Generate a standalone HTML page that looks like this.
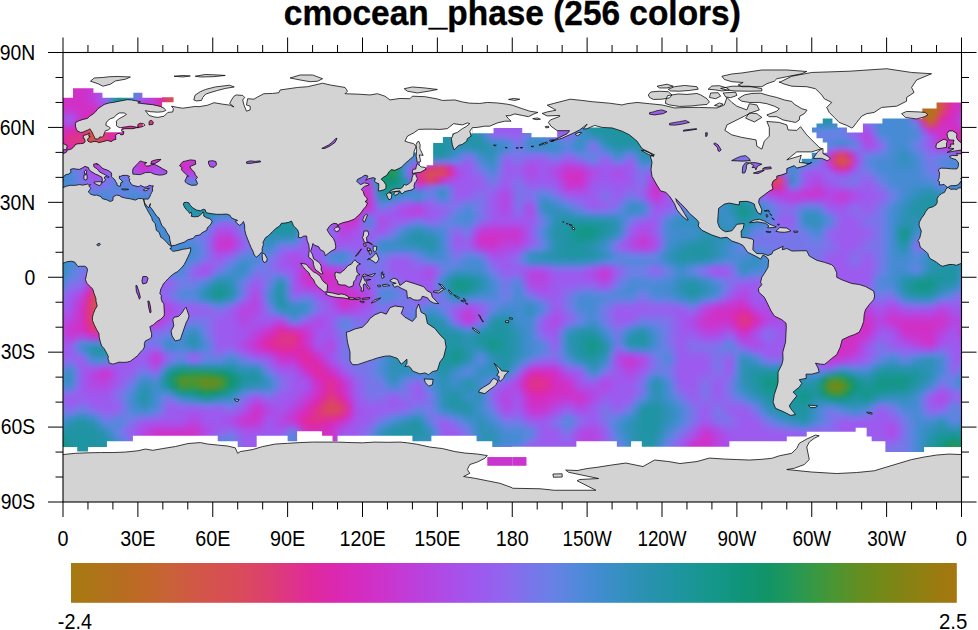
<!DOCTYPE html>
<html><head><meta charset="utf-8"><title>cmocean_phase</title>
<style>
html,body{margin:0;padding:0;background:#fff;width:978px;height:630px;overflow:hidden;position:relative}
#fc{position:absolute;left:63.0px;top:52.5px;width:898.5px;height:449.5px;overflow:hidden}
#fi{position:absolute;left:-24.96px;top:-12.49px;width:948.42px;height:474.47px;filter:blur(2.5px)}
#fi i{position:absolute;left:0;width:100%;height:6.84px;display:block}
svg{position:absolute;left:0;top:0;display:block}
text{font-family:"Liberation Sans",sans-serif;font-size:21.5px;fill:#000}
</style></head><body>
<div id="fc"><div id="fi"><i style="top:0px;background:linear-gradient(90deg,#c16829 0%,#d74f52 0.66%,#df318d 1.32%,#d030c6 1.97%,#d030c6 2.63%,#d030c6 3.29%,#d030c6 3.95%,#d030c6 4.61%,#d030c6 5.26%,#d030c6 5.92%,#cc34cb 6.58%,#c837d0 7.24%,#5e84e1 7.89%,#11957d 8.55%,#1c959b 9.21%,#2e91b6 9.87%,#6383e3 10.53%,#9c5aee 11.18%,#aa4fe9 11.84%,#b743df 12.5%,#de29a6 13.16%,#d74f52 13.82%,#d74f52 14.47%,#d74f52 15.13%,#d74f52 15.79%,#d74f52 16.45%,#d74f52 17.11%,#d74f52 17.76%,#d74f52 18.42%,#d74f52 19.08%,#d74f52 19.74%,#d74f52 20.39%,#de3683 21.05%,#d62bbb 21.71%,#bc40dc 22.37%,#9c5aee 23.03%,#9c5aee 23.68%,#9c5aee 24.34%,#9c5aee 25%,#9c5aee 25.66%,#9c5aee 26.32%,#9c5aee 26.97%,#9c5aee 27.63%,#9c5aee 28.29%,#9c5aee 28.95%,#9c5aee 29.61%,#9c5aee 30.26%,#9c5aee 30.92%,#9c5aee 31.58%,#9c5aee 32.24%,#9c5aee 32.89%,#9c5aee 33.55%,#7478e9 34.21%,#468bd3 34.87%,#2393a7 35.53%,#11957d 36.18%,#1c959b 36.84%,#2e91b6 37.5%,#2e91b6 38.16%,#2e91b6 38.82%,#2693ac 39.47%,#1f94a2 40.13%,#1f94a2 40.79%,#1f94a2 41.45%,#1f94a2 42.11%,#1f94a2 42.76%,#2693ac 43.42%,#2e91b6 44.08%,#2e91b6 44.74%,#2e91b6 45.39%,#2e91b6 46.05%,#2e91b6 46.71%,#6383e3 47.37%,#9c5aee 48.03%,#9c5aee 48.68%,#9c5aee 49.34%,#9c5aee 50%,#9c5aee 50.66%,#9c5aee 51.32%,#9b5bee 51.97%,#9b5bee 52.63%,#9b5bee 53.29%,#9c5aee 53.95%,#9c5aee 54.61%,#9c5aee 55.26%,#9c5aee 55.92%,#7a74ea 56.58%,#5388db 57.24%,#3390bf 57.89%,#1f94a2 58.55%,#1f94a2 59.21%,#1f94a2 59.87%,#1f94a2 60.53%,#1f94a2 61.18%,#5089da 61.84%,#995dee 62.5%,#9b5bee 63.16%,#9c5aee 63.82%,#9c5aee 64.47%,#9c5aee 65.13%,#9c5aee 65.79%,#9c5aee 66.45%,#9c5aee 67.11%,#9c5aee 67.76%,#9c5aee 68.42%,#9c5aee 69.08%,#9c5aee 69.74%,#9c5aee 70.39%,#9c5aee 71.05%,#9c5aee 71.71%,#9c5aee 72.37%,#9c5aee 73.03%,#8e67ee 73.68%,#7776e9 74.34%,#7776e9 75%,#7776e9 75.66%,#3f8dcd 76.32%,#1f94a2 76.97%,#1f94a2 77.63%,#1f94a2 78.29%,#1f94a2 78.95%,#1f94a2 79.61%,#1f94a2 80.26%,#1f94a2 80.92%,#1f94a2 81.58%,#1f94a2 82.24%,#1f94a2 82.89%,#1f94a2 83.55%,#2094a3 84.21%,#2094a4 84.87%,#408cce 85.53%,#7776e9 86.18%,#7776e9 86.84%,#7776e9 87.5%,#5f84e1 88.16%,#468bd3 88.82%,#468bd3 89.47%,#468bd3 90.13%,#468bd3 90.79%,#468bd3 91.45%,#db29b3 92.11%,#ab7715 92.76%,#a87812 93.42%,#a67a10 94.08%,#c16829 94.74%,#d74f52 95.39%,#df318d 96.05%,#d030c6 96.71%,#d030c6 97.37%,#d030c6 98.03%,#d030c6 98.68%,#d030c6 99.34%,#d030c6 100%)"></i><i style="top:6.24px;background:linear-gradient(90deg,#c16829 0%,#d74f52 0.66%,#df318d 1.32%,#d030c6 1.97%,#d030c6 2.63%,#d030c6 3.29%,#d030c6 3.95%,#d030c6 4.61%,#d030c6 5.26%,#d030c6 5.92%,#cc34cb 6.58%,#c837d0 7.24%,#5e84e1 7.89%,#11957d 8.55%,#1c959b 9.21%,#2e91b6 9.87%,#6383e3 10.53%,#9c5aee 11.18%,#aa4fe9 11.84%,#b743df 12.5%,#de29a6 13.16%,#d74f52 13.82%,#d74f52 14.47%,#d74f52 15.13%,#d74f52 15.79%,#d74f52 16.45%,#d74f52 17.11%,#d74f52 17.76%,#d74f52 18.42%,#d74f52 19.08%,#d74f52 19.74%,#d74f52 20.39%,#de3683 21.05%,#d62bbb 21.71%,#bc40dc 22.37%,#9c5aee 23.03%,#9c5aee 23.68%,#9c5aee 24.34%,#9c5aee 25%,#9c5aee 25.66%,#9c5aee 26.32%,#9c5aee 26.97%,#9c5aee 27.63%,#9c5aee 28.29%,#9c5aee 28.95%,#9c5aee 29.61%,#9c5aee 30.26%,#9c5aee 30.92%,#9c5aee 31.58%,#9c5aee 32.24%,#9c5aee 32.89%,#9c5aee 33.55%,#7478e9 34.21%,#468bd3 34.87%,#2393a7 35.53%,#11957d 36.18%,#1c959b 36.84%,#2e91b6 37.5%,#2e91b6 38.16%,#2e91b6 38.82%,#2693ac 39.47%,#1f94a2 40.13%,#1f94a2 40.79%,#1f94a2 41.45%,#1f94a2 42.11%,#1f94a2 42.76%,#2693ac 43.42%,#2e91b6 44.08%,#2e91b6 44.74%,#2e91b6 45.39%,#2e91b6 46.05%,#2e91b6 46.71%,#6383e3 47.37%,#9c5aee 48.03%,#9c5aee 48.68%,#9c5aee 49.34%,#9c5aee 50%,#9c5aee 50.66%,#9c5aee 51.32%,#9b5bee 51.97%,#9b5bee 52.63%,#9b5bee 53.29%,#9c5aee 53.95%,#9c5aee 54.61%,#9c5aee 55.26%,#9c5aee 55.92%,#7a74ea 56.58%,#5388db 57.24%,#3390bf 57.89%,#1f94a2 58.55%,#1f94a2 59.21%,#1f94a2 59.87%,#1f94a2 60.53%,#1f94a2 61.18%,#5089da 61.84%,#995dee 62.5%,#9b5bee 63.16%,#9c5aee 63.82%,#9c5aee 64.47%,#9c5aee 65.13%,#9c5aee 65.79%,#9c5aee 66.45%,#9c5aee 67.11%,#9c5aee 67.76%,#9c5aee 68.42%,#9c5aee 69.08%,#9c5aee 69.74%,#9c5aee 70.39%,#9c5aee 71.05%,#9c5aee 71.71%,#9c5aee 72.37%,#9c5aee 73.03%,#8e67ee 73.68%,#7776e9 74.34%,#7776e9 75%,#7776e9 75.66%,#3f8dcd 76.32%,#1f94a2 76.97%,#1f94a2 77.63%,#1f94a2 78.29%,#1f94a2 78.95%,#1f94a2 79.61%,#1f94a2 80.26%,#1f94a2 80.92%,#1f94a2 81.58%,#1f94a2 82.24%,#1f94a2 82.89%,#1f94a2 83.55%,#2094a3 84.21%,#2094a4 84.87%,#408cce 85.53%,#7776e9 86.18%,#7776e9 86.84%,#7776e9 87.5%,#5f84e1 88.16%,#468bd3 88.82%,#468bd3 89.47%,#468bd3 90.13%,#468bd3 90.79%,#468bd3 91.45%,#db29b3 92.11%,#ab7715 92.76%,#a87812 93.42%,#a67a10 94.08%,#c16829 94.74%,#d74f52 95.39%,#df318d 96.05%,#d030c6 96.71%,#d030c6 97.37%,#d030c6 98.03%,#d030c6 98.68%,#d030c6 99.34%,#d030c6 100%)"></i><i style="top:12.49px;background:linear-gradient(90deg,#c16829 0%,#d74f52 0.66%,#df318d 1.32%,#d030c6 1.97%,#d030c6 2.63%,#d030c6 3.29%,#d030c6 3.95%,#d030c6 4.61%,#d030c6 5.26%,#d030c6 5.92%,#cc34cb 6.58%,#c837d0 7.24%,#5e84e1 7.89%,#11957d 8.55%,#1c959b 9.21%,#2e91b6 9.87%,#6383e3 10.53%,#9c5aee 11.18%,#aa4fe9 11.84%,#b743df 12.5%,#de29a6 13.16%,#d74f52 13.82%,#d74f52 14.47%,#d74f52 15.13%,#d74f52 15.79%,#d74f52 16.45%,#d74f52 17.11%,#d74f52 17.76%,#d74f52 18.42%,#d74f52 19.08%,#d74f52 19.74%,#d74f52 20.39%,#de3683 21.05%,#d62bbb 21.71%,#bc40dc 22.37%,#9c5aee 23.03%,#9c5aee 23.68%,#9c5aee 24.34%,#9c5aee 25%,#9c5aee 25.66%,#9c5aee 26.32%,#9c5aee 26.97%,#9c5aee 27.63%,#9c5aee 28.29%,#9c5aee 28.95%,#9c5aee 29.61%,#9c5aee 30.26%,#9c5aee 30.92%,#9c5aee 31.58%,#9c5aee 32.24%,#9c5aee 32.89%,#9c5aee 33.55%,#7478e9 34.21%,#468bd3 34.87%,#2393a7 35.53%,#11957d 36.18%,#1c959b 36.84%,#2e91b6 37.5%,#2e91b6 38.16%,#2e91b6 38.82%,#2693ac 39.47%,#1f94a2 40.13%,#1f94a2 40.79%,#1f94a2 41.45%,#1f94a2 42.11%,#1f94a2 42.76%,#2693ac 43.42%,#2e91b6 44.08%,#2e91b6 44.74%,#2e91b6 45.39%,#2e91b6 46.05%,#2e91b6 46.71%,#6383e3 47.37%,#9c5aee 48.03%,#9c5aee 48.68%,#9c5aee 49.34%,#9c5aee 50%,#9c5aee 50.66%,#9c5aee 51.32%,#9b5bee 51.97%,#9b5bee 52.63%,#9b5bee 53.29%,#9c5aee 53.95%,#9c5aee 54.61%,#9c5aee 55.26%,#9c5aee 55.92%,#7a74ea 56.58%,#5388db 57.24%,#3390bf 57.89%,#1f94a2 58.55%,#1f94a2 59.21%,#1f94a2 59.87%,#1f94a2 60.53%,#1f94a2 61.18%,#5089da 61.84%,#995dee 62.5%,#9b5bee 63.16%,#9c5aee 63.82%,#9c5aee 64.47%,#9c5aee 65.13%,#9c5aee 65.79%,#9c5aee 66.45%,#9c5aee 67.11%,#9c5aee 67.76%,#9c5aee 68.42%,#9c5aee 69.08%,#9c5aee 69.74%,#9c5aee 70.39%,#9c5aee 71.05%,#9c5aee 71.71%,#9c5aee 72.37%,#9c5aee 73.03%,#8e67ee 73.68%,#7776e9 74.34%,#7776e9 75%,#7776e9 75.66%,#3f8dcd 76.32%,#1f94a2 76.97%,#1f94a2 77.63%,#1f94a2 78.29%,#1f94a2 78.95%,#1f94a2 79.61%,#1f94a2 80.26%,#1f94a2 80.92%,#1f94a2 81.58%,#1f94a2 82.24%,#1f94a2 82.89%,#1f94a2 83.55%,#2094a3 84.21%,#2094a4 84.87%,#408cce 85.53%,#7776e9 86.18%,#7776e9 86.84%,#7776e9 87.5%,#5f84e1 88.16%,#468bd3 88.82%,#468bd3 89.47%,#468bd3 90.13%,#468bd3 90.79%,#468bd3 91.45%,#db29b3 92.11%,#ab7715 92.76%,#a87812 93.42%,#a67a10 94.08%,#c16829 94.74%,#d74f52 95.39%,#df318d 96.05%,#d030c6 96.71%,#d030c6 97.37%,#d030c6 98.03%,#d030c6 98.68%,#d030c6 99.34%,#d030c6 100%)"></i><i style="top:18.73px;background:linear-gradient(90deg,#c16829 0%,#d74f52 0.66%,#df318d 1.32%,#d030c6 1.97%,#d030c6 2.63%,#d030c6 3.29%,#d030c6 3.95%,#d030c6 4.61%,#d030c6 5.26%,#d030c6 5.92%,#cb34cd 6.58%,#c539d3 7.24%,#5c85e0 7.89%,#11957d 8.55%,#1c959b 9.21%,#2e91b6 9.87%,#6383e3 10.53%,#9c5aee 11.18%,#aa4fe9 11.84%,#b743df 12.5%,#de29a6 13.16%,#d74f52 13.82%,#d74f52 14.47%,#d74f52 15.13%,#d74f52 15.79%,#d74f52 16.45%,#d74f52 17.11%,#d74f52 17.76%,#d74f52 18.42%,#d74f52 19.08%,#d74f52 19.74%,#d74f52 20.39%,#de3684 21.05%,#d62bbc 21.71%,#bc40dc 22.37%,#9c5aee 23.03%,#9c5aee 23.68%,#9c5aee 24.34%,#9c5aee 25%,#9c5aee 25.66%,#9c5aee 26.32%,#9c5aee 26.97%,#9c5aee 27.63%,#9c5aee 28.29%,#9c5aee 28.95%,#9c5aee 29.61%,#9c5aee 30.26%,#9c5aee 30.92%,#9c5aee 31.58%,#9c5aee 32.24%,#9c5aee 32.89%,#9c5aee 33.55%,#7478e9 34.21%,#468bd3 34.87%,#2393a7 35.53%,#11957d 36.18%,#1c959b 36.84%,#2e91b6 37.5%,#2e91b6 38.16%,#2e91b6 38.82%,#2693ac 39.47%,#1f94a2 40.13%,#1f94a2 40.79%,#1f94a2 41.45%,#1f94a2 42.11%,#1f94a2 42.76%,#2693ac 43.42%,#2e91b6 44.08%,#2e91b6 44.74%,#2e91b6 45.39%,#2e91b6 46.05%,#2e91b6 46.71%,#6383e3 47.37%,#9c5aee 48.03%,#9c5aee 48.68%,#9c5aee 49.34%,#9c5aee 50%,#9c5aee 50.66%,#9c5aee 51.32%,#9b5bee 51.97%,#9b5bee 52.63%,#9b5bee 53.29%,#9c5aee 53.95%,#9c5aee 54.61%,#9c5aee 55.26%,#9c5aee 55.92%,#7a74ea 56.58%,#5388db 57.24%,#3390bf 57.89%,#1f94a2 58.55%,#1f94a2 59.21%,#1f94a2 59.87%,#1f94a2 60.53%,#1f94a2 61.18%,#5089d9 61.84%,#985eee 62.5%,#9a5cee 63.16%,#9c5aee 63.82%,#9c5aee 64.47%,#9c5aee 65.13%,#9c5aee 65.79%,#9c5aee 66.45%,#9c5aee 67.11%,#9c5aee 67.76%,#9c5aee 68.42%,#9c5aee 69.08%,#9c5aee 69.74%,#9c5aee 70.39%,#9c5aee 71.05%,#9c5aee 71.71%,#9c5aee 72.37%,#9c5aee 73.03%,#8e67ee 73.68%,#7776e9 74.34%,#7776e9 75%,#7776e9 75.66%,#3f8dcd 76.32%,#1f94a2 76.97%,#1f94a2 77.63%,#1f94a2 78.29%,#1f94a2 78.95%,#1f94a2 79.61%,#1f94a2 80.26%,#1f94a2 80.92%,#1f94a2 81.58%,#1f94a2 82.24%,#1f94a2 82.89%,#1f94a2 83.55%,#2094a3 84.21%,#2094a4 84.87%,#418cce 85.53%,#7876e9 86.18%,#7776e9 86.84%,#7776e9 87.5%,#5f84e1 88.16%,#468bd3 88.82%,#468bd3 89.47%,#468bd3 90.13%,#468bd3 90.79%,#468bd3 91.45%,#da29b4 92.11%,#ac7616 92.76%,#a97813 93.42%,#a67a10 94.08%,#c16829 94.74%,#d74f52 95.39%,#df318d 96.05%,#d030c6 96.71%,#d030c6 97.37%,#d030c6 98.03%,#d030c6 98.68%,#d030c6 99.34%,#d030c6 100%)"></i><i style="top:24.97px;background:linear-gradient(90deg,#c16829 0%,#d74f52 0.66%,#df318d 1.32%,#d030c6 1.97%,#d030c6 2.63%,#d030c6 3.29%,#d030c6 3.95%,#d030c6 4.61%,#d030c6 5.26%,#d030c6 5.92%,#c936cf 6.58%,#c03cd8 7.24%,#5787de 7.89%,#11957d 8.55%,#1c959b 9.21%,#2e91b6 9.87%,#6383e3 10.53%,#9c5aee 11.18%,#aa4fe9 11.84%,#b743df 12.5%,#de29a6 13.16%,#d74f52 13.82%,#d74f52 14.47%,#d74f52 15.13%,#d74f52 15.79%,#d74f52 16.45%,#d74f52 17.11%,#d74f52 17.76%,#d74f52 18.42%,#d74f52 19.08%,#d74f52 19.74%,#d74f52 20.39%,#de3685 21.05%,#d62bbd 21.71%,#bb40dc 22.37%,#9c5aee 23.03%,#9c5aee 23.68%,#9c5aee 24.34%,#9c5aee 25%,#9c5aee 25.66%,#9c5aee 26.32%,#9c5aee 26.97%,#9c5aee 27.63%,#9c5aee 28.29%,#9c5aee 28.95%,#9c5aee 29.61%,#9c5aee 30.26%,#9c5aee 30.92%,#9c5aee 31.58%,#9c5aee 32.24%,#9c5aee 32.89%,#9c5aee 33.55%,#7478e9 34.21%,#468bd3 34.87%,#2393a7 35.53%,#11957d 36.18%,#1c959a 36.84%,#2d91b6 37.5%,#2e91b6 38.16%,#2e91b6 38.82%,#2693ac 39.47%,#1f94a2 40.13%,#1f94a2 40.79%,#1f94a2 41.45%,#1f94a2 42.11%,#1f94a2 42.76%,#2693ac 43.42%,#2e91b6 44.08%,#2e91b6 44.74%,#2e91b6 45.39%,#2e91b6 46.05%,#2e91b6 46.71%,#6383e3 47.37%,#9c5aee 48.03%,#9c5aee 48.68%,#9c5aee 49.34%,#9c5aee 50%,#9c5aee 50.66%,#9b5bee 51.32%,#9b5bee 51.97%,#9b5bee 52.63%,#9b5bee 53.29%,#9b5bee 53.95%,#9c5aee 54.61%,#9c5aee 55.26%,#9c5aee 55.92%,#7a74ea 56.58%,#5388db 57.24%,#3390be 57.89%,#1f94a2 58.55%,#1f94a2 59.21%,#1f94a2 59.87%,#1f94a2 60.53%,#1f94a2 61.18%,#4f89d8 61.84%,#975fee 62.5%,#995dee 63.16%,#9c5aee 63.82%,#9c5aee 64.47%,#9c5aee 65.13%,#9c5aee 65.79%,#9c5aee 66.45%,#9c5aee 67.11%,#9c5aee 67.76%,#9c5aee 68.42%,#9c5aee 69.08%,#9c5aee 69.74%,#9c5aee 70.39%,#9c5aee 71.05%,#9c5aee 71.71%,#9c5aee 72.37%,#9c5aee 73.03%,#8e67ee 73.68%,#7776e9 74.34%,#7776e9 75%,#7776e9 75.66%,#3f8dcd 76.32%,#1f94a2 76.97%,#1f94a2 77.63%,#1f94a2 78.29%,#1f94a2 78.95%,#1f94a2 79.61%,#1f94a2 80.26%,#1f94a2 80.92%,#1f94a2 81.58%,#1f94a2 82.24%,#1f94a2 82.89%,#1f94a2 83.55%,#2094a4 84.21%,#2094a5 84.87%,#418ccf 85.53%,#7876e9 86.18%,#7776e9 86.84%,#7776e9 87.5%,#5f84e1 88.16%,#468bd3 88.82%,#468bd3 89.47%,#468bd3 90.13%,#468bd3 90.79%,#468bd3 91.45%,#d92ab6 92.11%,#ae7418 92.76%,#aa7714 93.42%,#a67a10 94.08%,#c16829 94.74%,#d74f52 95.39%,#df318d 96.05%,#d030c6 96.71%,#d030c6 97.37%,#d030c6 98.03%,#d030c6 98.68%,#d030c6 99.34%,#d030c6 100%)"></i><i style="top:31.22px;background:linear-gradient(90deg,#c16829 0%,#d74f52 0.66%,#df318d 1.32%,#d030c6 1.97%,#d030c6 2.63%,#d030c6 3.29%,#d030c6 3.95%,#d030c6 4.61%,#d030c6 5.26%,#d030c6 5.92%,#c539d3 6.58%,#b942de 7.24%,#5189da 7.89%,#11957d 8.55%,#1c959b 9.21%,#2e91b6 9.87%,#6383e3 10.53%,#9c5aee 11.18%,#aa4fe9 11.84%,#b743df 12.5%,#de29a6 13.16%,#d74f52 13.82%,#d74f52 14.47%,#d74f52 15.13%,#d74f52 15.79%,#d74f52 16.45%,#d74f52 17.11%,#d74f52 17.76%,#d74f52 18.42%,#d74f52 19.08%,#d74f52 19.74%,#d74f52 20.39%,#de3586 21.05%,#d52cbf 21.71%,#ba41dd 22.37%,#9c5aee 23.03%,#9c5aee 23.68%,#9c5aee 24.34%,#9c5aee 25%,#9c5aee 25.66%,#9c5aee 26.32%,#9c5aee 26.97%,#9c5aee 27.63%,#9c5aee 28.29%,#9c5aee 28.95%,#9c5aee 29.61%,#9c5aee 30.26%,#9c5aee 30.92%,#9c5aee 31.58%,#9c5aee 32.24%,#9c5aee 32.89%,#9c5aee 33.55%,#7478e9 34.21%,#468bd3 34.87%,#2393a7 35.53%,#11957d 36.18%,#1c959a 36.84%,#2d91b5 37.5%,#2e91b6 38.16%,#2e91b6 38.82%,#2693ac 39.47%,#1f94a2 40.13%,#1f94a2 40.79%,#1f94a2 41.45%,#1f94a2 42.11%,#1f94a2 42.76%,#2693ac 43.42%,#2e91b6 44.08%,#2e91b6 44.74%,#2d91b5 45.39%,#2e91b6 46.05%,#2e91b6 46.71%,#6383e3 47.37%,#9c5aee 48.03%,#9c5aee 48.68%,#9c5aee 49.34%,#9c5aee 50%,#9c5aee 50.66%,#9b5bee 51.32%,#9b5bee 51.97%,#9b5bee 52.63%,#9b5bee 53.29%,#9b5bee 53.95%,#9c5aee 54.61%,#9c5aee 55.26%,#9c5aee 55.92%,#7a74ea 56.58%,#5388db 57.24%,#3390be 57.89%,#1f94a2 58.55%,#1f94a2 59.21%,#1f94a2 59.87%,#1f94a2 60.53%,#1f94a2 61.18%,#4d8ad7 61.84%,#9561ee 62.5%,#985eee 63.16%,#9c5aee 63.82%,#9c5aee 64.47%,#9c5aee 65.13%,#9c5aee 65.79%,#9c5aee 66.45%,#9c5aee 67.11%,#9c5aee 67.76%,#9c5aee 68.42%,#9c5aee 69.08%,#9c5aee 69.74%,#9c5aee 70.39%,#9c5aee 71.05%,#9c5aee 71.71%,#9c5aee 72.37%,#9c5aee 73.03%,#8e67ee 73.68%,#7776e9 74.34%,#7776e9 75%,#7776e9 75.66%,#3f8dcd 76.32%,#1f94a2 76.97%,#1f94a2 77.63%,#1f94a2 78.29%,#1f94a2 78.95%,#1f94a2 79.61%,#1f94a2 80.26%,#1f94a2 80.92%,#1f94a2 81.58%,#1f94a2 82.24%,#1f94a2 82.89%,#1f94a2 83.55%,#2094a4 84.21%,#2194a5 84.87%,#428cd0 85.53%,#7875ea 86.18%,#7876e9 86.84%,#7776e9 87.5%,#5f84e1 88.16%,#468bd3 88.82%,#468bd3 89.47%,#468bd3 90.13%,#468bd3 90.79%,#468bd3 91.45%,#d72aba 92.11%,#b2711c 92.76%,#ac7616 93.42%,#a67a10 94.08%,#c16829 94.74%,#d74f52 95.39%,#df318d 96.05%,#d030c6 96.71%,#d030c6 97.37%,#d030c6 98.03%,#d030c6 98.68%,#d030c6 99.34%,#d030c6 100%)"></i><i style="top:37.46px;background:linear-gradient(90deg,#c16829 0%,#d74f52 0.66%,#df318d 1.32%,#d030c6 1.97%,#d030c6 2.63%,#d030c6 3.29%,#d030c6 3.95%,#d030c6 4.61%,#d030c6 5.26%,#d030c6 5.92%,#c03cd8 6.58%,#af4ae5 7.24%,#498ad5 7.89%,#11957d 8.55%,#1c959b 9.21%,#2e91b6 9.87%,#6383e3 10.53%,#9c5aee 11.18%,#aa4fe9 11.84%,#b743df 12.5%,#de29a6 13.16%,#d74f52 13.82%,#d74f52 14.47%,#d74f52 15.13%,#d74f52 15.79%,#d74f52 16.45%,#d74f52 17.11%,#d74f52 17.76%,#d74f52 18.42%,#d74f52 19.08%,#d74f52 19.74%,#d74f52 20.39%,#de3489 21.05%,#d32dc2 21.71%,#b942de 22.37%,#9c5aee 23.03%,#9c5aee 23.68%,#9c5aee 24.34%,#9c5aee 25%,#9c5aee 25.66%,#9c5aee 26.32%,#9c5aee 26.97%,#9c5aee 27.63%,#9c5aee 28.29%,#9c5aee 28.95%,#9c5aee 29.61%,#9c5aee 30.26%,#9c5aee 30.92%,#9c5aee 31.58%,#9c5aee 32.24%,#9c5aee 32.89%,#9c5aee 33.55%,#7478e9 34.21%,#468bd3 34.87%,#2393a7 35.53%,#11957d 36.18%,#1c959a 36.84%,#2d91b5 37.5%,#2d91b6 38.16%,#2e91b6 38.82%,#2693ac 39.47%,#1f94a2 40.13%,#1f94a2 40.79%,#1f94a2 41.45%,#1f94a2 42.11%,#1f94a2 42.76%,#2693ac 43.42%,#2e91b6 44.08%,#2e91b6 44.74%,#2d91b5 45.39%,#2e91b6 46.05%,#2e91b6 46.71%,#6383e3 47.37%,#9c5aee 48.03%,#9c5aee 48.68%,#9c5aee 49.34%,#9c5aee 50%,#9c5aee 50.66%,#9b5bee 51.32%,#9a5cee 51.97%,#9a5cee 52.63%,#9a5cee 53.29%,#9b5bee 53.95%,#9c5aee 54.61%,#9c5aee 55.26%,#9c5aee 55.92%,#7a74ea 56.58%,#5388db 57.24%,#3390be 57.89%,#1f94a2 58.55%,#1f94a2 59.21%,#1f94a2 59.87%,#1f94a2 60.53%,#1f94a2 61.18%,#4b8ad6 61.84%,#9264ee 62.5%,#975fee 63.16%,#9c5aee 63.82%,#9c5aee 64.47%,#9c5aee 65.13%,#9c5aee 65.79%,#9c5aee 66.45%,#9c5aee 67.11%,#9c5aee 67.76%,#9c5aee 68.42%,#9c5aee 69.08%,#9c5aee 69.74%,#9c5aee 70.39%,#9c5aee 71.05%,#9c5aee 71.71%,#9c5aee 72.37%,#9c5aee 73.03%,#8e67ee 73.68%,#7776e9 74.34%,#7776e9 75%,#7776e9 75.66%,#408dcd 76.32%,#1f94a2 76.97%,#1f94a2 77.63%,#1f94a2 78.29%,#1f94a2 78.95%,#1f94a2 79.61%,#1f94a2 80.26%,#1f94a2 80.92%,#1f94a2 81.58%,#1f94a2 82.24%,#1f94a2 82.89%,#1f94a2 83.55%,#2094a5 84.21%,#2294a7 84.87%,#438cd0 85.53%,#7975ea 86.18%,#7876e9 86.84%,#7776e9 87.5%,#5f84e1 88.16%,#468bd3 88.82%,#468bd3 89.47%,#468bd3 90.13%,#468bd3 90.79%,#468bd3 91.45%,#d52cbf 92.11%,#b76e21 92.76%,#ae7418 93.42%,#a67a10 94.08%,#c16829 94.74%,#d74f52 95.39%,#df318d 96.05%,#d030c6 96.71%,#d030c6 97.37%,#d030c6 98.03%,#d030c6 98.68%,#d030c6 99.34%,#d030c6 100%)"></i><i style="top:43.7px;background:linear-gradient(90deg,#c16829 0%,#d74f52 0.66%,#df318d 1.32%,#d030c6 1.97%,#d030c6 2.63%,#d030c6 3.29%,#d030c6 3.95%,#d030c6 4.61%,#ce32ca 5.26%,#cb35cd 5.92%,#b645e1 6.58%,#a057ed 7.24%,#3f8dcd 7.89%,#11957d 8.55%,#1c959b 9.21%,#2e91b6 9.87%,#6383e3 10.53%,#9c5aee 11.18%,#aa4fe9 11.84%,#b743df 12.5%,#de29a6 13.16%,#d74f52 13.82%,#d74f52 14.47%,#d74f52 15.13%,#d74f52 15.79%,#d74f52 16.45%,#d74f52 17.11%,#d74f52 17.76%,#d74f52 18.42%,#d74f52 19.08%,#d74f52 19.74%,#d74f52 20.39%,#df318e 21.05%,#d030c6 21.71%,#b744e0 22.37%,#9c5aee 23.03%,#9c5aee 23.68%,#9c5aee 24.34%,#9c5aee 25%,#9c5aee 25.66%,#9c5aee 26.32%,#9c5aee 26.97%,#9c5aee 27.63%,#9c5aee 28.29%,#9c5aee 28.95%,#9c5aee 29.61%,#9c5aee 30.26%,#9c5aee 30.92%,#9c5aee 31.58%,#9c5aee 32.24%,#9c5aee 32.89%,#9c5aee 33.55%,#7478e9 34.21%,#468bd3 34.87%,#2393a7 35.53%,#11957d 36.18%,#1c959a 36.84%,#2d91b5 37.5%,#2d91b5 38.16%,#2e91b6 38.82%,#2693ac 39.47%,#1f94a2 40.13%,#1f94a2 40.79%,#1f94a2 41.45%,#1f94a2 42.11%,#1f94a2 42.76%,#2693ac 43.42%,#2e91b6 44.08%,#2d91b5 44.74%,#2d91b5 45.39%,#2d91b5 46.05%,#2e91b6 46.71%,#6383e3 47.37%,#9c5aee 48.03%,#9c5aee 48.68%,#9c5aee 49.34%,#9c5aee 50%,#9c5aee 50.66%,#9b5bee 51.32%,#995dee 51.97%,#995dee 52.63%,#995dee 53.29%,#9b5bee 53.95%,#9c5aee 54.61%,#9c5aee 55.26%,#9c5aee 55.92%,#7a74ea 56.58%,#5288db 57.24%,#3390be 57.89%,#1f94a2 58.55%,#1f94a2 59.21%,#1f94a2 59.87%,#1f94a2 60.53%,#1f94a2 61.18%,#478bd4 61.84%,#8b69ed 62.5%,#9561ee 63.16%,#9c5aee 63.82%,#9c5aee 64.47%,#9c5aee 65.13%,#9c5aee 65.79%,#9c5aee 66.45%,#9c5aee 67.11%,#9c5aee 67.76%,#9c5aee 68.42%,#9c5aee 69.08%,#9c5aee 69.74%,#9c5aee 70.39%,#9c5aee 71.05%,#9c5aee 71.71%,#9c5aee 72.37%,#9c5aee 73.03%,#8e67ee 73.68%,#7776e9 74.34%,#7776e9 75%,#7776e9 75.66%,#408dcd 76.32%,#1f94a2 76.97%,#1f94a2 77.63%,#1f94a2 78.29%,#1f94a2 78.95%,#1f94a2 79.61%,#1f94a2 80.26%,#1f94a2 80.92%,#1f94a2 81.58%,#1f94a2 82.24%,#1f94a2 82.89%,#1f94a2 83.55%,#2194a5 84.21%,#2393a8 84.87%,#448bd2 85.53%,#7a74ea 86.18%,#7875ea 86.84%,#7776e9 87.5%,#5f84e1 88.16%,#468bd3 88.82%,#468bd3 89.47%,#468bd3 90.13%,#468bd3 90.79%,#468bd3 91.45%,#d12fc4 92.11%,#bf6828 92.76%,#b2711c 93.42%,#a67a10 94.08%,#c16829 94.74%,#d74f52 95.39%,#df318d 96.05%,#d030c6 96.71%,#d030c6 97.37%,#d030c6 98.03%,#d030c6 98.68%,#d030c6 99.34%,#ce32ca 100%)"></i><i style="top:49.94px;background:linear-gradient(90deg,#c16829 0%,#d74f52 0.66%,#df318d 1.32%,#d030c6 1.97%,#d030c6 2.63%,#d030c6 3.29%,#d030c6 3.95%,#d030c6 4.61%,#c837d0 5.26%,#be3eda 5.92%,#a553eb 6.58%,#886bed 7.24%,#3390bf 7.89%,#11957d 8.55%,#1c959b 9.21%,#2e91b6 9.87%,#6383e3 10.53%,#9c5aee 11.18%,#aa4fe9 11.84%,#b743df 12.5%,#de29a6 13.16%,#d74f52 13.82%,#d74f52 14.47%,#d74f52 15.13%,#d74f52 15.79%,#d74f52 16.45%,#d74f52 17.11%,#d74f52 17.76%,#d74f52 18.42%,#d74f52 19.08%,#d74f52 19.74%,#d74f52 20.39%,#df2e95 21.05%,#ca35ce 21.71%,#b346e2 22.37%,#9c5aee 23.03%,#9c5aee 23.68%,#9c5aee 24.34%,#9c5aee 25%,#9c5aee 25.66%,#9c5aee 26.32%,#9c5aee 26.97%,#9c5aee 27.63%,#9c5aee 28.29%,#9c5aee 28.95%,#9c5aee 29.61%,#9c5aee 30.26%,#9c5aee 30.92%,#9c5aee 31.58%,#9c5aee 32.24%,#9c5aee 32.89%,#9c5aee 33.55%,#7478e9 34.21%,#468bd3 34.87%,#2393a7 35.53%,#11957d 36.18%,#1c959a 36.84%,#2d91b4 37.5%,#2d91b5 38.16%,#2e91b6 38.82%,#2693ac 39.47%,#1f94a2 40.13%,#1f94a2 40.79%,#1f94a2 41.45%,#1f94a2 42.11%,#1f94a2 42.76%,#2693ac 43.42%,#2e91b6 44.08%,#2d91b5 44.74%,#2d91b5 45.39%,#2d91b5 46.05%,#2e91b6 46.71%,#6383e3 47.37%,#9c5aee 48.03%,#9c5aee 48.68%,#9c5aee 49.34%,#9c5aee 50%,#9c5aee 50.66%,#9a5cee 51.32%,#985eee 51.97%,#985eee 52.63%,#985eee 53.29%,#9a5cee 53.95%,#9c5aee 54.61%,#9c5aee 55.26%,#9c5aee 55.92%,#7a74ea 56.58%,#5288db 57.24%,#3390be 57.89%,#1f94a2 58.55%,#1f94a2 59.21%,#1f94a2 59.87%,#1f94a2 60.53%,#1f94a2 61.18%,#438cd1 61.84%,#8070eb 62.5%,#9264ee 63.16%,#9c5aee 63.82%,#9c5aee 64.47%,#9c5aee 65.13%,#9c5aee 65.79%,#9c5aee 66.45%,#9c5aee 67.11%,#9c5aee 67.76%,#9c5aee 68.42%,#9c5aee 69.08%,#9c5aee 69.74%,#9c5aee 70.39%,#9c5aee 71.05%,#9c5aee 71.71%,#9c5aee 72.37%,#9c5aee 73.03%,#8e67ee 73.68%,#7776e9 74.34%,#7776e9 75%,#7776e9 75.66%,#408dcd 76.32%,#1f94a2 76.97%,#1f94a2 77.63%,#1f94a2 78.29%,#1f94a2 78.95%,#1f94a2 79.61%,#1f94a2 80.26%,#1f94a2 80.92%,#1f94a2 81.58%,#1f94a2 82.24%,#1f94a2 82.89%,#1f94a2 83.55%,#2294a7 84.21%,#2593aa 84.87%,#478bd3 85.53%,#7b73ea 86.18%,#7975ea 86.84%,#7776e9 87.5%,#5f84e1 88.16%,#468bd3 88.82%,#468bd3 89.47%,#468bd3 90.13%,#468bd3 90.79%,#468bd3 91.45%,#cc34cc 92.11%,#c9613a 92.76%,#b76e21 93.42%,#a67a10 94.08%,#c16829 94.74%,#d74f52 95.39%,#df318d 96.05%,#d030c6 96.71%,#d030c6 97.37%,#d030c6 98.03%,#d030c6 98.68%,#d030c6 99.34%,#c837d0 100%)"></i><i style="top:56.19px;background:linear-gradient(90deg,#c06829 0%,#d74f52 0.66%,#df318d 1.32%,#d030c6 1.97%,#d030c6 2.63%,#d030c6 3.29%,#d030c6 3.95%,#d030c6 4.61%,#c837d0 5.26%,#be3eda 5.92%,#a553eb 6.58%,#886bed 7.24%,#3390bf 7.89%,#11957d 8.55%,#2294a7 9.21%,#458bd2 9.87%,#7d72eb 10.53%,#a850ea 11.18%,#b446e2 11.84%,#bf3cd8 12.5%,#df2a9f 13.16%,#d74f52 13.82%,#d74f52 14.47%,#d74f52 15.13%,#d74f52 15.79%,#d74f52 16.45%,#d84d57 17.11%,#da4a5c 17.76%,#da485f 18.42%,#db4762 19.08%,#db4566 19.74%,#dc426a 20.39%,#db29b2 21.05%,#bc3fdb 21.71%,#ac4ce7 22.37%,#9c5aee 23.03%,#9c5aee 23.68%,#9c5aee 24.34%,#9c5aee 25%,#9c5aee 25.66%,#9c5aee 26.32%,#9c5aee 26.97%,#9c5aee 27.63%,#9c5aee 28.29%,#9c5aee 28.95%,#9c5aee 29.61%,#9c5aee 30.26%,#9c5aee 30.92%,#9c5aee 31.58%,#9c5aee 32.24%,#9c5aee 32.89%,#9c5aee 33.55%,#7478e9 34.21%,#468bd3 34.87%,#2393a7 35.53%,#11957d 36.18%,#1c959a 36.84%,#2c92b3 37.5%,#2d91b5 38.16%,#2e91b6 38.82%,#2693ac 39.47%,#1f94a2 40.13%,#1f94a2 40.79%,#1f94a2 41.45%,#1f94a2 42.11%,#1f94a2 42.76%,#2693ac 43.42%,#2e91b6 44.08%,#2d91b5 44.74%,#2d91b4 45.39%,#2d91b5 46.05%,#2e91b6 46.71%,#6383e3 47.37%,#9c5aee 48.03%,#9c5aee 48.68%,#9c5aee 49.34%,#9c5aee 50%,#9c5aee 50.66%,#995dee 51.32%,#9660ee 51.97%,#9660ee 52.63%,#9660ee 53.29%,#995dee 53.95%,#9c5aee 54.61%,#9c5aee 55.26%,#9c5aee 55.92%,#7a74ea 56.58%,#5288db 57.24%,#3390be 57.89%,#1f94a2 58.55%,#1f94a2 59.21%,#1f94a2 59.87%,#1f94a2 60.53%,#1f94a2 61.18%,#3d8dcb 61.84%,#727ae8 62.5%,#8b69ed 63.16%,#9c5aee 63.82%,#9c5aee 64.47%,#9c5aee 65.13%,#9c5aee 65.79%,#9c5aee 66.45%,#9c5aee 67.11%,#9c5aee 67.76%,#9c5aee 68.42%,#9c5aee 69.08%,#9c5aee 69.74%,#9c5aee 70.39%,#9c5aee 71.05%,#9c5aee 71.71%,#9c5aee 72.37%,#9c5aee 73.03%,#8e67ee 73.68%,#7776e9 74.34%,#7776e9 75%,#7876e9 75.66%,#408dcd 76.32%,#1f94a2 76.97%,#1f94a2 77.63%,#1f94a2 78.29%,#1f94a2 78.95%,#1f94a2 79.61%,#1f94a2 80.26%,#1f94a2 80.92%,#1f94a2 81.58%,#1f94a2 82.24%,#1f94a2 82.89%,#1f94a2 83.55%,#2393a8 84.21%,#2892ae 84.87%,#4a8ad5 85.53%,#7e72eb 86.18%,#7a74ea 86.84%,#7776e9 87.5%,#5f84e1 88.16%,#468bd3 88.82%,#468bd3 89.47%,#468bd3 90.13%,#468bd3 90.79%,#468bd3 91.45%,#c23bd6 92.11%,#d5514e 92.76%,#bf6927 93.42%,#a67a10 94.08%,#c06829 94.74%,#d74f52 95.39%,#df318d 96.05%,#d030c6 96.71%,#d030c6 97.37%,#d030c6 98.03%,#d030c6 98.68%,#d030c6 99.34%,#c837d0 100%)"></i><i style="top:62.43px;background:linear-gradient(90deg,#be6926 0%,#d65050 0.66%,#df318d 1.32%,#d030c6 1.97%,#d030c6 2.63%,#d030c6 3.29%,#d030c6 3.95%,#d030c6 4.61%,#ce32ca 5.26%,#cb35cd 5.92%,#b645e1 6.58%,#a057ed 7.24%,#3f8dcd 7.89%,#11957d 8.55%,#3590c1 9.21%,#8d68ed 9.87%,#a751ea 10.53%,#bf3dd9 11.18%,#c737d1 11.84%,#cf31c8 12.5%,#df308f 13.16%,#d74f52 13.82%,#d74f52 14.47%,#d74f52 15.13%,#d74f52 15.79%,#d74f52 16.45%,#db4564 17.11%,#de3782 17.76%,#df318e 18.42%,#e02c99 19.08%,#de29a7 19.74%,#da29b3 20.39%,#c439d4 21.05%,#a751ea 21.71%,#a155ec 22.37%,#9c5aee 23.03%,#9c5aee 23.68%,#9c5aee 24.34%,#9c5aee 25%,#9c5aee 25.66%,#9c5aee 26.32%,#9c5aee 26.97%,#9c5aee 27.63%,#9c5aee 28.29%,#9c5aee 28.95%,#9c5aee 29.61%,#9c5aee 30.26%,#9c5aee 30.92%,#9c5aee 31.58%,#9c5aee 32.24%,#9c5aee 32.89%,#9c5aee 33.55%,#7478e9 34.21%,#468bd3 34.87%,#2393a7 35.53%,#11957d 36.18%,#1b9699 36.84%,#2c92b3 37.5%,#2d91b4 38.16%,#2e91b6 38.82%,#2693ac 39.47%,#1f94a2 40.13%,#1f94a2 40.79%,#1f94a2 41.45%,#1f94a2 42.11%,#1f94a2 42.76%,#2693ac 43.42%,#2e91b6 44.08%,#2d91b5 44.74%,#2c92b3 45.39%,#2d91b5 46.05%,#2e91b6 46.71%,#6383e3 47.37%,#9c5aee 48.03%,#9c5aee 48.68%,#9c5aee 49.34%,#9c5aee 50%,#9c5aee 50.66%,#985eee 51.32%,#9462ee 51.97%,#9462ee 52.63%,#9462ee 53.29%,#985eee 53.95%,#9c5aee 54.61%,#9c5aee 55.26%,#9c5aee 55.92%,#7a74ea 56.58%,#5189da 57.24%,#3390be 57.89%,#1f94a2 58.55%,#1f94a2 59.21%,#1f94a2 59.87%,#1f94a2 60.53%,#1f94a2 61.18%,#368fc3 61.84%,#5d85e0 62.5%,#8070eb 63.16%,#9c5aee 63.82%,#9c5aee 64.47%,#9c5aee 65.13%,#9c5aee 65.79%,#9c5aee 66.45%,#9c5aee 67.11%,#9c5aee 67.76%,#9c5aee 68.42%,#9c5aee 69.08%,#9c5aee 69.74%,#9c5aee 70.39%,#9c5aee 71.05%,#9c5aee 71.71%,#9c5aee 72.37%,#9c5aee 73.03%,#8e67ee 73.68%,#7776e9 74.34%,#7776e9 75%,#7876e9 75.66%,#408dce 76.32%,#1f94a2 76.97%,#1f94a2 77.63%,#1f94a2 78.29%,#1f94a2 78.95%,#1f94a2 79.61%,#1f94a2 80.26%,#1f94a2 80.92%,#1f94a2 81.58%,#1f94a2 82.24%,#1f94a2 82.89%,#1f94a2 83.55%,#2593aa 84.21%,#2c92b3 84.87%,#4f89d8 85.53%,#8170eb 86.18%,#7b73ea 86.84%,#7776e9 87.5%,#5f84e1 88.16%,#468bd3 88.82%,#468bd3 89.47%,#468bd3 90.13%,#468bd3 90.79%,#468bd3 91.45%,#b545e1 92.11%,#db4565 92.76%,#c1672a 93.42%,#a87912 94.08%,#be6926 94.74%,#d65050 95.39%,#df318d 96.05%,#d030c6 96.71%,#d030c6 97.37%,#d030c6 98.03%,#d030c6 98.68%,#d030c6 99.34%,#ce32ca 100%)"></i><i style="top:68.67px;background:linear-gradient(90deg,#be6926 0%,#db4762 0.66%,#df2a9f 1.32%,#d030c6 1.97%,#c837d0 2.63%,#be3eda 3.29%,#c837d0 3.95%,#d030c6 4.61%,#d32dc2 5.26%,#d52bbd 5.92%,#cc34cc 6.58%,#be3eda 7.24%,#7f71eb 7.89%,#2f91b8 8.55%,#7b74ea 9.21%,#b942de 9.87%,#c837d0 10.53%,#d32dc2 11.18%,#d62bbb 11.84%,#da29b5 12.5%,#de3487 13.16%,#d94b5a 13.82%,#d94b5a 14.47%,#d94b5a 15.13%,#d94b5a 15.79%,#d94b5a 16.45%,#de328c 17.11%,#d72bba 17.76%,#d32dc1 18.42%,#d030c6 19.08%,#ca36ce 19.74%,#c13bd7 20.39%,#af4ae5 21.05%,#9c5aee 21.71%,#9c5aee 22.37%,#9c5aee 23.03%,#9c5aee 23.68%,#9c5aee 24.34%,#9c5aee 25%,#9c5aee 25.66%,#9c5aee 26.32%,#9c5aee 26.97%,#9c5aee 27.63%,#9c5aee 28.29%,#9c5aee 28.95%,#9c5aee 29.61%,#9c5aee 30.26%,#9c5aee 30.92%,#9c5aee 31.58%,#9c5aee 32.24%,#9c5aee 32.89%,#9c5aee 33.55%,#7478e9 34.21%,#468bd3 34.87%,#2393a7 35.53%,#11957d 36.18%,#1b9699 36.84%,#2b92b1 37.5%,#2c92b3 38.16%,#2e91b6 38.82%,#2693ac 39.47%,#1f94a2 40.13%,#1f94a2 40.79%,#1f94a2 41.45%,#1f94a2 42.11%,#1f94a2 42.76%,#2693ac 43.42%,#2e91b6 44.08%,#2d91b4 44.74%,#2b92b2 45.39%,#2d91b4 46.05%,#2e91b6 46.71%,#6383e3 47.37%,#9c5aee 48.03%,#9c5aee 48.68%,#9c5aee 49.34%,#9c5aee 50%,#9c5aee 50.66%,#9660ee 51.32%,#9066ee 51.97%,#9066ee 52.63%,#9066ee 53.29%,#9660ee 53.95%,#9c5aee 54.61%,#9c5aee 55.26%,#9c5aee 55.92%,#7975ea 56.58%,#5089d9 57.24%,#3290bd 57.89%,#1f94a2 58.55%,#1f94a2 59.21%,#1f94a2 59.87%,#1f94a2 60.53%,#1f94a2 61.18%,#2e91b6 61.84%,#418ccf 62.5%,#727ae8 63.16%,#9c5aee 63.82%,#9c5aee 64.47%,#9c5aee 65.13%,#9c5aee 65.79%,#9c5aee 66.45%,#9c5aee 67.11%,#9c5aee 67.76%,#9c5aee 68.42%,#9c5aee 69.08%,#9c5aee 69.74%,#9c5aee 70.39%,#9c5aee 71.05%,#9c5aee 71.71%,#9c5aee 72.37%,#9c5aee 73.03%,#8e67ee 73.68%,#7776e9 74.34%,#7876e9 75%,#7875ea 75.66%,#408dce 76.32%,#1f94a2 76.97%,#1f94a2 77.63%,#1f94a2 78.29%,#1f94a2 78.95%,#1f94a2 79.61%,#1f94a2 80.26%,#1f94a2 80.92%,#1f94a2 81.58%,#1f94a2 82.24%,#1f94a2 82.89%,#1f94a2 83.55%,#2892ae 84.21%,#3191bb 84.87%,#5687dd 85.53%,#856dec 86.18%,#7e72eb 86.84%,#7776e9 87.5%,#5f84e1 88.16%,#468bd3 88.82%,#468bd3 89.47%,#468bd3 90.13%,#468bd3 90.79%,#478bd3 91.45%,#a454eb 92.11%,#de3389 92.76%,#b66e20 93.42%,#ab7615 94.08%,#be6926 94.74%,#db4762 95.39%,#df2a9f 96.05%,#d030c6 96.71%,#c837d0 97.37%,#be3eda 98.03%,#c837d0 98.68%,#d030c6 99.34%,#d32dc2 100%)"></i><i style="top:74.92px;background:linear-gradient(90deg,#cc5c3f 0%,#dd29aa 0.66%,#d62bbc 1.32%,#d030c6 1.97%,#b446e2 2.63%,#9660ee 3.29%,#b446e2 3.95%,#d030c6 4.61%,#d82ab8 5.26%,#de29a5 5.92%,#dd29a9 6.58%,#dc28ae 7.24%,#cc34cc 7.89%,#b446e2 8.55%,#cc34cc 9.21%,#dc28b0 9.87%,#de29a8 10.53%,#df2aa0 11.18%,#e02a9d 11.84%,#e02b9a 12.5%,#de3488 13.16%,#dd3c76 13.82%,#dd3c76 14.47%,#dd3c76 15.13%,#dd3c76 15.79%,#dd3c76 16.45%,#d52bbe 17.11%,#b248e4 17.76%,#b049e5 18.42%,#ae4be6 19.08%,#ab4de8 19.74%,#a94fea 20.39%,#a255ec 21.05%,#9c5aee 21.71%,#9c5aee 22.37%,#9c5aee 23.03%,#9c5aee 23.68%,#9c5aee 24.34%,#9c5aee 25%,#9c5aee 25.66%,#9c5aee 26.32%,#9c5aee 26.97%,#9c5aee 27.63%,#9c5aee 28.29%,#9c5aee 28.95%,#9c5aee 29.61%,#9c5aee 30.26%,#9c5aee 30.92%,#9c5aee 31.58%,#9c5aee 32.24%,#9c5aee 32.89%,#9c5aee 33.55%,#7478e9 34.21%,#468bd3 34.87%,#2393a7 35.53%,#11957d 36.18%,#1b9698 36.84%,#2992af 37.5%,#2c92b3 38.16%,#2e91b6 38.82%,#2693ac 39.47%,#1f94a2 40.13%,#1f94a2 40.79%,#1f94a2 41.45%,#1f94a2 42.11%,#1f94a2 42.76%,#2693ac 43.42%,#2e91b6 44.08%,#2c92b3 44.74%,#2a92b1 45.39%,#2c92b3 46.05%,#2e91b6 46.71%,#6383e3 47.37%,#9c5aee 48.03%,#9c5aee 48.68%,#9c5aee 49.34%,#9c5aee 50%,#9c5aee 50.66%,#9462ee 51.32%,#876cec 51.97%,#876cec 52.63%,#876cec 53.29%,#9462ee 53.95%,#9c5aee 54.61%,#9c5aee 55.26%,#9c5aee 55.92%,#7875ea 56.58%,#4e89d8 57.24%,#3290bd 57.89%,#1f94a2 58.55%,#1f94a2 59.21%,#1f94a2 59.87%,#1f94a2 60.53%,#1f94a2 61.18%,#2493a9 61.84%,#2992af 62.5%,#5d85e0 63.16%,#9c5aee 63.82%,#9c5aee 64.47%,#9c5aee 65.13%,#9c5aee 65.79%,#9c5aee 66.45%,#9c5aee 67.11%,#9c5aee 67.76%,#9c5aee 68.42%,#9c5aee 69.08%,#9c5aee 69.74%,#9c5aee 70.39%,#9c5aee 71.05%,#9c5aee 71.71%,#9c5aee 72.37%,#9c5aee 73.03%,#8e67ee 73.68%,#7776e9 74.34%,#7876e9 75%,#7975ea 75.66%,#408cce 76.32%,#1f94a2 76.97%,#1f94a2 77.63%,#1f94a2 78.29%,#1f94a2 78.95%,#1f94a2 79.61%,#1f94a2 80.26%,#1f94a2 80.92%,#1f94a2 81.58%,#1f94a2 82.24%,#1f94a2 82.89%,#1f94a2 83.55%,#2c92b3 84.21%,#3a8ec7 84.87%,#6183e2 85.53%,#8b69ed 86.18%,#8170eb 86.84%,#7776e9 87.5%,#5f84e1 88.16%,#468bd3 88.82%,#468bd3 89.47%,#468bd3 90.13%,#468bd3 90.79%,#468bd3 91.45%,#7b73ea 92.11%,#b843df 92.76%,#d25647 93.42%,#a97813 94.08%,#cc5c3f 94.74%,#dd29aa 95.39%,#d62bbc 96.05%,#d030c6 96.71%,#b446e2 97.37%,#9660ee 98.03%,#b446e2 98.68%,#d030c6 99.34%,#d82ab8 100%)"></i><i style="top:81.16px;background:linear-gradient(90deg,#dc3f70 0%,#d030c6 0.66%,#d030c6 1.32%,#d030c6 1.97%,#b942de 2.63%,#a057ed 3.29%,#be3eda 3.95%,#d62bbb 4.61%,#e02a9c 5.26%,#dc3e72 5.92%,#dd397d 6.58%,#de3489 7.24%,#df29a1 7.89%,#da29b5 8.55%,#de29a5 9.21%,#df2e93 9.87%,#df318e 10.53%,#de3489 11.18%,#de3489 11.84%,#de3489 12.5%,#de3489 13.16%,#de3489 13.82%,#df2e93 14.47%,#e02a9d 15.13%,#df29a3 15.79%,#de29a8 16.45%,#c23ad6 17.11%,#9c5aee 17.76%,#9c5aee 18.42%,#9c5aee 19.08%,#9c5aee 19.74%,#9c5aee 20.39%,#9c5aee 21.05%,#9c5aee 21.71%,#9c5aee 22.37%,#9c5aee 23.03%,#9c5aee 23.68%,#9c5aee 24.34%,#9c5aee 25%,#9c5aee 25.66%,#9c5aee 26.32%,#9c5aee 26.97%,#9c5aee 27.63%,#9c5aee 28.29%,#9c5aee 28.95%,#9c5aee 29.61%,#9c5aee 30.26%,#9c5aee 30.92%,#9c5aee 31.58%,#9c5aee 32.24%,#9c5aee 32.89%,#9c5aee 33.55%,#7478e9 34.21%,#468bd3 34.87%,#2393a7 35.53%,#11957d 36.18%,#1a9696 36.84%,#2892ad 37.5%,#2b92b1 38.16%,#2e91b6 38.82%,#2693ac 39.47%,#1f94a2 40.13%,#1f94a2 40.79%,#1f94a2 41.45%,#1f94a2 42.11%,#1f94a2 42.76%,#2693ac 43.42%,#2e91b6 44.08%,#2b92b2 44.74%,#2992af 45.39%,#2b92b2 46.05%,#2e91b6 46.71%,#6383e3 47.37%,#9c5aee 48.03%,#9c5aee 48.68%,#9c5aee 49.34%,#9c5aee 50%,#9c5aee 50.66%,#9066ee 51.32%,#7a74ea 51.97%,#7a74ea 52.63%,#7a74ea 53.29%,#9066ee 53.95%,#9c5aee 54.61%,#9c5aee 55.26%,#9c5aee 55.92%,#7777e9 56.58%,#4b8ad6 57.24%,#3191bb 57.89%,#1f94a2 58.55%,#1f94a2 59.21%,#1f94a2 59.87%,#1f94a2 60.53%,#1f94a2 61.18%,#1f94a2 61.84%,#1f94a2 62.5%,#418ccf 63.16%,#7a74ea 63.82%,#9066ee 64.47%,#9c5aee 65.13%,#9c5aee 65.79%,#9c5aee 66.45%,#9c5aee 67.11%,#9c5aee 67.76%,#9c5aee 68.42%,#9c5aee 69.08%,#9c5aee 69.74%,#9c5aee 70.39%,#9c5aee 71.05%,#9c5aee 71.71%,#9c5aee 72.37%,#9c5aee 73.03%,#8e67ee 73.68%,#7776e9 74.34%,#7875ea 75%,#7a74ea 75.66%,#4e89d8 76.32%,#2e91b7 76.97%,#2e91b6 77.63%,#2e91b6 78.29%,#2e91b6 78.95%,#2e91b6 79.61%,#2e91b6 80.26%,#2e91b6 80.92%,#2e91b6 81.58%,#2e91b6 82.24%,#2e91b6 82.89%,#2e91b6 83.55%,#3a8ec7 84.21%,#4c8ad7 84.87%,#707ce7 85.53%,#9264ee 86.18%,#9165ee 86.84%,#8f67ee 87.5%,#6b7fe6 88.16%,#468bd3 88.82%,#468bd3 89.47%,#468bd3 90.13%,#468bd3 90.79%,#468bd3 91.45%,#5886de 92.11%,#717be8 92.76%,#d82ab9 93.42%,#c86238 94.08%,#dc3f70 94.74%,#d030c6 95.39%,#d030c6 96.05%,#d030c6 96.71%,#b942de 97.37%,#a057ed 98.03%,#be3eda 98.68%,#d62bbb 99.34%,#e02a9c 100%)"></i><i style="top:87.4px;background:linear-gradient(90deg,#cf31c8 0%,#d030c6 0.66%,#d030c6 1.32%,#d030c6 1.97%,#d32dc1 2.63%,#d62bbb 3.29%,#dc28ae 3.95%,#e02a9d 4.61%,#db4467 5.26%,#d25548 5.92%,#da485f 6.58%,#de3489 7.24%,#dd29aa 7.89%,#d32dc1 8.55%,#da29b5 9.21%,#de29a5 9.87%,#e02c98 10.53%,#de3489 11.18%,#de3489 11.84%,#de3489 12.5%,#de3489 13.16%,#de3489 13.82%,#de29a5 14.47%,#d62bbb 15.13%,#d030c6 15.79%,#c837d0 16.45%,#b247e3 17.11%,#9c5aee 17.76%,#9c5aee 18.42%,#9c5aee 19.08%,#9c5aee 19.74%,#9c5aee 20.39%,#9c5aee 21.05%,#9c5aee 21.71%,#9c5aee 22.37%,#9c5aee 23.03%,#9c5aee 23.68%,#9c5aee 24.34%,#9c5aee 25%,#9c5aee 25.66%,#9c5aee 26.32%,#9c5aee 26.97%,#9c5aee 27.63%,#9c5aee 28.29%,#9c5aee 28.95%,#9c5aee 29.61%,#9c5aee 30.26%,#9c5aee 30.92%,#9c5aee 31.58%,#9c5aee 32.24%,#9c5aee 32.89%,#9c5aee 33.55%,#7478e9 34.21%,#468bd3 34.87%,#2393a7 35.53%,#11957d 36.18%,#199695 36.84%,#2593aa 37.5%,#2992af 38.16%,#2e91b6 38.82%,#2693ac 39.47%,#1f94a2 40.13%,#1f94a2 40.79%,#1f94a2 41.45%,#1f94a2 42.11%,#1f94a2 42.76%,#2693ac 43.42%,#2e91b6 44.08%,#2a92b1 44.74%,#2793ad 45.39%,#2a92b1 46.05%,#2e91b6 46.71%,#6383e3 47.37%,#9c5aee 48.03%,#9c5aee 48.68%,#9c5aee 49.34%,#9c5aee 50%,#9c5aee 50.66%,#876cec 51.32%,#6b7fe6 51.97%,#6b7fe6 52.63%,#6b7fe6 53.29%,#876cec 53.95%,#9c5aee 54.61%,#9c5aee 55.26%,#9c5aee 55.92%,#7478e9 56.58%,#468bd3 57.24%,#3091b9 57.89%,#1f94a2 58.55%,#1f94a2 59.21%,#1f94a2 59.87%,#1f94a2 60.53%,#1f94a2 61.18%,#1f94a2 61.84%,#1f94a2 62.5%,#2992af 63.16%,#3390bf 63.82%,#6981e5 64.47%,#9c5aee 65.13%,#9c5aee 65.79%,#9c5aee 66.45%,#9c5aee 67.11%,#9c5aee 67.76%,#9c5aee 68.42%,#9c5aee 69.08%,#9c5aee 69.74%,#9c5aee 70.39%,#9c5aee 71.05%,#9c5aee 71.71%,#9c5aee 72.37%,#9c5aee 73.03%,#8e67ee 73.68%,#7776e9 74.34%,#7975ea 75%,#7b73ea 75.66%,#6f7de7 76.32%,#6084e1 76.97%,#5d85e0 77.63%,#5a86df 78.29%,#5a86df 78.95%,#5a86df 79.61%,#5a86df 80.26%,#5a86df 80.92%,#5a86df 81.58%,#5a86df 82.24%,#5a86df 82.89%,#5a86df 83.55%,#6283e2 84.21%,#6a80e6 84.87%,#836eec 85.53%,#995dee 86.18%,#a156ec 86.84%,#aa4ee9 87.5%,#8070eb 88.16%,#468bd3 88.82%,#468bd3 89.47%,#468bd3 90.13%,#468bd3 90.79%,#468bd3 91.45%,#4c8ad6 92.11%,#5189da 92.76%,#9d59ee 93.42%,#ce32c9 94.08%,#cf31c8 94.74%,#d030c6 95.39%,#d030c6 96.05%,#d030c6 96.71%,#d32dc1 97.37%,#d62bbb 98.03%,#dc28ae 98.68%,#e02a9d 99.34%,#db4467 100%)"></i><i style="top:93.65px;background:linear-gradient(90deg,#b743df 0%,#d030c6 0.66%,#d030c6 1.32%,#d030c6 1.97%,#dc28ae 2.63%,#de3489 3.29%,#de3489 3.95%,#de3489 4.61%,#d94b59 5.26%,#cc5d3e 5.92%,#d94b59 6.58%,#de3489 7.24%,#dd29aa 7.89%,#d32dc1 8.55%,#d72bbb 9.21%,#da29b4 9.87%,#dd29a9 10.53%,#e02a9d 11.18%,#e02a9d 11.84%,#e02a9d 12.5%,#e02a9d 13.16%,#e02a9d 13.82%,#da29b5 14.47%,#d030c6 15.13%,#c539d3 15.79%,#b842de 16.45%,#aa4ee8 17.11%,#9c5aee 17.76%,#9c5aee 18.42%,#9c5aee 19.08%,#9c5aee 19.74%,#9c5aee 20.39%,#9c5aee 21.05%,#9c5aee 21.71%,#9c5aee 22.37%,#9c5aee 23.03%,#9c5aee 23.68%,#9c5aee 24.34%,#9c5aee 25%,#9c5aee 25.66%,#9c5aee 26.32%,#9c5aee 26.97%,#9c5aee 27.63%,#9c5aee 28.29%,#9c5aee 28.95%,#9c5aee 29.61%,#9c5aee 30.26%,#9c5aee 30.92%,#9c5aee 31.58%,#9c5aee 32.24%,#9c5aee 32.89%,#9c5aee 33.55%,#7478e9 34.21%,#468bd3 34.87%,#2393a7 35.53%,#11957d 36.18%,#189692 36.84%,#2294a6 37.5%,#2892ad 38.16%,#2e91b6 38.82%,#2693ac 39.47%,#1f94a2 40.13%,#1f94a2 40.79%,#1f94a2 41.45%,#1f94a2 42.11%,#1f94a2 42.76%,#2693ac 43.42%,#2e91b6 44.08%,#2992af 44.74%,#2493a9 45.39%,#2793ad 46.05%,#2a92b0 46.71%,#4e89d8 47.37%,#836fec 48.03%,#836fec 48.68%,#836fec 49.34%,#8f67ee 50%,#9660ee 50.66%,#7578e9 51.32%,#5189da 51.97%,#5189da 52.63%,#5189da 53.29%,#6b7fe6 53.95%,#836fec 54.61%,#886bec 55.26%,#8d68ed 55.92%,#6482e3 56.58%,#3d8dca 57.24%,#388fc4 57.89%,#3390bf 58.55%,#2b92b1 59.21%,#2393a7 59.87%,#2194a5 60.53%,#1f94a2 61.18%,#1f94a2 61.84%,#1f94a2 62.5%,#1f94a2 63.16%,#1f94a2 63.82%,#428cd0 64.47%,#7e71eb 65.13%,#866cec 65.79%,#8d68ee 66.45%,#9561ee 67.11%,#9c5aee 67.76%,#9c5aee 68.42%,#9c5aee 69.08%,#9c5aee 69.74%,#9c5aee 70.39%,#9c5aee 71.05%,#9c5aee 71.71%,#9c5aee 72.37%,#9c5aee 73.03%,#8e67ee 73.68%,#7776e9 74.34%,#7a74ea 75%,#7e72eb 75.66%,#7f71eb 76.32%,#8070eb 76.97%,#7b73ea 77.63%,#7776e9 78.29%,#6e7de7 78.95%,#6382e3 79.61%,#6382e3 80.26%,#6382e3 80.92%,#6881e5 81.58%,#6c7fe6 82.24%,#6c7fe6 82.89%,#6c7fe6 83.55%,#6881e5 84.21%,#6383e3 84.87%,#7677e9 85.53%,#8d68ed 86.18%,#a354ec 86.84%,#b743df 87.5%,#9561ee 88.16%,#5d85e0 88.82%,#5189da 89.47%,#468bd3 90.13%,#468bd3 90.79%,#468bd3 91.45%,#4c8ad6 92.11%,#5189da 92.76%,#7a74ea 93.42%,#9c5aee 94.08%,#b743df 94.74%,#d030c6 95.39%,#d030c6 96.05%,#d030c6 96.71%,#dc28ae 97.37%,#de3489 98.03%,#de3489 98.68%,#de3489 99.34%,#d94b59 100%)"></i><i style="top:99.89px;background:linear-gradient(90deg,#b743df 0%,#d030c6 0.66%,#d030c6 1.32%,#d030c6 1.97%,#dc28ae 2.63%,#de3489 3.29%,#de3489 3.95%,#de3489 4.61%,#db4762 5.26%,#d4534b 5.92%,#db4762 6.58%,#de3489 7.24%,#df29a1 7.89%,#da29b5 8.55%,#d72aba 9.21%,#d52cbe 9.87%,#d62bbd 10.53%,#d62bbb 11.18%,#d62bbb 11.84%,#d62bbb 12.5%,#d62bbb 13.16%,#d62bbb 13.82%,#d32dc1 14.47%,#d030c6 15.13%,#c538d3 15.79%,#b941dd 16.45%,#ab4ee8 17.11%,#9c5aee 17.76%,#9c5aee 18.42%,#9c5aee 19.08%,#9c5aee 19.74%,#9c5aee 20.39%,#9c5aee 21.05%,#9c5aee 21.71%,#9c5aee 22.37%,#9c5aee 23.03%,#9c5aee 23.68%,#9c5aee 24.34%,#9c5aee 25%,#9c5aee 25.66%,#9c5aee 26.32%,#9c5aee 26.97%,#9c5aee 27.63%,#9c5aee 28.29%,#9c5aee 28.95%,#9c5aee 29.61%,#9c5aee 30.26%,#9c5aee 30.92%,#9c5aee 31.58%,#9c5aee 32.24%,#9c5aee 32.89%,#9c5aee 33.55%,#7478e9 34.21%,#468bd3 34.87%,#2393a7 35.53%,#11957d 36.18%,#17968f 36.84%,#1e959f 37.5%,#2593aa 38.16%,#2e91b6 38.82%,#2693ac 39.47%,#1f94a2 40.13%,#1f94a2 40.79%,#1f94a2 41.45%,#1f94a2 42.11%,#1f94a2 42.76%,#2693ac 43.42%,#2e91b6 44.08%,#2793ad 44.74%,#2194a5 45.39%,#2294a6 46.05%,#2393a7 46.71%,#3091ba 47.37%,#428cd0 48.03%,#428cd0 48.68%,#428cd0 49.34%,#6283e3 50%,#826feb 50.66%,#5986de 51.32%,#378fc3 51.97%,#378fc3 52.63%,#378fc3 53.29%,#3c8eca 53.95%,#428cd0 54.61%,#4f89d9 55.26%,#5d85e0 55.92%,#448cd1 56.58%,#3290bd 57.24%,#5289da 57.89%,#7a74ea 58.55%,#4a8ad6 59.21%,#2a92b0 59.87%,#2493a9 60.53%,#1f94a2 61.18%,#1f94a2 61.84%,#1f94a2 62.5%,#1f94a2 63.16%,#1f94a2 63.82%,#2c92b3 64.47%,#3a8ec7 65.13%,#4a8ad6 65.79%,#5f84e1 66.45%,#8170eb 67.11%,#9c5aee 67.76%,#9c5aee 68.42%,#9c5aee 69.08%,#9c5aee 69.74%,#9c5aee 70.39%,#9c5aee 71.05%,#9c5aee 71.71%,#9c5aee 72.37%,#9c5aee 73.03%,#8e67ee 73.68%,#7776e9 74.34%,#7b73ea 75%,#8170eb 75.66%,#836fec 76.32%,#846dec 76.97%,#7d72eb 77.63%,#7776e9 78.29%,#5887de 78.95%,#3c8eca 79.61%,#3c8eca 80.26%,#3c8eca 80.92%,#468bd3 81.58%,#5189da 82.24%,#5288db 82.89%,#5388db 83.55%,#498ad5 84.21%,#3f8dcc 84.87%,#4e89d8 85.53%,#5f84e1 86.18%,#9561ee 86.84%,#b743df 87.5%,#a354ec 88.16%,#8d68ed 88.82%,#6a80e6 89.47%,#468bd3 90.13%,#468bd3 90.79%,#468bd3 91.45%,#5887de 92.11%,#6c7fe6 92.76%,#876bec 93.42%,#9c5aee 94.08%,#b743df 94.74%,#d030c6 95.39%,#d030c6 96.05%,#d030c6 96.71%,#dc28ae 97.37%,#de3489 98.03%,#de3489 98.68%,#de3489 99.34%,#db4762 100%)"></i><i style="top:106.13px;background:linear-gradient(90deg,#a652eb 0%,#b644e0 0.66%,#b644e0 1.32%,#b644e0 1.97%,#cb34cd 2.63%,#da29b5 3.29%,#dc28ae 3.95%,#de29a6 4.61%,#df318f 5.26%,#dc3d74 5.92%,#de328c 6.58%,#df29a3 7.24%,#db28b1 7.89%,#d62bbc 8.55%,#d12fc4 9.21%,#cd33cb 9.87%,#ce32c8 10.53%,#d030c6 11.18%,#d030c6 11.84%,#d030c6 12.5%,#d030c6 13.16%,#d030c6 13.82%,#d030c6 14.47%,#d030c6 15.13%,#c638d2 15.79%,#bb40dc 16.45%,#ac4de7 17.11%,#9c5aee 17.76%,#9c5aee 18.42%,#9c5aee 19.08%,#9c5aee 19.74%,#9c5aee 20.39%,#9c5aee 21.05%,#9c5aee 21.71%,#9c5aee 22.37%,#9c5aee 23.03%,#9c5aee 23.68%,#9c5aee 24.34%,#9c5aee 25%,#9c5aee 25.66%,#9c5aee 26.32%,#9c5aee 26.97%,#9c5aee 27.63%,#9c5aee 28.29%,#9c5aee 28.95%,#9c5aee 29.61%,#9c5aee 30.26%,#9c5aee 30.92%,#9c5aee 31.58%,#9c5aee 32.24%,#9561ee 32.89%,#8d68ed 33.55%,#6a80e6 34.21%,#468bd3 34.87%,#2393a7 35.53%,#11957d 36.18%,#15968a 36.84%,#1a9695 37.5%,#2294a6 38.16%,#2e91b6 38.82%,#2c92b3 39.47%,#2b92b1 40.13%,#2593aa 40.79%,#1f94a2 41.45%,#1f94a2 42.11%,#1f94a2 42.76%,#2992ae 43.42%,#3290bd 44.08%,#3390be 44.74%,#3390bf 45.39%,#2d91b5 46.05%,#2793ad 46.71%,#2a92b1 47.37%,#2e91b6 48.03%,#378fc3 48.68%,#428cd0 49.34%,#5c85e0 50%,#7776e9 50.66%,#5c85e0 51.32%,#428cd0 51.97%,#428cd0 52.63%,#428cd0 53.29%,#3e8dcc 53.95%,#3a8ec7 54.61%,#4a8ad5 55.26%,#5d85e0 55.92%,#4a8ad5 56.58%,#3a8ec7 57.24%,#6283e2 57.89%,#8d68ed 58.55%,#6881e5 59.21%,#428cd0 59.87%,#3390be 60.53%,#2793ad 61.18%,#2d91b5 61.84%,#3390bf 62.5%,#2b92b1 63.16%,#2393a7 63.82%,#2593aa 64.47%,#2892ae 65.13%,#3290bd 65.79%,#408dcd 66.45%,#6183e2 67.11%,#836fec 67.76%,#9264ee 68.42%,#9c5aee 69.08%,#9c5aee 69.74%,#9c5aee 70.39%,#9c5aee 71.05%,#9c5aee 71.71%,#9c5aee 72.37%,#9c5aee 73.03%,#8e67ee 73.68%,#7776e9 74.34%,#7e72eb 75%,#856dec 75.66%,#896bed 76.32%,#8c68ed 76.97%,#8170eb 77.63%,#7776e9 78.29%,#4e89d8 78.95%,#3091b9 79.61%,#2d91b6 80.26%,#2b92b2 80.92%,#378fc3 81.58%,#478bd3 82.24%,#5b85df 82.89%,#7975ea 83.55%,#9462ee 84.21%,#9f58ed 84.87%,#9066ee 85.53%,#6e7de7 86.18%,#896aed 86.84%,#a354ec 87.5%,#985eee 88.16%,#8d68ed 88.82%,#6a80e6 89.47%,#468bd3 90.13%,#428cd0 90.79%,#3f8dcc 91.45%,#5388db 92.11%,#6c7fe6 92.76%,#816feb 93.42%,#9660ee 94.08%,#a652eb 94.74%,#b644e0 95.39%,#b644e0 96.05%,#b644e0 96.71%,#cb34cd 97.37%,#da29b5 98.03%,#dc28ae 98.68%,#de29a6 99.34%,#df318f 100%)"></i><i style="top:112.38px;background:linear-gradient(90deg,#7a74ea 0%,#7379e8 0.66%,#7379e8 1.32%,#7379e8 1.97%,#975fee 2.63%,#af4ae6 3.29%,#bd3fdb 3.95%,#cb35cd 4.61%,#cd33ca 5.26%,#cf31c7 5.92%,#cf31c7 6.58%,#d030c6 7.24%,#cb34cd 7.89%,#c539d3 8.55%,#c23bd6 9.21%,#be3dd9 9.87%,#c837d0 10.53%,#d030c6 11.18%,#d030c6 11.84%,#d030c6 12.5%,#d030c6 13.16%,#d030c6 13.82%,#d030c6 14.47%,#d030c6 15.13%,#c837d0 15.79%,#be3dd9 16.45%,#ad4ce6 17.11%,#9c5aee 17.76%,#9c5aee 18.42%,#9c5aee 19.08%,#9c5aee 19.74%,#9c5aee 20.39%,#9c5aee 21.05%,#9c5aee 21.71%,#9c5aee 22.37%,#9c5aee 23.03%,#9c5aee 23.68%,#9c5aee 24.34%,#9c5aee 25%,#9c5aee 25.66%,#9c5aee 26.32%,#9c5aee 26.97%,#9c5aee 27.63%,#9c5aee 28.29%,#9c5aee 28.95%,#9c5aee 29.61%,#9c5aee 30.26%,#9c5aee 30.92%,#9c5aee 31.58%,#9c5aee 32.24%,#8070eb 32.89%,#5d85e0 33.55%,#5189da 34.21%,#468bd3 34.87%,#2393a7 35.53%,#11957d 36.18%,#139582 36.84%,#149687 37.5%,#1e959f 38.16%,#2e91b6 38.82%,#398ec6 39.47%,#498ad5 40.13%,#3191bb 40.79%,#2094a3 41.45%,#2094a5 42.11%,#2194a5 42.76%,#2f91b7 43.42%,#3f8dcd 44.08%,#5c85e0 44.74%,#7a74ea 45.39%,#5887de 46.05%,#398ec6 46.71%,#3390be 47.37%,#2e91b6 48.03%,#5189da 48.68%,#836fec 49.34%,#7c73ea 50%,#7776e9 50.66%,#7c73ea 51.32%,#836fec 51.97%,#836fec 52.63%,#836fec 53.29%,#727ae8 53.95%,#6283e2 54.61%,#7677e9 55.26%,#8d68ed 55.92%,#7677e9 56.58%,#6283e2 57.24%,#6084e1 57.89%,#5d85e0 58.55%,#707be8 59.21%,#836fec 59.87%,#5c85e0 60.53%,#398ec6 61.18%,#5887de 61.84%,#7a74ea 62.5%,#4a8ad6 63.16%,#2a92b0 63.82%,#2b92b1 64.47%,#2c92b3 65.13%,#2f91b8 65.79%,#3390be 66.45%,#3a8ec7 67.11%,#428cd0 67.76%,#727ae8 68.42%,#9c5aee 69.08%,#9c5aee 69.74%,#9c5aee 70.39%,#9c5aee 71.05%,#9c5aee 71.71%,#9c5aee 72.37%,#9c5aee 73.03%,#8e67ee 73.68%,#7776e9 74.34%,#8170eb 75%,#8b69ed 75.66%,#9165ee 76.32%,#9462ee 76.97%,#866cec 77.63%,#7776e9 78.29%,#4e89d8 78.95%,#3091b9 79.61%,#2992af 80.26%,#2393a8 80.92%,#3290bc 81.58%,#488bd4 82.24%,#896aed 82.89%,#c13cd7 83.55%,#de3587 84.21%,#d84d57 84.87%,#df2d97 85.53%,#ae4be6 86.18%,#876bec 86.84%,#6b7fe6 87.5%,#6382e3 88.16%,#5d85e0 88.82%,#5189da 89.47%,#468bd3 90.13%,#3b8ec8 90.79%,#3290bd 91.45%,#408dcd 92.11%,#5189da 92.76%,#6b7fe6 93.42%,#826feb 94.08%,#7a74ea 94.74%,#7379e8 95.39%,#7379e8 96.05%,#7379e8 96.71%,#975fee 97.37%,#af4ae6 98.03%,#bd3fdb 98.68%,#cb35cd 99.34%,#cd33ca 100%)"></i><i style="top:118.62px;background:linear-gradient(90deg,#6682e4 0%,#5189da 0.66%,#4c8ad6 1.32%,#468bd3 1.97%,#6682e4 2.63%,#846eec 3.29%,#9b5bee 3.95%,#ad4ce7 4.61%,#b247e3 5.26%,#b743df 5.92%,#b942de 6.58%,#ba41dd 7.24%,#b446e2 7.89%,#ae4be6 8.55%,#af4ae5 9.21%,#b049e4 9.87%,#c13bd7 10.53%,#d030c6 11.18%,#cb35cd 11.84%,#c439d4 12.5%,#c837d0 13.16%,#cb35cd 13.82%,#ce32ca 14.47%,#d030c6 15.13%,#cb35cd 15.79%,#c439d4 16.45%,#b446e2 17.11%,#a354ec 17.76%,#a156ec 18.42%,#9f57ed 19.08%,#9b5bee 19.74%,#975fee 20.39%,#995dee 21.05%,#9c5aee 21.71%,#9c5aee 22.37%,#9c5aee 23.03%,#9c5aee 23.68%,#9c5aee 24.34%,#9c5aee 25%,#9c5aee 25.66%,#985eee 26.32%,#9462ee 26.97%,#985eee 27.63%,#9c5aee 28.29%,#9c5aee 28.95%,#9c5aee 29.61%,#9c5aee 30.26%,#9c5aee 30.92%,#9561ee 31.58%,#8d68ed 32.24%,#6a80e6 32.89%,#468bd3 33.55%,#468bd3 34.21%,#468bd3 34.87%,#2393a7 35.53%,#11957d 36.18%,#109477 36.84%,#119470 37.5%,#1d959d 38.16%,#3b8ec7 38.82%,#6084e1 39.47%,#8a6aed 40.13%,#7a74ea 40.79%,#7478e9 41.45%,#7a74ea 42.11%,#7875ea 42.76%,#7577e9 43.42%,#6d7ee7 44.08%,#836eec 44.74%,#9c5aee 45.39%,#7a74ea 46.05%,#5189da 46.71%,#408dcd 47.37%,#3290bd 48.03%,#6881e5 48.68%,#9c5aee 49.34%,#9264ee 50%,#826feb 50.66%,#9660ee 51.32%,#a354ec 51.97%,#9f57ed 52.63%,#9c5aee 53.29%,#9660ee 53.95%,#8f67ee 54.61%,#9c5aee 55.26%,#aa4fe9 55.92%,#a057ed 56.58%,#9660ee 57.24%,#8070eb 57.89%,#6a80e6 58.55%,#866cec 59.21%,#9c5aee 59.87%,#866cec 60.53%,#6a80e6 61.18%,#866cec 61.84%,#9c5aee 62.5%,#6e7de7 63.16%,#3a8ec7 63.82%,#3e8dcc 64.47%,#428cd0 65.13%,#428cd0 65.79%,#428cd0 66.45%,#428cd0 67.11%,#428cd0 67.76%,#717be8 68.42%,#9a5cee 69.08%,#9b5bee 69.74%,#9c5aee 70.39%,#9b5bee 71.05%,#9a5cee 71.71%,#9a5cee 72.37%,#995dee 73.03%,#8b69ed 73.68%,#7776e9 74.34%,#856dec 75%,#9264ee 75.66%,#985eee 76.32%,#9d59ee 76.97%,#9066ee 77.63%,#7776e9 78.29%,#5189da 78.95%,#3490c0 79.61%,#3390bf 80.26%,#3390bf 80.92%,#458bd2 81.58%,#6183e2 82.24%,#9a5cee 82.89%,#d22ec3 83.55%,#d84d56 84.21%,#cd5c3f 84.87%,#da4a5c 85.53%,#c23ad6 86.18%,#8a6aed 86.84%,#5488dc 87.5%,#4c8ad7 88.16%,#468bd3 88.82%,#468bd3 89.47%,#468bd3 90.13%,#3b8ec8 90.79%,#3290bd 91.45%,#3b8ec8 92.11%,#468bd3 92.76%,#5f84e1 93.42%,#7776e9 94.08%,#6682e4 94.74%,#5189da 95.39%,#4c8ad6 96.05%,#468bd3 96.71%,#6682e4 97.37%,#846eec 98.03%,#9b5bee 98.68%,#ad4ce7 99.34%,#b247e3 100%)"></i><i style="top:124.86px;background:linear-gradient(90deg,#717ae8 0%,#6c7fe6 0.66%,#5887de 1.32%,#468bd3 1.97%,#4f89d9 2.63%,#5a86df 3.29%,#7578e9 3.95%,#9066ee 4.61%,#a454eb 5.26%,#b743df 5.92%,#af4ae5 6.58%,#a652eb 7.24%,#9e58ed 7.89%,#9660ee 8.55%,#9c5aee 9.21%,#a354ec 9.87%,#ba41dd 10.53%,#d030c6 11.18%,#be3eda 11.84%,#aa4fe9 12.5%,#b446e2 13.16%,#be3eda 13.82%,#c837d0 14.47%,#d030c6 15.13%,#ce32c8 15.79%,#cd33cb 16.45%,#bf3dd9 17.11%,#b049e4 17.76%,#ab4de8 18.42%,#a652eb 19.08%,#995dee 19.74%,#8a6aed 20.39%,#9462ee 21.05%,#9c5aee 21.71%,#9c5aee 22.37%,#9c5aee 23.03%,#9c5aee 23.68%,#9c5aee 24.34%,#9c5aee 25%,#9c5aee 25.66%,#9066ee 26.32%,#7a74ea 26.97%,#9066ee 27.63%,#9c5aee 28.29%,#9c5aee 28.95%,#9c5aee 29.61%,#9c5aee 30.26%,#9c5aee 30.92%,#8070eb 31.58%,#5d85e0 32.24%,#5189da 32.89%,#468bd3 33.55%,#468bd3 34.21%,#468bd3 34.87%,#2393a7 35.53%,#11957d 36.18%,#139467 36.84%,#2b984f 37.5%,#1e959f 38.16%,#6383e3 38.82%,#9a5cee 39.47%,#c23ad6 40.13%,#db29b3 40.79%,#dd397d 41.45%,#dd3b7a 42.11%,#dc3e73 42.76%,#dc28af 43.42%,#ae4be6 44.08%,#9b5bee 44.74%,#9d59ee 45.39%,#886bec 46.05%,#6c7fe6 46.71%,#5388db 47.37%,#3f8dcc 48.03%,#707be8 48.68%,#9c5aee 49.34%,#995dee 50%,#9660ee 50.66%,#a354ec 51.32%,#b149e4 51.97%,#a651eb 52.63%,#9c5aee 53.29%,#a354ec 53.95%,#aa4ee9 54.61%,#b743df 55.26%,#c439d4 55.92%,#c13bd7 56.58%,#be3eda 57.24%,#b049e5 57.89%,#a255ec 58.55%,#9f57ed 59.21%,#9c5aee 59.87%,#9f57ed 60.53%,#a255ec 61.18%,#9f57ed 61.84%,#9c5aee 62.5%,#826fec 63.16%,#6283e2 63.82%,#727ae8 64.47%,#836fec 65.13%,#836fec 65.79%,#836fec 66.45%,#836fec 67.11%,#836fec 67.76%,#9066ee 68.42%,#975fee 69.08%,#9a5cee 69.74%,#9c5aee 70.39%,#9a5cee 71.05%,#975fee 71.71%,#9561ee 72.37%,#9264ee 73.03%,#856dec 73.68%,#7776e9 74.34%,#8b69ed 75%,#995dee 75.66%,#a255ec 76.32%,#ab4de8 76.97%,#975fee 77.63%,#7876e9 78.29%,#5a86df 78.95%,#3f8dcd 79.61%,#5c85e0 80.26%,#7a74ea 80.92%,#846eec 81.58%,#8f67ee 82.24%,#9660ee 82.89%,#ae4be6 83.55%,#db28b2 84.21%,#dd397d 84.87%,#d82ab8 85.53%,#a552eb 86.18%,#826feb 86.84%,#6d7ee7 87.5%,#5887de 88.16%,#468bd3 88.82%,#468bd3 89.47%,#468bd3 90.13%,#428cd0 90.79%,#3f8dcc 91.45%,#428cd0 92.11%,#468bd3 92.76%,#5f84e1 93.42%,#7776e9 94.08%,#717ae8 94.74%,#6c7fe6 95.39%,#5887de 96.05%,#468bd3 96.71%,#4f89d9 97.37%,#5a86df 98.03%,#7578e9 98.68%,#9066ee 99.34%,#a454eb 100%)"></i><i style="top:131.1px;background:linear-gradient(90deg,#717ae8 0%,#7776e9 0.66%,#5f84e1 1.32%,#468bd3 1.97%,#468bd3 2.63%,#468bd3 3.29%,#5f84e1 3.95%,#7776e9 4.61%,#995dee 5.26%,#b149e4 5.92%,#a354ec 6.58%,#9660ee 7.24%,#876cec 7.89%,#7478e9 8.55%,#846eec 9.21%,#9363ee 9.87%,#ab4de8 10.53%,#c439d4 11.18%,#b049e5 11.84%,#9c5aee 12.5%,#9f57ed 13.16%,#a255ec 13.82%,#ac4ce7 14.47%,#b644e0 15.13%,#b644e0 15.79%,#b644e0 16.45%,#ac4ce7 17.11%,#a255ec 17.76%,#9b5bee 18.42%,#9363ee 19.08%,#7a74ea 19.74%,#6283e2 20.39%,#7875ea 21.05%,#9165ee 21.71%,#9660ee 22.37%,#9c5aee 23.03%,#985eee 23.68%,#9462ee 24.34%,#896aed 25%,#7a74ea 25.66%,#6981e5 26.32%,#5388db 26.97%,#6c7ee7 27.63%,#826fec 28.29%,#886bec 28.95%,#8d68ed 29.61%,#8d68ed 30.26%,#8d68ed 30.92%,#6a80e6 31.58%,#468bd3 32.24%,#468bd3 32.89%,#468bd3 33.55%,#5c85e0 34.21%,#7379e8 34.87%,#2e91b7 35.53%,#11957d 36.18%,#139467 36.84%,#2c984e 37.5%,#1c959c 38.16%,#5c85e0 38.82%,#a850ea 39.47%,#dd29a9 40.13%,#db4761 40.79%,#d4524c 41.45%,#d74e54 42.11%,#d94c58 42.76%,#df318e 43.42%,#be3eda 44.08%,#a354ec 44.74%,#9d59ee 45.39%,#9264ee 46.05%,#826feb 46.71%,#6b7fe6 47.37%,#5189da 48.03%,#7a74ea 48.68%,#9c5aee 49.34%,#995dee 50%,#9660ee 50.66%,#a354ec 51.32%,#b149e4 51.97%,#a651eb 52.63%,#9c5aee 53.29%,#a651eb 53.95%,#b149e4 54.61%,#c13bd7 55.26%,#d030c6 55.92%,#d030c6 56.58%,#d030c6 57.24%,#c13bd7 57.89%,#b149e4 58.55%,#a651eb 59.21%,#9c5aee 59.87%,#a651eb 60.53%,#b149e4 61.18%,#a651eb 61.84%,#9c5aee 62.5%,#8e67ee 63.16%,#7776e9 63.82%,#9660ee 64.47%,#aa4fe9 65.13%,#a652eb 65.79%,#a354ec 66.45%,#a056ed 67.11%,#9e59ed 67.76%,#975fee 68.42%,#9165ee 69.08%,#9363ee 69.74%,#9462ee 70.39%,#8e67ee 71.05%,#846eec 71.71%,#836eec 72.37%,#826fec 73.03%,#7c73ea 73.68%,#7776e9 74.34%,#9363ee 75%,#a453eb 75.66%,#b446e2 76.32%,#c638d2 76.97%,#c638d2 77.63%,#b843df 78.29%,#7975ea 78.95%,#3f8dcc 79.61%,#707be8 80.26%,#9c5aee 80.92%,#9f57ed 81.58%,#a354ec 82.24%,#975fee 82.89%,#9066ee 83.55%,#a057ed 84.21%,#ab4ee8 84.87%,#9c5aee 85.53%,#836eec 86.18%,#7f71eb 86.84%,#836fec 87.5%,#6b7fe6 88.16%,#5189da 88.82%,#4c8ad6 89.47%,#468bd3 90.13%,#468bd3 90.79%,#468bd3 91.45%,#468bd3 92.11%,#468bd3 92.76%,#5887de 93.42%,#6c7fe6 94.08%,#717ae8 94.74%,#7776e9 95.39%,#5f84e1 96.05%,#468bd3 96.71%,#468bd3 97.37%,#468bd3 98.03%,#5f84e1 98.68%,#7776e9 99.34%,#995dee 100%)"></i><i style="top:137.35px;background:linear-gradient(90deg,#6682e4 0%,#7776e9 0.66%,#5f84e1 1.32%,#468bd3 1.97%,#468bd3 2.63%,#468bd3 3.29%,#5f84e1 3.95%,#7776e9 4.61%,#9264ee 5.26%,#a354ec 5.92%,#9660ee 6.58%,#826feb 7.24%,#6d7ee7 7.89%,#5488dc 8.55%,#6682e4 9.21%,#7478e9 9.87%,#9462ee 10.53%,#a950ea 11.18%,#a255ec 11.84%,#9c5aee 12.5%,#866cec 13.16%,#6980e6 13.82%,#6e7de7 14.47%,#7379e8 15.13%,#7379e8 15.79%,#7379e8 16.45%,#6e7de7 17.11%,#6980e6 17.76%,#5986de 18.42%,#4a8ad5 19.08%,#3a8ec7 19.74%,#2f91b8 20.39%,#478bd3 21.05%,#6c7fe6 21.71%,#876cec 22.37%,#9c5aee 23.03%,#9066ee 23.68%,#7a74ea 24.34%,#5388db 25%,#3390bf 25.66%,#3091b9 26.32%,#2c92b4 26.97%,#3690c2 27.63%,#428cd0 28.29%,#4f89d8 28.95%,#5d85e0 29.61%,#5d85e0 30.26%,#5d85e0 30.92%,#5189da 31.58%,#468bd3 32.24%,#468bd3 32.89%,#468bd3 33.55%,#8b69ed 34.21%,#b644e0 34.87%,#4f89d9 35.53%,#11957d 36.18%,#109475 36.84%,#11946e 37.5%,#199694 38.16%,#2f91b7 38.82%,#985eee 39.47%,#dd29aa 40.13%,#de3489 40.79%,#db4761 41.45%,#df2e94 42.11%,#ca36ce 42.76%,#b248e3 43.42%,#a850ea 44.08%,#9e58ed 44.74%,#9c5aee 45.39%,#995dee 46.05%,#9660ee 46.71%,#816feb 47.37%,#6c7fe6 48.03%,#876bec 48.68%,#9c5aee 49.34%,#9264ee 50%,#826feb 50.66%,#9660ee 51.32%,#a354ec 51.97%,#9f57ed 52.63%,#9c5aee 53.29%,#9f57ed 53.95%,#a354ec 54.61%,#ba41dd 55.26%,#d030c6 55.92%,#d030c6 56.58%,#d030c6 57.24%,#ba41dd 57.89%,#a354ec 58.55%,#9f57ed 59.21%,#9c5aee 59.87%,#9f57ed 60.53%,#a354ec 61.18%,#9f57ed 61.84%,#9c5aee 62.5%,#8e67ee 63.16%,#7776e9 63.82%,#a354ec 64.47%,#c439d4 65.13%,#ba41dd 65.79%,#b049e4 66.45%,#a94fea 67.11%,#a156ec 67.76%,#9462ee 68.42%,#7f71eb 69.08%,#7d72eb 69.74%,#7c73ea 70.39%,#6c7ee7 71.05%,#5a86df 71.71%,#6482e3 72.37%,#6e7de7 73.03%,#727ae8 73.68%,#7776e9 74.34%,#9b5bee 75%,#b446e2 75.66%,#cd33ca 76.32%,#df2aa0 76.97%,#da495e 77.63%,#da495e 78.29%,#a651eb 78.95%,#3390be 79.61%,#6881e5 80.26%,#9c5aee 80.92%,#a651eb 81.58%,#b149e4 82.24%,#a354ec 82.89%,#9660ee 83.55%,#9165ee 84.21%,#866cec 84.87%,#7f71eb 85.53%,#7876e9 86.18%,#896bed 86.84%,#9660ee 87.5%,#816feb 88.16%,#6c7fe6 88.82%,#5887de 89.47%,#468bd3 90.13%,#468bd3 90.79%,#468bd3 91.45%,#468bd3 92.11%,#468bd3 92.76%,#4c8ad6 93.42%,#5189da 94.08%,#6682e4 94.74%,#7776e9 95.39%,#5f84e1 96.05%,#468bd3 96.71%,#468bd3 97.37%,#468bd3 98.03%,#5f84e1 98.68%,#7776e9 99.34%,#9264ee 100%)"></i><i style="top:143.59px;background:linear-gradient(90deg,#4b8ad6 0%,#6283e2 0.66%,#5388db 1.32%,#468bd3 1.97%,#468bd3 2.63%,#468bd3 3.29%,#5887de 3.95%,#6c7fe6 4.61%,#7a74ea 5.26%,#8d68ed 5.92%,#7a74ea 6.58%,#6c7fe6 7.24%,#5f84e1 7.89%,#5189da 8.55%,#5787dd 9.21%,#5d85e0 9.87%,#7479e8 10.53%,#8b69ed 11.18%,#8c69ed 11.84%,#8d68ed 12.5%,#6a80e6 13.16%,#468bd3 13.82%,#468bd3 14.47%,#468bd3 15.13%,#428cd0 15.79%,#3f8dcd 16.45%,#3c8eca 17.11%,#398ec6 17.76%,#3290bc 18.42%,#2b92b2 19.08%,#2593aa 19.74%,#1f94a2 20.39%,#3091b9 21.05%,#478bd3 21.71%,#6881e5 22.37%,#886bed 23.03%,#6e7de7 23.68%,#5388db 24.34%,#3390bf 25%,#1f94a2 25.66%,#1f94a2 26.32%,#1f94a2 26.97%,#2693ab 27.63%,#2c92b4 28.29%,#498ad5 28.95%,#7379e8 29.61%,#7379e8 30.26%,#7379e8 30.92%,#7379e8 31.58%,#7379e8 32.24%,#7379e8 32.89%,#7379e8 33.55%,#a950ea 34.21%,#d030c6 34.87%,#6e7de7 35.53%,#149687 36.18%,#15968a 36.84%,#16968c 37.5%,#1d959d 38.16%,#2892ad 38.82%,#6e7de7 39.47%,#b545e1 40.13%,#a057ed 40.79%,#876cec 41.45%,#7776e9 42.11%,#5a86df 42.76%,#7875ea 43.42%,#9d59ee 44.08%,#9c5aee 44.74%,#9c5aee 45.39%,#995dee 46.05%,#9660ee 46.71%,#8e67ee 47.37%,#826feb 48.03%,#9660ee 48.68%,#a354ec 49.34%,#9264ee 50%,#7776e9 50.66%,#886bed 51.32%,#9660ee 51.97%,#9264ee 52.63%,#8d68ed 53.29%,#9264ee 53.95%,#9660ee 54.61%,#ad4ce7 55.26%,#c439d4 55.92%,#c439d4 56.58%,#c439d4 57.24%,#b049e4 57.89%,#9c5aee 58.55%,#995dee 59.21%,#9660ee 59.87%,#995dee 60.53%,#9c5aee 61.18%,#995dee 61.84%,#9660ee 62.5%,#8e67ee 63.16%,#826feb 63.82%,#ad4ce7 64.47%,#d030c6 65.13%,#c13bd7 65.79%,#b049e4 66.45%,#a751ea 67.11%,#9e58ed 67.76%,#9066ee 68.42%,#7776e9 69.08%,#727ae8 69.74%,#6c7ee7 70.39%,#5887de 71.05%,#468bd3 71.71%,#4b8ad6 72.37%,#5189da 73.03%,#5d85e0 73.68%,#6980e6 74.34%,#9660ee 75%,#b446e2 75.66%,#cb35cd 76.32%,#dc28b0 76.97%,#df2f93 77.63%,#de328c 78.29%,#b049e4 78.95%,#5887de 79.61%,#896aed 80.26%,#aa4fe9 80.92%,#b446e2 81.58%,#be3eda 82.24%,#b149e4 82.89%,#a354ec 83.55%,#9c5aee 84.21%,#9660ee 84.87%,#9363ee 85.53%,#8f67ee 86.18%,#9660ee 86.84%,#9c5aee 87.5%,#9264ee 88.16%,#826feb 88.82%,#6b7fe6 89.47%,#5189da 90.13%,#4c8ad6 90.79%,#468bd3 91.45%,#428cd0 92.11%,#3f8dcc 92.76%,#3c8ec9 93.42%,#398ec6 94.08%,#4b8ad6 94.74%,#6283e2 95.39%,#5388db 96.05%,#468bd3 96.71%,#468bd3 97.37%,#468bd3 98.03%,#5887de 98.68%,#6c7fe6 99.34%,#7a74ea 100%)"></i><i style="top:149.83px;background:linear-gradient(90deg,#3091b9 0%,#3a8ec7 0.66%,#408dcd 1.32%,#468bd3 1.97%,#468bd3 2.63%,#468bd3 3.29%,#4c8ad6 3.95%,#5189da 4.61%,#5787dd 5.26%,#5d85e0 5.92%,#5787dd 6.58%,#5189da 7.24%,#5f84e1 7.89%,#6c7fe6 8.55%,#5c85e0 9.21%,#4d8ad7 9.87%,#5488dc 10.53%,#5c85e0 11.18%,#5d85e0 11.84%,#5d85e0 12.5%,#5189da 13.16%,#468bd3 13.82%,#468bd3 14.47%,#468bd3 15.13%,#3c8eca 15.79%,#3490c0 16.45%,#2d91b6 17.11%,#2793ad 17.76%,#2593aa 18.42%,#2393a8 19.08%,#2194a5 19.74%,#1f94a2 20.39%,#2793ad 21.05%,#3091b9 21.71%,#3e8dcb 22.37%,#5089d9 23.03%,#3b8ec8 23.68%,#2c92b4 24.34%,#2693ab 25%,#1f94a2 25.66%,#1f94a2 26.32%,#1f94a2 26.97%,#2493a9 27.63%,#2a92b0 28.29%,#7478e9 28.95%,#b644e0 29.61%,#b644e0 30.26%,#b644e0 30.92%,#b644e0 31.58%,#b644e0 32.24%,#b644e0 32.89%,#b644e0 33.55%,#c439d4 34.21%,#d030c6 34.87%,#7975ea 35.53%,#1b9699 36.18%,#1f94a1 36.84%,#2493a8 37.5%,#2e91b6 38.16%,#398ec6 38.82%,#3e8dcc 39.47%,#448cd1 40.13%,#5588dc 40.79%,#6881e5 41.45%,#4a8ad5 42.11%,#3390bf 42.76%,#6881e5 43.42%,#9c5aee 44.08%,#9c5aee 44.74%,#9c5aee 45.39%,#9264ee 46.05%,#826feb 46.71%,#8e67ee 47.37%,#9660ee 48.03%,#a354ec 48.68%,#b149e4 49.34%,#995dee 50%,#7776e9 50.66%,#7c73ea 51.32%,#826feb 51.97%,#707be8 52.63%,#5d85e0 53.29%,#707be8 53.95%,#826feb 54.61%,#995dee 55.26%,#aa4fe9 55.92%,#aa4fe9 56.58%,#aa4fe9 57.24%,#a354ec 57.89%,#9c5aee 58.55%,#9264ee 59.21%,#826feb 59.87%,#9264ee 60.53%,#9c5aee 61.18%,#9264ee 61.84%,#826feb 62.5%,#8e67ee 63.16%,#9660ee 63.82%,#b446e2 64.47%,#d030c6 65.13%,#ba41dd 65.79%,#a354ec 66.45%,#9b5bee 67.11%,#9462ee 67.76%,#876cec 68.42%,#7776e9 69.08%,#6e7de7 69.74%,#6382e3 70.39%,#5388dc 71.05%,#468bd3 71.71%,#3e8dcb 72.37%,#378fc3 73.03%,#3f8dcd 73.68%,#498ad5 74.34%,#7c73ea 75%,#a453eb 75.66%,#ac4de8 76.32%,#b446e2 76.97%,#be3dd9 77.63%,#c836d0 78.29%,#bc3fdb 78.95%,#b149e4 79.61%,#bb41dd 80.26%,#c439d4 80.92%,#c837d0 81.58%,#cb35cd 82.24%,#be3eda 82.89%,#b149e4 83.55%,#b743df 84.21%,#be3eda 84.87%,#b446e2 85.53%,#aa4ee9 86.18%,#a354ec 86.84%,#9c5aee 87.5%,#995dee 88.16%,#9660ee 88.82%,#816feb 89.47%,#6c7fe6 90.13%,#5887de 90.79%,#468bd3 91.45%,#3b8ec8 92.11%,#3290bd 92.76%,#2d91b4 93.42%,#2793ad 94.08%,#3091b9 94.74%,#3a8ec7 95.39%,#408dcd 96.05%,#468bd3 96.71%,#468bd3 97.37%,#468bd3 98.03%,#4c8ad6 98.68%,#5189da 99.34%,#5787dd 100%)"></i><i style="top:156.08px;background:linear-gradient(90deg,#2693ac 0%,#2e91b6 0.66%,#388fc5 1.32%,#468bd3 1.97%,#468bd3 2.63%,#468bd3 3.29%,#468bd3 3.95%,#468bd3 4.61%,#468bd3 5.26%,#468bd3 5.92%,#468bd3 6.58%,#468bd3 7.24%,#5f84e1 7.89%,#7776e9 8.55%,#5f84e1 9.21%,#468bd3 9.87%,#468bd3 10.53%,#468bd3 11.18%,#468bd3 11.84%,#468bd3 12.5%,#468bd3 13.16%,#468bd3 13.82%,#3f8dcd 14.47%,#398ec6 15.13%,#3290bc 15.79%,#2b92b2 16.45%,#2593aa 17.11%,#1f94a2 17.76%,#1f94a2 18.42%,#1f94a2 19.08%,#1f94a2 19.74%,#1f94a2 20.39%,#2493a9 21.05%,#2992af 21.71%,#2f91b8 22.37%,#3590c1 23.03%,#2a92b0 23.68%,#1f94a2 24.34%,#1f94a2 25%,#1f94a2 25.66%,#1f94a2 26.32%,#1f94a2 26.97%,#2593aa 27.63%,#2c92b2 28.29%,#7d72eb 28.95%,#c03cd8 29.61%,#c638d2 30.26%,#cc34cb 30.92%,#ce32c9 31.58%,#d030c6 32.24%,#d030c6 32.89%,#d030c6 33.55%,#d030c6 34.21%,#d030c6 34.87%,#9066ee 35.53%,#2e91b6 36.18%,#378fc3 36.84%,#428cd0 37.5%,#5488dc 38.16%,#6a80e6 38.82%,#5488dc 39.47%,#438cd0 40.13%,#6383e3 40.79%,#826fec 41.45%,#6383e3 42.11%,#428cd0 42.76%,#6e7de7 43.42%,#9660ee 44.08%,#9264ee 44.74%,#8d68ed 45.39%,#816feb 46.05%,#7776e9 46.71%,#8e67ee 47.37%,#9c5aee 48.03%,#aa4fe9 48.68%,#b743df 49.34%,#9c5aee 50%,#7776e9 50.66%,#826fec 51.32%,#8f67ee 51.97%,#6681e4 52.63%,#3f8dcc 53.29%,#4f89d8 53.95%,#6283e2 54.61%,#7677e9 55.26%,#8d68ed 55.92%,#9264ee 56.58%,#9660ee 57.24%,#995dee 57.89%,#9c5aee 58.55%,#9264ee 59.21%,#826feb 59.87%,#8e67ee 60.53%,#9660ee 61.18%,#7c73ea 61.84%,#6283e2 62.5%,#727ae8 63.16%,#836fec 63.82%,#a651eb 64.47%,#c439d4 65.13%,#b049e4 65.79%,#9c5aee 66.45%,#9462ee 67.11%,#886bed 67.76%,#7f71eb 68.42%,#7776e9 69.08%,#6c7fe6 69.74%,#5f84e1 70.39%,#5189da 71.05%,#468bd3 71.71%,#388fc5 72.37%,#2e91b6 73.03%,#2d91b5 73.68%,#2d91b5 74.34%,#4d8ad7 75%,#7a74ea 75.66%,#846eec 76.32%,#8d68ed 76.97%,#9c5aee 77.63%,#aa4ee9 78.29%,#b446e2 78.95%,#be3eda 79.61%,#ba41dd 80.26%,#b644e0 80.92%,#b644e0 81.58%,#b644e0 82.24%,#b446e2 82.89%,#b149e4 83.55%,#ba41dd 84.21%,#c439d4 84.87%,#b743df 85.53%,#aa4ee9 86.18%,#a354ec 86.84%,#9c5aee 87.5%,#995dee 88.16%,#9660ee 88.82%,#816feb 89.47%,#6c7fe6 90.13%,#5388db 90.79%,#3f8dcc 91.45%,#3390be 92.11%,#2a92b0 92.76%,#2493a9 93.42%,#1f94a2 94.08%,#2693ac 94.74%,#2e91b6 95.39%,#388fc5 96.05%,#468bd3 96.71%,#468bd3 97.37%,#468bd3 98.03%,#468bd3 98.68%,#468bd3 99.34%,#468bd3 100%)"></i><i style="top:162.32px;background:linear-gradient(90deg,#2693ac 0%,#2e91b6 0.66%,#388fc5 1.32%,#468bd3 1.97%,#468bd3 2.63%,#468bd3 3.29%,#468bd3 3.95%,#468bd3 4.61%,#468bd3 5.26%,#468bd3 5.92%,#468bd3 6.58%,#468bd3 7.24%,#5f84e1 7.89%,#7776e9 8.55%,#5f84e1 9.21%,#468bd3 9.87%,#468bd3 10.53%,#468bd3 11.18%,#468bd3 11.84%,#468bd3 12.5%,#468bd3 13.16%,#468bd3 13.82%,#3490c0 14.47%,#2793ad 15.13%,#2593aa 15.79%,#2393a8 16.45%,#2194a5 17.11%,#1f94a2 17.76%,#1f94a2 18.42%,#1f94a2 19.08%,#1f94a2 19.74%,#1f94a2 20.39%,#2693ab 21.05%,#2d91b6 21.71%,#2d91b6 22.37%,#2d91b6 23.03%,#2693ab 23.68%,#1f94a2 24.34%,#1f94a2 25%,#1f94a2 25.66%,#1f94a2 26.32%,#1f94a2 26.97%,#2892ad 27.63%,#3191ba 28.29%,#6681e4 28.95%,#9c5aee 29.61%,#b04ae5 30.26%,#c33ad5 30.92%,#ca35ce 31.58%,#d030c6 32.24%,#d030c6 32.89%,#d030c6 33.55%,#d030c6 34.21%,#d030c6 34.87%,#a156ec 35.53%,#5a86df 36.18%,#6f7ce7 36.84%,#836fec 37.5%,#9660ee 38.16%,#a255ec 38.82%,#a750ea 39.47%,#ac4ce7 40.13%,#a156ec 40.79%,#9660ee 41.45%,#8f67ee 42.11%,#836fec 42.76%,#826fec 43.42%,#826feb 44.08%,#707be8 44.74%,#5d85e0 45.39%,#6b7fe6 46.05%,#7776e9 46.71%,#8e67ee 47.37%,#9c5aee 48.03%,#aa4fe9 48.68%,#b743df 49.34%,#9c5aee 50%,#7776e9 50.66%,#9660ee 51.32%,#aa4ee9 51.97%,#727ae8 52.63%,#3290bd 53.29%,#368fc2 53.95%,#3a8ec7 54.61%,#4a8ad5 55.26%,#5d85e0 55.92%,#707be8 56.58%,#826feb 57.24%,#9264ee 57.89%,#9c5aee 58.55%,#995dee 59.21%,#9660ee 59.87%,#8e67ee 60.53%,#826feb 61.18%,#5c85e0 61.84%,#3a8ec7 62.5%,#3e8dcc 63.16%,#428cd0 63.82%,#7d72eb 64.47%,#aa4fe9 65.13%,#a354ec 65.79%,#9c5aee 66.45%,#9165ee 67.11%,#7c73ea 67.76%,#7975ea 68.42%,#7776e9 69.08%,#6c7fe6 69.74%,#5f84e1 70.39%,#5189da 71.05%,#468bd3 71.71%,#388fc5 72.37%,#2e91b6 73.03%,#2094a4 73.68%,#189691 74.34%,#2393a7 75%,#3390bf 75.66%,#458bd2 76.32%,#5d85e0 76.97%,#7578e9 77.63%,#8f67ee 78.29%,#9363ee 78.95%,#9660ee 79.61%,#866cec 80.26%,#7379e8 80.92%,#7379e8 81.58%,#7379e8 82.24%,#9165ee 82.89%,#a354ec 83.55%,#a651eb 84.21%,#aa4fe9 84.87%,#9c5aee 85.53%,#8f67ee 86.18%,#9660ee 86.84%,#9c5aee 87.5%,#9264ee 88.16%,#826feb 88.82%,#6b7fe6 89.47%,#5189da 90.13%,#408dcd 90.79%,#3290bd 91.45%,#2a92b1 92.11%,#2393a7 92.76%,#2194a5 93.42%,#1f94a2 94.08%,#2693ac 94.74%,#2e91b6 95.39%,#388fc5 96.05%,#468bd3 96.71%,#468bd3 97.37%,#468bd3 98.03%,#468bd3 98.68%,#468bd3 99.34%,#468bd3 100%)"></i><i style="top:168.56px;background:linear-gradient(90deg,#2892ae 0%,#2e91b6 0.66%,#388fc5 1.32%,#468bd3 1.97%,#468bd3 2.63%,#468bd3 3.29%,#468bd3 3.95%,#468bd3 4.61%,#468bd3 5.26%,#468bd3 5.92%,#468bd3 6.58%,#468bd3 7.24%,#5f84e1 7.89%,#7776e9 8.55%,#5f84e1 9.21%,#468bd3 9.87%,#468bd3 10.53%,#468bd3 11.18%,#468bd3 11.84%,#468bd3 12.5%,#468bd3 13.16%,#468bd3 13.82%,#3390be 14.47%,#2593aa 15.13%,#2593aa 15.79%,#2593aa 16.45%,#2493a9 17.11%,#2393a7 17.76%,#2892ae 18.42%,#2e91b6 19.08%,#2e91b6 19.74%,#2e91b6 20.39%,#3191bb 21.05%,#3490c0 21.71%,#3091b9 22.37%,#2b92b2 23.03%,#2593aa 23.68%,#1f94a2 24.34%,#1f94a2 25%,#1f94a2 25.66%,#1f94a2 26.32%,#1f94a2 26.97%,#2c92b2 27.63%,#3a8ec7 28.29%,#5f84e1 28.95%,#886bed 29.61%,#a255ec 30.26%,#b942de 30.92%,#c539d3 31.58%,#d030c6 32.24%,#d030c6 32.89%,#d030c6 33.55%,#c13bd7 34.21%,#b149e4 34.87%,#a057ed 35.53%,#8f67ee 36.18%,#9660ee 36.84%,#9c5aee 37.5%,#a651eb 38.16%,#b149e4 38.82%,#b743df 39.47%,#be3eda 40.13%,#ad4ce7 40.79%,#9c5aee 41.45%,#995dee 42.11%,#9660ee 42.76%,#816feb 43.42%,#6c7fe6 44.08%,#5887de 44.74%,#468bd3 45.39%,#5f84e1 46.05%,#7776e9 46.71%,#8e67ee 47.37%,#9c5aee 48.03%,#a651eb 48.68%,#b149e4 49.34%,#9c5aee 50%,#826feb 50.66%,#9c5aee 51.32%,#b149e4 51.97%,#7d72eb 52.63%,#3a8ec7 53.29%,#3390bf 53.95%,#2e91b6 54.61%,#3390be 55.26%,#398ec6 55.92%,#488bd4 56.58%,#5a86df 57.24%,#6c7fe6 57.89%,#7a74ea 58.55%,#7a74ea 59.21%,#7a74ea 59.87%,#6f7ce7 60.53%,#6283e2 61.18%,#4c8ad7 61.84%,#3a8ec7 62.5%,#3e8dcc 63.16%,#428cd0 63.82%,#727ae8 64.47%,#9c5aee 65.13%,#9561ee 65.79%,#8d68ed 66.45%,#7677e9 67.11%,#6283e2 67.76%,#6283e2 68.42%,#6283e2 69.08%,#5887de 69.74%,#4f89d8 70.39%,#468bd3 71.05%,#3f8dcc 71.71%,#388fc5 72.37%,#3290bd 73.03%,#1f94a2 73.68%,#149687 74.34%,#1b9697 75%,#2393a7 75.66%,#3191bc 76.32%,#468bd3 76.97%,#6582e4 77.63%,#826feb 78.29%,#826feb 78.95%,#826feb 79.61%,#6084e1 80.26%,#3f8dcc 80.92%,#3f8dcc 81.58%,#3f8dcc 82.24%,#6582e4 82.89%,#8d68ed 83.55%,#9561ee 84.21%,#9c5aee 84.87%,#9264ee 85.53%,#826feb 86.18%,#8e67ee 86.84%,#9660ee 87.5%,#886bed 88.16%,#7776e9 88.82%,#5f84e1 89.47%,#468bd3 90.13%,#388fc5 90.79%,#2e91b6 91.45%,#2892ae 92.11%,#2393a7 92.76%,#2393a7 93.42%,#2393a7 94.08%,#2892ae 94.74%,#2e91b6 95.39%,#388fc5 96.05%,#468bd3 96.71%,#468bd3 97.37%,#468bd3 98.03%,#468bd3 98.68%,#468bd3 99.34%,#468bd3 100%)"></i><i style="top:174.81px;background:linear-gradient(90deg,#2c92b3 0%,#2e91b6 0.66%,#388fc5 1.32%,#468bd3 1.97%,#468bd3 2.63%,#468bd3 3.29%,#468bd3 3.95%,#468bd3 4.61%,#468bd3 5.26%,#468bd3 5.92%,#468bd3 6.58%,#468bd3 7.24%,#5f84e1 7.89%,#7776e9 8.55%,#5f84e1 9.21%,#468bd3 9.87%,#468bd3 10.53%,#468bd3 11.18%,#468bd3 11.84%,#468bd3 12.5%,#468bd3 13.16%,#468bd3 13.82%,#3b8ec8 14.47%,#3290bc 15.13%,#3191bc 15.79%,#3191bc 16.45%,#2e91b6 17.11%,#2a92b0 17.76%,#3d8dca 18.42%,#5a86df 19.08%,#5a86df 19.74%,#5a86df 20.39%,#4c8ad6 21.05%,#3f8dcd 21.71%,#3690c2 22.37%,#2e91b7 23.03%,#2793ac 23.68%,#1f94a2 24.34%,#1f94a2 25%,#1f94a2 25.66%,#1f94a2 26.32%,#1f94a2 26.97%,#3191ba 27.63%,#4a8ad5 28.29%,#6b7fe6 28.95%,#8b69ed 29.61%,#9e59ed 30.26%,#af4ae5 30.92%,#c03cd8 31.58%,#d030c6 32.24%,#d030c6 32.89%,#d030c6 33.55%,#a056ed 34.21%,#5787dd 34.87%,#8a6aed 35.53%,#aa4ee9 36.18%,#a354ec 36.84%,#9c5aee 37.5%,#9f57ed 38.16%,#a354ec 38.82%,#9c5aee 39.47%,#9660ee 40.13%,#995dee 40.79%,#9c5aee 41.45%,#9264ee 42.11%,#826feb 42.76%,#6b7fe6 43.42%,#5189da 44.08%,#4c8ad6 44.74%,#468bd3 45.39%,#5f84e1 46.05%,#7776e9 46.71%,#8e67ee 47.37%,#9c5aee 48.03%,#9f57ed 48.68%,#a354ec 49.34%,#9c5aee 50%,#9660ee 50.66%,#9c5aee 51.32%,#a354ec 51.97%,#896bed 52.63%,#6283e2 53.29%,#428cd0 53.95%,#2e91b6 54.61%,#2a92b1 55.26%,#2793ad 55.92%,#2a92b1 56.58%,#2e91b6 57.24%,#3091ba 57.89%,#3390bf 58.55%,#3390bf 59.21%,#3390bf 59.87%,#378fc3 60.53%,#3a8ec7 61.18%,#4c8ad7 61.84%,#6283e2 62.5%,#727ae8 63.16%,#836fec 63.82%,#9264ee 64.47%,#9c5aee 65.13%,#8070eb 65.79%,#5d85e0 66.45%,#4a8ad5 67.11%,#3a8ec7 67.76%,#3a8ec7 68.42%,#3a8ec7 69.08%,#388fc5 69.74%,#368fc2 70.39%,#3490c0 71.05%,#3290bd 71.71%,#388fc5 72.37%,#3f8dcc 73.03%,#2a92b0 73.68%,#1b9699 74.34%,#2194a5 75%,#2a92b0 75.66%,#3690c2 76.32%,#468bd3 76.97%,#6f7ce7 77.63%,#9660ee 78.29%,#9660ee 78.95%,#9660ee 79.61%,#6283e2 80.26%,#3290bd 80.92%,#3290bd 81.58%,#3290bd 82.24%,#448cd1 82.89%,#5d85e0 83.55%,#8070eb 84.21%,#9c5aee 84.87%,#995dee 85.53%,#9660ee 86.18%,#8e67ee 86.84%,#826feb 87.5%,#7c73ea 88.16%,#7776e9 88.82%,#5f84e1 89.47%,#468bd3 90.13%,#388fc5 90.79%,#2e91b6 91.45%,#2c92b3 92.11%,#2a92b0 92.76%,#2a92b0 93.42%,#2a92b0 94.08%,#2c92b3 94.74%,#2e91b6 95.39%,#388fc5 96.05%,#468bd3 96.71%,#468bd3 97.37%,#468bd3 98.03%,#468bd3 98.68%,#468bd3 99.34%,#468bd3 100%)"></i><i style="top:181.05px;background:linear-gradient(90deg,#3290bd 0%,#3290bd 0.66%,#3b8ec8 1.32%,#458bd2 1.97%,#468bd2 2.63%,#468bd3 3.29%,#468bd3 3.95%,#478bd3 4.61%,#468bd3 5.26%,#468bd3 5.92%,#468bd3 6.58%,#468bd3 7.24%,#5b85df 7.89%,#717ae8 8.55%,#5b85df 9.21%,#468bd3 9.87%,#468bd3 10.53%,#468bd3 11.18%,#468bd3 11.84%,#468bd3 12.5%,#468bd3 13.16%,#468bd3 13.82%,#428cd0 14.47%,#3f8dcd 15.13%,#428cd0 15.79%,#458bd2 16.45%,#408dcd 17.11%,#3a8ec7 17.76%,#6383e3 18.42%,#8f67ee 19.08%,#8f67ee 19.74%,#8f67ee 20.39%,#707be8 21.05%,#5189da 21.71%,#438cd1 22.37%,#378fc4 23.03%,#2c92b4 23.68%,#2393a7 24.34%,#2194a5 25%,#1f94a2 25.66%,#1f94a2 26.32%,#1f94a2 26.97%,#3a8ec7 27.63%,#6981e5 28.29%,#7a74ea 28.95%,#8f67ee 29.61%,#975fee 30.26%,#a057ed 30.92%,#b645e1 31.58%,#cb35cd 32.24%,#c837d0 32.89%,#c439d4 33.55%,#9363ee 34.21%,#428cd0 34.87%,#836eec 35.53%,#b149e4 36.18%,#a354ec 36.84%,#9660ee 37.5%,#8f67ee 38.16%,#836fec 38.82%,#6f7ce7 39.47%,#5a86df 40.13%,#6f7ce7 40.79%,#836fec 41.45%,#7677e9 42.11%,#6c7fe6 42.76%,#6582e4 43.42%,#5d85e0 44.08%,#5787dd 44.74%,#5189da 45.39%,#7578e9 46.05%,#9660ee 46.71%,#a057ed 47.37%,#aa4fe9 48.03%,#aa4fe9 48.68%,#aa4fe9 49.34%,#aa4fe9 50%,#aa4fe9 50.66%,#a354ec 51.32%,#9c5aee 51.97%,#876bec 52.63%,#6c7fe6 53.29%,#438cd1 53.95%,#2a92b0 54.61%,#2493a9 55.26%,#1f94a2 55.92%,#1d959e 56.58%,#1b9699 57.24%,#1b9699 57.89%,#1b9699 58.55%,#1d959e 59.21%,#1f94a2 59.87%,#2693ac 60.53%,#2e91b6 61.18%,#5189da 61.84%,#826feb 62.5%,#9660ee 63.16%,#a354ec 63.82%,#9f57ed 64.47%,#9c5aee 65.13%,#7478e9 65.79%,#468bd3 66.45%,#3b8ec8 67.11%,#3290bd 67.76%,#3290bd 68.42%,#3290bd 69.08%,#3091ba 69.74%,#2e91b6 70.39%,#2e91b6 71.05%,#2e91b6 71.71%,#3590c1 72.37%,#3f8dcc 73.03%,#2f91b8 73.68%,#2393a7 74.34%,#2e91b6 75%,#3a8ec7 75.66%,#458bd2 76.32%,#5189da 76.97%,#7578e9 77.63%,#9660ee 78.29%,#9660ee 78.95%,#9660ee 79.61%,#6981e5 80.26%,#3a8ec7 80.92%,#368fc2 81.58%,#3290bd 82.24%,#448cd1 82.89%,#5d85e0 83.55%,#8070eb 84.21%,#9c5aee 84.87%,#9c5aee 85.53%,#9c5aee 86.18%,#9264ee 86.84%,#826feb 87.5%,#7c73ea 88.16%,#7776e9 88.82%,#5f84e1 89.47%,#468bd3 90.13%,#3290bd 90.79%,#2493a8 91.45%,#2b92b1 92.11%,#3290bd 92.76%,#3290bd 93.42%,#3290bd 94.08%,#3290bd 94.74%,#3290bd 95.39%,#3b8ec8 96.05%,#458bd2 96.71%,#468bd2 97.37%,#468bd3 98.03%,#468bd3 98.68%,#478bd3 99.34%,#468bd3 100%)"></i><i style="top:187.29px;background:linear-gradient(90deg,#3f8dcc 0%,#3f8dcc 0.66%,#418ccf 1.32%,#438cd1 1.97%,#458bd2 2.63%,#468bd3 3.29%,#478bd4 3.95%,#498ad5 4.61%,#478bd4 5.26%,#468bd3 5.92%,#468bd3 6.58%,#468bd3 7.24%,#5488dc 7.89%,#6682e4 8.55%,#5488dc 9.21%,#468bd3 9.87%,#468bd3 10.53%,#468bd3 11.18%,#468bd3 11.84%,#468bd3 12.5%,#468bd3 13.16%,#468bd3 13.82%,#4a8ad5 14.47%,#4e89d8 15.13%,#5a86df 15.79%,#6881e5 16.45%,#6582e4 17.11%,#6283e2 17.76%,#8f67ee 18.42%,#aa4ee9 19.08%,#aa4ee9 19.74%,#aa4ee9 20.39%,#9264ee 21.05%,#6c7fe6 21.71%,#5c85e0 22.37%,#4d8ad7 23.03%,#388fc5 23.68%,#2a92b0 24.34%,#2493a9 25%,#1f94a2 25.66%,#1f94a2 26.32%,#1f94a2 26.97%,#4a8ad5 27.63%,#9066ee 28.29%,#9165ee 28.95%,#9264ee 29.61%,#8e67ee 30.26%,#886bed 30.92%,#a553eb 31.58%,#be3eda 32.24%,#b446e2 32.89%,#aa4fe9 33.55%,#995dee 34.21%,#836fec 34.87%,#9660ee 35.53%,#a354ec 36.18%,#9660ee 36.84%,#826feb 37.5%,#6283e3 38.16%,#428cd0 38.82%,#378fc3 39.47%,#2e91b6 40.13%,#378fc3 40.79%,#428cd0 41.45%,#4a8ad5 42.11%,#5189da 42.76%,#6f7ce7 43.42%,#8d68ed 44.08%,#7a74ea 44.74%,#6c7fe6 45.39%,#9c5aee 46.05%,#be3eda 46.71%,#c13bd7 47.37%,#c439d4 48.03%,#c439d4 48.68%,#c439d4 49.34%,#c439d4 50%,#c439d4 50.66%,#b049e4 51.32%,#9c5aee 51.97%,#7a74ea 52.63%,#5189da 53.29%,#3590c1 53.95%,#2393a7 54.61%,#2194a5 55.26%,#1f94a2 55.92%,#199695 56.58%,#149687 57.24%,#149687 57.89%,#149687 58.55%,#199695 59.21%,#1f94a2 59.87%,#2693ac 60.53%,#2e91b6 61.18%,#5d85e0 61.84%,#9660ee 62.5%,#a354ec 63.16%,#b149e4 63.82%,#a651eb 64.47%,#9c5aee 65.13%,#7478e9 65.79%,#468bd3 66.45%,#428cd0 67.11%,#3f8dcc 67.76%,#3f8dcc 68.42%,#3f8dcc 69.08%,#3590c1 69.74%,#2e91b6 70.39%,#2e91b6 71.05%,#2e91b6 71.71%,#3091ba 72.37%,#3290bd 73.03%,#2e91b7 73.68%,#2a92b0 74.34%,#408dcd 75%,#6283e2 75.66%,#6781e5 76.32%,#6c7fe6 76.97%,#7677e9 77.63%,#826feb 78.29%,#826feb 78.95%,#826feb 79.61%,#727ae8 80.26%,#6283e2 80.92%,#4f89d8 81.58%,#3f8dcc 82.24%,#6582e4 82.89%,#8d68ed 83.55%,#9561ee 84.21%,#9c5aee 84.87%,#9c5aee 85.53%,#9c5aee 86.18%,#995dee 86.84%,#9660ee 87.5%,#886bed 88.16%,#7776e9 88.82%,#5f84e1 89.47%,#468bd3 90.13%,#2892ad 90.79%,#16968c 91.45%,#2593aa 92.11%,#3f8dcc 92.76%,#3f8dcc 93.42%,#3f8dcc 94.08%,#3f8dcc 94.74%,#3f8dcc 95.39%,#418ccf 96.05%,#438cd1 96.71%,#458bd2 97.37%,#468bd3 98.03%,#478bd4 98.68%,#498ad5 99.34%,#478bd4 100%)"></i><i style="top:193.53px;background:linear-gradient(90deg,#488bd4 0%,#438cd1 0.66%,#428ccf 1.32%,#408dce 1.97%,#438cd0 2.63%,#468bd3 3.29%,#498ad5 3.95%,#4c8ad6 4.61%,#4c8ad6 5.26%,#4c8ad6 5.92%,#4b8ad6 6.58%,#4b8ad6 7.24%,#5388db 7.89%,#5b85df 8.55%,#5089d9 9.21%,#468bd3 9.87%,#468bd3 10.53%,#468bd3 11.18%,#468bd3 11.84%,#468bd3 12.5%,#468bd3 13.16%,#468bd3 13.82%,#4c8ad6 14.47%,#5189da 15.13%,#5f84e1 15.79%,#6c7fe6 16.45%,#717ae8 17.11%,#7776e9 17.76%,#a057ed 18.42%,#be3eda 19.08%,#be3eda 19.74%,#be3eda 20.39%,#a354ec 21.05%,#826feb 21.71%,#727ae8 22.37%,#6283e2 23.03%,#428cd0 23.68%,#2e91b6 24.34%,#2e91b6 25%,#2e91b6 25.66%,#2e91b6 26.32%,#2e91b6 26.97%,#6283e3 27.63%,#9c5aee 28.29%,#995dee 28.95%,#9660ee 29.61%,#9264ee 30.26%,#8f67ee 30.92%,#a057ed 31.58%,#b149e4 32.24%,#a651eb 32.89%,#9c5aee 33.55%,#9c5aee 34.21%,#9c5aee 34.87%,#9264ee 35.53%,#836fec 36.18%,#727ae8 36.84%,#6283e2 37.5%,#428cd0 38.16%,#2e91b6 38.82%,#2892ae 39.47%,#2393a7 40.13%,#2693ac 40.79%,#2a92b0 41.45%,#3690c2 42.11%,#468bd3 42.76%,#7478e9 43.42%,#9c5aee 44.08%,#9264ee 44.74%,#826feb 45.39%,#ad4ce7 46.05%,#d030c6 46.71%,#d030c6 47.37%,#d030c6 48.03%,#ce32ca 48.68%,#cb35cd 49.34%,#cb35cd 50%,#cb35cd 50.66%,#b446e2 51.32%,#9c5aee 51.97%,#7a74ea 52.63%,#5189da 53.29%,#3590c1 53.95%,#2393a7 54.61%,#2194a5 55.26%,#1f94a2 55.92%,#199695 56.58%,#149687 57.24%,#15968a 57.89%,#16968c 58.55%,#1d959d 59.21%,#2793ad 59.87%,#3390be 60.53%,#428cd0 61.18%,#7776e9 61.84%,#a354ec 62.5%,#b149e4 63.16%,#be3eda 63.82%,#b149e4 64.47%,#a354ec 65.13%,#7975ea 65.79%,#468bd3 66.45%,#428cd0 67.11%,#3f8dcc 67.76%,#3c8ec9 68.42%,#398ec6 69.08%,#3191bb 69.74%,#2a92b0 70.39%,#2c92b3 71.05%,#2e91b6 71.71%,#3091ba 72.37%,#3290bd 73.03%,#368fc2 73.68%,#3a8ec7 74.34%,#5687dd 75%,#7776e9 75.66%,#7776e9 76.32%,#7776e9 76.97%,#7776e9 77.63%,#7776e9 78.29%,#7776e9 78.95%,#7776e9 79.61%,#7776e9 80.26%,#7776e9 80.92%,#6682e4 81.58%,#5189da 82.24%,#7578e9 82.89%,#9660ee 83.55%,#995dee 84.21%,#9c5aee 84.87%,#9c5aee 85.53%,#9c5aee 86.18%,#995dee 86.84%,#9660ee 87.5%,#886bed 88.16%,#7776e9 88.82%,#5f84e1 89.47%,#468bd3 90.13%,#2693ab 90.79%,#149687 91.45%,#2c92b3 92.11%,#5d85e0 92.76%,#5488dc 93.42%,#4c8ad7 94.08%,#488bd4 94.74%,#438cd1 95.39%,#428ccf 96.05%,#408dce 96.71%,#438cd0 97.37%,#468bd3 98.03%,#498ad5 98.68%,#4c8ad6 99.34%,#4c8ad6 100%)"></i><i style="top:199.78px;background:linear-gradient(90deg,#4c8ad7 0%,#3f8dcd 0.66%,#3d8dcb 1.32%,#3c8ec9 1.97%,#408cce 2.63%,#468bd3 3.29%,#4b8ad6 3.95%,#4f89d9 4.61%,#5388db 5.26%,#5887de 5.92%,#5787dd 6.58%,#5687dd 7.24%,#5588dc 7.89%,#5488dc 8.55%,#4d8ad7 9.21%,#468bd3 9.87%,#468bd3 10.53%,#468bd3 11.18%,#468bd3 11.84%,#468bd3 12.5%,#468bd3 13.16%,#468bd3 13.82%,#488bd4 14.47%,#4a8ad5 15.13%,#4e89d8 15.79%,#5189da 16.45%,#6682e4 17.11%,#7776e9 17.76%,#a651eb 18.42%,#cb35cd 19.08%,#cb35cd 19.74%,#cb35cd 20.39%,#b049e4 21.05%,#9660ee 21.71%,#846dec 22.37%,#717be8 23.03%,#498bd4 23.68%,#2e91b6 24.34%,#408dcd 25%,#5a86df 25.66%,#5a86df 26.32%,#5a86df 26.97%,#7e71eb 27.63%,#9c5aee 28.29%,#9b5bee 28.95%,#9a5cee 29.61%,#a255ec 30.26%,#aa4ee9 30.92%,#a651eb 31.58%,#a354ec 32.24%,#9f57ed 32.89%,#9c5aee 33.55%,#9c5aee 34.21%,#9c5aee 34.87%,#727ae8 35.53%,#428cd0 36.18%,#3e8dcc 36.84%,#3a8ec7 37.5%,#3390bf 38.16%,#2e91b6 38.82%,#2c92b3 39.47%,#2a92b0 40.13%,#2693ac 40.79%,#2393a7 41.45%,#3191bc 42.11%,#468bd3 42.76%,#7478e9 43.42%,#9c5aee 44.08%,#995dee 44.74%,#9660ee 45.39%,#b446e2 46.05%,#d030c6 46.71%,#d030c6 47.37%,#d030c6 48.03%,#c837d0 48.68%,#be3eda 49.34%,#be3eda 50%,#be3eda 50.66%,#ad4ce7 51.32%,#9c5aee 51.97%,#876bec 52.63%,#6c7fe6 53.29%,#438cd1 53.95%,#2a92b0 54.61%,#2493a9 55.26%,#1f94a2 55.92%,#1d959e 56.58%,#1b9699 57.24%,#1f94a1 57.89%,#2493a8 58.55%,#2e91b6 59.21%,#398ec6 59.87%,#5c85e0 60.53%,#836fec 61.18%,#9c5aee 61.84%,#b149e4 62.5%,#be3eda 63.16%,#cb35cd 63.82%,#be3eda 64.47%,#b149e4 65.13%,#866dec 65.79%,#468bd3 66.45%,#3b8ec8 67.11%,#3290bd 67.76%,#2d91b4 68.42%,#2793ad 69.08%,#2593aa 69.74%,#2393a7 70.39%,#2892ae 71.05%,#2e91b6 71.71%,#3590c1 72.37%,#3f8dcc 73.03%,#4f89d8 73.68%,#6283e2 74.34%,#6d7de7 75%,#7776e9 75.66%,#7776e9 76.32%,#7776e9 76.97%,#7776e9 77.63%,#7776e9 78.29%,#7776e9 78.95%,#7776e9 79.61%,#7776e9 80.26%,#7776e9 80.92%,#717ae8 81.58%,#6c7fe6 82.24%,#7677e9 82.89%,#826feb 83.55%,#9264ee 84.21%,#9c5aee 84.87%,#9c5aee 85.53%,#9c5aee 86.18%,#9264ee 86.84%,#826feb 87.5%,#7c73ea 88.16%,#7776e9 88.82%,#5f84e1 89.47%,#468bd3 90.13%,#2c92b4 90.79%,#1b9699 91.45%,#428cd0 92.11%,#8d68ed 92.76%,#7379e8 93.42%,#5b86df 94.08%,#4c8ad7 94.74%,#3f8dcd 95.39%,#3d8dcb 96.05%,#3c8ec9 96.71%,#408cce 97.37%,#468bd3 98.03%,#4b8ad6 98.68%,#4f89d9 99.34%,#5388db 100%)"></i><i style="top:206.02px;background:linear-gradient(90deg,#428cd0 0%,#368fc2 0.66%,#368fc3 1.32%,#378fc3 1.97%,#3e8dcb 2.63%,#468bd3 3.29%,#4d8ad7 3.95%,#5488dc 4.61%,#5b85df 5.26%,#6283e2 5.92%,#6283e2 6.58%,#6283e2 7.24%,#5e84e1 7.89%,#5a86df 8.55%,#5488dc 9.21%,#4e89d8 9.87%,#4d89d8 10.53%,#4d8ad7 11.18%,#4b8ad6 11.84%,#4a8ad5 12.5%,#488bd4 13.16%,#468bd3 13.82%,#468bd3 14.47%,#468bd3 15.13%,#468bd3 15.79%,#468bd3 16.45%,#5f84e1 17.11%,#7776e9 17.76%,#a354ec 18.42%,#c439d4 19.08%,#c13bd7 19.74%,#be3eda 20.39%,#a652eb 21.05%,#8d68ed 21.71%,#7a74ea 22.37%,#6c7fe6 23.03%,#5089d9 23.68%,#3a8ec7 24.34%,#5c85e0 25%,#826feb 25.66%,#886bed 26.32%,#8f67ee 26.97%,#9660ee 27.63%,#9c5aee 28.29%,#9c5aee 28.95%,#9c5aee 29.61%,#9c5aee 30.26%,#9d59ee 30.92%,#9363ee 31.58%,#836fec 32.24%,#8f67ee 32.89%,#9660ee 33.55%,#9660ee 34.21%,#9660ee 34.87%,#6981e5 35.53%,#3a8ec7 36.18%,#3e8dcc 36.84%,#428cd0 37.5%,#428cd0 38.16%,#428cd0 38.82%,#3e8dcc 39.47%,#3a8ec7 40.13%,#3091b9 40.79%,#2793ad 41.45%,#3490c0 42.11%,#468bd3 42.76%,#6f7ce7 43.42%,#9660ee 44.08%,#9264ee 44.74%,#8d68ed 45.39%,#a255ec 46.05%,#b644e0 46.71%,#bd3eda 47.37%,#c439d4 48.03%,#ba41dd 48.68%,#b149e4 49.34%,#ad4ce6 50%,#aa4ee9 50.66%,#975fee 51.32%,#7a74ea 51.97%,#6c7fe6 52.63%,#5a86df 53.29%,#3d8dca 53.95%,#2a92b0 54.61%,#2493a9 55.26%,#1f94a2 55.92%,#1f94a2 56.58%,#1f94a2 57.24%,#2493a9 57.89%,#2a92b0 58.55%,#3390be 59.21%,#3f8dcc 59.87%,#6582e4 60.53%,#8d68ed 61.18%,#985eee 61.84%,#a255ec 62.5%,#ac4ce7 63.16%,#b644e0 63.82%,#ac4ce7 64.47%,#a255ec 65.13%,#7578e9 65.79%,#3f8dcc 66.45%,#3390be 67.11%,#2a92b0 67.76%,#2493a9 68.42%,#1f94a2 69.08%,#1f94a2 69.74%,#1f94a2 70.39%,#2693ac 71.05%,#2e91b6 71.71%,#388fc5 72.37%,#468bd3 73.03%,#5887de 73.68%,#6c7fe6 74.34%,#6781e5 75%,#6283e2 75.66%,#6881e5 76.32%,#6d7de7 76.97%,#727ae8 77.63%,#7776e9 78.29%,#7776e9 78.95%,#7776e9 79.61%,#7776e9 80.26%,#7776e9 80.92%,#7776e9 81.58%,#7776e9 82.24%,#7c73ea 82.89%,#826feb 83.55%,#9264ee 84.21%,#9c5aee 84.87%,#995dee 85.53%,#9660ee 86.18%,#8e67ee 86.84%,#826feb 87.5%,#7c73ea 88.16%,#7776e9 88.82%,#5f84e1 89.47%,#468bd3 90.13%,#3490c0 90.79%,#2793ad 91.45%,#4f89d9 92.11%,#8d68ed 92.76%,#6f7ce7 93.42%,#5189da 94.08%,#428cd0 94.74%,#368fc2 95.39%,#368fc3 96.05%,#378fc3 96.71%,#3e8dcb 97.37%,#468bd3 98.03%,#4d8ad7 98.68%,#5488dc 99.34%,#5b85df 100%)"></i><i style="top:212.26px;background:linear-gradient(90deg,#3191bb 0%,#2b92b2 0.66%,#2e91b7 1.32%,#3290bc 1.97%,#3b8ec8 2.63%,#468bd3 3.29%,#5089d9 3.95%,#5b85df 4.61%,#6283e2 5.26%,#6980e6 5.92%,#6b7fe6 6.58%,#6d7ee7 7.24%,#6d7ee7 7.89%,#6d7ee7 8.55%,#6781e5 9.21%,#6283e2 9.87%,#5e84e1 10.53%,#5b86df 11.18%,#58d 11.84%,#5189da 12.5%,#4b8ad6 13.16%,#468bd3 13.82%,#468bd3 14.47%,#468bd3 15.13%,#468bd3 15.79%,#468bd3 16.45%,#5f84e1 17.11%,#7776e9 17.76%,#9660ee 18.42%,#aa4fe9 19.08%,#a057ed 19.74%,#9660ee 20.39%,#7a74ea 21.05%,#5d85e0 21.71%,#5787dd 22.37%,#5189da 23.03%,#5986de 23.68%,#6283e2 24.34%,#7c73ea 25%,#9660ee 25.66%,#a057ed 26.32%,#aa4ee9 26.97%,#a354ec 27.63%,#9c5aee 28.29%,#9c5aee 28.95%,#9c5aee 29.61%,#7776e9 30.26%,#4d8ad7 30.92%,#478bd4 31.58%,#428cd0 32.24%,#6283e3 32.89%,#826feb 33.55%,#826feb 34.21%,#826feb 34.87%,#727ae8 35.53%,#6283e2 36.18%,#727ae8 36.84%,#836fec 37.5%,#836fec 38.16%,#836fec 38.82%,#727ae8 39.47%,#6283e2 40.13%,#4b8ad6 40.79%,#398ec6 41.45%,#3f8dcd 42.11%,#468bd3 42.76%,#6582e4 43.42%,#826feb 44.08%,#707be8 44.74%,#5d85e0 45.39%,#6980e6 46.05%,#7379e8 46.71%,#9462ee 47.37%,#aa4fe9 48.03%,#a651eb 48.68%,#a354ec 49.34%,#995dee 50%,#8f67ee 50.66%,#5d85e0 51.32%,#3390bf 51.97%,#3091ba 52.63%,#2e91b6 53.29%,#2892ae 53.95%,#2393a7 54.61%,#2194a5 55.26%,#1f94a2 55.92%,#1f94a2 56.58%,#1f94a2 57.24%,#2194a5 57.89%,#2393a7 58.55%,#2a92b1 59.21%,#3290bd 59.87%,#448cd1 60.53%,#5d85e0 61.18%,#6382e3 61.84%,#6a80e6 62.5%,#6e7de7 63.16%,#7379e8 63.82%,#6e7de7 64.47%,#6a80e6 65.13%,#498ad5 65.79%,#3290bd 66.45%,#2a92b1 67.11%,#2393a7 67.76%,#2194a5 68.42%,#1f94a2 69.08%,#1f94a2 69.74%,#1f94a2 70.39%,#2693ac 71.05%,#2e91b6 71.71%,#388fc5 72.37%,#468bd3 73.03%,#4c8ad6 73.68%,#5189da 74.34%,#458bd2 75%,#3a8ec7 75.66%,#478bd3 76.32%,#5687dd 76.97%,#6881e5 77.63%,#7776e9 78.29%,#7776e9 78.95%,#7776e9 79.61%,#7776e9 80.26%,#7776e9 80.92%,#7776e9 81.58%,#7776e9 82.24%,#886bed 82.89%,#9660ee 83.55%,#995dee 84.21%,#9c5aee 84.87%,#9264ee 85.53%,#826feb 86.18%,#8e67ee 86.84%,#9660ee 87.5%,#886bed 88.16%,#7776e9 88.82%,#5f84e1 89.47%,#468bd3 90.13%,#3f8dcd 90.79%,#398ec6 91.45%,#498ad5 92.11%,#5d85e0 92.76%,#478bd4 93.42%,#378fc3 94.08%,#3191bb 94.74%,#2b92b2 95.39%,#2e91b7 96.05%,#3290bc 96.71%,#3b8ec8 97.37%,#468bd3 98.03%,#5089d9 98.68%,#5b85df 99.34%,#6283e2 100%)"></i><i style="top:218.51px;background:linear-gradient(90deg,#2992af 0%,#2493a9 0.66%,#2892ae 1.32%,#2b92b2 1.97%,#378fc3 2.63%,#468bd3 3.29%,#5488dc 3.95%,#6682e4 4.61%,#6b80e6 5.26%,#6f7de7 5.92%,#717be8 6.58%,#7379e8 7.24%,#7479e8 7.89%,#7578e9 8.55%,#7578e9 9.21%,#7577e9 9.87%,#717ae8 10.53%,#6d7de7 11.18%,#6682e4 11.84%,#5d85e0 12.5%,#5189da 13.16%,#468bd3 13.82%,#468bd3 14.47%,#468bd3 15.13%,#5189da 15.79%,#5d85e0 16.45%,#7578e9 17.11%,#8f67ee 17.76%,#9264ee 18.42%,#9660ee 19.08%,#816feb 19.74%,#6c7fe6 20.39%,#5388db 21.05%,#3f8dcc 21.71%,#478bd4 22.37%,#5189da 23.03%,#6682e4 23.68%,#7776e9 24.34%,#8e67ee 25%,#9c5aee 25.66%,#a651eb 26.32%,#b149e4 26.97%,#ad4ce7 27.63%,#aa4fe9 28.29%,#aa4fe9 28.95%,#aa4fe9 29.61%,#896aed 30.26%,#5787dd 30.92%,#5289da 31.58%,#4d8ad7 32.24%,#6980e5 32.89%,#826feb 33.55%,#7c73ea 34.21%,#7776e9 34.87%,#7776e9 35.53%,#7776e9 36.18%,#8e67ee 36.84%,#9c5aee 37.5%,#9c5aee 38.16%,#9c5aee 38.82%,#9264ee 39.47%,#826feb 40.13%,#7578e9 40.79%,#6a80e6 41.45%,#5d85e0 42.11%,#5189da 42.76%,#5f84e1 43.42%,#6c7fe6 44.08%,#5887de 44.74%,#468bd3 45.39%,#468bd3 46.05%,#468bd3 46.71%,#6f7ce7 47.37%,#9660ee 48.03%,#995dee 48.68%,#9c5aee 49.34%,#9264ee 50%,#826feb 50.66%,#5d85e0 51.32%,#3b8ec8 51.97%,#3b8ec8 52.63%,#3b8ec8 53.29%,#378fc3 53.95%,#3390bf 54.61%,#3390bf 55.26%,#3390bf 55.92%,#3390bf 56.58%,#3390bf 57.24%,#378fc3 57.89%,#3b8ec8 58.55%,#488bd4 59.21%,#5787dd 59.87%,#5a86df 60.53%,#5d85e0 61.18%,#5787dd 61.84%,#5189da 62.5%,#5189da 63.16%,#5189da 63.82%,#5787dd 64.47%,#5d85e0 65.13%,#4a8ad5 65.79%,#3a8ec7 66.45%,#3091b9 67.11%,#2793ad 67.76%,#2a92b1 68.42%,#2e91b6 69.08%,#3091ba 69.74%,#3390bf 70.39%,#3e8dcc 71.05%,#4d8ad7 71.71%,#5488dc 72.37%,#5d85e0 73.03%,#4d8ad7 73.68%,#3f8dcc 74.34%,#388fc5 75%,#3290bd 75.66%,#3d8dca 76.32%,#4b8ad6 76.97%,#5e84e0 77.63%,#717ae8 78.29%,#7478e9 78.95%,#7776e9 79.61%,#7776e9 80.26%,#7776e9 80.92%,#7975ea 81.58%,#7c73ea 82.24%,#9165ee 82.89%,#9c5aee 83.55%,#9c5aee 84.21%,#9c5aee 84.87%,#9264ee 85.53%,#826feb 86.18%,#9264ee 86.84%,#9c5aee 87.5%,#8e67ee 88.16%,#7776e9 88.82%,#5f84e1 89.47%,#468bd3 90.13%,#468bd3 90.79%,#468bd3 91.45%,#4c8ad6 92.11%,#5189da 92.76%,#3d8eca 93.42%,#2e91b6 94.08%,#2992af 94.74%,#2493a9 95.39%,#2892ae 96.05%,#2b92b2 96.71%,#378fc3 97.37%,#468bd3 98.03%,#5488dc 98.68%,#6682e4 99.34%,#6b80e6 100%)"></i><i style="top:224.75px;background:linear-gradient(90deg,#2793ad 0%,#2194a5 0.66%,#2294a6 1.32%,#2393a8 1.97%,#3290bc 2.63%,#468bd3 3.29%,#5b85df 3.95%,#717ae8 4.61%,#7379e8 5.26%,#7478e9 5.92%,#7578e9 6.58%,#7577e9 7.24%,#7677e9 7.89%,#7677e9 8.55%,#816feb 9.21%,#8d68ed 9.87%,#876cec 10.53%,#816feb 11.18%,#7777e9 11.84%,#6d7de7 12.5%,#5986de 13.16%,#468bd3 13.82%,#468bd3 14.47%,#468bd3 15.13%,#6a80e6 15.79%,#8d68ed 16.45%,#9c5aee 17.11%,#aa4ee9 17.76%,#995dee 18.42%,#826feb 19.08%,#6b7fe6 19.74%,#5189da 20.39%,#408dcd 21.05%,#3290bd 21.71%,#4b8ad6 22.37%,#6c7fe6 23.03%,#717ae8 23.68%,#7776e9 24.34%,#8e67ee 25%,#9c5aee 25.66%,#9f57ed 26.32%,#a354ec 26.97%,#b446e2 27.63%,#c439d4 28.29%,#c439d4 28.95%,#c439d4 29.61%,#bb41dd 30.26%,#b149e4 30.92%,#a751ea 31.58%,#9d59ee 32.24%,#995dee 32.89%,#9660ee 33.55%,#886bed 34.21%,#7776e9 34.87%,#7776e9 35.53%,#7776e9 36.18%,#8e67ee 36.84%,#9c5aee 37.5%,#9c5aee 38.16%,#9c5aee 38.82%,#995dee 39.47%,#9660ee 40.13%,#9c5aee 40.79%,#a255ec 41.45%,#8d68ee 42.11%,#6c7fe6 42.76%,#5f84e1 43.42%,#5189da 44.08%,#4c8ad6 44.74%,#468bd3 45.39%,#468bd3 46.05%,#468bd3 46.71%,#6582e4 47.37%,#826feb 48.03%,#9264ee 48.68%,#9c5aee 49.34%,#995dee 50%,#9660ee 50.66%,#975fee 51.32%,#995dee 51.97%,#995dee 52.63%,#995dee 53.29%,#8d68ee 53.95%,#7a74ea 54.61%,#7a74ea 55.26%,#7a74ea 55.92%,#7a74ea 56.58%,#7a74ea 57.24%,#8d68ee 57.89%,#995dee 58.55%,#a553eb 59.21%,#b149e4 59.87%,#9f57ed 60.53%,#8d68ed 61.18%,#7a74ea 61.84%,#6c7fe6 62.5%,#6c7fe6 63.16%,#6c7fe6 63.82%,#7a74ea 64.47%,#8d68ed 65.13%,#7677e9 65.79%,#6283e2 66.45%,#4b8ad6 67.11%,#398ec6 67.76%,#488bd4 68.42%,#5a86df 69.08%,#6c7fe6 69.74%,#7a74ea 70.39%,#9165ee 71.05%,#9d59ee 71.71%,#9660ee 72.37%,#8d68ed 73.03%,#5b86df 73.68%,#3290bd 74.34%,#388fc5 75%,#3f8dcc 75.66%,#438cd0 76.32%,#488bd4 76.97%,#58d 77.63%,#6682e4 78.29%,#6f7de7 78.95%,#7776e9 79.61%,#7776e9 80.26%,#7776e9 80.92%,#7f71eb 81.58%,#886bed 82.24%,#9462ee 82.89%,#9c5aee 83.55%,#9c5aee 84.21%,#9c5aee 84.87%,#995dee 85.53%,#9660ee 86.18%,#995dee 86.84%,#9c5aee 87.5%,#8e67ee 88.16%,#7776e9 88.82%,#5f84e1 89.47%,#468bd3 90.13%,#468bd3 90.79%,#468bd3 91.45%,#5887de 92.11%,#6c7fe6 92.76%,#468bd3 93.42%,#2e91b6 94.08%,#2793ad 94.74%,#2194a5 95.39%,#2294a6 96.05%,#2393a8 96.71%,#3290bc 97.37%,#468bd3 98.03%,#5b85df 98.68%,#717ae8 99.34%,#7379e8 100%)"></i><i style="top:230.99px;background:linear-gradient(90deg,#2194a5 0%,#1f94a2 0.66%,#1f94a2 1.32%,#1f94a2 1.97%,#3390be 2.63%,#5189da 3.29%,#6682e4 3.95%,#7776e9 4.61%,#886bed 5.26%,#9561ee 5.92%,#9a5cee 6.58%,#9f58ed 7.24%,#9d5aee 7.89%,#9a5cee 8.55%,#995dee 9.21%,#975fee 9.87%,#9462ee 10.53%,#9264ee 11.18%,#896aed 11.84%,#8070eb 12.5%,#6f7ce7 13.16%,#5d85e0 13.82%,#5787dd 14.47%,#5189da 15.13%,#7578e9 15.79%,#9660ee 16.45%,#9c5aee 17.11%,#a255ec 17.76%,#846eec 18.42%,#5a86df 19.08%,#4b8ad6 19.74%,#3f8dcc 20.39%,#3d8eca 21.05%,#3a8ec7 21.71%,#5c85e0 22.37%,#826feb 23.03%,#7c73ea 23.68%,#7776e9 24.34%,#7975ea 25%,#7a74ea 25.66%,#9066ee 26.32%,#9c5aee 26.97%,#b744e0 27.63%,#d030c6 28.29%,#d030c6 28.95%,#d030c6 29.61%,#d030c6 30.26%,#d030c6 30.92%,#c837d0 31.58%,#be3eda 32.24%,#ad4ce7 32.89%,#9c5aee 33.55%,#9264ee 34.21%,#826feb 34.87%,#7c73ea 35.53%,#7776e9 36.18%,#886bed 36.84%,#9660ee 37.5%,#995dee 38.16%,#9c5aee 38.82%,#9c5aee 39.47%,#9c5aee 40.13%,#a651eb 40.79%,#b149e4 41.45%,#9363ee 42.11%,#6283e2 42.76%,#458bd2 43.42%,#3191bc 44.08%,#3191bc 44.74%,#3191bc 45.39%,#3590c1 46.05%,#398ec6 46.71%,#4f89d9 47.37%,#6c7fe6 48.03%,#816feb 48.68%,#9660ee 49.34%,#9264ee 50%,#8d68ed 50.66%,#a354ec 51.32%,#b743df 51.97%,#b743df 52.63%,#b743df 53.29%,#aa4fe9 53.95%,#9c5aee 54.61%,#9c5aee 55.26%,#9c5aee 55.92%,#9c5aee 56.58%,#9c5aee 57.24%,#a651eb 57.89%,#b149e4 58.55%,#be3eda 59.21%,#cb35cd 59.87%,#b049e4 60.53%,#9660ee 61.18%,#816feb 61.84%,#6c7fe6 62.5%,#6c7fe6 63.16%,#6c7fe6 63.82%,#7a74ea 64.47%,#8d68ed 65.13%,#7a74ea 65.79%,#6c7fe6 66.45%,#5388db 67.11%,#3f8dcc 67.76%,#4b8ad6 68.42%,#5a86df 69.08%,#6f7ce7 69.74%,#836fec 70.39%,#9660ee 71.05%,#a255ec 71.71%,#9c5aee 72.37%,#9660ee 73.03%,#6e7de7 73.68%,#428cd0 74.34%,#4f89d9 75%,#5d85e0 75.66%,#5d85e0 76.32%,#5d85e0 76.97%,#6781e5 77.63%,#707be8 78.29%,#7578e9 78.95%,#7a74ea 79.61%,#7875ea 80.26%,#7776e9 80.92%,#846eec 81.58%,#9165ee 82.24%,#9660ee 82.89%,#9c5aee 83.55%,#9c5aee 84.21%,#9c5aee 84.87%,#9c5aee 85.53%,#9c5aee 86.18%,#9c5aee 86.84%,#9c5aee 87.5%,#876bec 88.16%,#6c7fe6 88.82%,#5887de 89.47%,#468bd3 90.13%,#3f8dcd 90.79%,#398ec6 91.45%,#428cd0 92.11%,#4d89d8 92.76%,#3490c0 93.42%,#2493a8 94.08%,#2194a5 94.74%,#1f94a2 95.39%,#1f94a2 96.05%,#1f94a2 96.71%,#3390be 97.37%,#5189da 98.03%,#6682e4 98.68%,#7776e9 99.34%,#886bed 100%)"></i><i style="top:237.24px;background:linear-gradient(90deg,#1b9697 0%,#1f94a2 0.66%,#1f94a2 1.32%,#1f94a2 1.97%,#3b8ec8 2.63%,#6c7fe6 3.29%,#717ae8 3.95%,#7776e9 4.61%,#9f58ed 5.26%,#bc40dc 5.92%,#ca35ce 6.58%,#d52cbf 7.24%,#d030c6 7.89%,#cc34cc 8.55%,#b347e2 9.21%,#9a5cee 9.87%,#995dee 10.53%,#995dee 11.18%,#975fee 11.84%,#9561ee 12.5%,#9264ee 13.16%,#8d68ed 13.82%,#7a74ea 14.47%,#6c7fe6 15.13%,#7677e9 15.79%,#826feb 16.45%,#7578e9 17.11%,#6a80e6 17.76%,#458bd2 18.42%,#2e91b6 19.08%,#3091b9 19.74%,#3290bd 20.39%,#468bd3 21.05%,#6283e2 21.71%,#7c73ea 22.37%,#9660ee 23.03%,#886bed 23.68%,#7776e9 24.34%,#5189da 25%,#3390bf 25.66%,#6981e5 26.32%,#9c5aee 26.97%,#b744e0 27.63%,#d030c6 28.29%,#d030c6 28.95%,#d030c6 29.61%,#d030c6 30.26%,#d030c6 30.92%,#ce32ca 31.58%,#cb35cd 32.24%,#b446e2 32.89%,#9c5aee 33.55%,#995dee 34.21%,#9660ee 34.87%,#886bed 35.53%,#7776e9 36.18%,#7c73ea 36.84%,#826feb 37.5%,#9264ee 38.16%,#9c5aee 38.82%,#9c5aee 39.47%,#9c5aee 40.13%,#9f57ed 40.79%,#a354ec 41.45%,#737ae8 42.11%,#3a8ec7 42.76%,#2693ab 43.42%,#199693 44.08%,#199693 44.74%,#199693 45.39%,#1e94a0 46.05%,#2793ad 46.71%,#388fc5 47.37%,#5189da 48.03%,#6b7fe6 48.68%,#826feb 49.34%,#707be8 50%,#5d85e0 50.66%,#9561ee 51.32%,#b743df 51.97%,#b743df 52.63%,#b743df 53.29%,#aa4fe9 53.95%,#9c5aee 54.61%,#9c5aee 55.26%,#9c5aee 55.92%,#9c5aee 56.58%,#9c5aee 57.24%,#9f57ed 57.89%,#a354ec 58.55%,#b149e4 59.21%,#be3eda 59.87%,#a354ec 60.53%,#826feb 61.18%,#6b7fe6 61.84%,#5189da 62.5%,#5189da 63.16%,#5189da 63.82%,#5787dd 64.47%,#5d85e0 65.13%,#5787dd 65.79%,#5189da 66.45%,#408dcd 67.11%,#3290bd 67.76%,#3091b9 68.42%,#2e91b6 69.08%,#378fc3 69.74%,#428cd0 70.39%,#5488dc 71.05%,#6a80e6 71.71%,#7578e9 72.37%,#826feb 73.03%,#826fec 73.68%,#836fec 74.34%,#886bec 75%,#8d68ed 75.66%,#8d68ed 76.32%,#8d68ed 76.97%,#9066ee 77.63%,#9264ee 78.29%,#8b69ed 78.95%,#826feb 79.61%,#7c73ea 80.26%,#7776e9 80.92%,#876cec 81.58%,#9462ee 82.24%,#985eee 82.89%,#9c5aee 83.55%,#9c5aee 84.21%,#9c5aee 84.87%,#9c5aee 85.53%,#9c5aee 86.18%,#9c5aee 86.84%,#9c5aee 87.5%,#7a74ea 88.16%,#5189da 88.82%,#4c8ad6 89.47%,#468bd3 90.13%,#3490c0 90.79%,#2793ad 91.45%,#2194a5 92.11%,#1c959c 92.76%,#199694 93.42%,#16968c 94.08%,#1b9697 94.74%,#1f94a2 95.39%,#1f94a2 96.05%,#1f94a2 96.71%,#3b8ec8 97.37%,#6c7fe6 98.03%,#717ae8 98.68%,#7776e9 99.34%,#9f58ed 100%)"></i><i style="top:243.48px;background:linear-gradient(90deg,#1c959b 0%,#2793ad 0.66%,#2a92b1 1.32%,#2e91b6 1.97%,#5189da 2.63%,#826feb 3.29%,#886bed 3.95%,#8f67ee 4.61%,#b942de 5.26%,#db29b2 5.92%,#e02b9a 6.58%,#dd3a7c 7.24%,#de3389 7.89%,#df2d97 8.55%,#cc34cc 9.21%,#a651eb 9.87%,#a056ed 10.53%,#9a5cee 11.18%,#9a5cee 11.84%,#995dee 12.5%,#975fee 13.16%,#9660ee 13.82%,#816feb 14.47%,#6c7fe6 15.13%,#6c7fe6 15.79%,#6c7fe6 16.45%,#4f89d9 17.11%,#398ec6 17.76%,#2892ae 18.42%,#1b9699 19.08%,#2194a5 19.74%,#2a92b0 20.39%,#498bd4 21.05%,#7776e9 21.71%,#9264ee 22.37%,#a354ec 23.03%,#8e67ee 23.68%,#6c7fe6 24.34%,#3b8ec8 25%,#1f94a2 25.66%,#5388db 26.32%,#9c5aee 26.97%,#ad4ce7 27.63%,#be3eda 28.29%,#c13bd7 28.95%,#c439d4 29.61%,#c837d0 30.26%,#cb35cd 30.92%,#ce32ca 31.58%,#d030c6 32.24%,#be3eda 32.89%,#aa4fe9 33.55%,#a651eb 34.21%,#a354ec 34.87%,#8e67ee 35.53%,#6c7fe6 36.18%,#6c7fe6 36.84%,#6c7fe6 37.5%,#816feb 38.16%,#9660ee 38.82%,#995dee 39.47%,#9c5aee 40.13%,#9c5aee 40.79%,#9c5aee 41.45%,#6e7de7 42.11%,#3a8ec7 42.76%,#2294a6 43.42%,#149687 44.08%,#15968a 44.74%,#16968c 45.39%,#1d959d 46.05%,#2793ad 46.71%,#3490c0 47.37%,#468bd3 48.03%,#5f84e1 48.68%,#7776e9 49.34%,#5f84e1 50%,#468bd3 50.66%,#8070eb 51.32%,#aa4ee9 51.97%,#ad4ce6 52.63%,#b149e4 53.29%,#a651eb 53.95%,#9c5aee 54.61%,#995dee 55.26%,#9660ee 55.92%,#9264ee 56.58%,#8d68ed 57.24%,#8d68ed 57.89%,#8d68ed 58.55%,#985eee 59.21%,#a255ec 59.87%,#8d68ee 60.53%,#6c7fe6 61.18%,#5887de 61.84%,#468bd3 62.5%,#4c8ad6 63.16%,#5189da 63.82%,#4c8ad6 64.47%,#468bd3 65.13%,#468bd3 65.79%,#468bd3 66.45%,#388fc5 67.11%,#2e91b6 67.76%,#2693ac 68.42%,#1f94a2 69.08%,#2693ac 69.74%,#2e91b6 70.39%,#388fc5 71.05%,#468bd3 71.71%,#6582e4 72.37%,#826feb 73.03%,#9660ee 73.68%,#a354ec 74.34%,#9f57ed 75%,#9c5aee 75.66%,#9c5aee 76.32%,#9c5aee 76.97%,#9c5aee 77.63%,#9c5aee 78.29%,#9660ee 78.95%,#8e67ee 79.61%,#826feb 80.26%,#7776e9 80.92%,#896aed 81.58%,#9660ee 82.24%,#995dee 82.89%,#9c5aee 83.55%,#9b5bee 84.21%,#9a5cee 84.87%,#9a5cee 85.53%,#995dee 86.18%,#975fee 86.84%,#9660ee 87.5%,#7578e9 88.16%,#5189da 88.82%,#5189da 89.47%,#5189da 90.13%,#3590c1 90.79%,#2393a7 91.45%,#1b9697 92.11%,#149687 92.76%,#149687 93.42%,#149687 94.08%,#1c959b 94.74%,#2793ad 95.39%,#2a92b1 96.05%,#2e91b6 96.71%,#5189da 97.37%,#826feb 98.03%,#886bed 98.68%,#8f67ee 99.34%,#b942de 100%)"></i><i style="top:249.72px;background:linear-gradient(90deg,#2892ae 0%,#398ec6 0.66%,#488bd4 1.32%,#5a86df 1.97%,#7975ea 2.63%,#9660ee 3.29%,#a057ed 3.95%,#aa4ee9 4.61%,#d52bbe 5.26%,#db4369 5.92%,#db4762 6.58%,#da4a5b 7.24%,#da495e 7.89%,#db4761 8.55%,#dc28af 9.21%,#bb41dd 9.87%,#a94fe9 10.53%,#975fee 11.18%,#9561ee 11.84%,#9264ee 12.5%,#8b69ed 13.16%,#826feb 13.82%,#6b7fe6 14.47%,#5189da 15.13%,#5189da 15.79%,#5189da 16.45%,#388fc5 17.11%,#2793ad 17.76%,#1c959b 18.42%,#149687 19.08%,#1b9697 19.74%,#2393a7 20.39%,#428cd0 21.05%,#7776e9 21.71%,#995dee 22.37%,#b149e4 23.03%,#8d68ed 23.68%,#5189da 24.34%,#3390be 25%,#1f94a2 25.66%,#5388db 26.32%,#9c5aee 26.97%,#995dee 27.63%,#9660ee 28.29%,#a057ed 28.95%,#aa4fe9 29.61%,#b446e2 30.26%,#be3eda 30.92%,#c837d0 31.58%,#d030c6 32.24%,#cb35cd 32.89%,#c439d4 33.55%,#ba41dd 34.21%,#b149e4 34.87%,#8d68ed 35.53%,#5189da 36.18%,#5189da 36.84%,#5189da 37.5%,#6b7fe6 38.16%,#826feb 38.82%,#9264ee 39.47%,#9c5aee 40.13%,#9c5aee 40.79%,#9c5aee 41.45%,#826fec 42.11%,#6283e2 42.76%,#3390bf 43.42%,#1b9699 44.08%,#1f94a1 44.74%,#2493a8 45.39%,#2e91b6 46.05%,#398ec6 46.71%,#3f8dcd 47.37%,#468bd3 48.03%,#5f84e1 48.68%,#7776e9 49.34%,#5f84e1 50%,#468bd3 50.66%,#6b7fe6 51.32%,#8f67ee 51.97%,#995dee 52.63%,#a354ec 53.29%,#9f57ed 53.95%,#9c5aee 54.61%,#9264ee 55.26%,#826feb 55.92%,#707be8 56.58%,#5d85e0 57.24%,#5d85e0 57.89%,#5d85e0 58.55%,#6382e3 59.21%,#6a80e6 59.87%,#5d85e0 60.53%,#5189da 61.18%,#4c8ad6 61.84%,#468bd3 62.5%,#5887de 63.16%,#6c7fe6 63.82%,#5887de 64.47%,#468bd3 65.13%,#468bd3 65.79%,#468bd3 66.45%,#388fc5 67.11%,#2e91b6 67.76%,#2693ac 68.42%,#1f94a2 69.08%,#2693ac 69.74%,#2e91b6 70.39%,#388fc5 71.05%,#468bd3 71.71%,#6f7ce7 72.37%,#9660ee 73.03%,#a354ec 73.68%,#b149e4 74.34%,#a651eb 75%,#9c5aee 75.66%,#9c5aee 76.32%,#9c5aee 76.97%,#9c5aee 77.63%,#9c5aee 78.29%,#9a5cee 78.95%,#985eee 79.61%,#8a6aed 80.26%,#7776e9 80.92%,#8b69ed 81.58%,#985eee 82.24%,#9a5cee 82.89%,#9c5aee 83.55%,#9a5cee 84.21%,#975fee 84.87%,#9561ee 85.53%,#9264ee 86.18%,#8b69ed 86.84%,#826feb 87.5%,#7677e9 88.16%,#6c7fe6 88.82%,#6c7fe6 89.47%,#6c7fe6 90.13%,#438cd1 90.79%,#2a92b0 91.45%,#2194a5 92.11%,#1b9699 92.76%,#1b9699 93.42%,#1b9699 94.08%,#2892ae 94.74%,#398ec6 95.39%,#488bd4 96.05%,#5a86df 96.71%,#7975ea 97.37%,#9660ee 98.03%,#a057ed 98.68%,#aa4ee9 99.34%,#d52bbe 100%)"></i><i style="top:255.97px;background:linear-gradient(90deg,#4a8ad5 0%,#6a80e6 0.66%,#7578e9 1.32%,#826feb 1.97%,#9264ee 2.63%,#9c5aee 3.29%,#ad4ce7 3.95%,#be3eda 4.61%,#df2aa1 5.26%,#d74f52 5.92%,#d74f52 6.58%,#d74f52 7.24%,#d74f52 7.89%,#d74f52 8.55%,#df2f92 9.21%,#cd33ca 9.87%,#b842de 10.53%,#a354ec 11.18%,#a057ed 11.84%,#9c5aee 12.5%,#9660ee 13.16%,#8f67ee 13.82%,#7578e9 14.47%,#5d85e0 15.13%,#5d85e0 15.79%,#5d85e0 16.45%,#458bd2 17.11%,#3390bf 17.76%,#2793ac 18.42%,#1c959c 19.08%,#2793ac 19.74%,#3390bf 20.39%,#5d85e0 21.05%,#8f67ee 21.71%,#a354ec 22.37%,#b743df 23.03%,#9264ee 23.68%,#5189da 24.34%,#3390be 25%,#1f94a2 25.66%,#448cd1 26.32%,#836fec 26.97%,#727ae8 27.63%,#6283e2 28.29%,#7c73ea 28.95%,#9660ee 29.61%,#a354ec 30.26%,#b149e4 30.92%,#c13bd7 31.58%,#d030c6 32.24%,#ce32ca 32.89%,#cb35cd 33.55%,#be3eda 34.21%,#b149e4 34.87%,#8d68ed 35.53%,#5189da 36.18%,#5787dd 36.84%,#5d85e0 37.5%,#6b7fe6 38.16%,#7776e9 38.82%,#886bed 39.47%,#9660ee 40.13%,#9264ee 40.79%,#8d68ed 41.45%,#816feb 42.11%,#7776e9 42.76%,#5189da 43.42%,#3390bf 44.08%,#3e8dcc 44.74%,#4d8ad7 45.39%,#5488dc 46.05%,#5d85e0 46.71%,#5787dd 47.37%,#5189da 48.03%,#5f84e1 48.68%,#6c7fe6 49.34%,#5887de 50%,#468bd3 50.66%,#5388db 51.32%,#6283e2 51.97%,#7677e9 52.63%,#8d68ed 53.29%,#9561ee 53.95%,#9c5aee 54.61%,#8e67ee 55.26%,#7776e9 55.92%,#5f84e1 56.58%,#468bd3 57.24%,#468bd3 57.89%,#468bd3 58.55%,#4c8ad6 59.21%,#5189da 59.87%,#5787dd 60.53%,#5d85e0 61.18%,#5d85e0 61.84%,#5d85e0 62.5%,#707be8 63.16%,#826feb 63.82%,#707be8 64.47%,#5d85e0 65.13%,#5d85e0 65.79%,#5d85e0 66.45%,#4f89d9 67.11%,#428cd0 67.76%,#378fc3 68.42%,#2e91b6 69.08%,#3b8ec8 69.74%,#4d8ad7 70.39%,#6083e2 71.05%,#7379e8 71.71%,#9561ee 72.37%,#aa4fe9 73.03%,#b446e2 73.68%,#bf3dd9 74.34%,#af4be6 75%,#9d59ee 75.66%,#9e58ed 76.32%,#9f57ed 76.97%,#9f57ed 77.63%,#9f57ed 78.29%,#9f57ed 78.95%,#9f58ed 79.61%,#9363ee 80.26%,#8070eb 80.92%,#9165ee 81.58%,#9b5bee 82.24%,#9d59ee 82.89%,#9f57ed 83.55%,#9f58ed 84.21%,#9e58ed 84.87%,#9b5bee 85.53%,#995dee 86.18%,#9462ee 86.84%,#8f67ee 87.5%,#886bed 88.16%,#826feb 88.82%,#886bed 89.47%,#8f67ee 90.13%,#6980e5 90.79%,#428cd0 91.45%,#3a8ec7 92.11%,#3390bf 92.76%,#3390bf 93.42%,#3390bf 94.08%,#4a8ad5 94.74%,#6a80e6 95.39%,#7578e9 96.05%,#826feb 96.71%,#9264ee 97.37%,#9c5aee 98.03%,#ad4ce7 98.68%,#be3eda 99.34%,#df2aa1 100%)"></i><i style="top:262.21px;background:linear-gradient(90deg,#9363ee 0%,#a255ec 0.66%,#9c5aee 1.32%,#9660ee 1.97%,#995dee 2.63%,#9c5aee 3.29%,#b446e2 3.95%,#cb35cd 4.61%,#df2e94 5.26%,#d74f52 5.92%,#d74f52 6.58%,#d74f52 7.24%,#d74f52 7.89%,#d74f52 8.55%,#dd387f 9.21%,#d92ab6 9.87%,#ce32c9 10.53%,#be3eda 11.18%,#ba41dd 11.84%,#b743df 12.5%,#b149e4 13.16%,#aa4ee9 13.82%,#9c5aee 14.47%,#8d68ed 15.13%,#8d68ed 15.79%,#8d68ed 16.45%,#846eec 17.11%,#7a74ea 17.76%,#6582e4 18.42%,#4d89d8 19.08%,#6582e4 19.74%,#7a74ea 20.39%,#975fee 21.05%,#aa4ee9 21.71%,#b149e4 22.37%,#b743df 23.03%,#995dee 23.68%,#6c7fe6 24.34%,#3b8ec8 25%,#1f94a2 25.66%,#2f91b7 26.32%,#428cd0 26.97%,#3e8dcc 27.63%,#3a8ec7 28.29%,#5c85e0 28.95%,#826feb 29.61%,#9660ee 30.26%,#a354ec 30.92%,#ba41dd 31.58%,#d030c6 32.24%,#c837d0 32.89%,#be3eda 33.55%,#b149e4 34.21%,#a354ec 34.87%,#8e67ee 35.53%,#6c7fe6 36.18%,#7a74ea 36.84%,#8d68ed 37.5%,#816feb 38.16%,#7776e9 38.82%,#7c73ea 39.47%,#826feb 40.13%,#707be8 40.79%,#5d85e0 41.45%,#6b7fe6 42.11%,#7776e9 42.76%,#7975ea 43.42%,#7a74ea 44.08%,#9165ee 44.74%,#9d59ee 45.39%,#9660ee 46.05%,#8d68ed 46.71%,#7a74ea 47.37%,#6c7fe6 48.03%,#5f84e1 48.68%,#5189da 49.34%,#4c8ad6 50%,#468bd3 50.66%,#408dcd 51.32%,#3a8ec7 51.97%,#4a8ad5 52.63%,#5d85e0 53.29%,#8070eb 53.95%,#9c5aee 54.61%,#8e67ee 55.26%,#7776e9 55.92%,#5f84e1 56.58%,#468bd3 57.24%,#468bd3 57.89%,#468bd3 58.55%,#5887de 59.21%,#6c7fe6 59.87%,#7a74ea 60.53%,#8d68ed 61.18%,#8d68ed 61.84%,#8d68ed 62.5%,#9264ee 63.16%,#9660ee 63.82%,#9264ee 64.47%,#8d68ed 65.13%,#8d68ed 65.79%,#8d68ed 66.45%,#886bec 67.11%,#836fec 67.76%,#6f7ce7 68.42%,#5a86df 69.08%,#7f71eb 69.74%,#9d59ee 70.39%,#aa4fe9 71.05%,#b644e0 71.71%,#bd3eda 72.37%,#c539d3 73.03%,#ca35ce 73.68%,#cf31c8 74.34%,#bd3fdb 75%,#a354ec 75.66%,#a354ec 76.32%,#a751ea 76.97%,#a651eb 77.63%,#a651eb 78.29%,#a552eb 78.95%,#a454eb 79.61%,#9b5bee 80.26%,#9264ee 80.92%,#995dee 81.58%,#9f57ed 82.24%,#a354ec 82.89%,#a651eb 83.55%,#ab4ee8 84.21%,#af4ae5 84.87%,#ae4be6 85.53%,#ad4ce6 86.18%,#ac4de8 86.84%,#aa4ee9 87.5%,#a057ed 88.16%,#9660ee 88.82%,#a057ed 89.47%,#aa4ee9 90.13%,#995dee 90.79%,#836fec 91.45%,#7e71eb 92.11%,#7a74ea 92.76%,#7a74ea 93.42%,#7a74ea 94.08%,#9363ee 94.74%,#a255ec 95.39%,#9c5aee 96.05%,#9660ee 96.71%,#995dee 97.37%,#9c5aee 98.03%,#b446e2 98.68%,#cb35cd 99.34%,#df2e94 100%)"></i><i style="top:268.45px;background:linear-gradient(90deg,#b446e2 0%,#be3eda 0.66%,#b149e4 1.32%,#a354ec 1.97%,#a354ec 2.63%,#a354ec 3.29%,#ba41dd 3.95%,#d030c6 4.61%,#df318d 5.26%,#d74f52 5.92%,#d74f52 6.58%,#d74f52 7.24%,#d74f52 7.89%,#d74f52 8.55%,#dd3a7c 9.21%,#db28b2 9.87%,#d42cc0 10.53%,#cd33cb 11.18%,#ca35ce 11.84%,#c837d0 12.5%,#bc3fdb 13.16%,#b149e4 13.82%,#a552eb 14.47%,#9a5cee 15.13%,#985eee 15.79%,#9660ee 16.45%,#9660ee 17.11%,#9660ee 17.76%,#8e67ee 18.42%,#826feb 19.08%,#9264ee 19.74%,#9c5aee 20.39%,#aa4fe9 21.05%,#b743df 21.71%,#b446e2 22.37%,#b149e4 23.03%,#9c5aee 23.68%,#826feb 24.34%,#5d85e0 25%,#3b8ec8 25.66%,#368fc3 26.32%,#3290bd 26.97%,#3a8ec7 27.63%,#428cd0 28.29%,#6980e5 28.95%,#8f67ee 29.61%,#9660ee 30.26%,#9c5aee 30.92%,#a94fe9 31.58%,#b644e0 32.24%,#b049e5 32.89%,#aa4ee9 33.55%,#a156ec 34.21%,#995dee 34.87%,#8b69ed 35.53%,#7776e9 36.18%,#8e67ee 36.84%,#9c5aee 37.5%,#8e67ee 38.16%,#7776e9 38.82%,#707be8 39.47%,#6a80e6 40.13%,#4f89d8 40.79%,#398ec6 41.45%,#4b8ad6 42.11%,#6283e2 42.76%,#826fec 43.42%,#9c5aee 44.08%,#ad4ce7 44.74%,#be3eda 45.39%,#ad4ce7 46.05%,#9c5aee 46.71%,#7e71eb 47.37%,#5a86df 48.03%,#488bd4 48.68%,#398ec6 49.34%,#3f8dcd 50%,#468bd3 50.66%,#3b8ec8 51.32%,#3290bd 51.97%,#448cd1 52.63%,#5d85e0 53.29%,#866cec 53.95%,#a354ec 54.61%,#9660ee 55.26%,#826feb 55.92%,#6b7fe6 56.58%,#5189da 57.24%,#4c8ad6 57.89%,#468bd3 58.55%,#5f84e1 59.21%,#7776e9 59.87%,#8e67ee 60.53%,#9c5aee 61.18%,#9c5aee 61.84%,#9c5aee 62.5%,#995dee 63.16%,#9660ee 63.82%,#9660ee 64.47%,#9660ee 65.13%,#9660ee 65.79%,#9660ee 66.45%,#995dee 67.11%,#9c5aee 67.76%,#9660ee 68.42%,#8f67ee 69.08%,#a751ea 69.74%,#be3eda 70.39%,#c837d0 71.05%,#d030c6 71.71%,#d030c6 72.37%,#d12fc5 73.03%,#d72aba 73.68%,#de29a8 74.34%,#d72aba 75%,#bf3dd9 75.66%,#b248e3 76.32%,#ae4be6 76.97%,#ac4de8 77.63%,#aa4fe9 78.29%,#a850ea 78.95%,#a552eb 79.61%,#a057ed 80.26%,#9a5cee 80.92%,#a056ed 81.58%,#a751ea 82.24%,#ae4be6 82.89%,#b446e2 83.55%,#b942de 84.21%,#be3eda 84.87%,#be3eda 85.53%,#be3eda 86.18%,#be3eda 86.84%,#be3eda 87.5%,#b149e4 88.16%,#a354ec 88.82%,#b149e4 89.47%,#be3eda 90.13%,#b446e2 90.79%,#aa4fe9 91.45%,#aa4fe9 92.11%,#aa4fe9 92.76%,#aa4fe9 93.42%,#aa4fe9 94.08%,#b446e2 94.74%,#be3eda 95.39%,#b149e4 96.05%,#a354ec 96.71%,#a354ec 97.37%,#a354ec 98.03%,#ba41dd 98.68%,#d030c6 99.34%,#df318d 100%)"></i><i style="top:274.69px;background:linear-gradient(90deg,#c837d0 0%,#cb35cd 0.66%,#be3eda 1.32%,#b149e4 1.97%,#b149e4 2.63%,#b149e4 3.29%,#c13bd7 3.95%,#d030c6 4.61%,#df318d 5.26%,#d74f52 5.92%,#d74f52 6.58%,#d74f52 7.24%,#d74f52 7.89%,#d74f52 8.55%,#de3488 9.21%,#d42cc0 9.87%,#d12fc4 10.53%,#cf31c8 11.18%,#ce32c9 11.84%,#ce32ca 12.5%,#b942de 13.16%,#a354ec 13.82%,#9c5aee 14.47%,#9660ee 15.13%,#8e67ee 15.79%,#826feb 16.45%,#826feb 17.11%,#826feb 17.76%,#8e67ee 18.42%,#9660ee 19.08%,#995dee 19.74%,#9c5aee 20.39%,#aa4fe9 21.05%,#b743df 21.71%,#ad4ce7 22.37%,#a354ec 23.03%,#9c5aee 23.68%,#9660ee 24.34%,#975fee 25%,#995dee 25.66%,#6e7de7 26.32%,#3f8dcc 26.97%,#6084e1 27.63%,#836fec 28.29%,#995dee 28.95%,#aa4ee9 29.61%,#a354ec 30.26%,#9c5aee 30.92%,#8c68ed 31.58%,#7379e8 32.24%,#8070eb 32.89%,#8f67ee 33.55%,#9165ee 34.21%,#9264ee 34.87%,#856dec 35.53%,#7776e9 36.18%,#8e67ee 36.84%,#9c5aee 37.5%,#8e67ee 38.16%,#7776e9 38.82%,#6283e2 39.47%,#4c8ad7 40.13%,#368fc2 40.79%,#2793ad 41.45%,#3091b9 42.11%,#3a8ec7 42.76%,#6e7de7 43.42%,#9c5aee 44.08%,#b446e2 44.74%,#cb35cd 45.39%,#b446e2 46.05%,#9c5aee 46.71%,#6283e3 47.37%,#2e91b6 48.03%,#2a92b1 48.68%,#2793ad 49.34%,#3490c0 50%,#468bd3 50.66%,#428cd0 51.32%,#3f8dcc 51.97%,#6582e4 52.63%,#8d68ed 53.29%,#9f57ed 53.95%,#b149e4 54.61%,#a354ec 55.26%,#9660ee 55.92%,#816feb 56.58%,#6c7fe6 57.24%,#5887de 57.89%,#468bd3 58.55%,#5f84e1 59.21%,#7776e9 59.87%,#8e67ee 60.53%,#9c5aee 61.18%,#9c5aee 61.84%,#9c5aee 62.5%,#9264ee 63.16%,#826feb 63.82%,#826feb 64.47%,#826feb 65.13%,#826feb 65.79%,#826feb 66.45%,#9264ee 67.11%,#9c5aee 67.76%,#a354ec 68.42%,#aa4ee9 69.08%,#bb41dd 69.74%,#cb35cd 70.39%,#ce32ca 71.05%,#d030c6 71.71%,#d030c6 72.37%,#d12fc4 73.03%,#de29a8 73.68%,#de3683 74.34%,#de328c 75%,#d92ab6 75.66%,#c538d3 76.32%,#b645e1 76.97%,#af4ae5 77.63%,#aa4fe9 78.29%,#a751ea 78.95%,#a454eb 79.61%,#a156ec 80.26%,#9e59ed 80.92%,#a850ea 81.58%,#b347e3 82.24%,#bd3eda 82.89%,#c837d0 83.55%,#c936cf 84.21%,#cb35cd 84.87%,#cb35cd 85.53%,#cb35cd 86.18%,#cb35cd 86.84%,#cb35cd 87.5%,#be3eda 88.16%,#b149e4 88.82%,#be3eda 89.47%,#cb35cd 90.13%,#c837d0 90.79%,#c439d4 91.45%,#c439d4 92.11%,#c439d4 92.76%,#c439d4 93.42%,#c439d4 94.08%,#c837d0 94.74%,#cb35cd 95.39%,#be3eda 96.05%,#b149e4 96.71%,#b149e4 97.37%,#b149e4 98.03%,#c13bd7 98.68%,#d030c6 99.34%,#df318d 100%)"></i><i style="top:280.94px;background:linear-gradient(90deg,#ce32ca 0%,#cb35cd 0.66%,#be3eda 1.32%,#b149e4 1.97%,#b743df 2.63%,#be3eda 3.29%,#c837d0 3.95%,#d030c6 4.61%,#df2d97 5.26%,#d94b5a 5.92%,#d94b5a 6.58%,#d94b5a 7.24%,#db4762 7.89%,#dc426b 8.55%,#dc28b1 9.21%,#bf3dd9 9.87%,#be3dd9 10.53%,#be3eda 11.18%,#be3eda 11.84%,#be3eda 12.5%,#aa4fe9 13.16%,#9660ee 13.82%,#8e67ee 14.47%,#826feb 15.13%,#727ae8 15.79%,#6283e2 16.45%,#6d7de7 17.11%,#7776e9 17.76%,#8e67ee 18.42%,#9c5aee 19.08%,#9c5aee 19.74%,#9c5aee 20.39%,#a651eb 21.05%,#b149e4 21.71%,#aa4fe9 22.37%,#a354ec 23.03%,#a651eb 23.68%,#aa4fe9 24.34%,#b942de 25%,#c837d0 25.66%,#a950ea 26.32%,#846eec 26.97%,#995dee 27.63%,#aa4fe9 28.29%,#ad4ce7 28.95%,#b149e4 29.61%,#a651eb 30.26%,#9c5aee 30.92%,#7a74ea 31.58%,#5189da 32.24%,#6682e4 32.89%,#7776e9 33.55%,#8070eb 34.21%,#8a6aed 34.87%,#8070eb 35.53%,#7776e9 36.18%,#8e67ee 36.84%,#9c5aee 37.5%,#886bed 38.16%,#6d7de7 38.82%,#5189da 39.47%,#3a8ec7 40.13%,#2e91b6 40.79%,#2393a7 41.45%,#2693ac 42.11%,#2a92b0 42.76%,#4a8ad6 43.42%,#7a74ea 44.08%,#9a5cee 44.74%,#b149e4 45.39%,#9a5cee 46.05%,#7a74ea 46.71%,#418ccf 47.37%,#1f94a2 48.03%,#1f94a2 48.68%,#1f94a2 49.34%,#2d91b5 50%,#3f8dcc 50.66%,#428cd0 51.32%,#468bd3 51.97%,#7478e9 52.63%,#9c5aee 53.29%,#a651eb 53.95%,#b149e4 54.61%,#9c5aee 55.26%,#836fec 55.92%,#6f7ce7 56.58%,#5a86df 57.24%,#488bd4 57.89%,#398ec6 58.55%,#4f89d9 59.21%,#6c7fe6 59.87%,#816feb 60.53%,#9660ee 61.18%,#8f67ee 61.84%,#836fec 62.5%,#6f7ce7 63.16%,#5a86df 63.82%,#6382e3 64.47%,#6c7fe6 65.13%,#717ae8 65.79%,#7776e9 66.45%,#8e67ee 67.11%,#9c5aee 67.76%,#a651eb 68.42%,#b149e4 69.08%,#be3eda 69.74%,#cb35cd 70.39%,#cb35cd 71.05%,#cb35cd 71.71%,#c837d0 72.37%,#c737d1 73.03%,#db29b2 73.68%,#de3587 74.34%,#df2e94 75%,#d72bbb 75.66%,#c03cd8 76.32%,#ac4de8 76.97%,#a850ea 77.63%,#a651eb 78.29%,#a454eb 78.95%,#a156ec 79.61%,#a057ed 80.26%,#9f58ed 80.92%,#ac4de7 81.58%,#b942de 82.24%,#c539d3 82.89%,#d030c6 83.55%,#d030c6 84.21%,#d030c6 84.87%,#d030c6 85.53%,#d030c6 86.18%,#d030c6 86.84%,#d030c6 87.5%,#c13bd7 88.16%,#b149e4 88.82%,#ba41dd 89.47%,#c439d4 90.13%,#cb35cd 90.79%,#d030c6 91.45%,#d030c6 92.11%,#d030c6 92.76%,#d030c6 93.42%,#d030c6 94.08%,#ce32ca 94.74%,#cb35cd 95.39%,#be3eda 96.05%,#b149e4 96.71%,#b743df 97.37%,#be3eda 98.03%,#c837d0 98.68%,#d030c6 99.34%,#df2d97 100%)"></i><i style="top:287.18px;background:linear-gradient(90deg,#c837d0 0%,#be3eda 0.66%,#b149e4 1.32%,#a354ec 1.97%,#b743df 2.63%,#cb35cd 3.29%,#ce32ca 3.95%,#d030c6 4.61%,#de29a6 5.26%,#dd3c76 5.92%,#dd3c76 6.58%,#dd3c76 7.24%,#e02b9b 7.89%,#d92ab7 8.55%,#bd3fdb 9.21%,#9b5bee 9.87%,#985eee 10.53%,#9660ee 11.18%,#9660ee 11.84%,#9660ee 12.5%,#8f67ee 13.16%,#826feb 13.82%,#707ce7 14.47%,#5d85e0 15.13%,#4a8ad5 15.79%,#3a8ec7 16.45%,#5687dd 17.11%,#7776e9 17.76%,#8e67ee 18.42%,#9c5aee 19.08%,#9c5aee 19.74%,#9c5aee 20.39%,#9f57ed 21.05%,#a354ec 21.71%,#aa4fe9 22.37%,#b149e4 23.03%,#ba41dd 23.68%,#c439d4 24.34%,#d32dc1 25%,#de29a8 25.66%,#d82ab8 26.32%,#d12fc4 26.97%,#cc34cc 27.63%,#c439d4 28.29%,#b446e2 28.95%,#a354ec 29.61%,#9f57ed 30.26%,#9c5aee 30.92%,#876bec 31.58%,#6c7fe6 32.24%,#717ae8 32.89%,#7776e9 33.55%,#7c73ea 34.21%,#826feb 34.87%,#7c73ea 35.53%,#7776e9 36.18%,#8e67ee 36.84%,#9c5aee 37.5%,#7c73ea 38.16%,#5687dd 38.82%,#418ccf 39.47%,#3191bc 40.13%,#2e91b6 40.79%,#2a92b0 41.45%,#2693ac 42.11%,#2393a7 42.76%,#2b92b1 43.42%,#3390bf 44.08%,#428cd0 44.74%,#5787dd 45.39%,#428cd0 46.05%,#3390bf 46.71%,#2992af 47.37%,#1f94a2 48.03%,#1f94a2 48.68%,#1f94a2 49.34%,#2992ae 50%,#3290bd 50.66%,#3b8ec8 51.32%,#468bd3 51.97%,#7478e9 52.63%,#9c5aee 53.29%,#9f57ed 53.95%,#a354ec 54.61%,#7776e9 55.26%,#428cd0 55.92%,#378fc3 56.58%,#2e91b6 57.24%,#2a92b1 57.89%,#2793ad 58.55%,#388fc5 59.21%,#5189da 59.87%,#6b7fe6 60.53%,#826feb 61.18%,#6283e3 61.84%,#428cd0 62.5%,#378fc3 63.16%,#2e91b6 63.82%,#3c8eca 64.47%,#5189da 65.13%,#6682e4 65.79%,#7776e9 66.45%,#8e67ee 67.11%,#9c5aee 67.76%,#9f57ed 68.42%,#a354ec 69.08%,#b149e4 69.74%,#be3eda 70.39%,#be3eda 71.05%,#be3eda 71.71%,#b446e2 72.37%,#ab4de8 73.03%,#c837d0 73.68%,#dc28b0 74.34%,#d12fc4 75%,#b843df 75.66%,#a156ec 76.32%,#9066ee 76.97%,#975fee 77.63%,#9f57ed 78.29%,#9f58ed 78.95%,#9e59ed 79.61%,#9d59ee 80.26%,#9d59ee 80.92%,#ab4de8 81.58%,#b942de 82.24%,#c538d3 82.89%,#d030c6 83.55%,#d030c6 84.21%,#d030c6 84.87%,#d030c6 85.53%,#d030c6 86.18%,#d030c6 86.84%,#d030c6 87.5%,#ba41dd 88.16%,#a354ec 88.82%,#a651eb 89.47%,#aa4fe9 90.13%,#be3eda 90.79%,#d030c6 91.45%,#d030c6 92.11%,#d030c6 92.76%,#d030c6 93.42%,#d030c6 94.08%,#c837d0 94.74%,#be3eda 95.39%,#b149e4 96.05%,#a354ec 96.71%,#b743df 97.37%,#cb35cd 98.03%,#ce32ca 98.68%,#d030c6 99.34%,#de29a6 100%)"></i><i style="top:293.42px;background:linear-gradient(90deg,#c13bd7 0%,#b149e4 0.66%,#a651eb 1.32%,#9c5aee 1.97%,#b049e4 2.63%,#c439d4 3.29%,#bb41dd 3.95%,#b149e4 4.61%,#bd3eda 5.26%,#ca35ce 5.92%,#cb35cd 6.58%,#cc34cc 7.24%,#c638d2 7.89%,#bf3dd9 8.55%,#a453eb 9.21%,#856dec 9.87%,#7e72eb 10.53%,#7776e9 11.18%,#7776e9 11.84%,#7776e9 12.5%,#6d7de7 13.16%,#6283e2 13.82%,#5488dc 14.47%,#498ad5 15.13%,#378fc3 15.79%,#2a92b0 16.45%,#438cd1 17.11%,#6c7fe6 17.76%,#876bec 18.42%,#9c5aee 19.08%,#9c5aee 19.74%,#9c5aee 20.39%,#9f57ed 21.05%,#a354ec 21.71%,#b149e4 22.37%,#be3eda 23.03%,#cd33cb 23.68%,#d62bbb 24.34%,#de29a5 25%,#de3489 25.66%,#de3489 26.32%,#de3489 26.97%,#dc28ae 27.63%,#d030c6 28.29%,#b744e0 28.95%,#9c5aee 29.61%,#9f57ed 30.26%,#a354ec 30.92%,#9264ee 31.58%,#7776e9 32.24%,#7776e9 32.89%,#7776e9 33.55%,#7975ea 34.21%,#7c73ea 34.87%,#7876e9 35.53%,#7478e9 36.18%,#7b74ea 36.84%,#836fec 37.5%,#6383e3 38.16%,#428cd0 38.82%,#378fc3 39.47%,#2e91b6 40.13%,#2e91b6 40.79%,#2e91b6 41.45%,#2892ae 42.11%,#2393a7 42.76%,#2194a5 43.42%,#1f94a2 44.08%,#2693ac 44.74%,#2e91b6 45.39%,#2693ac 46.05%,#1f94a2 46.71%,#1d959e 47.37%,#1b9699 48.03%,#1d959e 48.68%,#1f94a2 49.34%,#2693ac 50%,#2e91b6 50.66%,#388fc5 51.32%,#468bd3 51.97%,#6a80e6 52.63%,#8d68ed 53.29%,#9561ee 53.95%,#9c5aee 54.61%,#6383e3 55.26%,#2e91b6 55.92%,#2693ac 56.58%,#1f94a2 57.24%,#1d959e 57.89%,#1b9699 58.55%,#2892ae 59.21%,#398ec6 59.87%,#5587dd 60.53%,#7776e9 61.18%,#498bd4 61.84%,#2a92b0 62.5%,#2493a9 63.16%,#1f94a2 63.82%,#3091b9 64.47%,#468bd3 65.13%,#5f84e1 65.79%,#7776e9 66.45%,#8e67ee 67.11%,#9c5aee 67.76%,#995dee 68.42%,#9660ee 69.08%,#a057ed 69.74%,#aa4ee9 70.39%,#aa4ee9 71.05%,#aa4ee9 71.71%,#9c5aee 72.37%,#8e68ee 73.03%,#ab4ee8 73.68%,#c737d1 74.34%,#b842de 75%,#a651eb 75.66%,#975fee 76.32%,#836fec 76.97%,#9264ee 77.63%,#9c5aee 78.29%,#9c5aee 78.95%,#9c5aee 79.61%,#9c5aee 80.26%,#9c5aee 80.92%,#ab4de8 81.58%,#ba41dd 82.24%,#c638d2 82.89%,#d030c6 83.55%,#d030c6 84.21%,#d030c6 84.87%,#d030c6 85.53%,#d030c6 86.18%,#cb35cd 86.84%,#c439d4 87.5%,#ad4ce7 88.16%,#9660ee 88.82%,#995dee 89.47%,#9c5aee 90.13%,#b049e4 90.79%,#c439d4 91.45%,#c837d0 92.11%,#cb35cd 92.76%,#ce32ca 93.42%,#d030c6 94.08%,#c13bd7 94.74%,#b149e4 95.39%,#a651eb 96.05%,#9c5aee 96.71%,#b049e4 97.37%,#c439d4 98.03%,#bb41dd 98.68%,#b149e4 99.34%,#bd3eda 100%)"></i><i style="top:299.67px;background:linear-gradient(90deg,#ba41dd 0%,#a354ec 0.66%,#9f57ed 1.32%,#9c5aee 1.97%,#a354ec 2.63%,#aa4fe9 3.29%,#896aed 3.95%,#5787dd 4.61%,#5488dc 5.26%,#5289da 5.92%,#5787dd 6.58%,#5d85e0 7.24%,#8b69ed 7.89%,#a850ea 8.55%,#9a5cee 9.21%,#8b69ed 9.87%,#8170eb 10.53%,#7776e9 11.18%,#7776e9 11.84%,#7776e9 12.5%,#5687dd 13.16%,#3a8ec7 13.82%,#408dce 14.47%,#478bd3 15.13%,#3290bc 15.79%,#2393a7 16.45%,#3590c1 17.11%,#5189da 17.76%,#7a74ea 18.42%,#9c5aee 19.08%,#9c5aee 19.74%,#9c5aee 20.39%,#a651eb 21.05%,#b149e4 21.71%,#be3eda 22.37%,#cb35cd 23.03%,#d72ab9 23.68%,#e02a9d 24.34%,#df2e93 25%,#de3489 25.66%,#de3489 26.32%,#de3489 26.97%,#dc28ae 27.63%,#d030c6 28.29%,#b744e0 28.95%,#9c5aee 29.61%,#a651eb 30.26%,#b149e4 30.92%,#995dee 31.58%,#7776e9 32.24%,#7776e9 32.89%,#7776e9 33.55%,#7876e9 34.21%,#7875ea 34.87%,#7479e8 35.53%,#6f7de7 36.18%,#5787dd 36.84%,#428cd0 37.5%,#3b8ec7 38.16%,#3390bf 38.82%,#3091ba 39.47%,#2e91b6 40.13%,#2e91b6 40.79%,#2e91b6 41.45%,#2c92b3 42.11%,#2a92b0 42.76%,#2493a9 43.42%,#1f94a2 44.08%,#2693ac 44.74%,#2e91b6 45.39%,#2693ac 46.05%,#1f94a2 46.71%,#1a9695 47.37%,#149687 48.03%,#1a9695 48.68%,#1f94a2 49.34%,#2693ac 50%,#2e91b6 50.66%,#388fc5 51.32%,#468bd3 51.97%,#5189da 52.63%,#5d85e0 53.29%,#8070eb 53.95%,#9c5aee 54.61%,#6383e3 55.26%,#2e91b6 55.92%,#2693ac 56.58%,#1f94a2 57.24%,#1a9695 57.89%,#149687 58.55%,#1c959b 59.21%,#2793ad 59.87%,#468bd3 60.53%,#7776e9 61.18%,#428cd0 61.84%,#2393a7 62.5%,#2194a5 63.16%,#1f94a2 63.82%,#3091b9 64.47%,#468bd3 65.13%,#5f84e1 65.79%,#7776e9 66.45%,#8e67ee 67.11%,#9c5aee 67.76%,#9264ee 68.42%,#826feb 69.08%,#886bed 69.74%,#8f67ee 70.39%,#8f67ee 71.05%,#8f67ee 71.71%,#7578e9 72.37%,#5d85e0 73.03%,#8d68ed 73.68%,#aa4ee9 74.34%,#ae4be6 75%,#b149e4 75.66%,#a354ec 76.32%,#9660ee 76.97%,#995dee 77.63%,#9c5aee 78.29%,#9c5aee 78.95%,#9c5aee 79.61%,#9c5aee 80.26%,#9c5aee 80.92%,#ac4ce7 81.58%,#bd3fdb 82.24%,#c737d1 82.89%,#d030c6 83.55%,#d030c6 84.21%,#d030c6 84.87%,#d030c6 85.53%,#d030c6 86.18%,#be3eda 86.84%,#aa4fe9 87.5%,#995dee 88.16%,#826feb 88.82%,#9264ee 89.47%,#9c5aee 90.13%,#a354ec 90.79%,#aa4fe9 91.45%,#b446e2 92.11%,#be3eda 92.76%,#c837d0 93.42%,#d030c6 94.08%,#ba41dd 94.74%,#a354ec 95.39%,#9f57ed 96.05%,#9c5aee 96.71%,#a354ec 97.37%,#aa4fe9 98.03%,#896aed 98.68%,#5787dd 99.34%,#5488dc 100%)"></i><i style="top:305.91px;background:linear-gradient(90deg,#9f57ed 0%,#8d68ed 0.66%,#9561ee 1.32%,#9c5aee 1.97%,#9c5aee 2.63%,#9c5aee 3.29%,#727ae8 3.95%,#428cd0 4.61%,#3091ba 5.26%,#2393a7 5.92%,#2593aa 6.58%,#2892ae 7.24%,#5d85e0 7.89%,#9c5aee 8.55%,#975fee 9.21%,#9264ee 9.87%,#8b69ed 10.53%,#826feb 11.18%,#8f67ee 11.84%,#9660ee 12.5%,#6e7de7 13.16%,#428cd0 13.82%,#4a8ad5 14.47%,#5189da 15.13%,#458bd2 15.79%,#3b8ec8 16.45%,#458bd2 17.11%,#5189da 17.76%,#7578e9 18.42%,#9660ee 19.08%,#9264ee 19.74%,#8d68ed 20.39%,#9c5aee 21.05%,#aa4ee9 21.71%,#b743df 22.37%,#c439d4 23.03%,#d12fc5 23.68%,#db29b3 24.34%,#de29a8 25%,#e02a9d 25.66%,#e02a9d 26.32%,#e02a9d 26.97%,#dc28ae 27.63%,#d62bbb 28.29%,#c23ad6 28.95%,#aa4fe9 29.61%,#ad4ce7 30.26%,#b149e4 30.92%,#995dee 31.58%,#7776e9 32.24%,#7776e9 32.89%,#7776e9 33.55%,#7776e9 34.21%,#7776e9 34.87%,#707ce8 35.53%,#6980e6 36.18%,#458bd2 36.84%,#2e91b6 37.5%,#2e91b6 38.16%,#2e91b6 38.82%,#2e91b6 39.47%,#2e91b6 40.13%,#2e91b6 40.79%,#2e91b6 41.45%,#2c92b3 42.11%,#2a92b0 42.76%,#2194a5 43.42%,#1b9699 44.08%,#2194a5 44.74%,#2a92b0 45.39%,#2c92b3 46.05%,#2e91b6 46.71%,#1f94a2 47.37%,#16968c 48.03%,#1b9697 48.68%,#1f94a2 49.34%,#2693ac 50%,#2e91b6 50.66%,#388fc5 51.32%,#468bd3 51.97%,#4c8ad6 52.63%,#5189da 53.29%,#7578e9 53.95%,#9660ee 54.61%,#6283e2 55.26%,#3290bd 55.92%,#2992ae 56.58%,#1f94a2 57.24%,#1a9695 57.89%,#149687 58.55%,#1b9697 59.21%,#2393a7 59.87%,#4c8ad7 60.53%,#8f67ee 61.18%,#6980e6 61.84%,#438cd0 62.5%,#3f8dcc 63.16%,#3b8ec8 63.82%,#458bd2 64.47%,#5189da 65.13%,#5f84e1 65.79%,#6c7fe6 66.45%,#876bec 67.11%,#9c5aee 67.76%,#9264ee 68.42%,#826feb 69.08%,#826feb 69.74%,#826feb 70.39%,#7c73ea 71.05%,#7776e9 71.71%,#6b7fe6 72.37%,#5d85e0 73.03%,#707be8 73.68%,#836fec 74.34%,#9660ee 75%,#a255ec 75.66%,#9f57ed 76.32%,#9c5aee 76.97%,#9c5aee 77.63%,#9c5aee 78.29%,#9c5aee 78.95%,#9c5aee 79.61%,#9a5cee 80.26%,#995dee 80.92%,#a94fe9 81.58%,#b942de 82.24%,#c539d3 82.89%,#d030c6 83.55%,#d030c6 84.21%,#d030c6 84.87%,#ce32ca 85.53%,#cb35cd 86.18%,#b446e2 86.84%,#9c5aee 87.5%,#8e67ee 88.16%,#7776e9 88.82%,#816feb 89.47%,#8d68ed 90.13%,#9264ee 90.79%,#9660ee 91.45%,#9c5aee 92.11%,#a255ec 92.76%,#aa4fe9 93.42%,#b149e4 94.08%,#9f57ed 94.74%,#8d68ed 95.39%,#9561ee 96.05%,#9c5aee 96.71%,#9c5aee 97.37%,#9c5aee 98.03%,#727ae8 98.68%,#428cd0 99.34%,#3091ba 100%)"></i><i style="top:312.15px;background:linear-gradient(90deg,#5a86df 0%,#5d85e0 0.66%,#8070eb 1.32%,#9c5aee 1.97%,#9c5aee 2.63%,#9c5aee 3.29%,#9264ee 3.95%,#836fec 4.61%,#4e89d8 5.26%,#2a92b0 5.92%,#2b92b1 6.58%,#2c92b3 7.24%,#6183e2 7.89%,#9c5aee 8.55%,#9a5cee 9.21%,#995dee 9.87%,#975fee 10.53%,#9660ee 11.18%,#aa4fe9 11.84%,#be3eda 12.5%,#a354ec 13.16%,#836fec 13.82%,#7677e9 14.47%,#6c7fe6 15.13%,#846eec 15.79%,#995dee 16.45%,#846eec 17.11%,#6c7fe6 17.76%,#7677e9 18.42%,#826feb 19.08%,#707be8 19.74%,#5d85e0 20.39%,#7578e9 21.05%,#8f67ee 21.71%,#9c5aee 22.37%,#aa4fe9 23.03%,#af4be6 23.68%,#b446e2 24.34%,#c737d1 25%,#d62bbb 25.66%,#d62bbb 26.32%,#d62bbb 26.97%,#dc28ae 27.63%,#e02a9d 28.29%,#d52bbd 28.95%,#c439d4 29.61%,#b446e2 30.26%,#a354ec 30.92%,#9264ee 31.58%,#7776e9 32.24%,#7776e9 32.89%,#7776e9 33.55%,#7776e9 34.21%,#7776e9 34.87%,#6d7ee7 35.53%,#6283e2 36.18%,#428cd0 36.84%,#2e91b6 37.5%,#2e91b6 38.16%,#2e91b6 38.82%,#2e91b6 39.47%,#2e91b6 40.13%,#2e91b7 40.79%,#2f91b7 41.45%,#2992ae 42.11%,#2393a7 42.76%,#1b9697 43.42%,#149687 44.08%,#1b9697 44.74%,#2393a7 45.39%,#388fc4 46.05%,#5a86df 46.71%,#388fc5 47.37%,#2493a8 48.03%,#2194a5 48.68%,#1f94a2 49.34%,#2693ac 50%,#2e91b6 50.66%,#388fc5 51.32%,#468bd3 51.97%,#5887de 52.63%,#6c7fe6 53.29%,#7677e9 53.95%,#826feb 54.61%,#6084e1 55.26%,#3f8dcc 55.92%,#2d91b5 56.58%,#1f94a2 57.24%,#1d959e 57.89%,#1b9699 58.55%,#2194a5 59.21%,#2a92b0 59.87%,#6b7fe6 60.53%,#aa4ee9 61.18%,#ab4de8 61.84%,#ac4ce7 62.5%,#a255ec 63.16%,#995dee 63.82%,#846eec 64.47%,#6c7fe6 65.13%,#5f84e1 65.79%,#5189da 66.45%,#7a74ea 67.11%,#9c5aee 67.76%,#995dee 68.42%,#9660ee 69.08%,#9660ee 69.74%,#9660ee 70.39%,#886bed 71.05%,#7776e9 71.71%,#816feb 72.37%,#8d68ed 73.03%,#6881e5 73.68%,#428cd0 74.34%,#5488dc 75%,#6a80e6 75.66%,#866cec 76.32%,#9c5aee 76.97%,#9c5aee 77.63%,#9c5aee 78.29%,#9c5aee 78.95%,#9c5aee 79.61%,#975fee 80.26%,#9363ee 80.92%,#a156ec 81.58%,#af4ae5 82.24%,#c03cd8 82.89%,#d030c6 83.55%,#d030c6 84.21%,#d030c6 84.87%,#c837d0 85.53%,#be3eda 86.18%,#ad4ce7 86.84%,#9c5aee 87.5%,#8e67ee 88.16%,#7776e9 88.82%,#6b7fe6 89.47%,#5d85e0 90.13%,#707be8 90.79%,#826feb 91.45%,#7578e9 92.11%,#6a80e6 92.76%,#6083e2 93.42%,#5787dd 94.08%,#5a86df 94.74%,#5d85e0 95.39%,#8070eb 96.05%,#9c5aee 96.71%,#9c5aee 97.37%,#9c5aee 98.03%,#9264ee 98.68%,#836fec 99.34%,#4e89d8 100%)"></i><i style="top:318.4px;background:linear-gradient(90deg,#388fc5 0%,#468bd3 0.66%,#7478e9 1.32%,#9c5aee 1.97%,#9264ee 2.63%,#836fec 3.29%,#9264ee 3.95%,#9c5aee 4.61%,#7776e9 5.26%,#4d8ad7 5.92%,#5289da 6.58%,#5787dd 7.24%,#7d72eb 7.89%,#9c5aee 8.55%,#9c5aee 9.21%,#9c5aee 9.87%,#995dee 10.53%,#9660ee 11.18%,#ad4ce7 11.84%,#c439d4 12.5%,#a453eb 13.16%,#7a74ea 13.82%,#6582e4 14.47%,#4d8ad7 15.13%,#6e7de7 15.79%,#8f66ee 16.45%,#7379e8 17.11%,#5787de 17.76%,#5887de 18.42%,#5887de 19.08%,#478bd3 19.74%,#398fc6 20.39%,#4b8ad6 21.05%,#6283e2 21.71%,#6f7ce7 22.37%,#7a74ea 23.03%,#8a6aed 23.68%,#9660ee 24.34%,#ad4ce7 25%,#c439d4 25.66%,#c439d4 26.32%,#c439d4 26.97%,#d52bbd 27.63%,#e02a9d 28.29%,#dc28ae 28.95%,#d62bbb 29.61%,#c23ad6 30.26%,#aa4fe9 30.92%,#995dee 31.58%,#826feb 32.24%,#7c73ea 32.89%,#7776e9 33.55%,#7776e9 34.21%,#7776e9 34.87%,#6980e6 35.53%,#5887de 36.18%,#3f8dcc 36.84%,#2e91b6 37.5%,#2e91b6 38.16%,#2e91b6 38.82%,#2e91b6 39.47%,#2e91b6 40.13%,#3091ba 40.79%,#3390bf 41.45%,#2992af 42.11%,#1f94a2 42.76%,#1c959b 43.42%,#199693 44.08%,#2194a5 44.74%,#2e91b6 45.39%,#428cd0 46.05%,#6283e2 46.71%,#428cd0 47.37%,#2e91b6 48.03%,#2693ac 48.68%,#1f94a2 49.34%,#2c92b3 50%,#3b8ec8 50.66%,#5588dc 51.32%,#7479e8 51.97%,#876cec 52.63%,#9660ee 53.29%,#9660ee 53.95%,#9660ee 54.61%,#7a74ea 55.26%,#5d85e0 55.92%,#458bd2 56.58%,#3390bf 57.24%,#2b92b1 57.89%,#2393a7 58.55%,#2e91b6 59.21%,#3a8ec7 59.87%,#7d72eb 60.53%,#b149e4 61.18%,#be3eda 61.84%,#cb35cd 62.5%,#be3eda 63.16%,#b149e4 63.82%,#995dee 64.47%,#7776e9 65.13%,#6682e4 65.79%,#5189da 66.45%,#7a74ea 67.11%,#9c5aee 67.76%,#9c5aee 68.42%,#9c5aee 69.08%,#9c5aee 69.74%,#9c5aee 70.39%,#8e67ee 71.05%,#7776e9 71.71%,#8e67ee 72.37%,#9c5aee 73.03%,#6383e3 73.68%,#2e91b6 74.34%,#3390be 75%,#398ec6 75.66%,#5887de 76.32%,#7a74ea 76.97%,#7a74ea 77.63%,#7a74ea 78.29%,#7a74ea 78.95%,#7a74ea 79.61%,#7c73ea 80.26%,#7d72ea 80.92%,#9363ee 81.58%,#a057ed 82.24%,#af4ae5 82.89%,#be3eda 83.55%,#b743df 84.21%,#b149e4 84.87%,#aa4fe9 85.53%,#a255ec 86.18%,#985eee 86.84%,#8d68ed 87.5%,#7379e8 88.16%,#5a86df 88.82%,#488bd4 89.47%,#398ec6 90.13%,#488bd4 90.79%,#5a86df 91.45%,#488bd4 92.11%,#398ec6 92.76%,#3390be 93.42%,#2e91b6 94.08%,#388fc5 94.74%,#468bd3 95.39%,#7478e9 96.05%,#9c5aee 96.71%,#9264ee 97.37%,#836fec 98.03%,#9264ee 98.68%,#9c5aee 99.34%,#7776e9 100%)"></i><i style="top:324.64px;background:linear-gradient(90deg,#388fc5 0%,#468bd3 0.66%,#7478e9 1.32%,#9c5aee 1.97%,#727ae8 2.63%,#428cd0 3.29%,#727ae8 3.95%,#9c5aee 4.61%,#9c5aee 5.26%,#9d59ee 5.92%,#a751ea 6.58%,#b149e4 7.24%,#a651eb 7.89%,#9c5aee 8.55%,#9c5aee 9.21%,#9c5aee 9.87%,#9264ee 10.53%,#826feb 11.18%,#995dee 11.84%,#a94fe9 12.5%,#717ae8 13.16%,#3290bd 13.82%,#2493a9 14.47%,#1a9697 15.13%,#1d959c 15.79%,#1e95a0 16.45%,#1f94a3 17.11%,#2294a6 17.76%,#2393a7 18.42%,#2593aa 19.08%,#2493a9 19.74%,#2393a8 20.39%,#2e91b6 21.05%,#398fc5 21.71%,#368fc2 22.37%,#3390be 23.03%,#5687dd 23.68%,#826feb 24.34%,#995dee 25%,#aa4fe9 25.66%,#aa4fe9 26.32%,#aa4fe9 26.97%,#c23ad6 27.63%,#d62bbb 28.29%,#dc28ae 28.95%,#e02a9d 29.61%,#d52bbd 30.26%,#c439d4 30.92%,#ad4ce7 31.58%,#9660ee 32.24%,#886bed 32.89%,#7776e9 33.55%,#7776e9 34.21%,#7776e9 34.87%,#6283e2 35.53%,#4c8ad6 36.18%,#3a8ec7 36.84%,#2e91b6 37.5%,#2e91b6 38.16%,#2e91b6 38.82%,#2e91b6 39.47%,#2e91b6 40.13%,#3590c1 40.79%,#3f8dcd 41.45%,#2d91b5 42.11%,#1f94a2 42.76%,#2892ae 43.42%,#3191bc 44.08%,#428cd0 44.74%,#5a86df 45.39%,#498bd4 46.05%,#3a8ec7 46.71%,#3390bf 47.37%,#2e91b6 48.03%,#2693ac 48.68%,#1f94a2 49.34%,#388fc5 50%,#6482e3 50.66%,#975fee 51.32%,#b942de 51.97%,#bd3eda 52.63%,#c03cd8 53.29%,#bf3dd9 53.95%,#be3dd9 54.61%,#a652eb 55.26%,#8d68ed 55.92%,#846eec 56.58%,#7a74ea 57.24%,#4b8ad6 57.89%,#2a92b0 58.55%,#408dcd 59.21%,#6283e2 59.87%,#896bed 60.53%,#a354ec 61.18%,#b149e4 61.84%,#be3eda 62.5%,#b149e4 63.16%,#a354ec 63.82%,#9264ee 64.47%,#7776e9 65.13%,#717ae8 65.79%,#6c7fe6 66.45%,#876bec 67.11%,#9c5aee 67.76%,#9c5aee 68.42%,#9c5aee 69.08%,#9c5aee 69.74%,#9c5aee 70.39%,#8e67ee 71.05%,#7776e9 71.71%,#8e67ee 72.37%,#9c5aee 73.03%,#6383e3 73.68%,#2e91b6 74.34%,#2a92b1 75%,#2793ad 75.66%,#2d91b5 76.32%,#3390bf 76.97%,#3390bf 77.63%,#3390bf 78.29%,#3390bf 78.95%,#3390bf 79.61%,#458bd2 80.26%,#5c85e0 80.92%,#727ae8 81.58%,#886bed 82.24%,#9165ee 82.89%,#9561ee 83.55%,#7677e9 84.21%,#5587dd 84.87%,#5f84e1 85.53%,#6980e6 86.18%,#6382e3 86.84%,#5d85e0 87.5%,#408cce 88.16%,#2e91b6 88.82%,#2a92b1 89.47%,#2793ad 90.13%,#2a92b1 90.79%,#2e91b6 91.45%,#2a92b1 92.11%,#2793ad 92.76%,#2a92b1 93.42%,#2e91b6 94.08%,#388fc5 94.74%,#468bd3 95.39%,#7478e9 96.05%,#9c5aee 96.71%,#727ae8 97.37%,#428cd0 98.03%,#727ae8 98.68%,#9c5aee 99.34%,#9c5aee 100%)"></i><i style="top:330.88px;background:linear-gradient(90deg,#3d8eca 0%,#5189da 0.66%,#6f7ce7 1.32%,#8d68ed 1.97%,#5687dd 2.63%,#2e91b6 3.29%,#6383e3 3.95%,#9c5aee 4.61%,#aa4fe9 5.26%,#b743df 5.92%,#c13bd7 6.58%,#cb35cd 7.24%,#b446e2 7.89%,#9c5aee 8.55%,#995dee 9.21%,#9660ee 9.87%,#7c73ea 10.53%,#6283e2 11.18%,#7677e9 11.84%,#8a6aed 12.5%,#3e8dcc 13.16%,#199694 13.82%,#109476 14.47%,#229858 15.13%,#269854 15.79%,#2c984e 16.45%,#2e984c 17.11%,#2b984f 17.76%,#279853 18.42%,#1d975d 19.08%,#119470 19.74%,#139685 20.39%,#1b9699 21.05%,#2593aa 21.71%,#2294a7 22.37%,#1f94a1 23.03%,#378fc4 23.68%,#6283e2 24.34%,#7c73ea 25%,#9660ee 25.66%,#995dee 26.32%,#9c5aee 26.97%,#b049e4 27.63%,#c439d4 28.29%,#d52bbd 28.95%,#e02a9d 29.61%,#dc28ae 30.26%,#d62bbb 30.92%,#c23ad6 31.58%,#aa4fe9 32.24%,#995dee 32.89%,#826feb 33.55%,#7c73ea 34.21%,#7776e9 34.87%,#6682e4 35.53%,#5189da 36.18%,#3d8eca 36.84%,#2e91b6 37.5%,#3390bf 38.16%,#3a8ec7 38.82%,#3e8dcc 39.47%,#428cd0 40.13%,#448cd1 40.79%,#468bd3 41.45%,#3191bc 42.11%,#2393a7 42.76%,#3191bc 43.42%,#468bd3 44.08%,#5089d9 44.74%,#5a86df 45.39%,#438cd1 46.05%,#3290bd 46.71%,#368fc2 47.37%,#3a8ec7 48.03%,#378fc3 48.68%,#3390bf 49.34%,#5e84e1 50%,#9363ee 50.66%,#bc40dc 51.32%,#da29b4 51.97%,#db28b1 52.63%,#db29b3 53.29%,#d62bbc 53.95%,#d12fc4 54.61%,#be3dd9 55.26%,#aa4fe9 55.92%,#a354ec 56.58%,#9c5aee 57.24%,#727ae8 57.89%,#428cd0 58.55%,#6980e5 59.21%,#8f67ee 59.87%,#9660ee 60.53%,#9c5aee 61.18%,#a651eb 61.84%,#b149e4 62.5%,#a354ec 63.16%,#9660ee 63.82%,#7975ea 64.47%,#5a86df 65.13%,#6382e3 65.79%,#6c7fe6 66.45%,#876bec 67.11%,#9c5aee 67.76%,#9c5aee 68.42%,#9c5aee 69.08%,#995dee 69.74%,#9660ee 70.39%,#8e67ee 71.05%,#826feb 71.71%,#8e67ee 72.37%,#9660ee 73.03%,#5d85e0 73.68%,#2e91b6 74.34%,#2693ac 75%,#1f94a2 75.66%,#1d959e 76.32%,#1b9699 76.97%,#1b9699 77.63%,#1b9699 78.29%,#1d959d 78.95%,#1f94a1 79.61%,#2e91b6 80.26%,#428cd0 80.92%,#4d89d8 81.58%,#5887de 82.24%,#3f8dcd 82.89%,#2d91b4 83.55%,#1e95a0 84.21%,#189692 84.87%,#2294a6 85.53%,#3091b9 86.18%,#3590c1 86.84%,#398ec6 87.5%,#2892ae 88.16%,#1b9699 88.82%,#1b9699 89.47%,#1b9699 90.13%,#1b9699 90.79%,#1b9699 91.45%,#1d959e 92.11%,#1f94a2 92.76%,#2693ac 93.42%,#2e91b6 94.08%,#3d8eca 94.74%,#5189da 95.39%,#6f7ce7 96.05%,#8d68ed 96.71%,#5687dd 97.37%,#2e91b6 98.03%,#6383e3 98.68%,#9c5aee 99.34%,#aa4fe9 100%)"></i><i style="top:337.12px;background:linear-gradient(90deg,#468bd3 0%,#6c7fe6 0.66%,#6582e4 1.32%,#5d85e0 1.97%,#408cce 2.63%,#2e91b6 3.29%,#6383e3 3.95%,#9c5aee 4.61%,#aa4fe9 5.26%,#b743df 5.92%,#bb40dc 6.58%,#be3eda 7.24%,#ad4ce7 7.89%,#9c5aee 8.55%,#9264ee 9.21%,#826feb 9.87%,#5c85e0 10.53%,#3a8ec7 11.18%,#498ad5 11.84%,#5986de 12.5%,#2892ae 13.16%,#12957f 13.82%,#299851 14.47%,#5e8f25 15.13%,#55922b 15.79%,#55922b 16.45%,#618e22 17.11%,#658d20 17.76%,#648d21 18.42%,#608f24 19.08%,#3d973e 19.74%,#129469 20.39%,#139685 21.05%,#1d959d 21.71%,#1f94a1 22.37%,#1f94a1 23.03%,#2b92b2 23.68%,#3a8ec7 24.34%,#5c85e0 25%,#826feb 25.66%,#9264ee 26.32%,#9c5aee 26.97%,#a354ec 27.63%,#aa4fe9 28.29%,#c23ad6 28.95%,#d62bbb 29.61%,#dc28ae 30.26%,#e02a9d 30.92%,#d52bbd 31.58%,#c439d4 32.24%,#ad4ce7 32.89%,#9660ee 33.55%,#886bed 34.21%,#7776e9 34.87%,#717ae8 35.53%,#6c7fe6 36.18%,#468bd3 36.84%,#2e91b6 37.5%,#428cd0 38.16%,#6283e2 38.82%,#727ae8 39.47%,#836fec 40.13%,#6582e4 40.79%,#468bd3 41.45%,#3690c2 42.11%,#2a92b0 42.76%,#3690c2 43.42%,#468bd3 44.08%,#388fc5 44.74%,#2e91b6 45.39%,#3590c1 46.05%,#3f8dcc 46.71%,#4f89d8 47.37%,#6283e2 48.03%,#6f7ce7 48.68%,#7b73ea 49.34%,#995dee 50%,#b04ae5 50.66%,#d32dc2 51.32%,#df2f92 51.97%,#df318f 52.63%,#df3090 53.29%,#dd29a9 53.95%,#d32dc1 54.61%,#cc34cb 55.26%,#c539d3 55.92%,#b049e4 56.58%,#9c5aee 57.24%,#9264ee 57.89%,#836fec 58.55%,#995dee 59.21%,#aa4ee9 59.87%,#a354ec 60.53%,#9c5aee 61.18%,#9f57ed 61.84%,#a354ec 62.5%,#9660ee 63.16%,#826feb 63.82%,#5189da 64.47%,#2e91b6 65.13%,#3c8eca 65.79%,#5189da 66.45%,#7a74ea 67.11%,#9c5aee 67.76%,#9c5aee 68.42%,#9c5aee 69.08%,#9264ee 69.74%,#826feb 70.39%,#8e67ee 71.05%,#9660ee 71.71%,#8e67ee 72.37%,#826feb 73.03%,#5189da 73.68%,#2e91b6 74.34%,#2693ac 75%,#1f94a2 75.66%,#1a9695 76.32%,#149687 76.97%,#149687 77.63%,#149687 78.29%,#199693 78.95%,#1e959f 79.61%,#2892ad 80.26%,#3390bf 80.92%,#3091b9 81.58%,#2a92b0 82.24%,#109477 82.89%,#479536 83.55%,#50942f 84.21%,#439639 84.87%,#159565 85.53%,#15968b 86.18%,#1e959f 86.84%,#2793ac 87.5%,#1c959b 88.16%,#149687 88.82%,#149687 89.47%,#149687 90.13%,#149687 90.79%,#149687 91.45%,#199695 92.11%,#1f94a2 92.76%,#2693ac 93.42%,#2e91b6 94.08%,#468bd3 94.74%,#6c7fe6 95.39%,#6582e4 96.05%,#5d85e0 96.71%,#408cce 97.37%,#2e91b6 98.03%,#6383e3 98.68%,#9c5aee 99.34%,#aa4fe9 100%)"></i><i style="top:343.37px;background:linear-gradient(90deg,#6980e5 0%,#8f67ee 0.66%,#7578e9 1.32%,#5d85e0 1.97%,#4f89d9 2.63%,#428cd0 3.29%,#727ae8 3.95%,#9c5aee 4.61%,#a651eb 5.26%,#b149e4 5.92%,#b149e4 6.58%,#b149e4 7.24%,#a354ec 7.89%,#9660ee 8.55%,#816feb 9.21%,#6c7fe6 9.87%,#438cd1 10.53%,#2a92b0 11.18%,#3590c1 11.84%,#448cd1 12.5%,#2b92b2 13.16%,#1a9696 13.82%,#129469 14.47%,#489535 15.13%,#3f973c 15.79%,#3b9840 16.45%,#51932e 17.11%,#628e22 17.76%,#5d8f25 18.42%,#56912a 19.08%,#299851 19.74%,#10947a 20.39%,#1a9696 21.05%,#2992ae 21.71%,#2e91b7 22.37%,#3290bd 23.03%,#368fc2 23.68%,#3a8ec7 24.34%,#5c85e0 25%,#826feb 25.66%,#9264ee 26.32%,#9c5aee 26.97%,#9f57ed 27.63%,#a354ec 28.29%,#ba41dd 28.95%,#d030c6 29.61%,#dc28ae 30.26%,#de3489 30.92%,#dc28ae 31.58%,#d030c6 32.24%,#b743df 32.89%,#9c5aee 33.55%,#8e67ee 34.21%,#7776e9 34.87%,#7776e9 35.53%,#7776e9 36.18%,#5c85e0 36.84%,#428cd0 37.5%,#5c85e0 38.16%,#7776e9 38.82%,#8e67ee 39.47%,#9c5aee 40.13%,#7a74ea 40.79%,#5189da 41.45%,#3d8eca 42.11%,#2e91b6 42.76%,#3390be 43.42%,#398ec6 44.08%,#3091b9 44.74%,#2793ad 45.39%,#3191bc 46.05%,#3f8dcc 46.71%,#6084e1 47.37%,#826feb 48.03%,#9660ee 48.68%,#a354ec 49.34%,#ab4de8 50%,#b744e0 50.66%,#d62bbd 51.32%,#df3090 51.97%,#de328c 52.63%,#df318e 53.29%,#de29a7 53.95%,#d42cc1 54.61%,#d12fc5 55.26%,#d030c6 55.92%,#be3eda 56.58%,#aa4fe9 57.24%,#a651eb 57.89%,#a354ec 58.55%,#aa4fe9 59.21%,#b149e4 59.87%,#a651eb 60.53%,#9c5aee 61.18%,#9c5aee 61.84%,#9c5aee 62.5%,#8e67ee 63.16%,#7776e9 63.82%,#428cd0 64.47%,#2393a7 65.13%,#3191bc 65.79%,#468bd3 66.45%,#6f7ce7 67.11%,#9660ee 67.76%,#995dee 68.42%,#9c5aee 69.08%,#8e67ee 69.74%,#7776e9 70.39%,#8e67ee 71.05%,#9c5aee 71.71%,#8e67ee 72.37%,#7776e9 73.03%,#5089d9 73.68%,#3290bd 74.34%,#2a92b1 75%,#2393a7 75.66%,#1b9697 76.32%,#149687 76.97%,#149687 77.63%,#149687 78.29%,#199693 78.95%,#1e959f 79.61%,#2094a4 80.26%,#2393a8 80.92%,#2094a4 81.58%,#1c959a 82.24%,#269854 82.89%,#718a19 83.55%,#788816 84.21%,#6d8b1b 84.87%,#369844 85.53%,#109479 86.18%,#16968e 86.84%,#1b9699 87.5%,#189690 88.16%,#149687 88.82%,#15968a 89.47%,#16968c 90.13%,#16968c 90.79%,#16968c 91.45%,#1d959d 92.11%,#2793ad 92.76%,#3390be 93.42%,#428cd0 94.08%,#6980e5 94.74%,#8f67ee 95.39%,#7578e9 96.05%,#5d85e0 96.71%,#4f89d9 97.37%,#428cd0 98.03%,#727ae8 98.68%,#9c5aee 99.34%,#a651eb 100%)"></i><i style="top:349.61px;background:linear-gradient(90deg,#995dee 0%,#aa4ee9 0.66%,#9c5aee 1.32%,#8d68ed 1.97%,#886bec 2.63%,#836fec 3.29%,#9264ee 3.95%,#9c5aee 4.61%,#9f57ed 5.26%,#a354ec 5.92%,#a354ec 6.58%,#a354ec 7.24%,#9660ee 7.89%,#826feb 8.55%,#6b7fe6 9.21%,#5189da 9.87%,#3590c1 10.53%,#2393a7 11.18%,#3191bc 11.84%,#468bd2 12.5%,#498bd4 13.16%,#4b8ad6 13.82%,#2a92b0 14.47%,#17968f 15.13%,#15968a 15.79%,#139684 16.45%,#119470 17.11%,#1d975d 17.76%,#12946b 18.42%,#11947b 19.08%,#179690 19.74%,#2094a4 20.39%,#3590c1 21.05%,#5787dd 21.71%,#6b7fe6 22.37%,#7a74ea 23.03%,#6f7ce7 23.68%,#6283e2 24.34%,#7c73ea 25%,#9660ee 25.66%,#995dee 26.32%,#9c5aee 26.97%,#a651eb 27.63%,#b149e4 28.29%,#c13bd7 28.95%,#d030c6 29.61%,#dd28ac 30.26%,#de3487 30.92%,#dd29ab 31.58%,#d12fc4 32.24%,#b842de 32.89%,#9d59ee 33.55%,#8f67ee 34.21%,#7776e9 34.87%,#7776e9 35.53%,#7776e9 36.18%,#7c73ea 36.84%,#836fec 37.5%,#7c73ea 38.16%,#7776e9 38.82%,#8e67ee 39.47%,#9c5aee 40.13%,#876bec 40.79%,#6c7fe6 41.45%,#468bd3 42.11%,#2e91b6 42.76%,#2a92b1 43.42%,#2793ad 44.08%,#3091b9 44.74%,#398ec6 45.39%,#3690c2 46.05%,#3290bd 46.71%,#6283e2 47.37%,#9660ee 48.03%,#a354ec 48.68%,#b149e4 49.34%,#ab4ee8 50%,#a751ea 50.66%,#c737d1 51.32%,#dc28b0 51.97%,#dd28ab 52.63%,#dc28ae 53.29%,#d82ab9 53.95%,#d22ec3 54.61%,#d030c5 55.26%,#d030c6 55.92%,#cb35cd 56.58%,#c439d4 57.24%,#ba41dd 57.89%,#b149e4 58.55%,#aa4fe9 59.21%,#a354ec 59.87%,#9f57ed 60.53%,#9c5aee 61.18%,#9c5aee 61.84%,#9c5aee 62.5%,#8e67ee 63.16%,#7776e9 63.82%,#498bd4 64.47%,#2a92b0 65.13%,#3690c2 65.79%,#468bd3 66.45%,#6582e4 67.11%,#826feb 67.76%,#9264ee 68.42%,#9c5aee 69.08%,#8e67ee 69.74%,#7776e9 70.39%,#8e67ee 71.05%,#9c5aee 71.71%,#8e67ee 72.37%,#7776e9 73.03%,#5986de 73.68%,#3f8dcc 74.34%,#3390be 75%,#2a92b0 75.66%,#2194a5 76.32%,#1b9699 76.97%,#1b9699 77.63%,#1b9699 78.29%,#1d959d 78.95%,#1f94a1 79.61%,#1a9697 80.26%,#16968c 80.92%,#1a9697 81.58%,#1d959d 82.24%,#119471 82.89%,#40973b 83.55%,#52932d 84.21%,#449638 84.87%,#139467 85.53%,#179690 86.18%,#17968f 86.84%,#149687 87.5%,#189690 88.16%,#1b9699 88.82%,#1f94a1 89.47%,#2493a8 90.13%,#2493a8 90.79%,#2493a8 91.45%,#2e91b6 92.11%,#398ec6 92.76%,#5c85e0 93.42%,#836fec 94.08%,#995dee 94.74%,#aa4ee9 95.39%,#9c5aee 96.05%,#8d68ed 96.71%,#886bec 97.37%,#836fec 98.03%,#9264ee 98.68%,#9c5aee 99.34%,#9f57ed 100%)"></i><i style="top:355.85px;background:linear-gradient(90deg,#a651eb 0%,#b149e4 0.66%,#9f57ed 1.32%,#8d68ed 1.97%,#9561ee 2.63%,#9c5aee 3.29%,#995dee 3.95%,#9660ee 4.61%,#995dee 5.26%,#9c5aee 5.92%,#9c5aee 6.58%,#9c5aee 7.24%,#9264ee 7.89%,#826feb 8.55%,#6582e4 9.21%,#468bd3 9.87%,#3191bc 10.53%,#2393a7 11.18%,#3191bc 11.84%,#468bd3 12.5%,#6582e4 13.16%,#826feb 13.82%,#6283e2 14.47%,#428cd0 15.13%,#3a8ec7 15.79%,#3290bd 16.45%,#2992ae 17.11%,#1f94a2 17.76%,#2992ae 18.42%,#3290bd 19.08%,#368fc2 19.74%,#3a8ec7 20.39%,#5c85e0 21.05%,#826feb 21.71%,#995dee 22.37%,#aa4fe9 23.03%,#9c5aee 23.68%,#8f67ee 24.34%,#9660ee 25%,#9c5aee 25.66%,#9f57ed 26.32%,#a354ec 26.97%,#b149e4 27.63%,#be3eda 28.29%,#cd33ca 28.95%,#d82ab8 29.61%,#df2d96 30.26%,#dc3f70 30.92%,#df308f 31.58%,#dc28b0 32.24%,#c33ad5 32.89%,#9f57ed 33.55%,#9363ee 34.21%,#826fec 34.87%,#826feb 35.53%,#826feb 36.18%,#9264ee 36.84%,#9c5aee 37.5%,#9264ee 38.16%,#826feb 38.82%,#8e67ee 39.47%,#9660ee 40.13%,#886bed 40.79%,#7776e9 41.45%,#4c8ad7 42.11%,#2e91b6 42.76%,#2693ac 43.42%,#1f94a2 44.08%,#2b92b2 44.74%,#398ec6 45.39%,#3690c2 46.05%,#3290bd 46.71%,#6283e2 47.37%,#9660ee 48.03%,#a651eb 48.68%,#b743df 49.34%,#aa4ee9 50%,#9d59ee 50.66%,#ba41dd 51.32%,#d22ec3 51.97%,#d32dc2 52.63%,#d22ec2 53.29%,#cf31c7 53.95%,#cc34cc 54.61%,#c837d0 55.26%,#c439d4 55.92%,#c837d0 56.58%,#cb35cd 57.24%,#be3eda 57.89%,#b149e4 58.55%,#a354ec 59.21%,#9660ee 59.87%,#995dee 60.53%,#9c5aee 61.18%,#995dee 61.84%,#9660ee 62.5%,#7975ea 63.16%,#5a86df 63.82%,#3d8dca 64.47%,#2a92b0 65.13%,#3390be 65.79%,#3f8dcc 66.45%,#5388db 67.11%,#6c7fe6 67.76%,#816feb 68.42%,#9660ee 69.08%,#8e67ee 69.74%,#826feb 70.39%,#8e67ee 71.05%,#9660ee 71.71%,#8e67ee 72.37%,#826feb 73.03%,#707be8 73.68%,#5d85e0 74.34%,#4a8ad5 75%,#3a8ec7 75.66%,#2e91b6 76.32%,#2393a7 76.97%,#2194a5 77.63%,#1f94a2 78.29%,#1f94a2 78.95%,#1f94a2 79.61%,#199695 80.26%,#149687 80.92%,#1c959a 81.58%,#2693ab 82.24%,#1e959f 82.89%,#17968f 83.55%,#139686 84.21%,#139684 84.87%,#1a9695 85.53%,#2194a5 86.18%,#1d959d 86.84%,#199693 87.5%,#2393a8 88.16%,#3390bf 88.82%,#378fc3 89.47%,#3a8ec7 90.13%,#368fc2 90.79%,#3290bd 91.45%,#3b8ec8 92.11%,#468bd3 92.76%,#7478e9 93.42%,#9c5aee 94.08%,#a651eb 94.74%,#b149e4 95.39%,#9f57ed 96.05%,#8d68ed 96.71%,#9561ee 97.37%,#9c5aee 98.03%,#995dee 98.68%,#9660ee 99.34%,#995dee 100%)"></i><i style="top:362.1px;background:linear-gradient(90deg,#9f57ed 0%,#a354ec 0.66%,#866cec 1.32%,#5d85e0 1.97%,#8070eb 2.63%,#9c5aee 3.29%,#9264ee 3.95%,#826feb 4.61%,#9264ee 5.26%,#9c5aee 5.92%,#9c5aee 6.58%,#9c5aee 7.24%,#995dee 7.89%,#9660ee 8.55%,#6f7ce7 9.21%,#468bd3 9.87%,#3690c2 10.53%,#2a92b0 11.18%,#3690c2 11.84%,#468bd3 12.5%,#6f7ce7 13.16%,#9660ee 13.82%,#8f67ee 14.47%,#836fec 15.13%,#7e71eb 15.79%,#7a74ea 16.45%,#7578e9 17.11%,#6f7ce7 17.76%,#7578e9 18.42%,#7a74ea 19.08%,#6f7ce7 19.74%,#6283e2 20.39%,#7c73ea 21.05%,#9660ee 21.71%,#ad4ce7 22.37%,#c439d4 23.03%,#b743df 23.68%,#aa4ee9 24.34%,#a354ec 25%,#9c5aee 25.66%,#a651eb 26.32%,#b149e4 26.97%,#be3eda 27.63%,#cc34cc 28.29%,#d92ab7 28.95%,#df2e95 29.61%,#dc406d 30.26%,#d94b5a 30.92%,#db4466 31.58%,#dd387f 32.24%,#d32dc2 32.89%,#a553eb 33.55%,#9b5bee 34.21%,#9660ee 34.87%,#9660ee 35.53%,#9660ee 36.18%,#995dee 36.84%,#9c5aee 37.5%,#995dee 38.16%,#9660ee 38.82%,#8e67ee 39.47%,#826feb 40.13%,#7c73ea 40.79%,#7776e9 41.45%,#4c8ad7 42.11%,#2e91b6 42.76%,#2693ac 43.42%,#1f94a2 44.08%,#2393a8 44.74%,#2793ad 45.39%,#3191bc 46.05%,#3f8dcc 46.71%,#6084e1 47.37%,#826feb 48.03%,#a057ed 48.68%,#b743df 49.34%,#aa4ee9 50%,#9c5aee 50.66%,#b743df 51.32%,#d030c6 51.97%,#d030c6 52.63%,#d030c6 53.29%,#c837d0 53.95%,#be3eda 54.61%,#b446e2 55.26%,#aa4fe9 55.92%,#b446e2 56.58%,#be3eda 57.24%,#b149e4 57.89%,#a354ec 58.55%,#9660ee 59.21%,#826feb 59.87%,#9264ee 60.53%,#9c5aee 61.18%,#9264ee 61.84%,#826feb 62.5%,#5189da 63.16%,#2e91b6 63.82%,#2892ae 64.47%,#2393a7 65.13%,#2a92b1 65.79%,#3290bd 66.45%,#408dcd 67.11%,#5189da 67.76%,#6b7fe6 68.42%,#826feb 69.08%,#8e67ee 69.74%,#9660ee 70.39%,#8e67ee 71.05%,#826feb 71.71%,#8e67ee 72.37%,#9660ee 73.03%,#9264ee 73.68%,#8d68ed 74.34%,#7677e9 75%,#6283e2 75.66%,#408dcd 76.32%,#2a92b0 76.97%,#2493a9 77.63%,#1f94a2 78.29%,#1f94a2 78.95%,#1f94a2 79.61%,#1d959e 80.26%,#1b9699 80.92%,#2892ae 81.58%,#398ec6 82.24%,#418ccf 82.89%,#4b8ad6 83.55%,#3b8ec8 84.21%,#3091ba 84.87%,#2d91b5 85.53%,#2a92b0 86.18%,#2e91b6 86.84%,#3191bc 87.5%,#5189da 88.16%,#7a74ea 88.82%,#6f7ce7 89.47%,#6283e2 90.13%,#4f89d8 90.79%,#3f8dcc 91.45%,#428cd0 92.11%,#468bd3 92.76%,#7478e9 93.42%,#9c5aee 94.08%,#9f57ed 94.74%,#a354ec 95.39%,#866cec 96.05%,#5d85e0 96.71%,#8070eb 97.37%,#9c5aee 98.03%,#9264ee 98.68%,#826feb 99.34%,#9264ee 100%)"></i><i style="top:368.34px;background:linear-gradient(90deg,#886bec 0%,#836fec 0.66%,#6b7fe6 1.32%,#5189da 1.97%,#6b7fe6 2.63%,#836fec 3.29%,#6f7ce7 3.95%,#5a86df 4.61%,#6f7ce7 5.26%,#836fec 5.92%,#8f67ee 6.58%,#9660ee 7.24%,#9264ee 7.89%,#8d68ed 8.55%,#6f7ce7 9.21%,#5189da 9.87%,#4a8ad5 10.53%,#428cd0 11.18%,#4f89d9 11.84%,#5d85e0 12.5%,#8070eb 13.16%,#9c5aee 13.82%,#9c5aee 14.47%,#9c5aee 15.13%,#9f57ed 15.79%,#a354ec 16.45%,#9f57ed 17.11%,#9c5aee 17.76%,#9c5aee 18.42%,#9c5aee 19.08%,#9660ee 19.74%,#8f67ee 20.39%,#9c5aee 21.05%,#aa4fe9 21.71%,#be3eda 22.37%,#d030c6 23.03%,#c13bd7 23.68%,#b149e4 24.34%,#aa4fe9 25%,#a354ec 25.66%,#b149e4 26.32%,#be3eda 26.97%,#cd33cb 27.63%,#d72bbb 28.29%,#df29a3 28.95%,#dd3781 29.61%,#dc426b 30.26%,#da485f 30.92%,#db4566 31.58%,#dd3a7c 32.24%,#d42cbf 32.89%,#a750ea 33.55%,#9f58ed 34.21%,#9c5aee 34.87%,#995dee 35.53%,#9660ee 36.18%,#9264ee 36.84%,#8d68ed 37.5%,#886bec 38.16%,#836fec 38.82%,#6f7ce7 39.47%,#5a86df 40.13%,#6a80e6 40.79%,#7776e9 41.45%,#5c85e0 42.11%,#428cd0 42.76%,#378fc3 43.42%,#2e91b6 44.08%,#2a92b1 44.74%,#2793ad 45.39%,#3191bc 46.05%,#3f8dcc 46.71%,#5388db 47.37%,#6c7fe6 48.03%,#9264ee 48.68%,#aa4ee9 49.34%,#a057ed 50%,#9660ee 50.66%,#ad4ce7 51.32%,#c439d4 51.97%,#c439d4 52.63%,#c439d4 53.29%,#b743df 53.95%,#aa4ee9 54.61%,#9c5aee 55.26%,#8d68ed 55.92%,#9c5aee 56.58%,#aa4ee9 57.24%,#a354ec 57.89%,#9c5aee 58.55%,#8e67ee 59.21%,#7776e9 59.87%,#816feb 60.53%,#8d68ed 61.18%,#7677e9 61.84%,#6283e2 62.5%,#388fc4 63.16%,#1f94a2 63.82%,#1f94a2 64.47%,#1f94a2 65.13%,#2693ac 65.79%,#2e91b6 66.45%,#388fc5 67.11%,#468bd3 67.76%,#5f84e1 68.42%,#7776e9 69.08%,#8e67ee 69.74%,#9c5aee 70.39%,#8e67ee 71.05%,#7776e9 71.71%,#886bed 72.37%,#9660ee 73.03%,#995dee 73.68%,#9c5aee 74.34%,#9264ee 75%,#826feb 75.66%,#5c85e0 76.32%,#3a8ec7 76.97%,#3091b9 77.63%,#2793ad 78.29%,#2593aa 78.95%,#2393a7 79.61%,#2194a5 80.26%,#1f94a2 80.92%,#3091b9 81.58%,#468bd3 82.24%,#5f84e1 82.89%,#7776e9 83.55%,#6b7fe6 84.21%,#5d85e0 84.87%,#4f89d9 85.53%,#428cd0 86.18%,#4f89d9 86.84%,#5d85e0 87.5%,#8070eb 88.16%,#9c5aee 88.82%,#9264ee 89.47%,#826feb 90.13%,#6b7fe6 90.79%,#5189da 91.45%,#4c8ad6 92.11%,#468bd3 92.76%,#6a80e6 93.42%,#8d68ed 94.08%,#886bec 94.74%,#836fec 95.39%,#6b7fe6 96.05%,#5189da 96.71%,#6b7fe6 97.37%,#836fec 98.03%,#6f7ce7 98.68%,#5a86df 99.34%,#6f7ce7 100%)"></i><i style="top:374.58px;background:linear-gradient(90deg,#4f89d9 0%,#428cd0 0.66%,#5587dd 1.32%,#6c7fe6 1.97%,#5587dd 2.63%,#428cd0 3.29%,#378fc3 3.95%,#2e91b6 4.61%,#378fc3 5.26%,#428cd0 5.92%,#6283e3 6.58%,#826feb 7.24%,#707be8 7.89%,#5d85e0 8.55%,#6582e4 9.21%,#6c7fe6 9.87%,#7677e9 10.53%,#836fec 11.18%,#886bec 11.84%,#8d68ed 12.5%,#9561ee 13.16%,#9c5aee 13.82%,#9c5aee 14.47%,#9c5aee 15.13%,#a651eb 15.79%,#b149e4 16.45%,#a651eb 17.11%,#9c5aee 17.76%,#9c5aee 18.42%,#9c5aee 19.08%,#a354ec 19.74%,#aa4ee9 20.39%,#b743df 21.05%,#c439d4 21.71%,#cb35cd 22.37%,#d030c6 23.03%,#ba41dd 23.68%,#a354ec 24.34%,#aa4fe9 25%,#b149e4 25.66%,#be3eda 26.32%,#cb35cd 26.97%,#d82ab9 27.63%,#e02a9d 28.29%,#df2f91 28.95%,#de3683 29.61%,#de328c 30.26%,#de328c 30.92%,#e02c98 31.58%,#db29b3 32.24%,#c33ad5 32.89%,#a454eb 33.55%,#9e59ed 34.21%,#9c5aee 34.87%,#9264ee 35.53%,#826feb 36.18%,#707be8 36.84%,#5d85e0 37.5%,#4f89d9 38.16%,#428cd0 38.82%,#378fc3 39.47%,#2e91b6 40.13%,#4c8ad7 40.79%,#7776e9 41.45%,#7c73ea 42.11%,#836fec 42.76%,#6f7ce7 43.42%,#5a86df 44.08%,#488bd4 44.74%,#398ec6 45.39%,#3690c2 46.05%,#3290bd 46.71%,#408dcd 47.37%,#5189da 48.03%,#707be8 48.68%,#8f67ee 49.34%,#886bed 50%,#826feb 50.66%,#995dee 51.32%,#aa4fe9 51.97%,#aa4fe9 52.63%,#aa4fe9 53.29%,#9c5aee 53.95%,#8f67ee 54.61%,#7578e9 55.26%,#5d85e0 55.92%,#7578e9 56.58%,#8f67ee 57.24%,#9660ee 57.89%,#9c5aee 58.55%,#8e67ee 59.21%,#7776e9 59.87%,#6b7fe6 60.53%,#5d85e0 61.18%,#4a8ad5 61.84%,#3a8ec7 62.5%,#2c92b3 63.16%,#1f94a2 63.82%,#1f94a2 64.47%,#1f94a2 65.13%,#2693ac 65.79%,#2e91b6 66.45%,#388fc5 67.11%,#468bd3 67.76%,#5f84e1 68.42%,#7776e9 69.08%,#8e67ee 69.74%,#9c5aee 70.39%,#8e67ee 71.05%,#7776e9 71.71%,#7c73ea 72.37%,#826feb 73.03%,#9264ee 73.68%,#9c5aee 74.34%,#995dee 75%,#9660ee 75.66%,#7c73ea 76.32%,#6283e2 76.97%,#4b8ad6 77.63%,#398ec6 78.29%,#3191bb 78.95%,#2a92b0 79.61%,#2493a9 80.26%,#1f94a2 80.92%,#3091b9 81.58%,#468bd3 82.24%,#5f84e1 82.89%,#7776e9 83.55%,#816feb 84.21%,#8d68ed 84.87%,#886bec 85.53%,#836fec 86.18%,#886bec 86.84%,#8d68ed 87.5%,#9561ee 88.16%,#9c5aee 88.82%,#995dee 89.47%,#9660ee 90.13%,#816feb 90.79%,#6c7fe6 91.45%,#5887de 92.11%,#468bd3 92.76%,#5189da 93.42%,#5d85e0 94.08%,#4f89d9 94.74%,#428cd0 95.39%,#5587dd 96.05%,#6c7fe6 96.71%,#5587dd 97.37%,#428cd0 98.03%,#378fc3 98.68%,#2e91b6 99.34%,#378fc3 100%)"></i><i style="top:380.83px;background:linear-gradient(90deg,#3390be 0%,#2a92b0 0.66%,#3d8dca 1.32%,#5a86df 1.97%,#3d8dca 2.63%,#2a92b0 3.29%,#2493a9 3.95%,#1f94a2 4.61%,#2493a9 5.26%,#2a92b0 5.92%,#408dcd 6.58%,#6283e2 7.24%,#5986de 7.89%,#5189da 8.55%,#6b7fe6 9.21%,#826feb 9.87%,#9660ee 10.53%,#a354ec 11.18%,#a651eb 11.84%,#aa4fe9 12.5%,#aa4fe9 13.16%,#aa4fe9 13.82%,#aa4fe9 14.47%,#aa4fe9 15.13%,#b446e2 15.79%,#be3eda 16.45%,#b149e4 17.11%,#a354ec 17.76%,#9f57ed 18.42%,#9c5aee 19.08%,#a354ec 19.74%,#aa4ee9 20.39%,#b743df 21.05%,#c439d4 21.71%,#c439d4 22.37%,#c439d4 23.03%,#b049e4 23.68%,#9c5aee 24.34%,#a651eb 25%,#b149e4 25.66%,#b446e2 26.32%,#b644e0 26.97%,#d12fc5 27.63%,#e02a9d 28.29%,#e02a9d 28.95%,#e02b9b 29.61%,#dc28af 30.26%,#d62bbd 30.92%,#cd33ca 31.58%,#bc3fdb 32.24%,#ad4ce7 32.89%,#9e58ed 33.55%,#995dee 34.21%,#9660ee 34.87%,#7c73ea 35.53%,#6283e2 36.18%,#4b8ad6 36.84%,#398ec6 37.5%,#3191bb 38.16%,#2a92b0 38.82%,#2493a9 39.47%,#1f94a2 40.13%,#388fc4 40.79%,#6283e2 41.45%,#826fec 42.11%,#9c5aee 42.76%,#9264ee 43.42%,#826feb 44.08%,#6b7fe6 44.74%,#5189da 45.39%,#3d8eca 46.05%,#2e91b6 46.71%,#3590c1 47.37%,#3f8dcc 48.03%,#5388db 48.68%,#6c7fe6 49.34%,#6c7fe6 50%,#6c7fe6 50.66%,#7a74ea 51.32%,#8d68ed 51.97%,#9561ee 52.63%,#9c5aee 53.29%,#9264ee 53.95%,#826feb 54.61%,#6b7fe6 55.26%,#5189da 55.92%,#707be8 56.58%,#8f67ee 57.24%,#995dee 57.89%,#a354ec 58.55%,#9660ee 59.21%,#826feb 59.87%,#6582e4 60.53%,#468bd3 61.18%,#388fc5 61.84%,#2e91b6 62.5%,#2693ac 63.16%,#1f94a2 63.82%,#1f94a2 64.47%,#1f94a2 65.13%,#2992ae 65.79%,#3290bd 66.45%,#408dcd 67.11%,#5189da 67.76%,#6b7fe6 68.42%,#826feb 69.08%,#995dee 69.74%,#aa4fe9 70.39%,#9c5aee 71.05%,#8f67ee 71.71%,#886bed 72.37%,#826feb 73.03%,#9264ee 73.68%,#9c5aee 74.34%,#9c5aee 75%,#9c5aee 75.66%,#9264ee 76.32%,#826feb 76.97%,#707be8 77.63%,#5d85e0 78.29%,#4f89d9 78.95%,#428cd0 79.61%,#3a8ec7 80.26%,#3390bf 80.92%,#458bd2 81.58%,#5d85e0 82.24%,#6e7de7 82.89%,#7c73ea 83.55%,#9165ee 84.21%,#9c5aee 84.87%,#9c5aee 85.53%,#9c5aee 86.18%,#9c5aee 86.84%,#9c5aee 87.5%,#9c5aee 88.16%,#9c5aee 88.82%,#9f57ed 89.47%,#a354ec 90.13%,#9264ee 90.79%,#7776e9 91.45%,#5f84e1 92.11%,#468bd3 92.76%,#428cd0 93.42%,#3f8dcc 94.08%,#3390be 94.74%,#2a92b0 95.39%,#3d8dca 96.05%,#5a86df 96.71%,#3d8dca 97.37%,#2a92b0 98.03%,#2493a9 98.68%,#1f94a2 99.34%,#2493a9 100%)"></i><i style="top:387.07px;background:linear-gradient(90deg,#2a92b1 0%,#2393a7 0.66%,#2892ae 1.32%,#2e91b6 1.97%,#2892ae 2.63%,#2393a7 3.29%,#2194a5 3.95%,#1f94a2 4.61%,#2194a5 5.26%,#2393a7 5.92%,#2e91b6 6.58%,#3a8ec7 7.24%,#5089d9 7.89%,#6c7fe6 8.55%,#816feb 9.21%,#9660ee 9.87%,#a354ec 10.53%,#b149e4 11.18%,#ba41dd 11.84%,#c439d4 12.5%,#c439d4 13.16%,#c439d4 13.82%,#c439d4 14.47%,#c439d4 15.13%,#c837d0 15.79%,#cb35cd 16.45%,#be3eda 17.11%,#b149e4 17.76%,#a651eb 18.42%,#9c5aee 19.08%,#9660ee 19.74%,#8f67ee 20.39%,#9c5aee 21.05%,#aa4fe9 21.71%,#aa4fe9 22.37%,#aa4fe9 23.03%,#a354ec 23.68%,#9c5aee 24.34%,#9f57ed 25%,#a354ec 25.66%,#9165ee 26.32%,#7379e8 26.97%,#ae4be6 27.63%,#d62bbb 28.29%,#d62bbb 28.95%,#d72bbb 29.61%,#d42cc0 30.26%,#d12fc5 30.92%,#bc3fdb 31.58%,#a552eb 32.24%,#a156ec 32.89%,#9c5aee 33.55%,#9264ee 34.21%,#826feb 34.87%,#5c85e0 35.53%,#3a8ec7 36.18%,#3091b9 36.84%,#2793ad 37.5%,#2593aa 38.16%,#2393a7 38.82%,#2194a5 39.47%,#1f94a2 40.13%,#2c92b3 40.79%,#3a8ec7 41.45%,#6e7de7 42.11%,#9c5aee 42.76%,#995dee 43.42%,#9660ee 44.08%,#816feb 44.74%,#6c7fe6 45.39%,#468bd3 46.05%,#2e91b6 46.71%,#3091ba 47.37%,#3290bd 48.03%,#408dcd 48.68%,#5189da 49.34%,#5189da 50%,#5189da 50.66%,#5787dd 51.32%,#5d85e0 51.97%,#8070eb 52.63%,#9c5aee 53.29%,#995dee 53.95%,#9660ee 54.61%,#816feb 55.26%,#6c7fe6 55.92%,#9264ee 56.58%,#aa4ee9 57.24%,#ad4ce6 57.89%,#b149e4 58.55%,#a354ec 59.21%,#9660ee 59.87%,#6f7ce7 60.53%,#468bd3 61.18%,#388fc5 61.84%,#2e91b6 62.5%,#2693ac 63.16%,#1f94a2 63.82%,#1f94a2 64.47%,#1f94a2 65.13%,#2d91b5 65.79%,#3f8dcc 66.45%,#5388db 67.11%,#6c7fe6 67.76%,#816feb 68.42%,#9660ee 69.08%,#ad4ce7 69.74%,#c439d4 70.39%,#b743df 71.05%,#aa4ee9 71.71%,#a057ed 72.37%,#9660ee 73.03%,#995dee 73.68%,#9c5aee 74.34%,#9c5aee 75%,#9c5aee 75.66%,#995dee 76.32%,#9660ee 76.97%,#9264ee 77.63%,#8d68ed 78.29%,#886bec 78.95%,#836fec 79.61%,#7e71eb 80.26%,#7a74ea 80.92%,#846eec 81.58%,#8d68ed 82.24%,#8a6aed 82.89%,#886bed 83.55%,#9462ee 84.21%,#9c5aee 84.87%,#9c5aee 85.53%,#9c5aee 86.18%,#9c5aee 86.84%,#9c5aee 87.5%,#9c5aee 88.16%,#9c5aee 88.82%,#a651eb 89.47%,#b149e4 90.13%,#995dee 90.79%,#7776e9 91.45%,#5f84e1 92.11%,#468bd3 92.76%,#3b8ec8 93.42%,#3290bd 94.08%,#2a92b1 94.74%,#2393a7 95.39%,#2892ae 96.05%,#2e91b6 96.71%,#2892ae 97.37%,#2393a7 98.03%,#2194a5 98.68%,#1f94a2 99.34%,#2194a5 100%)"></i><i style="top:393.31px;background:linear-gradient(90deg,#2194a5 0%,#1b9699 0.66%,#199693 1.32%,#16968c 1.97%,#1b9697 2.63%,#1f94a2 3.29%,#1f94a2 3.95%,#1f94a2 4.61%,#1f94a2 5.26%,#1f94a2 5.92%,#2493a9 6.58%,#2a92b0 7.24%,#408dcd 7.89%,#6283e2 8.55%,#7974ea 9.21%,#9264ee 9.87%,#a553eb 10.53%,#b743df 11.18%,#c439d4 11.84%,#d030c6 12.5%,#d030c6 13.16%,#d030c6 13.82%,#d030c6 14.47%,#d030c6 15.13%,#d030c6 15.79%,#d030c6 16.45%,#be3eda 17.11%,#aa4ee9 17.76%,#995dee 18.42%,#836fec 19.08%,#7677e9 19.74%,#6c7fe6 20.39%,#876bec 21.05%,#9c5aee 21.71%,#9c5aee 22.37%,#9c5aee 23.03%,#9c5aee 23.68%,#9c5aee 24.34%,#995dee 25%,#9561ee 25.66%,#6f7ce7 26.32%,#468bd3 26.97%,#9462ee 27.63%,#c439d4 28.29%,#cb35cd 28.95%,#d030c6 29.61%,#d030c6 30.26%,#d030c6 30.92%,#b743df 31.58%,#9c5aee 32.24%,#9c5aee 32.89%,#9c5aee 33.55%,#8e67ee 34.21%,#7776e9 34.87%,#4c8ad7 35.53%,#2e91b6 36.18%,#2693ac 36.84%,#1f94a2 37.5%,#2194a5 38.16%,#2393a8 38.82%,#2593aa 39.47%,#2793ad 40.13%,#2c92b3 40.79%,#3091ba 41.45%,#6582e4 42.11%,#9c5aee 42.76%,#9c5aee 43.42%,#9c5aee 44.08%,#8e67ee 44.74%,#7776e9 45.39%,#4c8ad7 46.05%,#2e91b6 46.71%,#2e91b6 47.37%,#2e91b6 48.03%,#388fc5 48.68%,#468bd3 49.34%,#468bd3 50%,#468bd3 50.66%,#5189da 51.32%,#5d85e0 51.97%,#8070eb 52.63%,#9c5aee 53.29%,#9c5aee 53.95%,#9c5aee 54.61%,#9264ee 55.26%,#826feb 55.92%,#9e58ed 56.58%,#b446e2 57.24%,#b645e1 57.89%,#b743df 58.55%,#a850ea 59.21%,#995dee 59.87%,#7776e9 60.53%,#5189da 61.18%,#3e8dcc 61.84%,#3091ba 62.5%,#2892ad 63.16%,#1f94a2 63.82%,#2194a5 64.47%,#2393a7 65.13%,#3590c1 65.79%,#5189da 66.45%,#6b7fe6 67.11%,#826feb 67.76%,#995dee 68.42%,#aa4fe9 69.08%,#be3eda 69.74%,#d030c6 70.39%,#c439d4 71.05%,#b743df 71.71%,#ab4de8 72.37%,#9f57ed 73.03%,#9e59ed 73.68%,#9c5aee 74.34%,#9c5aee 75%,#9c5aee 75.66%,#9c5aee 76.32%,#9c5aee 76.97%,#9c5aee 77.63%,#9c5aee 78.29%,#9c5aee 78.95%,#9c5aee 79.61%,#9c5aee 80.26%,#9c5aee 80.92%,#9c5aee 81.58%,#9c5aee 82.24%,#9660ee 82.89%,#9165ee 83.55%,#9660ee 84.21%,#9c5aee 84.87%,#9c5aee 85.53%,#9c5aee 86.18%,#9b5bee 86.84%,#9a5cee 87.5%,#9a5cee 88.16%,#995dee 88.82%,#a156ec 89.47%,#aa4ee9 90.13%,#9660ee 90.79%,#7776e9 91.45%,#5f84e1 92.11%,#468bd3 92.76%,#3690c2 93.42%,#2a92b0 94.08%,#2194a5 94.74%,#1b9699 95.39%,#199693 96.05%,#16968c 96.71%,#1b9697 97.37%,#1f94a2 98.03%,#1f94a2 98.68%,#1f94a2 99.34%,#1f94a2 100%)"></i><i style="top:399.56px;background:linear-gradient(90deg,#1b9697 0%,#149687 0.66%,#119471 1.32%,#1f975b 1.97%,#129580 2.63%,#1f94a2 3.29%,#1f94a2 3.95%,#1f94a2 4.61%,#1f94a2 5.26%,#1f94a2 5.92%,#2194a5 6.58%,#2393a7 7.24%,#2e91b6 7.89%,#3a8ec7 8.55%,#5488dc 9.21%,#727ae8 9.87%,#9b5bee 10.53%,#b743df 11.18%,#c439d4 11.84%,#d030c6 12.5%,#d030c6 13.16%,#d030c6 13.82%,#d030c6 14.47%,#d030c6 15.13%,#d030c6 15.79%,#d030c6 16.45%,#b149e4 17.11%,#9066ee 17.76%,#6980e6 18.42%,#428cd0 19.08%,#4a8ad5 19.74%,#5189da 20.39%,#7a74ea 21.05%,#9c5aee 21.71%,#9c5aee 22.37%,#9c5aee 23.03%,#9c5aee 23.68%,#9c5aee 24.34%,#9264ee 25%,#8070eb 25.66%,#6382e3 26.32%,#468bd3 26.97%,#7e71eb 27.63%,#a950ea 28.29%,#bd3eda 28.95%,#d030c6 29.61%,#d030c6 30.26%,#d030c6 30.92%,#b743df 31.58%,#9c5aee 32.24%,#9c5aee 32.89%,#9c5aee 33.55%,#8e67ee 34.21%,#7776e9 34.87%,#4c8ad7 35.53%,#2e91b6 36.18%,#2693ac 36.84%,#1f94a2 37.5%,#2593aa 38.16%,#2b92b2 38.82%,#3290bc 39.47%,#398ec6 40.13%,#378fc4 40.79%,#3590c1 41.45%,#6a80e6 42.11%,#9c5aee 42.76%,#9c5aee 43.42%,#9c5aee 44.08%,#8e67ee 44.74%,#7776e9 45.39%,#4c8ad7 46.05%,#2e91b6 46.71%,#2e91b6 47.37%,#2e91b6 48.03%,#388fc5 48.68%,#468bd3 49.34%,#468bd3 50%,#468bd3 50.66%,#6a80e6 51.32%,#8d68ed 51.97%,#9561ee 52.63%,#9c5aee 53.29%,#9c5aee 53.95%,#9c5aee 54.61%,#995dee 55.26%,#9660ee 55.92%,#a156ec 56.58%,#ad4ce7 57.24%,#b247e3 57.89%,#b743df 58.55%,#a553eb 59.21%,#9264ee 59.87%,#7e71eb 60.53%,#6c7fe6 61.18%,#4d8ad7 61.84%,#3590c1 62.5%,#2a92b0 63.16%,#1f94a2 63.82%,#2493a9 64.47%,#2a92b0 65.13%,#438cd1 65.79%,#6c7fe6 66.45%,#816feb 67.11%,#9660ee 67.76%,#ad4ce7 68.42%,#c439d4 69.08%,#cb35cd 69.74%,#d030c6 70.39%,#c439d4 71.05%,#b743df 71.71%,#af4ae5 72.37%,#a651eb 73.03%,#a156ec 73.68%,#9c5aee 74.34%,#9c5aee 75%,#9c5aee 75.66%,#9c5aee 76.32%,#9c5aee 76.97%,#9c5aee 77.63%,#9c5aee 78.29%,#9c5aee 78.95%,#9c5aee 79.61%,#9c5aee 80.26%,#9c5aee 80.92%,#9c5aee 81.58%,#9c5aee 82.24%,#985eee 82.89%,#9462ee 83.55%,#985eee 84.21%,#9c5aee 84.87%,#9c5aee 85.53%,#9c5aee 86.18%,#9a5cee 86.84%,#975fee 87.5%,#9561ee 88.16%,#9264ee 88.82%,#9165ee 89.47%,#8f67ee 90.13%,#826fec 90.79%,#7776e9 91.45%,#5f84e1 92.11%,#468bd3 92.76%,#3191bc 93.42%,#2393a7 94.08%,#1b9697 94.74%,#149687 95.39%,#119471 96.05%,#1f975b 96.71%,#129580 97.37%,#1f94a2 98.03%,#1f94a2 98.68%,#1f94a2 99.34%,#1f94a2 100%)"></i><i style="top:405.8px;background:linear-gradient(90deg,#189690 0%,#11957d 0.66%,#1a9660 1.32%,#40973b 1.97%,#109474 2.63%,#1f94a2 3.29%,#1f94a2 3.95%,#1f94a2 4.61%,#1f94a2 5.26%,#1f94a2 5.92%,#1f94a2 6.58%,#1f94a2 7.24%,#2693ac 7.89%,#2e91b6 8.55%,#3f8dcd 9.21%,#5a86df 9.87%,#9462ee 10.53%,#b743df 11.18%,#c439d4 11.84%,#d030c6 12.5%,#d030c6 13.16%,#d030c6 13.82%,#d030c6 14.47%,#d030c6 15.13%,#d030c6 15.79%,#d030c6 16.45%,#a751ea 17.11%,#6e7de7 17.76%,#488bd4 18.42%,#2e91b6 19.08%,#388fc5 19.74%,#468bd3 20.39%,#7478e9 21.05%,#9c5aee 21.71%,#9c5aee 22.37%,#9c5aee 23.03%,#9c5aee 23.68%,#9c5aee 24.34%,#896aed 25%,#6f7ce7 25.66%,#5a86df 26.32%,#468bd3 26.97%,#6e7de7 27.63%,#9462ee 28.29%,#b347e3 28.95%,#d030c6 29.61%,#d030c6 30.26%,#d030c6 30.92%,#b743df 31.58%,#9c5aee 32.24%,#9c5aee 32.89%,#9c5aee 33.55%,#8e67ee 34.21%,#7776e9 34.87%,#4c8ad7 35.53%,#2e91b6 36.18%,#2693ac 36.84%,#1f94a2 37.5%,#2892ae 38.16%,#3290bc 38.82%,#3b8ec8 39.47%,#468bd3 40.13%,#3f8dcd 40.79%,#3a8ec7 41.45%,#6d7ee7 42.11%,#9c5aee 42.76%,#9c5aee 43.42%,#9c5aee 44.08%,#9462ee 44.74%,#886bed 45.39%,#707be8 46.05%,#5787dd 46.71%,#5787dd 47.37%,#5787dd 48.03%,#6781e4 48.68%,#7379e8 49.34%,#7379e8 50%,#7379e8 50.66%,#9165ee 51.32%,#a354ec 51.97%,#9f57ed 52.63%,#9c5aee 53.29%,#9c5aee 53.95%,#9c5aee 54.61%,#9c5aee 55.26%,#9c5aee 55.92%,#a255ec 56.58%,#a850ea 57.24%,#b049e5 57.89%,#b743df 58.55%,#a255ec 59.21%,#8b69ed 59.87%,#8170eb 60.53%,#7776e9 61.18%,#5687dd 61.84%,#3a8ec7 62.5%,#2c92b2 63.16%,#1f94a2 63.82%,#2693ac 64.47%,#2e91b6 65.13%,#4c8ad7 65.79%,#7776e9 66.45%,#8e67ee 67.11%,#9c5aee 67.76%,#b744e0 68.42%,#d030c6 69.08%,#d030c6 69.74%,#d030c6 70.39%,#c439d4 71.05%,#b743df 71.71%,#b248e4 72.37%,#ab4de8 73.03%,#a454eb 73.68%,#9c5aee 74.34%,#9c5aee 75%,#9c5aee 75.66%,#9c5aee 76.32%,#9c5aee 76.97%,#9c5aee 77.63%,#9c5aee 78.29%,#9c5aee 78.95%,#9c5aee 79.61%,#9c5aee 80.26%,#9c5aee 80.92%,#9c5aee 81.58%,#9c5aee 82.24%,#995dee 82.89%,#9660ee 83.55%,#995dee 84.21%,#9c5aee 84.87%,#9c5aee 85.53%,#9c5aee 86.18%,#985eee 86.84%,#9462ee 87.5%,#9165ee 88.16%,#8b69ed 88.82%,#8170eb 89.47%,#7776e9 90.13%,#7776e9 90.79%,#7776e9 91.45%,#5f84e1 92.11%,#468bd3 92.76%,#3091b9 93.42%,#1f94a2 94.08%,#189690 94.74%,#11957d 95.39%,#1a9660 96.05%,#40973b 96.71%,#109474 97.37%,#1f94a2 98.03%,#1f94a2 98.68%,#1f94a2 99.34%,#1f94a2 100%)"></i><i style="top:412.04px;background:linear-gradient(90deg,#189690 0%,#11957d 0.66%,#1a9660 1.32%,#40973b 1.97%,#109474 2.63%,#1f94a2 3.29%,#1f94a2 3.95%,#1f94a2 4.61%,#1f94a2 5.26%,#1f94a2 5.92%,#1f94a2 6.58%,#1f94a2 7.24%,#2693ac 7.89%,#2e91b6 8.55%,#3a8ec6 9.21%,#4a8ad5 9.87%,#8e67ee 10.53%,#b743df 11.18%,#c439d4 11.84%,#d030c6 12.5%,#d030c6 13.16%,#d030c6 13.82%,#d030c6 14.47%,#d030c6 15.13%,#d030c6 15.79%,#d030c6 16.45%,#a056ed 17.11%,#5787dd 17.76%,#3f8dcc 18.42%,#2e91b6 19.08%,#388fc5 19.74%,#468bd3 20.39%,#7478e9 21.05%,#9c5aee 21.71%,#9c5aee 22.37%,#9c5aee 23.03%,#9c5aee 23.68%,#9c5aee 24.34%,#836eec 25%,#6382e3 25.66%,#5388dc 26.32%,#468bd3 26.97%,#6383e3 27.63%,#7e71eb 28.29%,#ac4de7 28.95%,#d030c6 29.61%,#d030c6 30.26%,#d030c6 30.92%,#b743df 31.58%,#9c5aee 32.24%,#9c5aee 32.89%,#9c5aee 33.55%,#8e67ee 34.21%,#7776e9 34.87%,#4c8ad7 35.53%,#2e91b6 36.18%,#2693ac 36.84%,#1f94a2 37.5%,#2a92b1 38.16%,#378fc3 38.82%,#3e8dcb 39.47%,#468bd3 40.13%,#418ccf 40.79%,#3d8dca 41.45%,#6f7ce7 42.11%,#9c5aee 42.76%,#9c5aee 43.42%,#9c5aee 44.08%,#9e58ed 44.74%,#a057ed 45.39%,#a850ea 46.05%,#b149e4 46.71%,#b149e4 47.37%,#b149e4 48.03%,#b446e2 48.68%,#b644e0 49.34%,#b644e0 50%,#b644e0 50.66%,#b347e2 51.32%,#b049e4 51.97%,#a652eb 52.63%,#9c5aee 53.29%,#9c5aee 53.95%,#9c5aee 54.61%,#9c5aee 55.26%,#9c5aee 55.92%,#a056ed 56.58%,#a553eb 57.24%,#ae4be6 57.89%,#b743df 58.55%,#a156ec 59.21%,#856dec 59.87%,#7e72eb 60.53%,#7776e9 61.18%,#5787de 61.84%,#3c8ec9 62.5%,#2c92b4 63.16%,#1f94a2 63.82%,#2693ac 64.47%,#2e91b6 65.13%,#4c8ad7 65.79%,#7776e9 66.45%,#8e67ee 67.11%,#9c5aee 67.76%,#b744e0 68.42%,#d030c6 69.08%,#d030c6 69.74%,#d030c6 70.39%,#c439d4 71.05%,#b743df 71.71%,#b347e3 72.37%,#af4ae5 73.03%,#a552eb 73.68%,#9c5aee 74.34%,#9c5aee 75%,#9c5aee 75.66%,#9c5aee 76.32%,#9c5aee 76.97%,#9c5aee 77.63%,#9c5aee 78.29%,#9c5aee 78.95%,#9c5aee 79.61%,#9c5aee 80.26%,#9c5aee 80.92%,#9c5aee 81.58%,#9c5aee 82.24%,#9a5cee 82.89%,#985eee 83.55%,#9a5cee 84.21%,#9c5aee 84.87%,#9c5aee 85.53%,#9c5aee 86.18%,#9660ee 86.84%,#9165ee 87.5%,#8b69ed 88.16%,#856dec 88.82%,#7e72eb 89.47%,#7776e9 90.13%,#7776e9 90.79%,#7776e9 91.45%,#5f84e1 92.11%,#468bd3 92.76%,#3091b9 93.42%,#1f94a2 94.08%,#189690 94.74%,#11957d 95.39%,#1a9660 96.05%,#40973b 96.71%,#109474 97.37%,#1f94a2 98.03%,#1f94a2 98.68%,#1f94a2 99.34%,#1f94a2 100%)"></i><i style="top:418.28px;background:linear-gradient(90deg,#189690 0%,#11957d 0.66%,#1a9660 1.32%,#40973b 1.97%,#109474 2.63%,#1f94a2 3.29%,#1f94a2 3.95%,#1f94a2 4.61%,#1f94a2 5.26%,#1f94a2 5.92%,#1f94a2 6.58%,#1f94a2 7.24%,#2693ac 7.89%,#2e91b6 8.55%,#3590c1 9.21%,#3f8dcd 9.87%,#876bec 10.53%,#b743df 11.18%,#c439d4 11.84%,#d030c6 12.5%,#d030c6 13.16%,#d030c6 13.82%,#d030c6 14.47%,#d030c6 15.13%,#d030c6 15.79%,#d030c6 16.45%,#9b5bee 17.11%,#488bd4 17.76%,#398fc5 18.42%,#2e91b6 19.08%,#388fc5 19.74%,#468bd3 20.39%,#7478e9 21.05%,#9c5aee 21.71%,#9c5aee 22.37%,#9c5aee 23.03%,#9c5aee 23.68%,#9c5aee 24.34%,#7e71eb 25%,#5a86df 25.66%,#4f89d9 26.32%,#468bd3 26.97%,#5986de 27.63%,#6e7de7 28.29%,#a751ea 28.95%,#d030c6 29.61%,#d030c6 30.26%,#d030c6 30.92%,#b743df 31.58%,#9c5aee 32.24%,#9c5aee 32.89%,#9c5aee 33.55%,#8e67ee 34.21%,#7776e9 34.87%,#4c8ad7 35.53%,#2e91b6 36.18%,#2693ac 36.84%,#1f94a2 37.5%,#2c92b3 38.16%,#3b8ec8 38.82%,#408dce 39.47%,#468bd3 40.13%,#428cd0 40.79%,#3f8dcd 41.45%,#717be8 42.11%,#9c5aee 42.76%,#9c5aee 43.42%,#9c5aee 44.08%,#a552eb 44.74%,#af4ae5 45.39%,#c03cd8 46.05%,#d030c6 46.71%,#d030c6 47.37%,#d030c6 48.03%,#d030c6 48.68%,#d030c6 49.34%,#d030c6 50%,#d030c6 50.66%,#c638d2 51.32%,#ba41dd 51.97%,#ab4de8 52.63%,#9c5aee 53.29%,#9c5aee 53.95%,#9c5aee 54.61%,#9c5aee 55.26%,#9c5aee 55.92%,#9f57ed 56.58%,#a255ec 57.24%,#ad4ce7 57.89%,#b743df 58.55%,#9f57ed 59.21%,#8170eb 59.87%,#7b73ea 60.53%,#7776e9 61.18%,#5986de 61.84%,#3e8dcb 62.5%,#2d91b5 63.16%,#1f94a2 63.82%,#2693ac 64.47%,#2e91b6 65.13%,#4c8ad7 65.79%,#7776e9 66.45%,#8e67ee 67.11%,#9c5aee 67.76%,#b744e0 68.42%,#d030c6 69.08%,#d030c6 69.74%,#d030c6 70.39%,#c439d4 71.05%,#b743df 71.71%,#b546e2 72.37%,#b248e4 73.03%,#a751ea 73.68%,#9c5aee 74.34%,#9c5aee 75%,#9c5aee 75.66%,#9c5aee 76.32%,#9c5aee 76.97%,#9c5aee 77.63%,#9c5aee 78.29%,#9c5aee 78.95%,#9c5aee 79.61%,#9c5aee 80.26%,#9c5aee 80.92%,#9c5aee 81.58%,#9c5aee 82.24%,#9b5bee 82.89%,#995dee 83.55%,#9b5bee 84.21%,#9c5aee 84.87%,#9c5aee 85.53%,#9c5aee 86.18%,#9561ee 86.84%,#8c68ed 87.5%,#866cec 88.16%,#8170eb 88.82%,#7b73ea 89.47%,#7776e9 90.13%,#7776e9 90.79%,#7776e9 91.45%,#5f84e1 92.11%,#468bd3 92.76%,#3091b9 93.42%,#1f94a2 94.08%,#189690 94.74%,#11957d 95.39%,#1a9660 96.05%,#40973b 96.71%,#109474 97.37%,#1f94a2 98.03%,#1f94a2 98.68%,#1f94a2 99.34%,#1f94a2 100%)"></i><i style="top:424.53px;background:linear-gradient(90deg,#189690 0%,#11957d 0.66%,#1a9660 1.32%,#40973b 1.97%,#109474 2.63%,#1f94a2 3.29%,#1f94a2 3.95%,#1f94a2 4.61%,#1f94a2 5.26%,#1f94a2 5.92%,#1f94a2 6.58%,#1f94a2 7.24%,#2693ac 7.89%,#2e91b6 8.55%,#3390be 9.21%,#3a8ec6 9.87%,#836eec 10.53%,#b743df 11.18%,#c439d4 11.84%,#d030c6 12.5%,#d030c6 13.16%,#d030c6 13.82%,#d030c6 14.47%,#d030c6 15.13%,#d030c6 15.79%,#d030c6 16.45%,#985eee 17.11%,#3f8dcc 17.76%,#3590c1 18.42%,#2e91b6 19.08%,#388fc5 19.74%,#468bd3 20.39%,#7478e9 21.05%,#9c5aee 21.71%,#9c5aee 22.37%,#9c5aee 23.03%,#9c5aee 23.68%,#9c5aee 24.34%,#7b73ea 25%,#5388dc 25.66%,#4d8ad7 26.32%,#468bd3 26.97%,#5388db 27.63%,#6383e3 28.29%,#a354ec 28.95%,#d030c6 29.61%,#d030c6 30.26%,#d030c6 30.92%,#b743df 31.58%,#9c5aee 32.24%,#9c5aee 32.89%,#9c5aee 33.55%,#8e67ee 34.21%,#7776e9 34.87%,#4c8ad7 35.53%,#2e91b6 36.18%,#2693ac 36.84%,#1f94a2 37.5%,#2d91b5 38.16%,#3e8dcb 38.82%,#418ccf 39.47%,#468bd3 40.13%,#438cd1 40.79%,#418ccf 41.45%,#727ae8 42.11%,#9c5aee 42.76%,#9c5aee 43.42%,#9c5aee 44.08%,#aa4ee8 44.74%,#b942de 45.39%,#c539d3 46.05%,#d030c6 46.71%,#d030c6 47.37%,#d030c6 48.03%,#d030c6 48.68%,#d030c6 49.34%,#d030c6 50%,#d030c6 50.66%,#c936cf 51.32%,#c13bd7 51.97%,#af4ae6 52.63%,#9c5aee 53.29%,#9c5aee 53.95%,#9c5aee 54.61%,#9c5aee 55.26%,#9c5aee 55.92%,#9e58ed 56.58%,#a056ed 57.24%,#ac4de7 57.89%,#b743df 58.55%,#9f58ed 59.21%,#7e72eb 59.87%,#7a74ea 60.53%,#7776e9 61.18%,#5986de 61.84%,#3e8dcc 62.5%,#2d91b5 63.16%,#1f94a2 63.82%,#2693ac 64.47%,#2e91b6 65.13%,#4c8ad7 65.79%,#7776e9 66.45%,#8e67ee 67.11%,#9c5aee 67.76%,#b744e0 68.42%,#d030c6 69.08%,#d030c6 69.74%,#d030c6 70.39%,#c439d4 71.05%,#b743df 71.71%,#b545e1 72.37%,#b347e3 73.03%,#a850ea 73.68%,#9c5aee 74.34%,#9c5aee 75%,#9c5aee 75.66%,#9c5aee 76.32%,#9c5aee 76.97%,#9c5aee 77.63%,#9c5aee 78.29%,#9c5aee 78.95%,#9c5aee 79.61%,#9c5aee 80.26%,#9c5aee 80.92%,#9c5aee 81.58%,#9c5aee 82.24%,#9b5bee 82.89%,#9a5cee 83.55%,#9b5bee 84.21%,#9c5aee 84.87%,#9c5aee 85.53%,#9c5aee 86.18%,#9462ee 86.84%,#876bec 87.5%,#836fec 88.16%,#7e72eb 88.82%,#7a74ea 89.47%,#7776e9 90.13%,#7776e9 90.79%,#7776e9 91.45%,#5f84e1 92.11%,#468bd3 92.76%,#3091b9 93.42%,#1f94a2 94.08%,#189690 94.74%,#11957d 95.39%,#1a9660 96.05%,#40973b 96.71%,#109474 97.37%,#1f94a2 98.03%,#1f94a2 98.68%,#1f94a2 99.34%,#1f94a2 100%)"></i><i style="top:430.77px;background:linear-gradient(90deg,#189690 0%,#11957d 0.66%,#1a9660 1.32%,#40973b 1.97%,#109474 2.63%,#1f94a2 3.29%,#1f94a2 3.95%,#1f94a2 4.61%,#1f94a2 5.26%,#1f94a2 5.92%,#1f94a2 6.58%,#1f94a2 7.24%,#2693ac 7.89%,#2e91b6 8.55%,#3191bc 9.21%,#3590c1 9.87%,#7f71eb 10.53%,#b743df 11.18%,#c439d4 11.84%,#d030c6 12.5%,#d030c6 13.16%,#d030c6 13.82%,#d030c6 14.47%,#d030c6 15.13%,#d030c6 15.79%,#d030c6 16.45%,#9660ee 17.11%,#398fc5 17.76%,#3390be 18.42%,#2e91b6 19.08%,#388fc5 19.74%,#468bd3 20.39%,#7478e9 21.05%,#9c5aee 21.71%,#9c5aee 22.37%,#9c5aee 23.03%,#9c5aee 23.68%,#9c5aee 24.34%,#7975ea 25%,#4f89d9 25.66%,#4b8ad6 26.32%,#468bd3 26.97%,#4f89d9 27.63%,#5986de 28.29%,#a156ec 28.95%,#d030c6 29.61%,#d030c6 30.26%,#d030c6 30.92%,#b744e0 31.58%,#9c5aee 32.24%,#9c5aee 32.89%,#9c5aee 33.55%,#8e67ee 34.21%,#7776e9 34.87%,#4c8ad7 35.53%,#2e91b6 36.18%,#2693ac 36.84%,#1f94a2 37.5%,#2e91b6 38.16%,#408dce 38.82%,#438cd0 39.47%,#468bd3 40.13%,#448cd1 40.79%,#428cd0 41.45%,#727ae8 42.11%,#9c5aee 42.76%,#9c5aee 43.42%,#9c5aee 44.08%,#ae4be6 44.74%,#c03cd8 45.39%,#c936cf 46.05%,#d030c6 46.71%,#d030c6 47.37%,#d030c6 48.03%,#d030c6 48.68%,#d030c6 49.34%,#d030c6 50%,#d030c6 50.66%,#cc34cc 51.32%,#c638d2 51.97%,#b148e4 52.63%,#9c5aee 53.29%,#9c5aee 53.95%,#9c5aee 54.61%,#9c5aee 55.26%,#9c5aee 55.92%,#9e59ed 56.58%,#9f57ed 57.24%,#ab4de8 57.89%,#b743df 58.55%,#9e58ed 59.21%,#7b73ea 59.87%,#7975ea 60.53%,#7776e9 61.18%,#5a86df 61.84%,#3f8dcc 62.5%,#2d91b5 63.16%,#1f94a2 63.82%,#2693ac 64.47%,#2e91b6 65.13%,#4c8ad7 65.79%,#7776e9 66.45%,#8e67ee 67.11%,#9c5aee 67.76%,#b744e0 68.42%,#d030c6 69.08%,#d030c6 69.74%,#d030c6 70.39%,#c439d4 71.05%,#b743df 71.71%,#b644e0 72.37%,#b546e2 73.03%,#a850ea 73.68%,#9c5aee 74.34%,#9c5aee 75%,#9c5aee 75.66%,#9c5aee 76.32%,#9c5aee 76.97%,#9c5aee 77.63%,#9c5aee 78.29%,#9c5aee 78.95%,#9c5aee 79.61%,#9c5aee 80.26%,#9c5aee 80.92%,#9c5aee 81.58%,#9c5aee 82.24%,#9b5bee 82.89%,#9b5bee 83.55%,#9b5bee 84.21%,#9c5aee 84.87%,#9c5aee 85.53%,#9c5aee 86.18%,#9363ee 86.84%,#846eec 87.5%,#7f71eb 88.16%,#7b73ea 88.82%,#7975ea 89.47%,#7776e9 90.13%,#7776e9 90.79%,#7776e9 91.45%,#5f84e1 92.11%,#468bd3 92.76%,#3091b9 93.42%,#1f94a2 94.08%,#189690 94.74%,#11957d 95.39%,#1a9660 96.05%,#40973b 96.71%,#109474 97.37%,#1f94a2 98.03%,#1f94a2 98.68%,#1f94a2 99.34%,#1f94a2 100%)"></i><i style="top:437.01px;background:linear-gradient(90deg,#189690 0%,#11957d 0.66%,#1a9660 1.32%,#40973b 1.97%,#109474 2.63%,#1f94a2 3.29%,#1f94a2 3.95%,#1f94a2 4.61%,#1f94a2 5.26%,#1f94a2 5.92%,#1f94a2 6.58%,#1f94a2 7.24%,#2693ac 7.89%,#2e91b6 8.55%,#3091ba 9.21%,#3390be 9.87%,#7d72eb 10.53%,#b743df 11.18%,#c439d4 11.84%,#d030c6 12.5%,#d030c6 13.16%,#d030c6 13.82%,#d030c6 14.47%,#d030c6 15.13%,#d030c6 15.79%,#d030c6 16.45%,#9462ee 17.11%,#3590c1 17.76%,#3191bb 18.42%,#2e91b6 19.08%,#388fc5 19.74%,#468bd3 20.39%,#7478e9 21.05%,#9c5aee 21.71%,#9c5aee 22.37%,#9c5aee 23.03%,#9c5aee 23.68%,#9c5aee 24.34%,#7776e9 25%,#4d8ad7 25.66%,#498ad5 26.32%,#468bd3 26.97%,#4d8ad7 27.63%,#5388db 28.29%,#9f57ed 28.95%,#d030c6 29.61%,#d030c6 30.26%,#d030c6 30.92%,#b744e0 31.58%,#9c5aee 32.24%,#9c5aee 32.89%,#9c5aee 33.55%,#8e67ee 34.21%,#7776e9 34.87%,#4c8ad7 35.53%,#2e91b6 36.18%,#2693ac 36.84%,#1f94a2 37.5%,#2e91b7 38.16%,#418ccf 38.82%,#448cd1 39.47%,#468bd3 40.13%,#458bd2 40.79%,#438cd1 41.45%,#7379e8 42.11%,#9c5aee 42.76%,#9c5aee 43.42%,#9c5aee 44.08%,#b149e4 44.74%,#c539d3 45.39%,#cb34cd 46.05%,#d030c6 46.71%,#d030c6 47.37%,#d030c6 48.03%,#d030c6 48.68%,#d030c6 49.34%,#d030c6 50%,#d030c6 50.66%,#cd33ca 51.32%,#c936cf 51.97%,#b347e3 52.63%,#9c5aee 53.29%,#9c5aee 53.95%,#9c5aee 54.61%,#9c5aee 55.26%,#9c5aee 55.92%,#9d59ee 56.58%,#9e58ed 57.24%,#ab4ee8 57.89%,#b743df 58.55%,#9d59ee 59.21%,#7a74ea 59.87%,#7875ea 60.53%,#7776e9 61.18%,#5a86df 61.84%,#3f8dcd 62.5%,#2d91b5 63.16%,#1f94a2 63.82%,#2693ac 64.47%,#2e91b6 65.13%,#4c8ad7 65.79%,#7776e9 66.45%,#8e67ee 67.11%,#9c5aee 67.76%,#b744e0 68.42%,#d030c6 69.08%,#d030c6 69.74%,#d030c6 70.39%,#c439d4 71.05%,#b743df 71.71%,#b644e0 72.37%,#b545e1 73.03%,#a94fea 73.68%,#9c5aee 74.34%,#9c5aee 75%,#9c5aee 75.66%,#9c5aee 76.32%,#9c5aee 76.97%,#9c5aee 77.63%,#9c5aee 78.29%,#9c5aee 78.95%,#9c5aee 79.61%,#9c5aee 80.26%,#9c5aee 80.92%,#9c5aee 81.58%,#9c5aee 82.24%,#9b5bee 82.89%,#9b5bee 83.55%,#9b5bee 84.21%,#9c5aee 84.87%,#9c5aee 85.53%,#9c5aee 86.18%,#9264ee 86.84%,#8170eb 87.5%,#7d72eb 88.16%,#7a74ea 88.82%,#7875ea 89.47%,#7776e9 90.13%,#7776e9 90.79%,#7776e9 91.45%,#5f84e1 92.11%,#468bd3 92.76%,#3091b9 93.42%,#1f94a2 94.08%,#189690 94.74%,#11957d 95.39%,#1a9660 96.05%,#40973b 96.71%,#109474 97.37%,#1f94a2 98.03%,#1f94a2 98.68%,#1f94a2 99.34%,#1f94a2 100%)"></i><i style="top:443.26px;background:linear-gradient(90deg,#189690 0%,#11957d 0.66%,#1a9660 1.32%,#40973b 1.97%,#109474 2.63%,#1f94a2 3.29%,#1f94a2 3.95%,#1f94a2 4.61%,#1f94a2 5.26%,#1f94a2 5.92%,#1f94a2 6.58%,#1f94a2 7.24%,#2693ac 7.89%,#2e91b6 8.55%,#3091b9 9.21%,#3191bc 9.87%,#7c73ea 10.53%,#b743df 11.18%,#c439d4 11.84%,#d030c6 12.5%,#d030c6 13.16%,#d030c6 13.82%,#d030c6 14.47%,#d030c6 15.13%,#d030c6 15.79%,#d030c6 16.45%,#9363ee 17.11%,#3390be 17.76%,#3091ba 18.42%,#2e91b6 19.08%,#388fc5 19.74%,#468bd3 20.39%,#7478e9 21.05%,#9c5aee 21.71%,#9c5aee 22.37%,#9c5aee 23.03%,#9c5aee 23.68%,#9c5aee 24.34%,#7677e9 25%,#4b8ad6 25.66%,#488bd4 26.32%,#468bd3 26.97%,#4b8ad6 27.63%,#4f89d9 28.29%,#9e59ed 28.95%,#d030c6 29.61%,#d030c6 30.26%,#d030c6 30.92%,#b744e0 31.58%,#9c5aee 32.24%,#9c5aee 32.89%,#9c5aee 33.55%,#8e67ee 34.21%,#7776e9 34.87%,#4c8ad7 35.53%,#2e91b6 36.18%,#2693ac 36.84%,#1f94a2 37.5%,#2f91b7 38.16%,#438cd0 38.82%,#448bd2 39.47%,#468bd3 40.13%,#458bd2 40.79%,#448cd1 41.45%,#7379e8 42.11%,#9c5aee 42.76%,#9c5aee 43.42%,#9c5aee 44.08%,#b347e3 44.74%,#c936cf 45.39%,#cd33cb 46.05%,#d030c6 46.71%,#d030c6 47.37%,#d030c6 48.03%,#d030c6 48.68%,#d030c6 49.34%,#d030c6 50%,#d030c6 50.66%,#ce32c9 51.32%,#cc34cc 51.97%,#b446e2 52.63%,#9c5aee 53.29%,#9c5aee 53.95%,#9c5aee 54.61%,#9c5aee 55.26%,#9c5aee 55.92%,#9d59ee 56.58%,#9e59ed 57.24%,#ab4ee8 57.89%,#b743df 58.55%,#9d59ee 59.21%,#7975ea 59.87%,#7876e9 60.53%,#7776e9 61.18%,#5a86df 61.84%,#3f8dcd 62.5%,#2d91b6 63.16%,#1f94a2 63.82%,#2693ac 64.47%,#2e91b6 65.13%,#4c8ad7 65.79%,#7776e9 66.45%,#8e67ee 67.11%,#9c5aee 67.76%,#b744e0 68.42%,#d030c6 69.08%,#d030c6 69.74%,#d030c6 70.39%,#c439d4 71.05%,#b743df 71.71%,#b744e0 72.37%,#b644e0 73.03%,#a94fe9 73.68%,#9c5aee 74.34%,#9c5aee 75%,#9c5aee 75.66%,#9c5aee 76.32%,#9c5aee 76.97%,#9c5aee 77.63%,#9c5aee 78.29%,#9c5aee 78.95%,#9c5aee 79.61%,#9c5aee 80.26%,#9c5aee 80.92%,#9c5aee 81.58%,#9c5aee 82.24%,#9c5aee 82.89%,#9b5bee 83.55%,#9c5aee 84.21%,#9c5aee 84.87%,#9c5aee 85.53%,#9c5aee 86.18%,#9165ee 86.84%,#7e71eb 87.5%,#7b73ea 88.16%,#7975ea 88.82%,#7876e9 89.47%,#7776e9 90.13%,#7776e9 90.79%,#7776e9 91.45%,#5f84e1 92.11%,#468bd3 92.76%,#3091b9 93.42%,#1f94a2 94.08%,#189690 94.74%,#11957d 95.39%,#1a9660 96.05%,#40973b 96.71%,#109474 97.37%,#1f94a2 98.03%,#1f94a2 98.68%,#1f94a2 99.34%,#1f94a2 100%)"></i><i style="top:449.5px;background:linear-gradient(90deg,#189690 0%,#11957d 0.66%,#1a9660 1.32%,#40973b 1.97%,#109474 2.63%,#1f94a2 3.29%,#1f94a2 3.95%,#1f94a2 4.61%,#1f94a2 5.26%,#1f94a2 5.92%,#1f94a2 6.58%,#1f94a2 7.24%,#2693ac 7.89%,#2e91b6 8.55%,#2f91b8 9.21%,#3091ba 9.87%,#7a74ea 10.53%,#b743df 11.18%,#c439d4 11.84%,#d030c6 12.5%,#d030c6 13.16%,#d030c6 13.82%,#d030c6 14.47%,#d030c6 15.13%,#d030c6 15.79%,#d030c6 16.45%,#9264ee 17.11%,#3191bb 17.76%,#2f91b9 18.42%,#2e91b6 19.08%,#388fc5 19.74%,#468bd3 20.39%,#7478e9 21.05%,#9c5aee 21.71%,#9c5aee 22.37%,#9c5aee 23.03%,#9c5aee 23.68%,#9c5aee 24.34%,#7677e9 25%,#498ad5 25.66%,#488bd4 26.32%,#468bd3 26.97%,#498ad5 27.63%,#4d8ad7 28.29%,#9d59ee 28.95%,#d030c6 29.61%,#d030c6 30.26%,#d030c6 30.92%,#b744e0 31.58%,#9c5aee 32.24%,#9c5aee 32.89%,#9c5aee 33.55%,#8e67ee 34.21%,#7776e9 34.87%,#4c8ad7 35.53%,#2e91b6 36.18%,#2693ac 36.84%,#1f94a2 37.5%,#2f91b8 38.16%,#448cd1 38.82%,#458bd2 39.47%,#468bd3 40.13%,#458bd2 40.79%,#458bd2 41.45%,#7479e8 42.11%,#9c5aee 42.76%,#9c5aee 43.42%,#9c5aee 44.08%,#b446e2 44.74%,#cb34cd 45.39%,#ce32c9 46.05%,#d030c6 46.71%,#d030c6 47.37%,#d030c6 48.03%,#d030c6 48.68%,#d030c6 49.34%,#d030c6 50%,#d030c6 50.66%,#ce32c8 51.32%,#cd33ca 51.97%,#b545e1 52.63%,#9c5aee 53.29%,#9c5aee 53.95%,#9c5aee 54.61%,#9c5aee 55.26%,#9c5aee 55.92%,#9d5aee 56.58%,#9d59ee 57.24%,#aa4ee8 57.89%,#b743df 58.55%,#9d59ee 59.21%,#7875ea 59.87%,#7876e9 60.53%,#7776e9 61.18%,#5a86df 61.84%,#3f8dcd 62.5%,#2d91b6 63.16%,#1f94a2 63.82%,#2693ac 64.47%,#2e91b6 65.13%,#4c8ad7 65.79%,#7776e9 66.45%,#8e67ee 67.11%,#9c5aee 67.76%,#b744e0 68.42%,#d030c6 69.08%,#d030c6 69.74%,#d030c6 70.39%,#c439d4 71.05%,#b743df 71.71%,#b744e0 72.37%,#b644e0 73.03%,#a94fe9 73.68%,#9c5aee 74.34%,#9c5aee 75%,#9c5aee 75.66%,#9c5aee 76.32%,#9c5aee 76.97%,#9c5aee 77.63%,#9c5aee 78.29%,#9c5aee 78.95%,#9c5aee 79.61%,#9c5aee 80.26%,#9c5aee 80.92%,#9c5aee 81.58%,#9c5aee 82.24%,#9c5aee 82.89%,#9b5bee 83.55%,#9c5aee 84.21%,#9c5aee 84.87%,#9c5aee 85.53%,#9c5aee 86.18%,#9165ee 86.84%,#7c73ea 87.5%,#7a74ea 88.16%,#7875ea 88.82%,#7876e9 89.47%,#7776e9 90.13%,#7776e9 90.79%,#7776e9 91.45%,#5f84e1 92.11%,#468bd3 92.76%,#3091b9 93.42%,#1f94a2 94.08%,#189690 94.74%,#11957d 95.39%,#1a9660 96.05%,#40973b 96.71%,#109474 97.37%,#1f94a2 98.03%,#1f94a2 98.68%,#1f94a2 99.34%,#1f94a2 100%)"></i><i style="top:455.74px;background:linear-gradient(90deg,#189690 0%,#11957d 0.66%,#1a9660 1.32%,#40973b 1.97%,#109474 2.63%,#1f94a2 3.29%,#1f94a2 3.95%,#1f94a2 4.61%,#1f94a2 5.26%,#1f94a2 5.92%,#1f94a2 6.58%,#1f94a2 7.24%,#2693ac 7.89%,#2e91b6 8.55%,#2f91b8 9.21%,#3091b9 9.87%,#7a74ea 10.53%,#b743df 11.18%,#c439d4 11.84%,#d030c6 12.5%,#d030c6 13.16%,#d030c6 13.82%,#d030c6 14.47%,#d030c6 15.13%,#d030c6 15.79%,#d030c6 16.45%,#9264ee 17.11%,#3091ba 17.76%,#2f91b8 18.42%,#2e91b6 19.08%,#388fc5 19.74%,#468bd3 20.39%,#7478e9 21.05%,#9c5aee 21.71%,#9c5aee 22.37%,#9c5aee 23.03%,#9c5aee 23.68%,#9c5aee 24.34%,#7677e9 25%,#498bd4 25.66%,#478bd4 26.32%,#468bd3 26.97%,#498bd4 27.63%,#4b8ad6 28.29%,#9c5aee 28.95%,#d030c6 29.61%,#d030c6 30.26%,#d030c6 30.92%,#b744e0 31.58%,#9c5aee 32.24%,#9c5aee 32.89%,#9c5aee 33.55%,#8e67ee 34.21%,#7776e9 34.87%,#4c8ad7 35.53%,#2e91b6 36.18%,#2693ac 36.84%,#1f94a2 37.5%,#2f91b8 38.16%,#448cd1 38.82%,#458bd2 39.47%,#468bd3 40.13%,#458bd2 40.79%,#458bd2 41.45%,#7479e8 42.11%,#9c5aee 42.76%,#9c5aee 43.42%,#9c5aee 44.08%,#b546e2 44.74%,#cc34cb 45.39%,#ce32c9 46.05%,#d030c6 46.71%,#d030c6 47.37%,#d030c6 48.03%,#d030c6 48.68%,#d030c6 49.34%,#d030c6 50%,#d030c6 50.66%,#cf31c8 51.32%,#ce32ca 51.97%,#b545e1 52.63%,#9c5aee 53.29%,#9c5aee 53.95%,#9c5aee 54.61%,#9c5aee 55.26%,#9c5aee 55.92%,#9c5aee 56.58%,#9d59ee 57.24%,#aa4ee9 57.89%,#b743df 58.55%,#9d59ee 59.21%,#7875ea 59.87%,#7776e9 60.53%,#7776e9 61.18%,#5a86df 61.84%,#3f8dcd 62.5%,#2d91b6 63.16%,#1f94a2 63.82%,#2693ac 64.47%,#2e91b6 65.13%,#4c8ad7 65.79%,#7776e9 66.45%,#8e67ee 67.11%,#9c5aee 67.76%,#b744e0 68.42%,#d030c6 69.08%,#d030c6 69.74%,#d030c6 70.39%,#c439d4 71.05%,#b743df 71.71%,#b743df 72.37%,#b744e0 73.03%,#a94fe9 73.68%,#9c5aee 74.34%,#9c5aee 75%,#9c5aee 75.66%,#9c5aee 76.32%,#9c5aee 76.97%,#9c5aee 77.63%,#9c5aee 78.29%,#9c5aee 78.95%,#9c5aee 79.61%,#9c5aee 80.26%,#9c5aee 80.92%,#9c5aee 81.58%,#9c5aee 82.24%,#9c5aee 82.89%,#9c5aee 83.55%,#9c5aee 84.21%,#9c5aee 84.87%,#9c5aee 85.53%,#9c5aee 86.18%,#9165ee 86.84%,#7b73ea 87.5%,#7a74ea 88.16%,#7875ea 88.82%,#7776e9 89.47%,#7776e9 90.13%,#7776e9 90.79%,#7776e9 91.45%,#5f84e1 92.11%,#468bd3 92.76%,#3091b9 93.42%,#1f94a2 94.08%,#189690 94.74%,#11957d 95.39%,#1a9660 96.05%,#40973b 96.71%,#109474 97.37%,#1f94a2 98.03%,#1f94a2 98.68%,#1f94a2 99.34%,#1f94a2 100%)"></i><i style="top:461.99px;background:linear-gradient(90deg,#189690 0%,#11957d 0.66%,#1a9660 1.32%,#40973b 1.97%,#109474 2.63%,#1f94a2 3.29%,#1f94a2 3.95%,#1f94a2 4.61%,#1f94a2 5.26%,#1f94a2 5.92%,#1f94a2 6.58%,#1f94a2 7.24%,#2693ac 7.89%,#2e91b6 8.55%,#2f91b8 9.21%,#3091b9 9.87%,#7a74ea 10.53%,#b743df 11.18%,#c439d4 11.84%,#d030c6 12.5%,#d030c6 13.16%,#d030c6 13.82%,#d030c6 14.47%,#d030c6 15.13%,#d030c6 15.79%,#d030c6 16.45%,#9264ee 17.11%,#3091ba 17.76%,#2f91b8 18.42%,#2e91b6 19.08%,#388fc5 19.74%,#468bd3 20.39%,#7478e9 21.05%,#9c5aee 21.71%,#9c5aee 22.37%,#9c5aee 23.03%,#9c5aee 23.68%,#9c5aee 24.34%,#7677e9 25%,#498bd4 25.66%,#478bd4 26.32%,#468bd3 26.97%,#498bd4 27.63%,#4b8ad6 28.29%,#9c5aee 28.95%,#d030c6 29.61%,#d030c6 30.26%,#d030c6 30.92%,#b744e0 31.58%,#9c5aee 32.24%,#9c5aee 32.89%,#9c5aee 33.55%,#8e67ee 34.21%,#7776e9 34.87%,#4c8ad7 35.53%,#2e91b6 36.18%,#2693ac 36.84%,#1f94a2 37.5%,#2f91b8 38.16%,#448cd1 38.82%,#458bd2 39.47%,#468bd3 40.13%,#458bd2 40.79%,#458bd2 41.45%,#7479e8 42.11%,#9c5aee 42.76%,#9c5aee 43.42%,#9c5aee 44.08%,#b546e2 44.74%,#cc34cb 45.39%,#ce32c9 46.05%,#d030c6 46.71%,#d030c6 47.37%,#d030c6 48.03%,#d030c6 48.68%,#d030c6 49.34%,#d030c6 50%,#d030c6 50.66%,#cf31c8 51.32%,#ce32ca 51.97%,#b545e1 52.63%,#9c5aee 53.29%,#9c5aee 53.95%,#9c5aee 54.61%,#9c5aee 55.26%,#9c5aee 55.92%,#9c5aee 56.58%,#9d59ee 57.24%,#aa4ee9 57.89%,#b743df 58.55%,#9d59ee 59.21%,#7875ea 59.87%,#7776e9 60.53%,#7776e9 61.18%,#5a86df 61.84%,#3f8dcd 62.5%,#2d91b6 63.16%,#1f94a2 63.82%,#2693ac 64.47%,#2e91b6 65.13%,#4c8ad7 65.79%,#7776e9 66.45%,#8e67ee 67.11%,#9c5aee 67.76%,#b744e0 68.42%,#d030c6 69.08%,#d030c6 69.74%,#d030c6 70.39%,#c439d4 71.05%,#b743df 71.71%,#b743df 72.37%,#b744e0 73.03%,#a94fe9 73.68%,#9c5aee 74.34%,#9c5aee 75%,#9c5aee 75.66%,#9c5aee 76.32%,#9c5aee 76.97%,#9c5aee 77.63%,#9c5aee 78.29%,#9c5aee 78.95%,#9c5aee 79.61%,#9c5aee 80.26%,#9c5aee 80.92%,#9c5aee 81.58%,#9c5aee 82.24%,#9c5aee 82.89%,#9c5aee 83.55%,#9c5aee 84.21%,#9c5aee 84.87%,#9c5aee 85.53%,#9c5aee 86.18%,#9165ee 86.84%,#7b73ea 87.5%,#7a74ea 88.16%,#7875ea 88.82%,#7776e9 89.47%,#7776e9 90.13%,#7776e9 90.79%,#7776e9 91.45%,#5f84e1 92.11%,#468bd3 92.76%,#3091b9 93.42%,#1f94a2 94.08%,#189690 94.74%,#11957d 95.39%,#1a9660 96.05%,#40973b 96.71%,#109474 97.37%,#1f94a2 98.03%,#1f94a2 98.68%,#1f94a2 99.34%,#1f94a2 100%)"></i><i style="top:468.23px;background:linear-gradient(90deg,#189690 0%,#11957d 0.66%,#1a9660 1.32%,#40973b 1.97%,#109474 2.63%,#1f94a2 3.29%,#1f94a2 3.95%,#1f94a2 4.61%,#1f94a2 5.26%,#1f94a2 5.92%,#1f94a2 6.58%,#1f94a2 7.24%,#2693ac 7.89%,#2e91b6 8.55%,#2f91b8 9.21%,#3091b9 9.87%,#7a74ea 10.53%,#b743df 11.18%,#c439d4 11.84%,#d030c6 12.5%,#d030c6 13.16%,#d030c6 13.82%,#d030c6 14.47%,#d030c6 15.13%,#d030c6 15.79%,#d030c6 16.45%,#9264ee 17.11%,#3091ba 17.76%,#2f91b8 18.42%,#2e91b6 19.08%,#388fc5 19.74%,#468bd3 20.39%,#7478e9 21.05%,#9c5aee 21.71%,#9c5aee 22.37%,#9c5aee 23.03%,#9c5aee 23.68%,#9c5aee 24.34%,#7677e9 25%,#498bd4 25.66%,#478bd4 26.32%,#468bd3 26.97%,#498bd4 27.63%,#4b8ad6 28.29%,#9c5aee 28.95%,#d030c6 29.61%,#d030c6 30.26%,#d030c6 30.92%,#b744e0 31.58%,#9c5aee 32.24%,#9c5aee 32.89%,#9c5aee 33.55%,#8e67ee 34.21%,#7776e9 34.87%,#4c8ad7 35.53%,#2e91b6 36.18%,#2693ac 36.84%,#1f94a2 37.5%,#2f91b8 38.16%,#448cd1 38.82%,#458bd2 39.47%,#468bd3 40.13%,#458bd2 40.79%,#458bd2 41.45%,#7479e8 42.11%,#9c5aee 42.76%,#9c5aee 43.42%,#9c5aee 44.08%,#b546e2 44.74%,#cc34cb 45.39%,#ce32c9 46.05%,#d030c6 46.71%,#d030c6 47.37%,#d030c6 48.03%,#d030c6 48.68%,#d030c6 49.34%,#d030c6 50%,#d030c6 50.66%,#cf31c8 51.32%,#ce32ca 51.97%,#b545e1 52.63%,#9c5aee 53.29%,#9c5aee 53.95%,#9c5aee 54.61%,#9c5aee 55.26%,#9c5aee 55.92%,#9c5aee 56.58%,#9d59ee 57.24%,#aa4ee9 57.89%,#b743df 58.55%,#9d59ee 59.21%,#7875ea 59.87%,#7776e9 60.53%,#7776e9 61.18%,#5a86df 61.84%,#3f8dcd 62.5%,#2d91b6 63.16%,#1f94a2 63.82%,#2693ac 64.47%,#2e91b6 65.13%,#4c8ad7 65.79%,#7776e9 66.45%,#8e67ee 67.11%,#9c5aee 67.76%,#b744e0 68.42%,#d030c6 69.08%,#d030c6 69.74%,#d030c6 70.39%,#c439d4 71.05%,#b743df 71.71%,#b743df 72.37%,#b744e0 73.03%,#a94fe9 73.68%,#9c5aee 74.34%,#9c5aee 75%,#9c5aee 75.66%,#9c5aee 76.32%,#9c5aee 76.97%,#9c5aee 77.63%,#9c5aee 78.29%,#9c5aee 78.95%,#9c5aee 79.61%,#9c5aee 80.26%,#9c5aee 80.92%,#9c5aee 81.58%,#9c5aee 82.24%,#9c5aee 82.89%,#9c5aee 83.55%,#9c5aee 84.21%,#9c5aee 84.87%,#9c5aee 85.53%,#9c5aee 86.18%,#9165ee 86.84%,#7b73ea 87.5%,#7a74ea 88.16%,#7875ea 88.82%,#7776e9 89.47%,#7776e9 90.13%,#7776e9 90.79%,#7776e9 91.45%,#5f84e1 92.11%,#468bd3 92.76%,#3091b9 93.42%,#1f94a2 94.08%,#189690 94.74%,#11957d 95.39%,#1a9660 96.05%,#40973b 96.71%,#109474 97.37%,#1f94a2 98.03%,#1f94a2 98.68%,#1f94a2 99.34%,#1f94a2 100%)"></i></div></div>
<svg width="978" height="630" viewBox="0 0 978 630">
<defs>
<clipPath id="mc"><rect x="0" y="0" width="360" height="180"/></clipPath>
<linearGradient id="cb" x1="0" x2="1" y1="0" y2="0"><stop offset="0.000" stop-color="#a67a10"/><stop offset="0.028" stop-color="#ae7418"/><stop offset="0.055" stop-color="#b66e20"/><stop offset="0.083" stop-color="#c06828"/><stop offset="0.110" stop-color="#c86238"/><stop offset="0.138" stop-color="#d05844"/><stop offset="0.166" stop-color="#d65050"/><stop offset="0.194" stop-color="#da4a5c"/><stop offset="0.221" stop-color="#dc406e"/><stop offset="0.249" stop-color="#de3488"/><stop offset="0.271" stop-color="#e02a9c"/><stop offset="0.298" stop-color="#dc28b0"/><stop offset="0.326" stop-color="#d42cc0"/><stop offset="0.353" stop-color="#cc34cc"/><stop offset="0.380" stop-color="#c03cd8"/><stop offset="0.408" stop-color="#b446e2"/><stop offset="0.435" stop-color="#a850ea"/><stop offset="0.462" stop-color="#9c5aee"/><stop offset="0.490" stop-color="#9066ee"/><stop offset="0.517" stop-color="#7a74ea"/><stop offset="0.542" stop-color="#6a80e6"/><stop offset="0.569" stop-color="#5488dc"/><stop offset="0.596" stop-color="#428cd0"/><stop offset="0.623" stop-color="#3490c0"/><stop offset="0.650" stop-color="#2a92b0"/><stop offset="0.677" stop-color="#2094a4"/><stop offset="0.704" stop-color="#1a9696"/><stop offset="0.731" stop-color="#149688"/><stop offset="0.758" stop-color="#109478"/><stop offset="0.786" stop-color="#129468"/><stop offset="0.813" stop-color="#229858"/><stop offset="0.843" stop-color="#3a9840"/><stop offset="0.866" stop-color="#4e9430"/><stop offset="0.889" stop-color="#628e22"/><stop offset="0.912" stop-color="#728a18"/><stop offset="0.935" stop-color="#808414"/><stop offset="0.957" stop-color="#8e8012"/><stop offset="0.980" stop-color="#9c7a10"/><stop offset="1.000" stop-color="#a67610"/></linearGradient>
</defs>
<g transform="translate(63.0,52.5) scale(2.49583,2.49722)">
<g clip-path="url(#mc)">
<g fill="#fff" fill-rule="evenodd"><path d="M-1 18.1 4 18.1 4 14.3 12.2 14.3 12.2 16.1 15.8 16.1 15.8 18.1 28.2 18.1 28.2 16.1 31.8 16.1 31.8 18.1 39.7 18.1 39.7 17.9 44.3 17.9 44.3 30 140 30 140 30 164 30 164 32.3 172.5 32.3 172.5 30.2 184 30.2 184 32.2 187.7 32.2 187.7 33.9 198 33.9 198 30.8 202.4 30.8 202.4 30 205 30 205 30 290 30 290 40 300.1 40 300.1 30 301.9 30 301.9 28.4 304.4 28.4 304.4 26.4 308.3 26.4 308.3 28.4 310.3 28.4 310.3 30 314.1 30 314.1 32 320.5 32 320.5 28.4 328.3 28.4 328.3 26.4 344.3 26.4 344.3 22.4 350 22.4 350 20 361 20 361 -1 -1 -1ZM243 29 245 29.1 248 28.7 251 28 249.5 27.2 247 27.7 244.5 28.1 243 28.4ZM235 24.7 237 25 240.5 24.5 242 23.7 240 23 238 23.3 236.5 23.8 235 24.1Z"/><path d="M290 28 300.1 28 300.1 32 301.9 32 301.9 34.3 304.4 34.3 304.4 36 306.2 36 306.2 40.1 290 40.1Z"/><path d="M265 24 290 24 290 40 265 40Z"/><path d="M290 39 300 39 300 42.5 296 42.5 296 44.5 290 44.5Z"/><path d="M133 27 164 27 164 32.4 156 32.4 156 33.8 152.2 33.8 152.2 36.2 148.3 36.2 148.3 45.2 145.7 45.2 145.7 46 143 46 143 40 140 40 140 36.5 133 36.5Z"/><path d="M16 23 27 23 27 29.4 23.5 29.4 23.5 31.9 16 31.9Z"/><path d="M32 22.5 39.7 22.5 39.7 19.9 70 19.9 70 30 32 30ZM34.5 29 36 28.8 36.2 27.8 35.3 27.1 34.5 27.6Z"/><path d="M-1 158 5.7 158 5.7 159.8 10 159.8 10 158 17.6 158 17.6 155.7 28 155.7 28 153.5 62 153.5 62 155.7 70 155.7 70 158 77.6 158 77.6 153.5 90 153.5 90 155.7 93.8 155.7 93.8 151.7 103.8 151.7 103.8 153.5 108 153.5 108 155.7 110 155.7 110 153.5 140 153.5 140 155.7 147.6 155.7 147.6 153.5 165.7 153.5 165.7 155.7 172 155.7 172 158 180 158 180 157.9 205.7 157.9 205.7 155.7 221.9 155.7 221.9 157.9 227.6 157.9 227.6 155.7 231.9 155.7 231.9 157.9 267 157.9 267 155.7 270 155.7 270 155.7 290 155.7 290 153.8 298 153.8 298 151.9 317.6 151.9 317.6 150.3 322 150.3 322 153.8 324 153.8 324 155.7 329.5 155.7 329.5 160 345 160 345 158 361 158 361 181 -1 181Z"/></g>
<path d="M170 162 180 162 180 165.5 170 165.5Z" fill="#c936cf"/><path d="M180 162 185.7 162 185.7 165.5 180 165.5Z" fill="#c936cf"/>
<path d="M-5.6 54 -6.3 53.5 -7 52.8 -7.9 53 -8.9 53 -8.8 51.7 -9.5 51.3 -9 50.5 -8.9 49.5 -8.8 48.2 -9.3 47 -8.2 46.3 -6 46.4 -4 46.6 -1.8 46.6 -1.3 45.7 -1.2 44.2 -2.2 42.9 -4.4 42.2 -4.8 41.6 -3.5 41.2 -1.6 41.3 -1.9 40.3 -1.2 40.6 0.2 40.5 1.5 39.8 1.6 39.1 2.5 38.9 3.4 38.6 4 38.1 4.6 37.5 4.8 37 5.6 36.6 7 36.5 8 36.4 8.6 36.1 8.9 35.5 8.6 34.5 8.1 34.4 8.2 33.2 9.5 32.9 10.6 32.3 10.4 32.8 10.3 33.5 10.9 33.7 10.2 34.2 9.8 35 10 35.5 11 36 12.5 35.6 13.6 35.7 14.3 36.1 16 35.7 17.8 35.2 18.6 35.5 19.6 35.6 20 35.1 21.2 34.8 21.1 33.9 21.1 33.1 21.6 32.6 22.6 32.3 23.2 33 24.2 32.8 24.4 31.7 23.5 31.4 23.5 30.8 25 30.5 28 30.5 29.5 30.1 30.2 30.1 29 29.8 27 29.5 25 29.8 23 30.1 22 29.8 21.4 29.3 21.5 28.3 21.3 27.5 22.5 26.5 24.5 25.4 25.4 24.8 24.5 24.2 22.5 24.2 21.2 25.1 20.5 26 19 26.5 17.8 27.4 17.3 28.2 17.2 29.2 18.3 29.7 19 30.2 18.3 31 17 31.3 16.5 32.5 16.2 33.4 15.8 33.9 14.7 33.8 14.2 34.6 12.9 34.6 12.5 33.7 12 32.7 11.9 32.3 11.2 31.2 10.7 30.5 10.2 31 9 31.4 8 31.9 7 32 5.6 31.3 5.3 30.5 5 29.5 5 28.5 5.3 27.8 6.5 27.3 8 26.8 9.8 26.4 10.6 25.6 12.2 24.5 13 23.8 14 22.5 15.5 21.5 16.5 20.8 18.5 20.2 20 20 22.5 19.5 25.7 18.9 27.5 19 29 19.3 31 19.7 30 20.2 33 20.6 36 20.9 39 21.6 40.5 22.3 41.2 23.2 40 23.7 38 23.9 35 23.7 33 23.3 34.5 25.2 36.5 25.8 38 26 40.5 25.5 42 24 44 23.8 44.2 22.5 43.5 21.5 46 22 48 22.3 53 21.6 54.5 21.7 58 21.1 60.5 20.1 64 20.7 67 21.1 68.5 21.8 66.8 20.5 67.5 19 68.6 17.4 69.5 17 72 17.2 72.8 18 72 19 72.5 21 73.5 23.5 75 23 75 21.5 73.5 21 73.8 19.5 74 18.5 76.5 18.7 78 17.8 80.5 16.5 84 16.4 86.5 16.1 87 15 94 14 98 13.7 104 12.3 107 13 113 14 114 15.5 113 16.5 118.5 16.7 123 17 126 16.5 129 17.5 131 19 135 18.4 139 18.5 140 17.5 145 17.7 150 18.6 152 19.2 157 19 160 19.8 163 20.3 167 20.4 170 20 174 20.2 178 20.7 180 21.1 184 22.5 187 23.5 190.3 24 188.5 24.7 186.5 25.7 184 25.2 181 24.6 179 25.3 177.5 25.3 178.5 26.5 179.5 27.5 177 27.5 174 28.2 171 29.5 169 29.5 166 30 164 30.1 163 31.5 163.5 33.5 162 34.5 161.8 35.5 160 36.8 158.5 37.2 156.7 39 156 37 155.6 34.5 156.5 32.5 158 32 160 30.5 161.5 29.7 163 28.5 162 28.2 160 29 156.5 28.5 154 30.5 151 30.8 148 30.7 145 30.7 142.5 30.8 140.5 32.2 138 33.5 137 35.5 138.5 36 140.5 36.5 141.5 37.7 140.7 39.5 140.5 41.5 138.5 43.2 137 44.5 135.5 46 133 47.2 131.5 46.9 130.7 47.7 129.7 49.2 128 50.2 127.5 50.8 128.4 51.5 129.4 53 129.4 54.5 128.5 55 127 55.4 126.3 55.4 126.5 54 126.5 52.5 125.5 52.2 124.8 51.5 125.2 50.5 124.3 50.1 122.3 50.6 121.3 51.2 121.7 50.5 122.2 49.5 121 49.1 119.5 50.1 118 50.8 117.7 51.6 118.5 52.4 119.3 52.9 120.7 52.2 122.5 52.6 122.5 53.1 120.8 53.6 119.5 54.8 120.3 55.7 120.8 57.4 121.8 58.3 121.9 59.1 121 59.7 122 60.2 121.5 61.5 120.6 62.5 119.7 63.7 119 64.7 118 65.5 116.8 66.7 115.5 67.2 114.2 67.7 113.5 67.8 112 68.2 110.5 68.8 110.2 69.7 109.8 68.6 108.5 68.4 107.2 69.1 106.6 69.8 105.8 71 106.5 72.2 107.3 73.4 108.3 74.4 109 76 109.3 77.8 109 78.8 107.5 79.5 106.6 80.2 105.1 81.4 104.8 80.2 104.4 79.6 103.1 79 102.5 77.8 100.9 77.2 100.1 76.5 99.9 77.5 99.2 79.6 99.9 80.8 100.4 82.6 101.2 83.1 102.2 83.8 103.1 84.7 103.5 85.8 103.4 87.1 104.2 88.5 103.5 88.7 102.6 88 101.3 87.1 100.7 86.1 100.4 85 100.2 83.5 99.5 82.7 98.4 82 98.5 80.5 98.7 79 98.5 77 97.8 75.2 97.6 73.5 96.5 73.5 95.3 74.2 94.3 74 94.5 72.5 94 71 93 70.1 92.3 69.3 92 68.4 91.5 67.5 90.5 68 89 68.3 87.5 68.4 86.8 69.5 85.2 70.5 84 71.7 82.3 73.4 81.2 74.1 80.1 76 80.3 76.9 79.8 78.5 79.8 79.7 78.9 80.7 78.1 81.5 77.5 81.9 76.6 81.1 76.1 79.5 75.4 78.2 74.7 76.5 74 74.8 73.3 73 72.8 71 72.8 69.5 72.6 68.5 72.3 67.7 71.5 68.8 70.7 69.2 69.5 68.2 69 67.6 70 67.3 69.5 67 68.5 66.7 67.5 66.2 66.8 65.1 65.5 64.7 63.5 64.8 61.6 64.8 60 64.6 58.5 64.4 57.3 64.1 57 63 56.2 62.8 55 63.4 53.5 63.1 52 62.2 51 61.2 50.4 60.2 49.5 60 48.5 60.1 48.2 60.7 48.7 62 49.5 63 50.2 63.7 50.8 64.5 51.3 63.9 51.6 64.7 51.4 65.6 52.5 65.8 54.2 65.7 55.5 64.7 56.1 63.8 56.4 64.5 56.4 65.5 57.5 66.2 58.7 66.5 59.8 67.5 59.3 68.6 58.5 69.6 57.8 70.2 57.7 71.1 56.6 71.7 55.4 72.4 55 73 53 73.4 52.2 74.4 50 75 48.5 76 46.5 76.6 45 77.2 43.5 77.4 43.2 76.7 42.8 75 42.6 73.5 41.7 72.2 40.8 70.5 39.6 69.2 39.1 68 38.5 66.3 37.5 65.5 36.5 64 35.5 62.5 34.8 61.7 35 60.5 34.6 61.5 34.3 62.2 33.6 61.5 32.6 60.1 32.3 58.7 34.2 58.7 34.9 57.5 35.1 56.9 35.5 56.1 35.9 55.4 35.8 54.2 36.2 53.4 35.5 53.4 34.6 53.2 33.6 53.8 32.5 53.9 31 53.2 30.4 53.8 29.2 53.5 28 53.2 27.3 52.7 27 52 26.5 51.5 26.8 50.7 26.2 50.2 26.7 49.6 26.2 49.4 25.5 49.2 24 49.2 23 49.6 22.6 49.5 22.6 50.5 23.2 51 24 51.8 23.2 52.1 23 53.5 22.4 53.5 21.7 53.2 21.6 52.4 21.1 51.7 20.8 51 20.1 50.4 19.4 49.7 19.5 49 19.4 48.2 18.5 47.5 17.5 47 16 46.5 15.2 45.8 14.3 44.8 13.6 44.9 13.7 44.4 12.3 44.7 12.3 45.5 12.6 46 13.6 46.5 14.7 47.9 16 48.5 17.2 49.1 18.5 49.9 17.9 50 17 49.5 16.5 50.3 17.1 51 16.5 51.5 16 52.1 15.6 51.8 15.8 51.1 15.6 50 14.6 49.4 14 49.1 13 48.7 12.2 48.2 11.2 47.6 10.5 47 10.2 46.1 8.8 45.6 7.8 46.2 6.6 46.8 5.3 46.7 4.2 46.5 3 46.8 3.2 48 2.2 48.7 0.9 49 0 50.1 -0.3 50.6 0.2 51.2 -0.5 51.8 -0.7 52.4 -1.6 53 -2.2 53.3 -3.5 53.3 -4.5 53.4 -5.3 53.9ZM354.4 54 353.7 53.5 353 52.8 352.1 53 351.1 53 351.2 51.7 350.5 51.3 351 50.5 351.1 49.5 351.2 48.2 350.7 47 351.8 46.3 354 46.4 356 46.6 358.2 46.6 358.7 45.7 358.8 44.2 357.8 42.9 355.6 42.2 355.2 41.6 356.5 41.2 358.4 41.3 358.1 40.3 358.8 40.6 360.2 40.5 361.5 39.8 361.6 39.1 362.5 38.9 363.4 38.6 364 38.1 364.6 37.5 364.8 37 365.6 36.6 367 36.5 368 36.4 368.6 36.1 368.9 35.5 368.6 34.5 368.1 34.4 368.2 33.2 369.5 32.9 370.6 32.3 370.4 32.8 370.3 33.5 370.9 33.7 370.2 34.2 369.8 35 370 35.5 371 36 372.5 35.6 373.6 35.7 374.3 36.1 376 35.7 377.8 35.2 378.6 35.5 379.6 35.6 380 35.1 381.2 34.8 381.1 33.9 381.1 33.1 381.6 32.6 382.6 32.3 383.2 33 384.2 32.8 384.4 31.7 383.5 31.4 383.5 30.8 385 30.5 388 30.5 389.5 30.1 390.2 30.1 389 29.8 387 29.5 385 29.8 383 30.1 382 29.8 381.4 29.3 381.5 28.3 381.3 27.5 382.5 26.5 384.5 25.4 385.4 24.8 384.5 24.2 382.5 24.2 381.2 25.1 380.5 26 379 26.5 377.8 27.4 377.3 28.2 377.2 29.2 378.3 29.7 379 30.2 378.3 31 377 31.3 376.5 32.5 376.2 33.4 375.8 33.9 374.7 33.8 374.2 34.6 372.9 34.6 372.5 33.7 372 32.7 371.9 32.3 371.2 31.2 370.7 30.5 370.2 31 369 31.4 368 31.9 367 32 365.6 31.3 365.3 30.5 365 29.5 365 28.5 365.3 27.8 366.5 27.3 368 26.8 369.8 26.4 370.6 25.6 372.2 24.5 373 23.8 374 22.5 375.5 21.5 376.5 20.8 378.5 20.2 380 20 382.5 19.5 385.7 18.9 387.5 19 389 19.3 391 19.7 390 20.2 393 20.6 396 20.9 399 21.6 400.5 22.3 401.2 23.2 400 23.7 398 23.9 395 23.7 393 23.3 394.5 25.2 396.5 25.8 398 26 400.5 25.5 402 24 404 23.8 404.2 22.5 403.5 21.5 406 22 408 22.3 413 21.6 414.5 21.7 418 21.1 420.5 20.1 424 20.7 427 21.1 428.5 21.8 426.8 20.5 427.5 19 428.6 17.4 429.5 17 432 17.2 432.8 18 432 19 432.5 21 433.5 23.5 435 23 435 21.5 433.5 21 433.8 19.5 434 18.5 436.5 18.7 438 17.8 440.5 16.5 444 16.4 446.5 16.1 447 15 454 14 458 13.7 464 12.3 467 13 473 14 474 15.5 473 16.5 478.5 16.7 483 17 486 16.5 489 17.5 491 19 495 18.4 499 18.5 500 17.5 505 17.7 510 18.6 512 19.2 517 19 520 19.8 523 20.3 527 20.4 530 20 534 20.2 538 20.7 540 21.1 544 22.5 547 23.5 550.3 24 548.5 24.7 546.5 25.7 544 25.2 541 24.6 539 25.3 537.5 25.3 538.5 26.5 539.5 27.5 537 27.5 534 28.2 531 29.5 529 29.5 526 30 524 30.1 523 31.5 523.5 33.5 522 34.5 521.8 35.5 520 36.8 518.5 37.2 516.7 39 516 37 515.6 34.5 516.5 32.5 518 32 520 30.5 521.5 29.7 523 28.5 522 28.2 520 29 516.5 28.5 514 30.5 511 30.8 508 30.7 505 30.7 502.5 30.8 500.5 32.2 498 33.5 497 35.5 498.5 36 500.5 36.5 501.5 37.7 500.7 39.5 500.5 41.5 498.5 43.2 497 44.5 495.5 46 493 47.2 491.5 46.9 490.7 47.7 489.7 49.2 488 50.2 487.5 50.8 488.4 51.5 489.4 53 489.4 54.5 488.5 55 487 55.4 486.3 55.4 486.5 54 486.5 52.5 485.5 52.2 484.8 51.5 485.2 50.5 484.3 50.1 482.3 50.6 481.3 51.2 481.7 50.5 482.2 49.5 481 49.1 479.5 50.1 478 50.8 477.7 51.6 478.5 52.4 479.3 52.9 480.7 52.2 482.5 52.6 482.5 53.1 480.8 53.6 479.5 54.8 480.3 55.7 480.8 57.4 481.8 58.3 481.9 59.1 481 59.7 482 60.2 481.5 61.5 480.6 62.5 479.7 63.7 479 64.7 478 65.5 476.8 66.7 475.5 67.2 474.2 67.7 473.5 67.8 472 68.2 470.5 68.8 470.2 69.7 469.8 68.6 468.5 68.4 467.2 69.1 466.6 69.8 465.8 71 466.5 72.2 467.3 73.4 468.3 74.4 469 76 469.3 77.8 469 78.8 467.5 79.5 466.6 80.2 465.1 81.4 464.8 80.2 464.4 79.6 463.1 79 462.5 77.8 460.9 77.2 460.1 76.5 459.9 77.5 459.2 79.6 459.9 80.8 460.4 82.6 461.2 83.1 462.2 83.8 463.1 84.7 463.5 85.8 463.4 87.1 464.2 88.5 463.5 88.7 462.6 88 461.3 87.1 460.7 86.1 460.4 85 460.2 83.5 459.5 82.7 458.4 82 458.5 80.5 458.7 79 458.5 77 457.8 75.2 457.6 73.5 456.5 73.5 455.3 74.2 454.3 74 454.5 72.5 454 71 453 70.1 452.3 69.3 452 68.4 451.5 67.5 450.5 68 449 68.3 447.5 68.4 446.8 69.5 445.2 70.5 444 71.7 442.3 73.4 441.2 74.1 440.1 76 440.3 76.9 439.8 78.5 439.8 79.7 438.9 80.7 438.1 81.5 437.5 81.9 436.6 81.1 436.1 79.5 435.4 78.2 434.7 76.5 434 74.8 433.3 73 432.8 71 432.8 69.5 432.6 68.5 432.3 67.7 431.5 68.8 430.7 69.2 429.5 68.2 429 67.6 430 67.3 429.5 67 428.5 66.7 427.5 66.2 426.8 65.1 425.5 64.7 423.5 64.8 421.6 64.8 420 64.6 418.5 64.4 417.3 64.1 417 63 416.2 62.8 415 63.4 413.5 63.1 412 62.2 411 61.2 410.4 60.2 409.5 60 408.5 60.1 408.2 60.7 408.7 62 409.5 63 410.2 63.7 410.8 64.5 411.3 63.9 411.6 64.7 411.4 65.6 412.5 65.8 414.2 65.7 415.5 64.7 416.1 63.8 416.4 64.5 416.4 65.5 417.5 66.2 418.7 66.5 419.8 67.5 419.3 68.6 418.5 69.6 417.8 70.2 417.7 71.1 416.6 71.7 415.4 72.4 415 73 413 73.4 412.2 74.4 410 75 408.5 76 406.5 76.6 405 77.2 403.5 77.4 403.2 76.7 402.8 75 402.6 73.5 401.7 72.2 400.8 70.5 399.6 69.2 399.1 68 398.5 66.3 397.5 65.5 396.5 64 395.5 62.5 394.8 61.7 395 60.5 394.6 61.5 394.3 62.2 393.6 61.5 392.6 60.1 392.3 58.7 394.2 58.7 394.9 57.5 395.1 56.9 395.5 56.1 395.9 55.4 395.8 54.2 396.2 53.4 395.5 53.4 394.6 53.2 393.6 53.8 392.5 53.9 391 53.2 390.4 53.8 389.2 53.5 388 53.2 387.3 52.7 387 52 386.5 51.5 386.8 50.7 386.2 50.2 386.7 49.6 386.2 49.4 385.5 49.2 384 49.2 383 49.6 382.6 49.5 382.6 50.5 383.2 51 384 51.8 383.2 52.1 383 53.5 382.4 53.5 381.7 53.2 381.6 52.4 381.1 51.7 380.8 51 380.1 50.4 379.4 49.7 379.5 49 379.4 48.2 378.5 47.5 377.5 47 376 46.5 375.2 45.8 374.3 44.8 373.6 44.9 373.7 44.4 372.3 44.7 372.3 45.5 372.6 46 373.6 46.5 374.7 47.9 376 48.5 377.2 49.1 378.5 49.9 377.9 50 377 49.5 376.5 50.3 377.1 51 376.5 51.5 376 52.1 375.6 51.8 375.8 51.1 375.6 50 374.6 49.4 374 49.1 373 48.7 372.2 48.2 371.2 47.6 370.5 47 370.2 46.1 368.8 45.6 367.8 46.2 366.6 46.8 365.3 46.7 364.2 46.5 363 46.8 363.2 48 362.2 48.7 360.9 49 360 50.1 359.7 50.6 360.2 51.2 359.5 51.8 359.3 52.4 358.4 53 357.8 53.3 356.5 53.3 355.5 53.4 354.7 53.9ZM28 48.7 29 48.8 31 48.9 33 48.1 35 48 36.5 48.7 38.5 49.1 40 49 41.5 48.5 41.7 47.5 40 46.6 38.5 45.7 37.5 45.2 36.6 44.8 35.5 44.9 34.5 45.4 33.5 45.5 32.6 44.6 33.6 44.1 32 43.8 31 43.4 30.2 44.2 29.7 44.8 28.7 45.7 28 46.7 27.9 47.8ZM35.2 44.6 36.6 44.6 38.5 43.5 39.3 42.8 37.5 42.9 35.5 43.5ZM49 43.5 51 43 53 43.2 53.2 44.7 51.3 45.5 50.8 45.8 51.5 46.8 52.7 48 53 49 53.9 50 53.2 50.8 53.9 52.5 53.5 53.1 51.5 53.2 50 52.6 49 51.9 48.9 51.2 49.3 50.6 49.6 49.7 50.3 49.5 49.5 49 48.6 48.2 47.5 47 47.6 45.9 46.7 45.4 47.3 44.5 48 43.7ZM58.3 43.5 60 43.3 61.3 43.7 61.5 45 60.5 46 59 45.8 58.3 44.5ZM73.5 43.8 75 43.4 77 43.6 79 43.4 79.2 43.8 77 44.1 75 44.4 73.6 44.4ZM103.7 38.4 105 38.4 107 37.4 109 36 109.8 34.4 109.3 34.4 108 35.8 106.5 37 104.5 38ZM30 30 31.5 29.8 32.8 29.2 32.5 28.6 31 28.3 30 28.8ZM34.5 29 36 28.8 36.2 27.8 35.3 27.1 34.5 27.6ZM-5.9 54.2 -5.3 54.1 -4.3 54.8 -2.9 54.7 -2 54.9 -1.2 54.3 0 54.1 1.5 53.5 3 53.2 5 53.2 6.5 52.9 8 53.1 9.8 52.7 10.3 53.1 11 52.9 10.5 53.6 11.1 54.4 10.6 55.2 10.1 55.8 10.6 56.3 11.2 56.8 12.5 57.2 13.5 57.1 15.2 57.7 15.7 58.5 17.5 59 19 59.7 20 59.2 20.1 57.8 21.5 57.1 23 57.4 23.2 57.8 25 58.3 27 58.6 29 59.1 30.2 58.5 31.5 58.5 32.3 58.7 32.6 60.1 32.7 61 33.5 62.5 34.3 64 35.5 66 35.8 67.2 36.9 68.5 37.2 70 37.4 71.2 38.5 72 39.2 74 40 74.5 41.2 75.6 42.4 77 43.3 77.5 43.4 78.4 42.8 78.5 44 79.6 45 79.5 46.5 79.2 48 78.8 49.5 78.6 51.2 78.2 51.1 79.5 50.7 80.5 50 82 49.3 83.5 48.5 85 47.5 86.2 46 87.7 44.5 88.5 43 89.7 42 90.7 41 91.8 40.2 92.7 39.7 93.8 39.2 94.7 38.8 96.5 39.4 97.3 39.3 98.5 39.8 100 40.4 100.5 40.5 102.5 40.6 104.5 40.5 105.5 39.2 106.8 37.5 107.8 36.3 109 34.8 109.8 35.2 111.5 35.5 112.5 35.5 114 34.5 114.8 33 115.5 32.6 116.5 32.6 118 32 119 31 120 30 121.3 28.5 122.5 27 123.6 25.7 124 24 124.1 22.5 124 20 124.8 18.8 124.4 18.4 124.2 18.4 123.5 18 122.6 18.2 121.8 17.3 120 16.5 118.6 15.5 117.5 15 116 14.5 114 14.4 112.5 13.5 111 12.5 109 11.8 107.3 11.8 106 12.2 104.5 12.8 103 13.7 101.5 13.2 99.5 13.2 98.5 12.3 96.1 12.2 95.5 11.8 94.6 11 93.8 9.6 92.5 9 91 9.3 89.5 9.5 88.5 9.8 87.2 9.6 86.2 8.8 85.6 8 85.6 7 85.6 6 85.7 5.5 85.1 4.8 84 3.5 83.6 2 83.7 1 84 -0.5 84.6 -2 85.2 -3.5 84.9 -5 84.9 -7.5 85.6 -8.5 85.2 -10 84 -11.5 83.1 -12.5 82.6 -13.2 81.5 -13.5 80.5 -14.5 79.5 -15.2 79 -16.5 78 -16.8 76.8 -17.1 75.6 -17.5 75.3 -16.8 74.5 -16.4 73 -16.1 71.5 -16.5 70.5 -17 69.2 -16.9 68 -16 66.3 -15 65 -14.4 63.8 -13.2 62.3 -11.5 61.8 -10.2 61 -9.7 60 -9.8 58.6 -9.2 57.5 -8 56.5 -6.8 56 -6.2 54.8ZM354.1 54.2 354.7 54.1 355.7 54.8 357.1 54.7 358 54.9 358.8 54.3 360 54.1 361.5 53.5 363 53.2 365 53.2 366.5 52.9 368 53.1 369.8 52.7 370.3 53.1 371 52.9 370.5 53.6 371.1 54.4 370.6 55.2 370.1 55.8 370.6 56.3 371.2 56.8 372.5 57.2 373.5 57.1 375.2 57.7 375.7 58.5 377.5 59 379 59.7 380 59.2 380.1 57.8 381.5 57.1 383 57.4 383.2 57.8 385 58.3 387 58.6 389 59.1 390.2 58.5 391.5 58.5 392.3 58.7 392.6 60.1 392.7 61 393.5 62.5 394.3 64 395.5 66 395.8 67.2 396.9 68.5 397.2 70 397.4 71.2 398.5 72 399.2 74 400 74.5 401.2 75.6 402.4 77 403.3 77.5 403.4 78.4 402.8 78.5 404 79.6 405 79.5 406.5 79.2 408 78.8 409.5 78.6 411.2 78.2 411.1 79.5 410.7 80.5 410 82 409.3 83.5 408.5 85 407.5 86.2 406 87.7 404.5 88.5 403 89.7 402 90.7 401 91.8 400.2 92.7 399.7 93.8 399.2 94.7 398.8 96.5 399.4 97.3 399.3 98.5 399.8 100 400.4 100.5 400.5 102.5 400.6 104.5 400.5 105.5 399.2 106.8 397.5 107.8 396.3 109 394.8 109.8 395.2 111.5 395.5 112.5 395.5 114 394.5 114.8 393 115.5 392.6 116.5 392.6 118 392 119 391 120 390 121.3 388.5 122.5 387 123.6 385.7 124 384 124.1 382.5 124 380 124.8 378.8 124.4 378.4 124.2 378.4 123.5 378 122.6 378.2 121.8 377.3 120 376.5 118.6 375.5 117.5 375 116 374.5 114 374.4 112.5 373.5 111 372.5 109 371.8 107.3 371.8 106 372.2 104.5 372.8 103 373.7 101.5 373.2 99.5 373.2 98.5 372.3 96.1 372.2 95.5 371.8 94.6 371 93.8 369.6 92.5 369 91 369.3 89.5 369.5 88.5 369.8 87.2 369.6 86.2 368.8 85.6 368 85.6 367 85.6 366 85.7 365.5 85.1 364.8 84 363.5 83.6 362 83.7 361 84 359.5 84.6 358 85.2 356.5 84.9 355 84.9 352.5 85.6 351.5 85.2 350 84 348.5 83.1 347.5 82.6 346.8 81.5 346.5 80.5 345.5 79.5 344.8 79 343.5 78 343.2 76.8 342.9 75.6 342.5 75.3 343.2 74.5 343.6 73 343.9 71.5 343.5 70.5 343 69.2 343.1 68 344 66.3 345 65 345.6 63.8 346.8 62.3 348.5 61.8 349.8 61 350.3 60 350.2 58.6 350.8 57.5 352 56.5 353.2 56 353.8 54.8ZM31.6 91.5 32 89.7 33.5 89.7 34.1 90.4 33.5 92.3 32 92.7ZM29.2 93.3 29.6 93.3 30.5 96 31 98 30.6 98.8 30.2 97.5 29.4 95.8ZM34 99.5 34.5 99.6 35 101.5 35.3 104 34.9 104.3 34.3 102ZM13.5 77 14.5 76.3 15 76.8 14.3 77.5ZM49.3 102 50.5 105.5 50 107 49.4 108 48 112 47 115 45 115.5 43.7 113.5 43.3 111.5 44.4 109.5 44 107 44.5 106 46.3 105.7 47.5 104.5 48.8 102.5ZM-5.7 40 -3 39.5 1.4 38.8 1.7 37.3 0.2 36.5 -1.5 35 -2 34 -1.8 32.5 -3.5 31.4 -5 31.4 -5.8 32.5 -5.6 33.7 -5 35 -3 35.1 -3.3 36.1 -3 36.7 -4.5 36.7 -4.2 37.5 -5.3 38.2 -3 38.5ZM354.3 40 357 39.5 361.4 38.8 361.7 37.3 360.2 36.5 358.5 35 358 34 358.2 32.5 356.5 31.4 355 31.4 354.2 32.5 354.4 33.7 355 35 357 35.1 356.7 36.1 357 36.7 355.5 36.7 355.8 37.5 354.7 38.2 357 38.5ZM354 38 354 36.2 354.5 35.4 353 34.7 351.5 35.5 350 36.5 349.7 38 350.5 38.5 352 38.3ZM337.5 26 336 24.5 338 23.6 343 23.8 345.5 24 346.5 25 345 25.8 342 26.6 339 26.2ZM12.4 51.9 13.4 51.8 15.6 51.7 15.1 53 14.5 53.3 12.6 52.4ZM8.4 49.1 9.6 48.9 9.7 49.9 9.6 50.8 8.8 51.1 8.4 50.7ZM8.6 48.6 9.4 48.6 9.5 47.2 9.3 47 8.6 47.6ZM23.5 54.7 24.5 54.6 26.3 54.8 25.5 55 24 55ZM32.3 55.2 33 55.4 34 55 34.6 54.3 33 54.6 32.3 54.9ZM11 11.5 12.5 10.2 16 10 18.5 9.7 22 9.6 27 9.8 25 10.7 21 11.4 19 12.7 16 13.5 14 12.5ZM44.5 9.5 48 9.2 51 9.4 48 9.8ZM53 9.5 57 8.8 62 9 65 9.2 60 9.7 55 9.8ZM52.4 19 52.9 17.1 55 15.7 57.1 14.8 61 13.8 66.7 13.1 68.6 13.8 65 14.4 61.9 15.2 58.5 16.2 57.1 16.7 56 18 55.5 19.2 53.5 19.4ZM91 10.2 95 9 100 9 104 10.5 102 11.5 99 11.7 95 11ZM136.7 14.5 140 13.8 145 14.2 150 14.8 147 15.4 142 16.2 138 15.5ZM178.5 18.8 180.5 18.4 183 18.7 181 19.2ZM130.9 56 132.5 55.7 135 55.4 135.2 56.2 136 56.5 136.9 55.7 138 55.4 139 55.2 139.8 55 140.8 54.3 140.6 53.5 141 52.1 141.5 51.6 142 50.5 141.5 49.5 141.4 48.6 140.3 48.8 139.9 50 139.7 51.5 138.5 52.6 137.3 53.2 136.8 52.7 136 54 135.3 54.5 133.3 54.5 132 55 131 55.5ZM129.6 56.7 130.6 56.1 131.8 56.7 131.5 58.5 130.6 59 130.2 58.2 129.8 57.3ZM132.5 56.8 133.2 55.7 134.5 55.8 134.7 56.2 134.2 56.7 133 57.2ZM140 48.5 141.2 48.2 143.2 48 145.5 46.7 145 46 143.5 45.8 141.9 44.5 141.6 45.5 141.3 46.7 140.3 46.8 140 47.5ZM141.9 44 143.3 43.7 142.8 41 144.3 41.2 143 38.5 143.1 37 142.6 35.6 142 35.8 141.4 37 141.7 39 141.5 41.5 141.8 43ZM120.1 67 120.7 68 121 67.5 121.6 66 122 65 121.5 64.7 120.7 65.5ZM108.6 70.8 109.5 71.8 110.5 71.4 111 70.3 110.2 69.9 109.3 70ZM120.6 71.5 122.2 71.5 122.5 73 121.6 74.1 121.8 75.8 124 77 123 76.2 122.6 76 121 76.2 120.6 75.5 120 74 120.3 73.5ZM122 83 123.5 82.2 124.2 81.7 125.5 80.2 126.6 82.7 125.8 84 125.3 84.3 124 83.4 122.4 82.5ZM124.3 77.5 125.7 77.7 125.6 79.1 124.8 80 124.3 79ZM121.9 78.2 123.1 78.5 122.9 79.5 122 79.5ZM122.4 79.2 123.4 79.1 123.5 80.5 122.9 80.9ZM120.4 76.5 121.4 76.8 121.3 77.7 120.6 77.5ZM117.2 81.6 118 81.1 119.6 78.6 119.3 79 117.6 81ZM109 88.2 109.6 88 111 88.4 113 86.8 114.1 85.4 115.5 84.8 116.3 83.7 117 83 117.8 84 119.2 84.7 118 85.2 117.6 86.2 117.8 88 119 89 118 89.1 117.5 90 117.3 91 116.5 91.7 116.2 93.5 114.6 94 113 93.1 111.7 93.1 110.3 92.9 110 91.6 109.2 90.5 109 89.3ZM95.2 84.4 97.5 84.8 98.7 86.3 100.3 87.8 101.5 88.4 103 89.5 103.8 91 104.5 91.9 106 93 105.8 95.8 104.6 95.9 103.5 94.9 102.3 94 101 92.5 100.4 91 99.2 89.7 98.5 88.2 97.2 87 96.1 85.7ZM105.2 96.8 106 96 108 96.3 110.4 96.9 111.5 96.7 112.7 96.9 114.4 97.8 114.6 98.7 112.5 98.3 110 98.1 108 97.8 106.5 97.4 105.4 96.8ZM114.5 98.2 116.7 98.3 116.6 98.9 114.7 98.8ZM116.8 98.5 119 98.2 119.1 98.7 117 99ZM119.8 98.5 122.9 98.1 122.8 98.6 120 98.9ZM123.5 100.3 125 99 127.3 98.3 126.5 98.9 124.5 100ZM119 99.5 120.8 99.8 120.3 100.3 119.1 99.8ZM119.4 95.5 120.4 95.5 120.3 92.9 121 92.6 122.4 94.8 123 94.5 121.8 93 121.3 91.5 123.3 90.9 121.7 90.8 120.9 91.4 120.2 89.5 121.5 89.5 123 89.1 124.5 88.6 125.2 88.5 124.2 89.6 123 89.6 120.8 88.7 120 89.2 119.7 90.5 119.3 91.5 118.8 92.8 119 93.5 119.6 94.3ZM127.6 88.1 128.1 87.8 128 89 128.7 88.7 128.2 89.5 128.9 89.8 127.9 90.5 127.5 89.2ZM128 93 130 92.8 130.9 93.4 129.5 93.5 128.2 93.6ZM126 93.2 127.2 93.2 127.2 93.8 126.2 93.8ZM131 91.3 132.5 90.4 134 90.9 135 93.3 137.5 91.5 139 92 141 92.6 144.5 93.8 146 95.5 147.5 96.2 148 98 150 100 150.5 100.6 148.5 100.3 147 99.5 146 98.2 144 97.6 143.3 99 142 99.2 140.5 99 139 98.1 138 98.4 137.7 95.4 135.5 94.4 134 93.5 132.8 94 132 92.8 133.5 92.4 132 92 131 91.5ZM148.5 95.5 150.5 95.5 152 94.2 152.4 95 150.5 96.3 148.4 96ZM150.5 92.6 152 93.2 153.2 94.6 152.8 94.8 151.5 93.5ZM154.6 95 155.9 96.5 155.4 96.8 154.6 95.6ZM156.5 97 158.9 98.2 158.5 98.6 157 97.6ZM159.5 99.2 160.8 99.5 160.6 99.9 159.6 99.6ZM160.5 98.3 161.5 99.5 161.2 99.7 160.6 98.8ZM161.3 100.2 162.3 100.7 162.1 100.9 161.3 100.5ZM166.5 105 167.2 105.5 167.5 106.5 168.5 107.8 168.2 107.9 166.9 105.8ZM164 110.2 165 110.7 167 112.2 166.5 112.4 164.5 111.1ZM177.3 107.5 178.6 107.4 178.5 108.2 177.3 108.1ZM178.8 106.2 180 106.3 180.1 106.8 178.9 106.7ZM79.8 80.2 80.8 80.7 81.8 82.5 81.6 83.7 80.6 84.1 80 83.2 79.8 81.5ZM113.5 112 113.8 114.5 114 116 115 120 115 123.5 116 125 118 125 121.5 123.8 124 123 126 122.3 129 121.6 131 121.5 134 122.5 135.5 124.8 136.5 124 137.8 122.8 137.8 124.5 137 125.7 138.5 125.6 139.5 126.5 140 127.5 143 128.7 145 128.3 146.5 129 148 127.8 150 127.3 151 124 152.5 122 153.5 118 153 115 151 113 149 110.5 146 108.5 145.3 105 143.5 104 142.5 100.7 141.5 103 141.5 106 140 107.7 137 106 135.5 104.5 136.5 102 133 101.5 131 102.2 129.5 104.8 127.5 104 125 105 123 106.5 122 108 120 110 117 110.7 114.5 111.8ZM144.7 130.7 148.3 130.9 148 133 146.5 133.6 145.2 132.2ZM172.7 124.4 174.5 126 175.8 127.5 178.5 127.7 177 129.2 176.5 130.5 175.2 131.6 174.6 131.2 174.8 129.8 173.8 129.3 174.6 128 174 126.5ZM172.7 130.5 174.3 131.5 173.5 133 172.7 133.8 171 135 169 136.6 166.5 136 167 135 168.5 134 171 132.5 172 131ZM192 24.4 194 23.8 196 23.4 197.5 23.1 196 22.2 194 21.1 197 20.3 203.2 18.7 208 19.2 212 19.7 219 20.3 224 21 226 20.5 230 20 235 20.5 240 21 245 22.2 250 22 255 22 262 22.2 265 21 266 18 268 20 270 21.5 274 23 275 20.5 278 21 279 23 276 24 273 25.5 270 27 266 29 265.2 31.2 268 33 272 34 277.7 35 278 37.5 280 38.7 281 35.5 283 33.5 283 30 282 27.6 287 28 290 29 290.5 31 294 31.2 295.5 29.7 298 33 300 35 303 38 304 38.5 300 39.8 294 39.8 290 43 295 41.5 295.8 41.1 295 44 299 44.5 300 44 297 45.5 294 46.3 293 45.3 290 46.5 290 48.3 288 49 286 49.5 286 50.5 284.5 51.5 284 53 284.5 54.7 283 55.5 281 57 279 58.5 278.7 60 280 63 279.6 64.8 278.3 64.1 277.3 62 277 60.7 275.5 60 274 59.6 271 59.7 271 61 270 60.9 267 60.3 265 60.7 262.7 62.4 262.5 65 262.3 68 263 70 264 71 265.5 71.8 268 71.4 269.5 69.5 270 68.8 272.9 68.5 272.5 70.5 271.7 71.5 271.8 74 274 74.2 276 74.7 276.7 75.1 276.4 79 278 80.5 280.5 80.6 282.5 81.3 284 80.7 284.5 79.5 286 78.8 288.5 77.6 288.2 79 290 78.5 292 79.5 296 79.4 298 79.4 299 81.5 302 83.2 305 84 308 85 309 86 310 88.2 310 90 312 91 316 92.5 319 92.9 321.5 93.7 324.8 95.5 325.2 97.5 324.8 99 323 101 321.5 103 321 105 320.8 107.7 320 110 319 112 317 113 315 113.7 312.2 115 311.4 118 310 121 308 122.5 306.6 123.7 305.1 124.9 303.5 124.8 301.5 124.4 302.5 126.3 303 128 300 128.8 297.7 128.8 297.8 130.5 295 131 296 132.5 295 134 292.5 136 294 137.5 292 140 291 141.5 291.5 142.5 293.5 145 291.5 145.3 289 144 285.5 142.5 284.5 140 285 137 286 134 286.5 132 286.5 128 288 125 288.5 123 288.4 120 289.5 116 289.8 110 289.7 108.4 288 107 285 105.5 283.7 103.5 283 102 281 98 278.8 96 278.7 94.5 280 93 279.5 92 280 90 281 88.5 282.5 86 282.7 83 282 82 280.5 81.1 279.5 82.7 278 81.8 274.3 80 272.5 77.3 271 76.5 268 75.5 266 74 263.5 74.3 260 73.1 256 71.2 254.5 69.5 254.8 68.1 254 67 251 64.4 249.5 62.5 247.5 60.5 245.5 58.5 246 60 247.5 62 249 64.5 250.5 67 250 67.1 248 65.4 246 63 245 60.5 243 57.5 241.5 56 239.4 55.4 237.5 52.3 236 49.6 235.6 47 236 43.8 235.3 41.6 237 41 235 40 232 38.5 230 35.5 227 33 224 31.5 220 30.2 216 30 213 29.2 210 30.5 208.5 30.7 210 28.7 207 31 204 32.5 200 34.3 197 35.2 195.5 35.6 199 34 202 32.5 203 31.3 198 31.3 195.5 29.5 194.5 28 195.3 27 199 25.6 199 25.2 194 25.4ZM267.9 43.3 270 43.4 272.5 43.5 275 43.3 275.4 43.5 275 42.5 273.5 41.3 271.5 41.6 270.5 42 269 42.7ZM272.2 48.3 273.2 48.2 273.8 46.5 273.8 45 275.2 44.2 273.5 44.1 272.4 45.5 272.2 47ZM275.5 44.1 277.5 44.1 280 44.7 278.3 45.5 277.6 47 277.2 46 276.1 46.1 276.7 45.2 275.5 44.5ZM276.6 48.3 278.5 48.5 281 47.2 279.5 47.4 277.5 48ZM280.2 46.7 282 46.7 283.8 46.5 283.6 45.8 281 46.1ZM263 39.6 263.7 39 262.5 37 261.2 36.2 260.7 36.6 262.2 38 262.5 39.4ZM243 29 245 29.1 248 28.7 251 28 249.5 27.2 247 27.7 244.5 28.1 243 28.4ZM235 24.7 237 25 240.5 24.5 242 23.7 240 23 238 23.3 236.5 23.8 235 24.1ZM248.5 31.5 251 31.2 254 30.7 253.8 30.5 251 30.8 248.7 31.1ZM257.5 33.6 258 33.5 258.2 32.2 257.5 32.1ZM287 12 292 9.5 300 8 315 7.5 330 6.5 340 8 348 8.5 342 11 340 14 341 16 338 18 338 19.5 334 21.5 328 22 325 24 322 24.5 320 25.5 318 28 316.5 30 316 30.2 314 29.2 311 28 309 26 307 24 306 22 308 20 305 18.5 304 17 301.5 14.5 298 13.7 292 13.5 288.5 12.5 287 11.7ZM279.5 16.3 283 17.3 286 18 289 19 292 19.6 293 20.7 296 22.5 298.1 23.1 297 24.5 295.2 25.5 295 27 293.5 28 292 27.7 288.5 27 286 25.7 283 25.7 282 25 286 23.5 287 22.5 285 21.5 282 20.5 279 20 275 20 272 19.5 270.5 18.5 273 17 276 16.4ZM241.5 19.2 242.2 17.3 246.5 16.6 250 16.8 254 16.4 255.5 17 258 18.5 259 19.8 258 20.8 254.5 21.1 252 21.4 247 21.6 243 21 241.4 20.4ZM235 18 236.5 18.8 240 18.7 243 18.2 244 17 242.5 15.7 239 15.5 235.5 15.8 234.5 17ZM264 9.5 268 8.6 272 8.2 280 7 290 7 298 7.6 296 8.5 290 9.7 286 10.5 285 11.5 282 12.5 280 13.7 272 13.7 270.5 13 272.5 12 268 11.7 265 10.8ZM263.5 14.4 268 13.5 275 13.5 280 14.5 280 15.4 275 15.5 269 15.4 266 15ZM238 13.5 242 12.7 244.5 13.5 242 14.2 239 14.2ZM242.5 14.7 245 13.7 249 13.2 254 13.7 254.5 14.7 251 15.2 247 15.5 243.5 15.4ZM258.5 14.7 260 13.4 263 13.3 266 14.2 267 15 264 15.4 261.5 15ZM264.5 16.2 269.5 15.9 270 17.2 267.5 18.1 265.5 17.8ZM259 18 259.5 16.2 262.5 16.1 263.5 17.5 261.5 18.5ZM261 21.2 263 20.2 264.5 20.7 263 21.6ZM280 26 277 27.8 273.5 26.3 275 24.2 278 24.5ZM300.6 42.4 304 42.4 306.4 43.4 307.3 42.5 306.5 41.5 304.5 40.5 304.5 38.4 302.7 39.4 301.5 41ZM236.7 41.6 234.5 40.8 231.7 39.2 233 39.3 235.2 40.3ZM275 68.1 277 67.1 279 66.8 281 67.5 283 68.7 284.4 69.3 285.8 69.8 285 70.1 282.3 70.2 282.8 69.4 281.5 68.4 278.2 67.8 277 68 275.1 68.2ZM285.6 71.6 287.2 70.1 290 70.3 291.6 71.4 291 71.7 289 72 287.2 71.9ZM281.7 71.6 283.7 71.8 283.2 72.1 281.8 71.9ZM292.8 71.5 294.4 71.6 294.3 72 292.9 72ZM298.7 141.2 302.3 141.5 301.5 142.2 299.5 142.2ZM322 144 324 144.2 324.2 144.8 322.5 144.5ZM196.3 168.8 200 168.7 200 170 196.5 170.1ZM195 35.1 196.5 35 196.7 35.4 195.2 35.6ZM192.2 36.4 193.8 35.9 194.2 36.2 192.8 36.7ZM190.7 37 192 36.5 192.3 36.7 191 37.2ZM187.5 37.6 188.5 37.5 188.4 37.8ZM183.2 38.1 184.2 38 184 38.3ZM181.5 38.2 182.5 38.1 182.2 38.4ZM177.2 38 178 38.1 177.6 38.3ZM172.5 37.1 173.6 37.1 173.2 37.4ZM205.2 32.7 206.7 32 207.8 32.1 207.2 32.7 206 33.4ZM188.2 26.5 190 26.2 191.3 26.7 189.5 26.9ZM193.2 29.7 194.5 29.5 194.7 30 193.5 30.2ZM281.7 64.9 282.3 65 282.4 65.8 281.9 65.9ZM281 63.3 282.1 63.3 282.1 63.5 281 63.5ZM282.4 63 283 63.5 282.8 64 282.5 63.6ZM283.2 64.5 283.8 64.9 283.9 65.3 283.5 65ZM284 66.2 284.8 66.8 285 67 284.2 66.5ZM286.3 68.8 287 68.7 286.9 69.1 286.4 69.1ZM68.7 138.7 70.5 139 70 139.7 69 139.5ZM204 69.8 205 70.3 204.8 71 204 70.7ZM202.7 68.8 204 69.1 203.5 69.5ZM200.2 67.8 200.7 67.8 200.5 68.1ZM201.7 68.4 202.3 68.5 202 68.8ZM-180 174.5 -168.9 174.7 -163.2 175.3 -146.5 175.3 -154 171.5 -153 171 -145.4 170.6 -157.4 168.1 -158.6 167.2 -154 167.4 -150 166.6 -146 166.1 -140.2 165.2 -134.5 164.4 -127.6 165.8 -123 163.2 -117.3 163.8 -112.8 164.6 -106 163.8 -101 162.4 -95 162.8 -90 163 -85 163.2 -80 162.9 -76 162.5 -73 161.5 -68 160.5 -66 158.5 -65 156.5 -62 154.8 -58.5 153.2 -57 153.5 -59 154.5 -61 156 -62 158 -61.5 160.5 -61 163 -63 165 -67 166.5 -70 167 -60 168 -50 168.6 -42 168.2 -35 167.5 -30 166 -25 164.5 -20 163 -15 162 -10 161.2 -5 160.8 0 161 5 160.5 10 160.3 15 160.2 20 160.2 25 160 30 159.5 33 158.8 36 159.3 40 158.6 45 157.8 50 156.6 55 156.2 58 156.8 62 157.2 66 157.6 69 158.3 70 160.5 71 159.8 73 159.5 76 159 80 157.8 85 156.8 90 156.5 95 156.2 100 156 105 156 110 156 115 156.2 120 156.3 125 156 130 156.1 135 156 138 156.3 142 156.9 147 158 152 158.6 157 159.8 161 160.4 166 160.8 170 161.4 169 162.5 166 164 163 165 162 167 163 168.5 160.5 169.8 165 170.5 170 171.5 175 172.5 180 174.3 180 180 -180 180ZM180 174.5 191.1 174.7 196.8 175.3 213.5 175.3 206 171.5 207 171 214.6 170.6 202.6 168.1 201.4 167.2 206 167.4 210 166.6 214 166.1 219.8 165.2 225.5 164.4 232.4 165.8 237 163.2 242.7 163.8 247.2 164.6 254 163.8 259 162.4 265 162.8 270 163 275 163.2 280 162.9 284 162.5 287 161.5 292 160.5 294 158.5 295 156.5 298 154.8 301.5 153.2 303 153.5 301 154.5 299 156 298 158 298.5 160.5 299 163 297 165 293 166.5 290 167 300 168 310 168.6 318 168.2 325 167.5 330 166 335 164.5 340 163 345 162 350 161.2 355 160.8 360 161 365 160.5 370 160.3 375 160.2 380 160.2 385 160 390 159.5 393 158.8 396 159.3 400 158.6 405 157.8 410 156.6 415 156.2 418 156.8 422 157.2 426 157.6 429 158.3 430 160.5 431 159.8 433 159.5 436 159 440 157.8 445 156.8 450 156.5 455 156.2 460 156 465 156 470 156 475 156.2 480 156.3 485 156 490 156.1 495 156 498 156.3 502 156.9 507 158 512 158.6 517 159.8 521 160.4 526 160.8 530 161.4 529 162.5 526 164 523 165 522 167 523 168.5 520.5 169.8 525 170.5 530 171.5 535 172.5 540 174.3 540 180 180 180Z" fill="#d3d3d3" fill-rule="evenodd"/>
<path d="M-5.6 54 -6.3 53.5 -7 52.8 -7.9 53 -8.9 53 -8.8 51.7 -9.5 51.3 -9 50.5 -8.9 49.5 -8.8 48.2 -9.3 47 -8.2 46.3 -6 46.4 -4 46.6 -1.8 46.6 -1.3 45.7 -1.2 44.2 -2.2 42.9 -4.4 42.2 -4.8 41.6 -3.5 41.2 -1.6 41.3 -1.9 40.3 -1.2 40.6 0.2 40.5 1.5 39.8 1.6 39.1 2.5 38.9 3.4 38.6 4 38.1 4.6 37.5 4.8 37 5.6 36.6 7 36.5 8 36.4 8.6 36.1 8.9 35.5 8.6 34.5 8.1 34.4 8.2 33.2 9.5 32.9 10.6 32.3 10.4 32.8 10.3 33.5 10.9 33.7 10.2 34.2 9.8 35 10 35.5 11 36 12.5 35.6 13.6 35.7 14.3 36.1 16 35.7 17.8 35.2 18.6 35.5 19.6 35.6 20 35.1 21.2 34.8 21.1 33.9 21.1 33.1 21.6 32.6 22.6 32.3 23.2 33 24.2 32.8 24.4 31.7 23.5 31.4 23.5 30.8 25 30.5 28 30.5 29.5 30.1 30.2 30.1 29 29.8 27 29.5 25 29.8 23 30.1 22 29.8 21.4 29.3 21.5 28.3 21.3 27.5 22.5 26.5 24.5 25.4 25.4 24.8 24.5 24.2 22.5 24.2 21.2 25.1 20.5 26 19 26.5 17.8 27.4 17.3 28.2 17.2 29.2 18.3 29.7 19 30.2 18.3 31 17 31.3 16.5 32.5 16.2 33.4 15.8 33.9 14.7 33.8 14.2 34.6 12.9 34.6 12.5 33.7 12 32.7 11.9 32.3 11.2 31.2 10.7 30.5 10.2 31 9 31.4 8 31.9 7 32 5.6 31.3 5.3 30.5 5 29.5 5 28.5 5.3 27.8 6.5 27.3 8 26.8 9.8 26.4 10.6 25.6 12.2 24.5 13 23.8 14 22.5 15.5 21.5 16.5 20.8 18.5 20.2 20 20 22.5 19.5 25.7 18.9 27.5 19 29 19.3 31 19.7 30 20.2 33 20.6 36 20.9 39 21.6 40.5 22.3 41.2 23.2 40 23.7 38 23.9 35 23.7 33 23.3 34.5 25.2 36.5 25.8 38 26 40.5 25.5 42 24 44 23.8 44.2 22.5 43.5 21.5 46 22 48 22.3 53 21.6 54.5 21.7 58 21.1 60.5 20.1 64 20.7 67 21.1 68.5 21.8 66.8 20.5 67.5 19 68.6 17.4 69.5 17 72 17.2 72.8 18 72 19 72.5 21 73.5 23.5 75 23 75 21.5 73.5 21 73.8 19.5 74 18.5 76.5 18.7 78 17.8 80.5 16.5 84 16.4 86.5 16.1 87 15 94 14 98 13.7 104 12.3 107 13 113 14 114 15.5 113 16.5 118.5 16.7 123 17 126 16.5 129 17.5 131 19 135 18.4 139 18.5 140 17.5 145 17.7 150 18.6 152 19.2 157 19 160 19.8 163 20.3 167 20.4 170 20 174 20.2 178 20.7 180 21.1 184 22.5 187 23.5 190.3 24 188.5 24.7 186.5 25.7 184 25.2 181 24.6 179 25.3 177.5 25.3 178.5 26.5 179.5 27.5 177 27.5 174 28.2 171 29.5 169 29.5 166 30 164 30.1 163 31.5 163.5 33.5 162 34.5 161.8 35.5 160 36.8 158.5 37.2 156.7 39 156 37 155.6 34.5 156.5 32.5 158 32 160 30.5 161.5 29.7 163 28.5 162 28.2 160 29 156.5 28.5 154 30.5 151 30.8 148 30.7 145 30.7 142.5 30.8 140.5 32.2 138 33.5 137 35.5 138.5 36 140.5 36.5 141.5 37.7 140.7 39.5 140.5 41.5 138.5 43.2 137 44.5 135.5 46 133 47.2 131.5 46.9 130.7 47.7 129.7 49.2 128 50.2 127.5 50.8 128.4 51.5 129.4 53 129.4 54.5 128.5 55 127 55.4 126.3 55.4 126.5 54 126.5 52.5 125.5 52.2 124.8 51.5 125.2 50.5 124.3 50.1 122.3 50.6 121.3 51.2 121.7 50.5 122.2 49.5 121 49.1 119.5 50.1 118 50.8 117.7 51.6 118.5 52.4 119.3 52.9 120.7 52.2 122.5 52.6 122.5 53.1 120.8 53.6 119.5 54.8 120.3 55.7 120.8 57.4 121.8 58.3 121.9 59.1 121 59.7 122 60.2 121.5 61.5 120.6 62.5 119.7 63.7 119 64.7 118 65.5 116.8 66.7 115.5 67.2 114.2 67.7 113.5 67.8 112 68.2 110.5 68.8 110.2 69.7 109.8 68.6 108.5 68.4 107.2 69.1 106.6 69.8 105.8 71 106.5 72.2 107.3 73.4 108.3 74.4 109 76 109.3 77.8 109 78.8 107.5 79.5 106.6 80.2 105.1 81.4 104.8 80.2 104.4 79.6 103.1 79 102.5 77.8 100.9 77.2 100.1 76.5 99.9 77.5 99.2 79.6 99.9 80.8 100.4 82.6 101.2 83.1 102.2 83.8 103.1 84.7 103.5 85.8 103.4 87.1 104.2 88.5 103.5 88.7 102.6 88 101.3 87.1 100.7 86.1 100.4 85 100.2 83.5 99.5 82.7 98.4 82 98.5 80.5 98.7 79 98.5 77 97.8 75.2 97.6 73.5 96.5 73.5 95.3 74.2 94.3 74 94.5 72.5 94 71 93 70.1 92.3 69.3 92 68.4 91.5 67.5 90.5 68 89 68.3 87.5 68.4 86.8 69.5 85.2 70.5 84 71.7 82.3 73.4 81.2 74.1 80.1 76 80.3 76.9 79.8 78.5 79.8 79.7 78.9 80.7 78.1 81.5 77.5 81.9 76.6 81.1 76.1 79.5 75.4 78.2 74.7 76.5 74 74.8 73.3 73 72.8 71 72.8 69.5 72.6 68.5 72.3 67.7 71.5 68.8 70.7 69.2 69.5 68.2 69 67.6 70 67.3 69.5 67 68.5 66.7 67.5 66.2 66.8 65.1 65.5 64.7 63.5 64.8 61.6 64.8 60 64.6 58.5 64.4 57.3 64.1 57 63 56.2 62.8 55 63.4 53.5 63.1 52 62.2 51 61.2 50.4 60.2 49.5 60 48.5 60.1 48.2 60.7 48.7 62 49.5 63 50.2 63.7 50.8 64.5 51.3 63.9 51.6 64.7 51.4 65.6 52.5 65.8 54.2 65.7 55.5 64.7 56.1 63.8 56.4 64.5 56.4 65.5 57.5 66.2 58.7 66.5 59.8 67.5 59.3 68.6 58.5 69.6 57.8 70.2 57.7 71.1 56.6 71.7 55.4 72.4 55 73 53 73.4 52.2 74.4 50 75 48.5 76 46.5 76.6 45 77.2 43.5 77.4 43.2 76.7 42.8 75 42.6 73.5 41.7 72.2 40.8 70.5 39.6 69.2 39.1 68 38.5 66.3 37.5 65.5 36.5 64 35.5 62.5 34.8 61.7 35 60.5 34.6 61.5 34.3 62.2 33.6 61.5 32.6 60.1 32.3 58.7 34.2 58.7 34.9 57.5 35.1 56.9 35.5 56.1 35.9 55.4 35.8 54.2 36.2 53.4 35.5 53.4 34.6 53.2 33.6 53.8 32.5 53.9 31 53.2 30.4 53.8 29.2 53.5 28 53.2 27.3 52.7 27 52 26.5 51.5 26.8 50.7 26.2 50.2 26.7 49.6 26.2 49.4 25.5 49.2 24 49.2 23 49.6 22.6 49.5 22.6 50.5 23.2 51 24 51.8 23.2 52.1 23 53.5 22.4 53.5 21.7 53.2 21.6 52.4 21.1 51.7 20.8 51 20.1 50.4 19.4 49.7 19.5 49 19.4 48.2 18.5 47.5 17.5 47 16 46.5 15.2 45.8 14.3 44.8 13.6 44.9 13.7 44.4 12.3 44.7 12.3 45.5 12.6 46 13.6 46.5 14.7 47.9 16 48.5 17.2 49.1 18.5 49.9 17.9 50 17 49.5 16.5 50.3 17.1 51 16.5 51.5 16 52.1 15.6 51.8 15.8 51.1 15.6 50 14.6 49.4 14 49.1 13 48.7 12.2 48.2 11.2 47.6 10.5 47 10.2 46.1 8.8 45.6 7.8 46.2 6.6 46.8 5.3 46.7 4.2 46.5 3 46.8 3.2 48 2.2 48.7 0.9 49 0 50.1 -0.3 50.6 0.2 51.2 -0.5 51.8 -0.7 52.4 -1.6 53 -2.2 53.3 -3.5 53.3 -4.5 53.4 -5.3 53.9ZM354.4 54 353.7 53.5 353 52.8 352.1 53 351.1 53 351.2 51.7 350.5 51.3 351 50.5 351.1 49.5 351.2 48.2 350.7 47 351.8 46.3 354 46.4 356 46.6 358.2 46.6 358.7 45.7 358.8 44.2 357.8 42.9 355.6 42.2 355.2 41.6 356.5 41.2 358.4 41.3 358.1 40.3 358.8 40.6 360.2 40.5 361.5 39.8 361.6 39.1 362.5 38.9 363.4 38.6 364 38.1 364.6 37.5 364.8 37 365.6 36.6 367 36.5 368 36.4 368.6 36.1 368.9 35.5 368.6 34.5 368.1 34.4 368.2 33.2 369.5 32.9 370.6 32.3 370.4 32.8 370.3 33.5 370.9 33.7 370.2 34.2 369.8 35 370 35.5 371 36 372.5 35.6 373.6 35.7 374.3 36.1 376 35.7 377.8 35.2 378.6 35.5 379.6 35.6 380 35.1 381.2 34.8 381.1 33.9 381.1 33.1 381.6 32.6 382.6 32.3 383.2 33 384.2 32.8 384.4 31.7 383.5 31.4 383.5 30.8 385 30.5 388 30.5 389.5 30.1 390.2 30.1 389 29.8 387 29.5 385 29.8 383 30.1 382 29.8 381.4 29.3 381.5 28.3 381.3 27.5 382.5 26.5 384.5 25.4 385.4 24.8 384.5 24.2 382.5 24.2 381.2 25.1 380.5 26 379 26.5 377.8 27.4 377.3 28.2 377.2 29.2 378.3 29.7 379 30.2 378.3 31 377 31.3 376.5 32.5 376.2 33.4 375.8 33.9 374.7 33.8 374.2 34.6 372.9 34.6 372.5 33.7 372 32.7 371.9 32.3 371.2 31.2 370.7 30.5 370.2 31 369 31.4 368 31.9 367 32 365.6 31.3 365.3 30.5 365 29.5 365 28.5 365.3 27.8 366.5 27.3 368 26.8 369.8 26.4 370.6 25.6 372.2 24.5 373 23.8 374 22.5 375.5 21.5 376.5 20.8 378.5 20.2 380 20 382.5 19.5 385.7 18.9 387.5 19 389 19.3 391 19.7 390 20.2 393 20.6 396 20.9 399 21.6 400.5 22.3 401.2 23.2 400 23.7 398 23.9 395 23.7 393 23.3 394.5 25.2 396.5 25.8 398 26 400.5 25.5 402 24 404 23.8 404.2 22.5 403.5 21.5 406 22 408 22.3 413 21.6 414.5 21.7 418 21.1 420.5 20.1 424 20.7 427 21.1 428.5 21.8 426.8 20.5 427.5 19 428.6 17.4 429.5 17 432 17.2 432.8 18 432 19 432.5 21 433.5 23.5 435 23 435 21.5 433.5 21 433.8 19.5 434 18.5 436.5 18.7 438 17.8 440.5 16.5 444 16.4 446.5 16.1 447 15 454 14 458 13.7 464 12.3 467 13 473 14 474 15.5 473 16.5 478.5 16.7 483 17 486 16.5 489 17.5 491 19 495 18.4 499 18.5 500 17.5 505 17.7 510 18.6 512 19.2 517 19 520 19.8 523 20.3 527 20.4 530 20 534 20.2 538 20.7 540 21.1 544 22.5 547 23.5 550.3 24 548.5 24.7 546.5 25.7 544 25.2 541 24.6 539 25.3 537.5 25.3 538.5 26.5 539.5 27.5 537 27.5 534 28.2 531 29.5 529 29.5 526 30 524 30.1 523 31.5 523.5 33.5 522 34.5 521.8 35.5 520 36.8 518.5 37.2 516.7 39 516 37 515.6 34.5 516.5 32.5 518 32 520 30.5 521.5 29.7 523 28.5 522 28.2 520 29 516.5 28.5 514 30.5 511 30.8 508 30.7 505 30.7 502.5 30.8 500.5 32.2 498 33.5 497 35.5 498.5 36 500.5 36.5 501.5 37.7 500.7 39.5 500.5 41.5 498.5 43.2 497 44.5 495.5 46 493 47.2 491.5 46.9 490.7 47.7 489.7 49.2 488 50.2 487.5 50.8 488.4 51.5 489.4 53 489.4 54.5 488.5 55 487 55.4 486.3 55.4 486.5 54 486.5 52.5 485.5 52.2 484.8 51.5 485.2 50.5 484.3 50.1 482.3 50.6 481.3 51.2 481.7 50.5 482.2 49.5 481 49.1 479.5 50.1 478 50.8 477.7 51.6 478.5 52.4 479.3 52.9 480.7 52.2 482.5 52.6 482.5 53.1 480.8 53.6 479.5 54.8 480.3 55.7 480.8 57.4 481.8 58.3 481.9 59.1 481 59.7 482 60.2 481.5 61.5 480.6 62.5 479.7 63.7 479 64.7 478 65.5 476.8 66.7 475.5 67.2 474.2 67.7 473.5 67.8 472 68.2 470.5 68.8 470.2 69.7 469.8 68.6 468.5 68.4 467.2 69.1 466.6 69.8 465.8 71 466.5 72.2 467.3 73.4 468.3 74.4 469 76 469.3 77.8 469 78.8 467.5 79.5 466.6 80.2 465.1 81.4 464.8 80.2 464.4 79.6 463.1 79 462.5 77.8 460.9 77.2 460.1 76.5 459.9 77.5 459.2 79.6 459.9 80.8 460.4 82.6 461.2 83.1 462.2 83.8 463.1 84.7 463.5 85.8 463.4 87.1 464.2 88.5 463.5 88.7 462.6 88 461.3 87.1 460.7 86.1 460.4 85 460.2 83.5 459.5 82.7 458.4 82 458.5 80.5 458.7 79 458.5 77 457.8 75.2 457.6 73.5 456.5 73.5 455.3 74.2 454.3 74 454.5 72.5 454 71 453 70.1 452.3 69.3 452 68.4 451.5 67.5 450.5 68 449 68.3 447.5 68.4 446.8 69.5 445.2 70.5 444 71.7 442.3 73.4 441.2 74.1 440.1 76 440.3 76.9 439.8 78.5 439.8 79.7 438.9 80.7 438.1 81.5 437.5 81.9 436.6 81.1 436.1 79.5 435.4 78.2 434.7 76.5 434 74.8 433.3 73 432.8 71 432.8 69.5 432.6 68.5 432.3 67.7 431.5 68.8 430.7 69.2 429.5 68.2 429 67.6 430 67.3 429.5 67 428.5 66.7 427.5 66.2 426.8 65.1 425.5 64.7 423.5 64.8 421.6 64.8 420 64.6 418.5 64.4 417.3 64.1 417 63 416.2 62.8 415 63.4 413.5 63.1 412 62.2 411 61.2 410.4 60.2 409.5 60 408.5 60.1 408.2 60.7 408.7 62 409.5 63 410.2 63.7 410.8 64.5 411.3 63.9 411.6 64.7 411.4 65.6 412.5 65.8 414.2 65.7 415.5 64.7 416.1 63.8 416.4 64.5 416.4 65.5 417.5 66.2 418.7 66.5 419.8 67.5 419.3 68.6 418.5 69.6 417.8 70.2 417.7 71.1 416.6 71.7 415.4 72.4 415 73 413 73.4 412.2 74.4 410 75 408.5 76 406.5 76.6 405 77.2 403.5 77.4 403.2 76.7 402.8 75 402.6 73.5 401.7 72.2 400.8 70.5 399.6 69.2 399.1 68 398.5 66.3 397.5 65.5 396.5 64 395.5 62.5 394.8 61.7 395 60.5 394.6 61.5 394.3 62.2 393.6 61.5 392.6 60.1 392.3 58.7 394.2 58.7 394.9 57.5 395.1 56.9 395.5 56.1 395.9 55.4 395.8 54.2 396.2 53.4 395.5 53.4 394.6 53.2 393.6 53.8 392.5 53.9 391 53.2 390.4 53.8 389.2 53.5 388 53.2 387.3 52.7 387 52 386.5 51.5 386.8 50.7 386.2 50.2 386.7 49.6 386.2 49.4 385.5 49.2 384 49.2 383 49.6 382.6 49.5 382.6 50.5 383.2 51 384 51.8 383.2 52.1 383 53.5 382.4 53.5 381.7 53.2 381.6 52.4 381.1 51.7 380.8 51 380.1 50.4 379.4 49.7 379.5 49 379.4 48.2 378.5 47.5 377.5 47 376 46.5 375.2 45.8 374.3 44.8 373.6 44.9 373.7 44.4 372.3 44.7 372.3 45.5 372.6 46 373.6 46.5 374.7 47.9 376 48.5 377.2 49.1 378.5 49.9 377.9 50 377 49.5 376.5 50.3 377.1 51 376.5 51.5 376 52.1 375.6 51.8 375.8 51.1 375.6 50 374.6 49.4 374 49.1 373 48.7 372.2 48.2 371.2 47.6 370.5 47 370.2 46.1 368.8 45.6 367.8 46.2 366.6 46.8 365.3 46.7 364.2 46.5 363 46.8 363.2 48 362.2 48.7 360.9 49 360 50.1 359.7 50.6 360.2 51.2 359.5 51.8 359.3 52.4 358.4 53 357.8 53.3 356.5 53.3 355.5 53.4 354.7 53.9ZM28 48.7 29 48.8 31 48.9 33 48.1 35 48 36.5 48.7 38.5 49.1 40 49 41.5 48.5 41.7 47.5 40 46.6 38.5 45.7 37.5 45.2 36.6 44.8 35.5 44.9 34.5 45.4 33.5 45.5 32.6 44.6 33.6 44.1 32 43.8 31 43.4 30.2 44.2 29.7 44.8 28.7 45.7 28 46.7 27.9 47.8ZM35.2 44.6 36.6 44.6 38.5 43.5 39.3 42.8 37.5 42.9 35.5 43.5ZM49 43.5 51 43 53 43.2 53.2 44.7 51.3 45.5 50.8 45.8 51.5 46.8 52.7 48 53 49 53.9 50 53.2 50.8 53.9 52.5 53.5 53.1 51.5 53.2 50 52.6 49 51.9 48.9 51.2 49.3 50.6 49.6 49.7 50.3 49.5 49.5 49 48.6 48.2 47.5 47 47.6 45.9 46.7 45.4 47.3 44.5 48 43.7ZM58.3 43.5 60 43.3 61.3 43.7 61.5 45 60.5 46 59 45.8 58.3 44.5ZM73.5 43.8 75 43.4 77 43.6 79 43.4 79.2 43.8 77 44.1 75 44.4 73.6 44.4ZM103.7 38.4 105 38.4 107 37.4 109 36 109.8 34.4 109.3 34.4 108 35.8 106.5 37 104.5 38ZM30 30 31.5 29.8 32.8 29.2 32.5 28.6 31 28.3 30 28.8ZM34.5 29 36 28.8 36.2 27.8 35.3 27.1 34.5 27.6ZM-5.9 54.2 -5.3 54.1 -4.3 54.8 -2.9 54.7 -2 54.9 -1.2 54.3 0 54.1 1.5 53.5 3 53.2 5 53.2 6.5 52.9 8 53.1 9.8 52.7 10.3 53.1 11 52.9 10.5 53.6 11.1 54.4 10.6 55.2 10.1 55.8 10.6 56.3 11.2 56.8 12.5 57.2 13.5 57.1 15.2 57.7 15.7 58.5 17.5 59 19 59.7 20 59.2 20.1 57.8 21.5 57.1 23 57.4 23.2 57.8 25 58.3 27 58.6 29 59.1 30.2 58.5 31.5 58.5 32.3 58.7 32.6 60.1 32.7 61 33.5 62.5 34.3 64 35.5 66 35.8 67.2 36.9 68.5 37.2 70 37.4 71.2 38.5 72 39.2 74 40 74.5 41.2 75.6 42.4 77 43.3 77.5 43.4 78.4 42.8 78.5 44 79.6 45 79.5 46.5 79.2 48 78.8 49.5 78.6 51.2 78.2 51.1 79.5 50.7 80.5 50 82 49.3 83.5 48.5 85 47.5 86.2 46 87.7 44.5 88.5 43 89.7 42 90.7 41 91.8 40.2 92.7 39.7 93.8 39.2 94.7 38.8 96.5 39.4 97.3 39.3 98.5 39.8 100 40.4 100.5 40.5 102.5 40.6 104.5 40.5 105.5 39.2 106.8 37.5 107.8 36.3 109 34.8 109.8 35.2 111.5 35.5 112.5 35.5 114 34.5 114.8 33 115.5 32.6 116.5 32.6 118 32 119 31 120 30 121.3 28.5 122.5 27 123.6 25.7 124 24 124.1 22.5 124 20 124.8 18.8 124.4 18.4 124.2 18.4 123.5 18 122.6 18.2 121.8 17.3 120 16.5 118.6 15.5 117.5 15 116 14.5 114 14.4 112.5 13.5 111 12.5 109 11.8 107.3 11.8 106 12.2 104.5 12.8 103 13.7 101.5 13.2 99.5 13.2 98.5 12.3 96.1 12.2 95.5 11.8 94.6 11 93.8 9.6 92.5 9 91 9.3 89.5 9.5 88.5 9.8 87.2 9.6 86.2 8.8 85.6 8 85.6 7 85.6 6 85.7 5.5 85.1 4.8 84 3.5 83.6 2 83.7 1 84 -0.5 84.6 -2 85.2 -3.5 84.9 -5 84.9 -7.5 85.6 -8.5 85.2 -10 84 -11.5 83.1 -12.5 82.6 -13.2 81.5 -13.5 80.5 -14.5 79.5 -15.2 79 -16.5 78 -16.8 76.8 -17.1 75.6 -17.5 75.3 -16.8 74.5 -16.4 73 -16.1 71.5 -16.5 70.5 -17 69.2 -16.9 68 -16 66.3 -15 65 -14.4 63.8 -13.2 62.3 -11.5 61.8 -10.2 61 -9.7 60 -9.8 58.6 -9.2 57.5 -8 56.5 -6.8 56 -6.2 54.8ZM354.1 54.2 354.7 54.1 355.7 54.8 357.1 54.7 358 54.9 358.8 54.3 360 54.1 361.5 53.5 363 53.2 365 53.2 366.5 52.9 368 53.1 369.8 52.7 370.3 53.1 371 52.9 370.5 53.6 371.1 54.4 370.6 55.2 370.1 55.8 370.6 56.3 371.2 56.8 372.5 57.2 373.5 57.1 375.2 57.7 375.7 58.5 377.5 59 379 59.7 380 59.2 380.1 57.8 381.5 57.1 383 57.4 383.2 57.8 385 58.3 387 58.6 389 59.1 390.2 58.5 391.5 58.5 392.3 58.7 392.6 60.1 392.7 61 393.5 62.5 394.3 64 395.5 66 395.8 67.2 396.9 68.5 397.2 70 397.4 71.2 398.5 72 399.2 74 400 74.5 401.2 75.6 402.4 77 403.3 77.5 403.4 78.4 402.8 78.5 404 79.6 405 79.5 406.5 79.2 408 78.8 409.5 78.6 411.2 78.2 411.1 79.5 410.7 80.5 410 82 409.3 83.5 408.5 85 407.5 86.2 406 87.7 404.5 88.5 403 89.7 402 90.7 401 91.8 400.2 92.7 399.7 93.8 399.2 94.7 398.8 96.5 399.4 97.3 399.3 98.5 399.8 100 400.4 100.5 400.5 102.5 400.6 104.5 400.5 105.5 399.2 106.8 397.5 107.8 396.3 109 394.8 109.8 395.2 111.5 395.5 112.5 395.5 114 394.5 114.8 393 115.5 392.6 116.5 392.6 118 392 119 391 120 390 121.3 388.5 122.5 387 123.6 385.7 124 384 124.1 382.5 124 380 124.8 378.8 124.4 378.4 124.2 378.4 123.5 378 122.6 378.2 121.8 377.3 120 376.5 118.6 375.5 117.5 375 116 374.5 114 374.4 112.5 373.5 111 372.5 109 371.8 107.3 371.8 106 372.2 104.5 372.8 103 373.7 101.5 373.2 99.5 373.2 98.5 372.3 96.1 372.2 95.5 371.8 94.6 371 93.8 369.6 92.5 369 91 369.3 89.5 369.5 88.5 369.8 87.2 369.6 86.2 368.8 85.6 368 85.6 367 85.6 366 85.7 365.5 85.1 364.8 84 363.5 83.6 362 83.7 361 84 359.5 84.6 358 85.2 356.5 84.9 355 84.9 352.5 85.6 351.5 85.2 350 84 348.5 83.1 347.5 82.6 346.8 81.5 346.5 80.5 345.5 79.5 344.8 79 343.5 78 343.2 76.8 342.9 75.6 342.5 75.3 343.2 74.5 343.6 73 343.9 71.5 343.5 70.5 343 69.2 343.1 68 344 66.3 345 65 345.6 63.8 346.8 62.3 348.5 61.8 349.8 61 350.3 60 350.2 58.6 350.8 57.5 352 56.5 353.2 56 353.8 54.8ZM31.6 91.5 32 89.7 33.5 89.7 34.1 90.4 33.5 92.3 32 92.7ZM29.2 93.3 29.6 93.3 30.5 96 31 98 30.6 98.8 30.2 97.5 29.4 95.8ZM34 99.5 34.5 99.6 35 101.5 35.3 104 34.9 104.3 34.3 102ZM13.5 77 14.5 76.3 15 76.8 14.3 77.5ZM49.3 102 50.5 105.5 50 107 49.4 108 48 112 47 115 45 115.5 43.7 113.5 43.3 111.5 44.4 109.5 44 107 44.5 106 46.3 105.7 47.5 104.5 48.8 102.5ZM-5.7 40 -3 39.5 1.4 38.8 1.7 37.3 0.2 36.5 -1.5 35 -2 34 -1.8 32.5 -3.5 31.4 -5 31.4 -5.8 32.5 -5.6 33.7 -5 35 -3 35.1 -3.3 36.1 -3 36.7 -4.5 36.7 -4.2 37.5 -5.3 38.2 -3 38.5ZM354.3 40 357 39.5 361.4 38.8 361.7 37.3 360.2 36.5 358.5 35 358 34 358.2 32.5 356.5 31.4 355 31.4 354.2 32.5 354.4 33.7 355 35 357 35.1 356.7 36.1 357 36.7 355.5 36.7 355.8 37.5 354.7 38.2 357 38.5ZM354 38 354 36.2 354.5 35.4 353 34.7 351.5 35.5 350 36.5 349.7 38 350.5 38.5 352 38.3ZM337.5 26 336 24.5 338 23.6 343 23.8 345.5 24 346.5 25 345 25.8 342 26.6 339 26.2ZM12.4 51.9 13.4 51.8 15.6 51.7 15.1 53 14.5 53.3 12.6 52.4ZM8.4 49.1 9.6 48.9 9.7 49.9 9.6 50.8 8.8 51.1 8.4 50.7ZM8.6 48.6 9.4 48.6 9.5 47.2 9.3 47 8.6 47.6ZM23.5 54.7 24.5 54.6 26.3 54.8 25.5 55 24 55ZM32.3 55.2 33 55.4 34 55 34.6 54.3 33 54.6 32.3 54.9ZM11 11.5 12.5 10.2 16 10 18.5 9.7 22 9.6 27 9.8 25 10.7 21 11.4 19 12.7 16 13.5 14 12.5ZM44.5 9.5 48 9.2 51 9.4 48 9.8ZM53 9.5 57 8.8 62 9 65 9.2 60 9.7 55 9.8ZM52.4 19 52.9 17.1 55 15.7 57.1 14.8 61 13.8 66.7 13.1 68.6 13.8 65 14.4 61.9 15.2 58.5 16.2 57.1 16.7 56 18 55.5 19.2 53.5 19.4ZM91 10.2 95 9 100 9 104 10.5 102 11.5 99 11.7 95 11ZM136.7 14.5 140 13.8 145 14.2 150 14.8 147 15.4 142 16.2 138 15.5ZM178.5 18.8 180.5 18.4 183 18.7 181 19.2ZM130.9 56 132.5 55.7 135 55.4 135.2 56.2 136 56.5 136.9 55.7 138 55.4 139 55.2 139.8 55 140.8 54.3 140.6 53.5 141 52.1 141.5 51.6 142 50.5 141.5 49.5 141.4 48.6 140.3 48.8 139.9 50 139.7 51.5 138.5 52.6 137.3 53.2 136.8 52.7 136 54 135.3 54.5 133.3 54.5 132 55 131 55.5ZM129.6 56.7 130.6 56.1 131.8 56.7 131.5 58.5 130.6 59 130.2 58.2 129.8 57.3ZM132.5 56.8 133.2 55.7 134.5 55.8 134.7 56.2 134.2 56.7 133 57.2ZM140 48.5 141.2 48.2 143.2 48 145.5 46.7 145 46 143.5 45.8 141.9 44.5 141.6 45.5 141.3 46.7 140.3 46.8 140 47.5ZM141.9 44 143.3 43.7 142.8 41 144.3 41.2 143 38.5 143.1 37 142.6 35.6 142 35.8 141.4 37 141.7 39 141.5 41.5 141.8 43ZM120.1 67 120.7 68 121 67.5 121.6 66 122 65 121.5 64.7 120.7 65.5ZM108.6 70.8 109.5 71.8 110.5 71.4 111 70.3 110.2 69.9 109.3 70ZM120.6 71.5 122.2 71.5 122.5 73 121.6 74.1 121.8 75.8 124 77 123 76.2 122.6 76 121 76.2 120.6 75.5 120 74 120.3 73.5ZM122 83 123.5 82.2 124.2 81.7 125.5 80.2 126.6 82.7 125.8 84 125.3 84.3 124 83.4 122.4 82.5ZM124.3 77.5 125.7 77.7 125.6 79.1 124.8 80 124.3 79ZM121.9 78.2 123.1 78.5 122.9 79.5 122 79.5ZM122.4 79.2 123.4 79.1 123.5 80.5 122.9 80.9ZM120.4 76.5 121.4 76.8 121.3 77.7 120.6 77.5ZM117.2 81.6 118 81.1 119.6 78.6 119.3 79 117.6 81ZM109 88.2 109.6 88 111 88.4 113 86.8 114.1 85.4 115.5 84.8 116.3 83.7 117 83 117.8 84 119.2 84.7 118 85.2 117.6 86.2 117.8 88 119 89 118 89.1 117.5 90 117.3 91 116.5 91.7 116.2 93.5 114.6 94 113 93.1 111.7 93.1 110.3 92.9 110 91.6 109.2 90.5 109 89.3ZM95.2 84.4 97.5 84.8 98.7 86.3 100.3 87.8 101.5 88.4 103 89.5 103.8 91 104.5 91.9 106 93 105.8 95.8 104.6 95.9 103.5 94.9 102.3 94 101 92.5 100.4 91 99.2 89.7 98.5 88.2 97.2 87 96.1 85.7ZM105.2 96.8 106 96 108 96.3 110.4 96.9 111.5 96.7 112.7 96.9 114.4 97.8 114.6 98.7 112.5 98.3 110 98.1 108 97.8 106.5 97.4 105.4 96.8ZM114.5 98.2 116.7 98.3 116.6 98.9 114.7 98.8ZM116.8 98.5 119 98.2 119.1 98.7 117 99ZM119.8 98.5 122.9 98.1 122.8 98.6 120 98.9ZM123.5 100.3 125 99 127.3 98.3 126.5 98.9 124.5 100ZM119 99.5 120.8 99.8 120.3 100.3 119.1 99.8ZM119.4 95.5 120.4 95.5 120.3 92.9 121 92.6 122.4 94.8 123 94.5 121.8 93 121.3 91.5 123.3 90.9 121.7 90.8 120.9 91.4 120.2 89.5 121.5 89.5 123 89.1 124.5 88.6 125.2 88.5 124.2 89.6 123 89.6 120.8 88.7 120 89.2 119.7 90.5 119.3 91.5 118.8 92.8 119 93.5 119.6 94.3ZM127.6 88.1 128.1 87.8 128 89 128.7 88.7 128.2 89.5 128.9 89.8 127.9 90.5 127.5 89.2ZM128 93 130 92.8 130.9 93.4 129.5 93.5 128.2 93.6ZM126 93.2 127.2 93.2 127.2 93.8 126.2 93.8ZM131 91.3 132.5 90.4 134 90.9 135 93.3 137.5 91.5 139 92 141 92.6 144.5 93.8 146 95.5 147.5 96.2 148 98 150 100 150.5 100.6 148.5 100.3 147 99.5 146 98.2 144 97.6 143.3 99 142 99.2 140.5 99 139 98.1 138 98.4 137.7 95.4 135.5 94.4 134 93.5 132.8 94 132 92.8 133.5 92.4 132 92 131 91.5ZM148.5 95.5 150.5 95.5 152 94.2 152.4 95 150.5 96.3 148.4 96ZM150.5 92.6 152 93.2 153.2 94.6 152.8 94.8 151.5 93.5ZM154.6 95 155.9 96.5 155.4 96.8 154.6 95.6ZM156.5 97 158.9 98.2 158.5 98.6 157 97.6ZM159.5 99.2 160.8 99.5 160.6 99.9 159.6 99.6ZM160.5 98.3 161.5 99.5 161.2 99.7 160.6 98.8ZM161.3 100.2 162.3 100.7 162.1 100.9 161.3 100.5ZM166.5 105 167.2 105.5 167.5 106.5 168.5 107.8 168.2 107.9 166.9 105.8ZM164 110.2 165 110.7 167 112.2 166.5 112.4 164.5 111.1ZM177.3 107.5 178.6 107.4 178.5 108.2 177.3 108.1ZM178.8 106.2 180 106.3 180.1 106.8 178.9 106.7ZM79.8 80.2 80.8 80.7 81.8 82.5 81.6 83.7 80.6 84.1 80 83.2 79.8 81.5ZM113.5 112 113.8 114.5 114 116 115 120 115 123.5 116 125 118 125 121.5 123.8 124 123 126 122.3 129 121.6 131 121.5 134 122.5 135.5 124.8 136.5 124 137.8 122.8 137.8 124.5 137 125.7 138.5 125.6 139.5 126.5 140 127.5 143 128.7 145 128.3 146.5 129 148 127.8 150 127.3 151 124 152.5 122 153.5 118 153 115 151 113 149 110.5 146 108.5 145.3 105 143.5 104 142.5 100.7 141.5 103 141.5 106 140 107.7 137 106 135.5 104.5 136.5 102 133 101.5 131 102.2 129.5 104.8 127.5 104 125 105 123 106.5 122 108 120 110 117 110.7 114.5 111.8ZM144.7 130.7 148.3 130.9 148 133 146.5 133.6 145.2 132.2ZM172.7 124.4 174.5 126 175.8 127.5 178.5 127.7 177 129.2 176.5 130.5 175.2 131.6 174.6 131.2 174.8 129.8 173.8 129.3 174.6 128 174 126.5ZM172.7 130.5 174.3 131.5 173.5 133 172.7 133.8 171 135 169 136.6 166.5 136 167 135 168.5 134 171 132.5 172 131ZM192 24.4 194 23.8 196 23.4 197.5 23.1 196 22.2 194 21.1 197 20.3 203.2 18.7 208 19.2 212 19.7 219 20.3 224 21 226 20.5 230 20 235 20.5 240 21 245 22.2 250 22 255 22 262 22.2 265 21 266 18 268 20 270 21.5 274 23 275 20.5 278 21 279 23 276 24 273 25.5 270 27 266 29 265.2 31.2 268 33 272 34 277.7 35 278 37.5 280 38.7 281 35.5 283 33.5 283 30 282 27.6 287 28 290 29 290.5 31 294 31.2 295.5 29.7 298 33 300 35 303 38 304 38.5 300 39.8 294 39.8 290 43 295 41.5 295.8 41.1 295 44 299 44.5 300 44 297 45.5 294 46.3 293 45.3 290 46.5 290 48.3 288 49 286 49.5 286 50.5 284.5 51.5 284 53 284.5 54.7 283 55.5 281 57 279 58.5 278.7 60 280 63 279.6 64.8 278.3 64.1 277.3 62 277 60.7 275.5 60 274 59.6 271 59.7 271 61 270 60.9 267 60.3 265 60.7 262.7 62.4 262.5 65 262.3 68 263 70 264 71 265.5 71.8 268 71.4 269.5 69.5 270 68.8 272.9 68.5 272.5 70.5 271.7 71.5 271.8 74 274 74.2 276 74.7 276.7 75.1 276.4 79 278 80.5 280.5 80.6 282.5 81.3 284 80.7 284.5 79.5 286 78.8 288.5 77.6 288.2 79 290 78.5 292 79.5 296 79.4 298 79.4 299 81.5 302 83.2 305 84 308 85 309 86 310 88.2 310 90 312 91 316 92.5 319 92.9 321.5 93.7 324.8 95.5 325.2 97.5 324.8 99 323 101 321.5 103 321 105 320.8 107.7 320 110 319 112 317 113 315 113.7 312.2 115 311.4 118 310 121 308 122.5 306.6 123.7 305.1 124.9 303.5 124.8 301.5 124.4 302.5 126.3 303 128 300 128.8 297.7 128.8 297.8 130.5 295 131 296 132.5 295 134 292.5 136 294 137.5 292 140 291 141.5 291.5 142.5 293.5 145 291.5 145.3 289 144 285.5 142.5 284.5 140 285 137 286 134 286.5 132 286.5 128 288 125 288.5 123 288.4 120 289.5 116 289.8 110 289.7 108.4 288 107 285 105.5 283.7 103.5 283 102 281 98 278.8 96 278.7 94.5 280 93 279.5 92 280 90 281 88.5 282.5 86 282.7 83 282 82 280.5 81.1 279.5 82.7 278 81.8 274.3 80 272.5 77.3 271 76.5 268 75.5 266 74 263.5 74.3 260 73.1 256 71.2 254.5 69.5 254.8 68.1 254 67 251 64.4 249.5 62.5 247.5 60.5 245.5 58.5 246 60 247.5 62 249 64.5 250.5 67 250 67.1 248 65.4 246 63 245 60.5 243 57.5 241.5 56 239.4 55.4 237.5 52.3 236 49.6 235.6 47 236 43.8 235.3 41.6 237 41 235 40 232 38.5 230 35.5 227 33 224 31.5 220 30.2 216 30 213 29.2 210 30.5 208.5 30.7 210 28.7 207 31 204 32.5 200 34.3 197 35.2 195.5 35.6 199 34 202 32.5 203 31.3 198 31.3 195.5 29.5 194.5 28 195.3 27 199 25.6 199 25.2 194 25.4ZM267.9 43.3 270 43.4 272.5 43.5 275 43.3 275.4 43.5 275 42.5 273.5 41.3 271.5 41.6 270.5 42 269 42.7ZM272.2 48.3 273.2 48.2 273.8 46.5 273.8 45 275.2 44.2 273.5 44.1 272.4 45.5 272.2 47ZM275.5 44.1 277.5 44.1 280 44.7 278.3 45.5 277.6 47 277.2 46 276.1 46.1 276.7 45.2 275.5 44.5ZM276.6 48.3 278.5 48.5 281 47.2 279.5 47.4 277.5 48ZM280.2 46.7 282 46.7 283.8 46.5 283.6 45.8 281 46.1ZM263 39.6 263.7 39 262.5 37 261.2 36.2 260.7 36.6 262.2 38 262.5 39.4ZM243 29 245 29.1 248 28.7 251 28 249.5 27.2 247 27.7 244.5 28.1 243 28.4ZM235 24.7 237 25 240.5 24.5 242 23.7 240 23 238 23.3 236.5 23.8 235 24.1ZM248.5 31.5 251 31.2 254 30.7 253.8 30.5 251 30.8 248.7 31.1ZM257.5 33.6 258 33.5 258.2 32.2 257.5 32.1ZM287 12 292 9.5 300 8 315 7.5 330 6.5 340 8 348 8.5 342 11 340 14 341 16 338 18 338 19.5 334 21.5 328 22 325 24 322 24.5 320 25.5 318 28 316.5 30 316 30.2 314 29.2 311 28 309 26 307 24 306 22 308 20 305 18.5 304 17 301.5 14.5 298 13.7 292 13.5 288.5 12.5 287 11.7ZM279.5 16.3 283 17.3 286 18 289 19 292 19.6 293 20.7 296 22.5 298.1 23.1 297 24.5 295.2 25.5 295 27 293.5 28 292 27.7 288.5 27 286 25.7 283 25.7 282 25 286 23.5 287 22.5 285 21.5 282 20.5 279 20 275 20 272 19.5 270.5 18.5 273 17 276 16.4ZM241.5 19.2 242.2 17.3 246.5 16.6 250 16.8 254 16.4 255.5 17 258 18.5 259 19.8 258 20.8 254.5 21.1 252 21.4 247 21.6 243 21 241.4 20.4ZM235 18 236.5 18.8 240 18.7 243 18.2 244 17 242.5 15.7 239 15.5 235.5 15.8 234.5 17ZM264 9.5 268 8.6 272 8.2 280 7 290 7 298 7.6 296 8.5 290 9.7 286 10.5 285 11.5 282 12.5 280 13.7 272 13.7 270.5 13 272.5 12 268 11.7 265 10.8ZM263.5 14.4 268 13.5 275 13.5 280 14.5 280 15.4 275 15.5 269 15.4 266 15ZM238 13.5 242 12.7 244.5 13.5 242 14.2 239 14.2ZM242.5 14.7 245 13.7 249 13.2 254 13.7 254.5 14.7 251 15.2 247 15.5 243.5 15.4ZM258.5 14.7 260 13.4 263 13.3 266 14.2 267 15 264 15.4 261.5 15ZM264.5 16.2 269.5 15.9 270 17.2 267.5 18.1 265.5 17.8ZM259 18 259.5 16.2 262.5 16.1 263.5 17.5 261.5 18.5ZM261 21.2 263 20.2 264.5 20.7 263 21.6ZM280 26 277 27.8 273.5 26.3 275 24.2 278 24.5ZM300.6 42.4 304 42.4 306.4 43.4 307.3 42.5 306.5 41.5 304.5 40.5 304.5 38.4 302.7 39.4 301.5 41ZM236.7 41.6 234.5 40.8 231.7 39.2 233 39.3 235.2 40.3ZM275 68.1 277 67.1 279 66.8 281 67.5 283 68.7 284.4 69.3 285.8 69.8 285 70.1 282.3 70.2 282.8 69.4 281.5 68.4 278.2 67.8 277 68 275.1 68.2ZM285.6 71.6 287.2 70.1 290 70.3 291.6 71.4 291 71.7 289 72 287.2 71.9ZM281.7 71.6 283.7 71.8 283.2 72.1 281.8 71.9ZM292.8 71.5 294.4 71.6 294.3 72 292.9 72ZM298.7 141.2 302.3 141.5 301.5 142.2 299.5 142.2ZM322 144 324 144.2 324.2 144.8 322.5 144.5ZM196.3 168.8 200 168.7 200 170 196.5 170.1ZM195 35.1 196.5 35 196.7 35.4 195.2 35.6ZM192.2 36.4 193.8 35.9 194.2 36.2 192.8 36.7ZM190.7 37 192 36.5 192.3 36.7 191 37.2ZM187.5 37.6 188.5 37.5 188.4 37.8ZM183.2 38.1 184.2 38 184 38.3ZM181.5 38.2 182.5 38.1 182.2 38.4ZM177.2 38 178 38.1 177.6 38.3ZM172.5 37.1 173.6 37.1 173.2 37.4ZM205.2 32.7 206.7 32 207.8 32.1 207.2 32.7 206 33.4ZM188.2 26.5 190 26.2 191.3 26.7 189.5 26.9ZM193.2 29.7 194.5 29.5 194.7 30 193.5 30.2ZM281.7 64.9 282.3 65 282.4 65.8 281.9 65.9ZM281 63.3 282.1 63.3 282.1 63.5 281 63.5ZM282.4 63 283 63.5 282.8 64 282.5 63.6ZM283.2 64.5 283.8 64.9 283.9 65.3 283.5 65ZM284 66.2 284.8 66.8 285 67 284.2 66.5ZM286.3 68.8 287 68.7 286.9 69.1 286.4 69.1ZM68.7 138.7 70.5 139 70 139.7 69 139.5ZM204 69.8 205 70.3 204.8 71 204 70.7ZM202.7 68.8 204 69.1 203.5 69.5ZM200.2 67.8 200.7 67.8 200.5 68.1ZM201.7 68.4 202.3 68.5 202 68.8ZM-180 174.5 -168.9 174.7 -163.2 175.3 -146.5 175.3 -154 171.5 -153 171 -145.4 170.6 -157.4 168.1 -158.6 167.2 -154 167.4 -150 166.6 -146 166.1 -140.2 165.2 -134.5 164.4 -127.6 165.8 -123 163.2 -117.3 163.8 -112.8 164.6 -106 163.8 -101 162.4 -95 162.8 -90 163 -85 163.2 -80 162.9 -76 162.5 -73 161.5 -68 160.5 -66 158.5 -65 156.5 -62 154.8 -58.5 153.2 -57 153.5 -59 154.5 -61 156 -62 158 -61.5 160.5 -61 163 -63 165 -67 166.5 -70 167 -60 168 -50 168.6 -42 168.2 -35 167.5 -30 166 -25 164.5 -20 163 -15 162 -10 161.2 -5 160.8 0 161 5 160.5 10 160.3 15 160.2 20 160.2 25 160 30 159.5 33 158.8 36 159.3 40 158.6 45 157.8 50 156.6 55 156.2 58 156.8 62 157.2 66 157.6 69 158.3 70 160.5 71 159.8 73 159.5 76 159 80 157.8 85 156.8 90 156.5 95 156.2 100 156 105 156 110 156 115 156.2 120 156.3 125 156 130 156.1 135 156 138 156.3 142 156.9 147 158 152 158.6 157 159.8 161 160.4 166 160.8 170 161.4 169 162.5 166 164 163 165 162 167 163 168.5 160.5 169.8 165 170.5 170 171.5 175 172.5 180 174.3M180 174.5 191.1 174.7 196.8 175.3 213.5 175.3 206 171.5 207 171 214.6 170.6 202.6 168.1 201.4 167.2 206 167.4 210 166.6 214 166.1 219.8 165.2 225.5 164.4 232.4 165.8 237 163.2 242.7 163.8 247.2 164.6 254 163.8 259 162.4 265 162.8 270 163 275 163.2 280 162.9 284 162.5 287 161.5 292 160.5 294 158.5 295 156.5 298 154.8 301.5 153.2 303 153.5 301 154.5 299 156 298 158 298.5 160.5 299 163 297 165 293 166.5 290 167 300 168 310 168.6 318 168.2 325 167.5 330 166 335 164.5 340 163 345 162 350 161.2 355 160.8 360 161 365 160.5 370 160.3 375 160.2 380 160.2 385 160 390 159.5 393 158.8 396 159.3 400 158.6 405 157.8 410 156.6 415 156.2 418 156.8 422 157.2 426 157.6 429 158.3 430 160.5 431 159.8 433 159.5 436 159 440 157.8 445 156.8 450 156.5 455 156.2 460 156 465 156 470 156 475 156.2 480 156.3 485 156 490 156.1 495 156 498 156.3 502 156.9 507 158 512 158.6 517 159.8 521 160.4 526 160.8 530 161.4 529 162.5 526 164 523 165 522 167 523 168.5 520.5 169.8 525 170.5 530 171.5 535 172.5 540 174.3" fill="none" stroke="#000" stroke-width="0.75" stroke-linejoin="round" vector-effect="non-scaling-stroke"/>
</g>
</g>
<rect x="63.0" y="52.5" width="898.5" height="449.5" fill="none" stroke="#000" stroke-width="1.1"/>
<path d="M63.00 52.50v-15.0M63.00 502.00v15.0M87.96 52.50v-7.5M87.96 502.00v7.5M112.92 52.50v-7.5M112.92 502.00v7.5M137.88 52.50v-15.0M137.88 502.00v15.0M162.83 52.50v-7.5M162.83 502.00v7.5M187.79 52.50v-7.5M187.79 502.00v7.5M212.75 52.50v-15.0M212.75 502.00v15.0M237.71 52.50v-7.5M237.71 502.00v7.5M262.67 52.50v-7.5M262.67 502.00v7.5M287.62 52.50v-15.0M287.62 502.00v15.0M312.58 52.50v-7.5M312.58 502.00v7.5M337.54 52.50v-7.5M337.54 502.00v7.5M362.50 52.50v-15.0M362.50 502.00v15.0M387.46 52.50v-7.5M387.46 502.00v7.5M412.42 52.50v-7.5M412.42 502.00v7.5M437.37 52.50v-15.0M437.37 502.00v15.0M462.33 52.50v-7.5M462.33 502.00v7.5M487.29 52.50v-7.5M487.29 502.00v7.5M512.25 52.50v-15.0M512.25 502.00v15.0M537.21 52.50v-7.5M537.21 502.00v7.5M562.17 52.50v-7.5M562.17 502.00v7.5M587.12 52.50v-15.0M587.12 502.00v15.0M612.08 52.50v-7.5M612.08 502.00v7.5M637.04 52.50v-7.5M637.04 502.00v7.5M662.00 52.50v-15.0M662.00 502.00v15.0M686.96 52.50v-7.5M686.96 502.00v7.5M711.92 52.50v-7.5M711.92 502.00v7.5M736.88 52.50v-15.0M736.88 502.00v15.0M761.83 52.50v-7.5M761.83 502.00v7.5M786.79 52.50v-7.5M786.79 502.00v7.5M811.75 52.50v-15.0M811.75 502.00v15.0M836.71 52.50v-7.5M836.71 502.00v7.5M861.67 52.50v-7.5M861.67 502.00v7.5M886.62 52.50v-15.0M886.62 502.00v15.0M911.58 52.50v-7.5M911.58 502.00v7.5M936.54 52.50v-7.5M936.54 502.00v7.5M961.50 52.50v-15.0M961.50 502.00v15.0M63.00 502.00h-15.0M961.50 502.00h15.0M63.00 477.03h-7.5M961.50 477.03h7.5M63.00 452.06h-7.5M961.50 452.06h7.5M63.00 427.08h-15.0M961.50 427.08h15.0M63.00 402.11h-7.5M961.50 402.11h7.5M63.00 377.14h-7.5M961.50 377.14h7.5M63.00 352.17h-15.0M961.50 352.17h15.0M63.00 327.19h-7.5M961.50 327.19h7.5M63.00 302.22h-7.5M961.50 302.22h7.5M63.00 277.25h-15.0M961.50 277.25h15.0M63.00 252.28h-7.5M961.50 252.28h7.5M63.00 227.31h-7.5M961.50 227.31h7.5M63.00 202.33h-15.0M961.50 202.33h15.0M63.00 177.36h-7.5M961.50 177.36h7.5M63.00 152.39h-7.5M961.50 152.39h7.5M63.00 127.42h-15.0M961.50 127.42h15.0M63.00 102.44h-7.5M961.50 102.44h7.5M63.00 77.47h-7.5M961.50 77.47h7.5M63.00 52.50h-15.0M961.50 52.50h15.0" stroke="#000" stroke-width="1" fill="none"/>
<text transform="translate(35.2,59.80) scale(0.9,1)" text-anchor="end">90N</text><text transform="translate(35.2,134.72) scale(0.9,1)" text-anchor="end">60N</text><text transform="translate(35.2,209.63) scale(0.9,1)" text-anchor="end">30N</text><text transform="translate(35.2,284.55) scale(0.9,1)" text-anchor="end">0</text><text transform="translate(35.2,359.47) scale(0.9,1)" text-anchor="end">30S</text><text transform="translate(35.2,434.38) scale(0.9,1)" text-anchor="end">60S</text><text transform="translate(35.2,509.30) scale(0.9,1)" text-anchor="end">90S</text><text transform="translate(63.00,545.5) scale(0.92,1)" text-anchor="middle">0</text><text transform="translate(137.88,545.5) scale(0.92,1)" text-anchor="middle">30E</text><text transform="translate(212.75,545.5) scale(0.92,1)" text-anchor="middle">60E</text><text transform="translate(287.62,545.5) scale(0.92,1)" text-anchor="middle">90E</text><text transform="translate(362.50,545.5) scale(0.92,1)" text-anchor="middle">120E</text><text transform="translate(437.37,545.5) scale(0.92,1)" text-anchor="middle">150E</text><text transform="translate(512.25,545.5) scale(0.92,1)" text-anchor="middle">180</text><text transform="translate(587.12,545.5) scale(0.875,1)" text-anchor="middle">150W</text><text transform="translate(662.00,545.5) scale(0.875,1)" text-anchor="middle">120W</text><text transform="translate(736.88,545.5) scale(0.875,1)" text-anchor="middle">90W</text><text transform="translate(811.75,545.5) scale(0.875,1)" text-anchor="middle">60W</text><text transform="translate(886.62,545.5) scale(0.875,1)" text-anchor="middle">30W</text><text transform="translate(961.50,545.5) scale(0.92,1)" text-anchor="middle">0</text>
<rect x="71" y="563" width="885.8" height="39.8" fill="url(#cb)"/>
<text transform="translate(74.9,628.7) scale(0.92,1)" text-anchor="middle">-2.4</text>
<text transform="translate(953.1,628.7) scale(0.95,1)" text-anchor="middle">2.5</text>
<text transform="translate(512.3,25.2) scale(0.955,1)" text-anchor="middle" style="font-weight:bold;font-size:35px;stroke:#000;stroke-width:0.35px">cmocean_phase (256 colors)</text>
</svg>
</body></html>
